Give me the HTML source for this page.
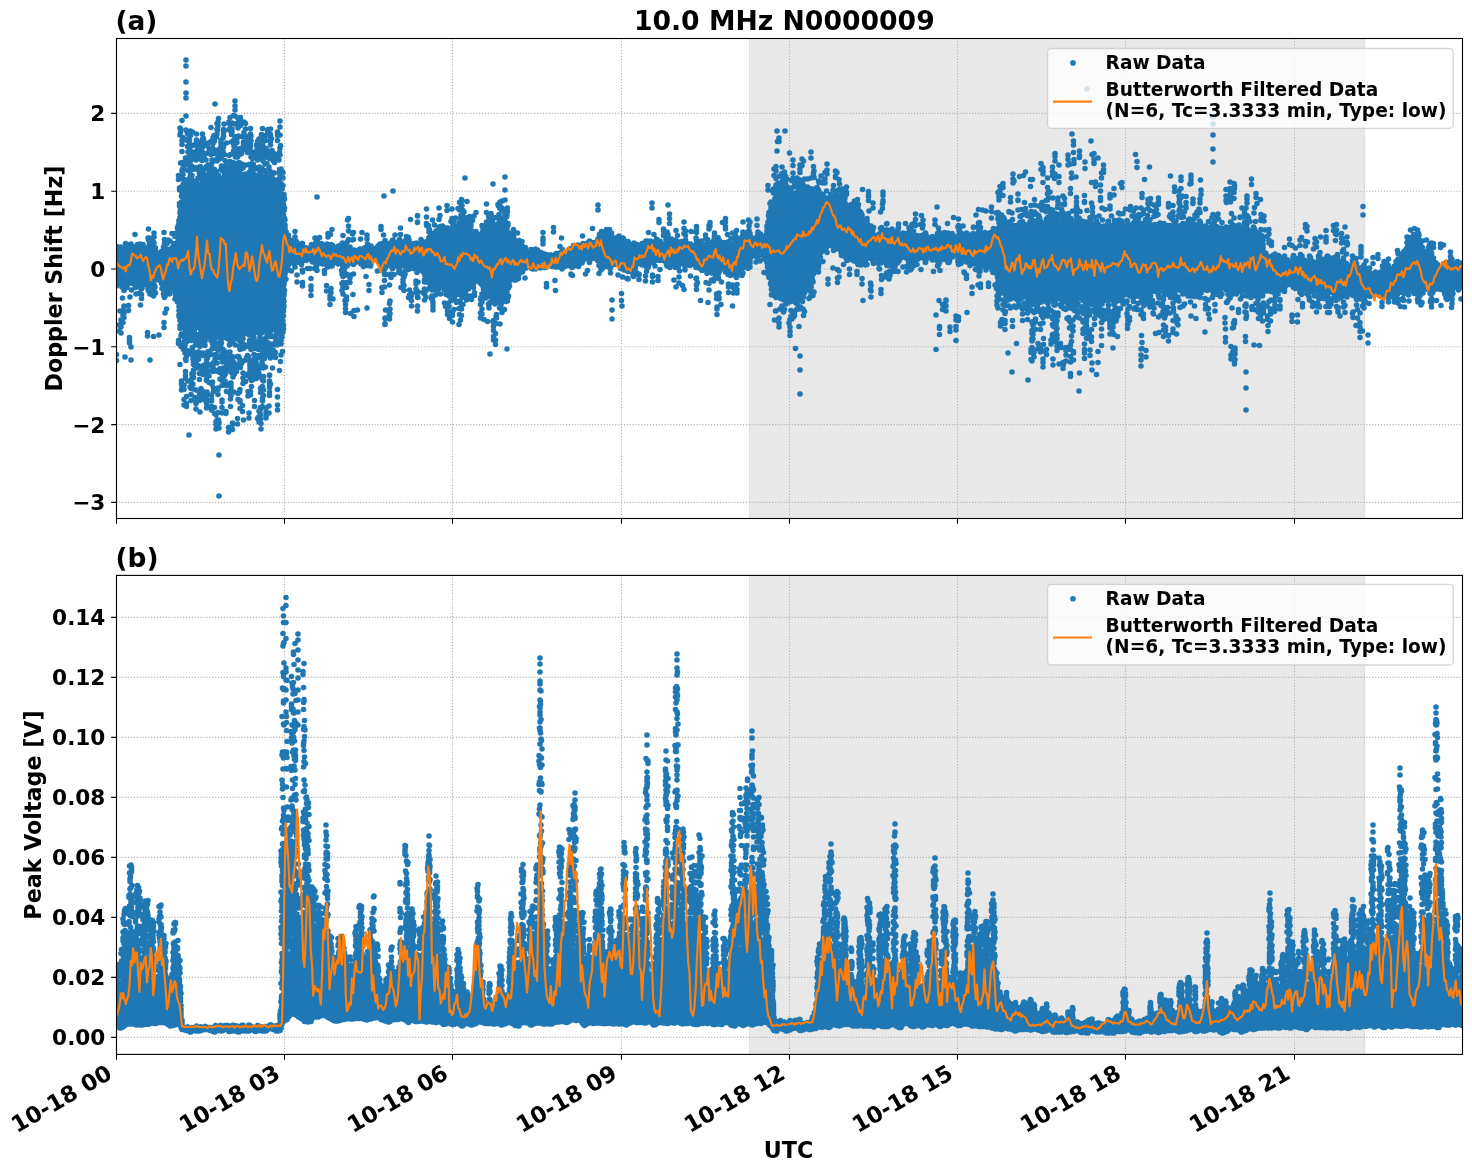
<!DOCTYPE html><html><head><meta charset="utf-8"><title>10.0 MHz N0000009</title><style>html,body{margin:0;padding:0;background:#fff;overflow:hidden}svg{display:block}</style></head><body><svg width="1472" height="1172" viewBox="0 0 1472 1172" style="font-family:'DejaVu Sans','Liberation Sans',sans-serif;font-weight:bold"><rect width="1472" height="1172" fill="#fff"/><defs><clipPath id="ca"><rect x="116.5" y="38.5" width="1346.0" height="480.0"/></clipPath><clipPath id="cb"><rect x="116.5" y="575.4" width="1346.0" height="479.0000000000001"/></clipPath></defs><rect x="749" y="38.5" width="616" height="480" fill="#e8e8e8"/><path d="M749.5 38.5V518.5M1364.5 38.5V518.5" stroke="#dfdfdf" stroke-width="1"/><path d="M284.5 38.5V518.5M452.5 38.5V518.5M621.5 38.5V518.5M789.5 38.5V518.5M957.5 38.5V518.5M1125.5 38.5V518.5M1294.5 38.5V518.5M116.5 113.42H1462.5M116.5 191.21H1462.5M116.5 269.01H1462.5M116.5 346.8H1462.5M116.5 424.6H1462.5M116.5 502.4H1462.5" stroke="#b0b0b0" stroke-width="1.1" stroke-dasharray="1.1 1.8" fill="none"/><g clip-path="url(#ca)"><path d="M116.5 244v44m1-43v43m1-43v42m1-41v39m0 38v12m1-90v44m1-44v44m1-43v45m0 14v20m1-78v45m0 12v15m1-77v50m0 12v15m1-72v45m1-50v48m1-48v48m1-47v46m0 14v10m0 22v10m1-98v38m0 50v10m1-103v43m0 51v13m1-102v38m1-38v39m1-41v46m1-46v45m1-46v46m1-47v46m1-46v45m1-45v46m1-47v48m1-48v49m1-48v48m0 1v8m1-57v48m1-48v42m1-38v40m1-40v40m1-41v41m1-42v48m0 37v8m1-102v60m0 34v8m1-102v60m1-59v59m1-60v61m1-61v62m1-67v61m1-61v8m0 1v58m1-52v37m0 1v13m1-51v36m1-31v31m1-28v28m1-31v33m1-34v35m1-36v37m1-41v54m1-61v61m0 21v9m1-92v63m1-62v61m0 8v8m1-76v55m1-56v8m0 1v48m1-47v48m1-49v49m1-49v49m1-51v46m1-49v49m1-49v54m1-65v8m0 2v60m1-59v61m1-79v80m1-85v89m1-135v9m0 20v12m0 2v106m0 16v8m1-220v11m0 64v122m0 16v9m1-222v11m0 63v131m0 48v8m1-260v19m0 21v14m0 2v8m0 9v130m0 49v13m1-257v11m0 21v24m0 1v138m0 49v13m1-232v170m0 1v24m0 28v9m1-236v14m0 8v151m0 1v25m1-194v8m0 9v8m0 6v171m0 6v12m0 14v13m1-230v169m0 2v14m0 7v13m0 18v8m1-272v17m0 25v165m0 57v8m1-272v18m0 1v10m0 15v158m1-210v8m0 1v35m0 1v158m0 1v9m1-213v214m0 34v14m1-262v8m0 5v201m0 3v14m0 12v19m1-218v169m0 3v21m0 2v12m1-201v153m0 1v9m0 2v23m0 1v12m1-201v153m0 1v9m0 8v16m0 1v8m0 20v10m1-267v8m0 4v12m0 17v153m0 1v14m0 4v19m0 26v9m1-267v24m0 14v154m0 21v19m0 26v9m1-267v24m0 14v152m0 22v12m1-223v22m0 4v165m0 61v11m1-258v17m0 4v16m0 2v166m0 42v12m1-260v19m0 2v16m0 4v165m0 37v16m1-265v25m0 7v156m0 1v13m0 48v8m1-263v31m0 2v160m0 2v20m0 17v13m1-245v30m0 5v176m0 21v12m0 13v13m1-266v8m0 8v9m0 4v183m0 20v8m0 15v13m1-252v10m0 14v172m0 3v13m0 2v11m0 14v19m1-236v169m0 7v15m0 8v10m0 7v20m1-269v9m0 13v8m0 2v166m0 10v35m0 6v20m1-269v14m0 8v177m0 22v11m1-227v10m0 7v9m0 1v169m1-183v12m0 2v172m0 48v10m1-267v9m0 2v9m0 2v12m0 3v173m0 16v11m0 7v9m0 4v10m0 1v8m1-278v22m0 2v8m0 6v174m0 15v12m0 7v17m1-264v23m0 16v168m0 1v9m0 11v12m0 7v14m1-261v12m0 2v8m0 12v10m0 1v169m0 5v9m0 4v8m1-240v10m0 24v183m0 2v12m1-243v18m0 29v172m0 1v11m0 66v8m1-309v22m0 14v10m0 7v169m0 79v13m1-315v16m0 15v16m0 10v166m0 2v12m0 33v11m1-258v22m0 12v175m0 18v9m1-237v23m0 3v8m0 4v172m0 18v10m1-241v25m0 4v9m0 4v174m0 1v12m0 3v10m1-249v30m0 6v10m0 7v183m0 2v22m1-261v13m0 2v14m0 8v175m0 8v17m0 2v12m1-250v11m0 3v15m0 1v180m0 10v15m0 2v13m1-215v177m0 9v28m0 2v9m1-225v177m0 10v26m0 4v8m1-210v162m0 16v18m1-202v170m0 13v15m1-254v16m0 40v158m0 2v15m0 8v15m0 11v8m0 1v11m1-280v15m0 29v182m0 8v20m0 6v20m1-274v10m0 28v15m0 1v163m0 10v21m0 6v20m1-274v9m0 3v9m0 19v178m0 9v25m0 42v11m1-305v28m0 5v163m0 1v22m0 9v24m1-275v8m0 22v25m0 2v10m0 1v151m0 2v22m0 12v19m1-274v8m0 22v25m0 2v10m0 6v163m0 21v15m1-230v13m0 3v179m0 22v11m1-258v14m0 4v11m0 2v12m0 6v177m1-226v14m0 17v12m0 1v176m0 52v8m1-276v9m0 31v175m0 9v8m0 3v14m0 18v8m1-280v13m0 33v27m0 2v139m0 1v13m0 1v8m0 4v14m1-198v158m0 1v13m0 17v8m0 35v10m1-252v8m0 3v178m0 25v10m1-258v11m0 1v15m0 7v8m0 3v178m0 20v15m1-259v11m0 2v12m0 20v164m0 7v8m0 20v14m1-213v13m0 2v148m0 19v8m1-228v10m0 2v9m0 17v8m0 2v152m0 19v8m1-227v21m0 17v164m0 17v8m0 28v9m1-259v16m0 15v167m0 2v9m0 6v15m0 20v9m1-259v12m0 16v170m0 1v13m0 4v26m0 8v8m1-258v20m0 3v176m0 1v12m0 7v24m0 7v8m1-258v21m0 1v190m0 7v18m1-226v10m0 1v190m0 7v13m1-221v10m0 2v188m0 2v19m1-208v14m0 1v173m0 1v29m1-203v157m0 6v10m0 7v22m1-240v22m0 11v161m0 7v9m0 10v20m1-243v25m0 14v10m0 1v146m0 27v20m0 35v9m1-287v13m0 1v11m0 3v8m0 2v9m0 3v159m0 18v15m0 35v10m1-287v24m0 4v177m0 22v15m0 26v20m1-288v21m0 7v178m0 43v9m0 10v21m1-294v31m0 3v183m0 2v18m0 44v13m1-288v25m0 11v161m0 2v33m0 5v8m0 1v9m0 1v9m1-264v12m0 1v14m0 14v154m0 10v11m0 19v9m0 10v10m1-252v15m0 9v159m0 2v19m1-222v10m0 3v11m0 18v158m0 2v21m0 50v14m1-292v10m0 8v13m0 11v179m0 57v14m1-293v10m0 14v9m0 15v164m0 1v9m1-222v11m0 14v8m0 24v154m0 41v10m1-240v12m0 4v8m0 1v164m0 3v8m0 1v10m0 19v19m1-266v15m0 2v12m0 8v169m0 41v10m1-257v15m0 7v8m0 8v168m1-190v15m0 8v161m0 16v11m1-210v15m0 18v150m1-181v14m0 17v152m0 1v12m1-195v8m0 21v162m0 7v9m1-207v8m0 19v168m0 4v8m1-229v13m0 10v8m0 17v164m1-174v167m0 2v9m1-203v19m0 5v167m0 1v11m1-203v14m0 10v11m0 1v154m0 1v12m1-179v12m0 2v145m0 1v19m1-179v8m0 7v9m0 1v153m1-153v126m0 1v15m1-142v126m0 5v10m1-140v8m0 3v8m0 2v73m0 2v8m1-73v10m0 2v45m1-51v42m1-39v39m1-39v34m1-30v28m1-26v25m1-25v26m1-29v29m1-30v34m1-29v29m1-33v29m1-25v25m1-24v23m1-21v19m1-20v24m1-24v25m1-26v26m0 13v8m1-46v21m1-18v17m1-16v17m1-17v17m1-17v16m1-15v14m1-17v17m1-18v20m0 21v8m1-50v22m0 20v8m1-49v21m1-21v21m1-28v35m1-35v36m1-36v37m1-34v34m1-37v28m1-29v30m1-23v23m1-24v25m1-24v24m1-23v23m1-22v20m0 4v8m1-33v24m1-25v27m1-38v8m0 3v27m1-38v8m0 3v27m1-26v25m0 23v10m1-58v25m0 18v15m1-59v26m0 18v11m1-54v25m1-25v25m1-24v18m1-16v17m1-18v21m1-22v22m1-22v22m1-23v22m1-23v24m1-25v37m0 3v14m1-54v38m0 1v16m1-55v38m0 1v16m1-54v36m0 18v10m1-63v34m0 18v20m1-71v25m0 11v10m0 5v11m1-68v30m1-23v22m1-22v21m0 7v12m1-40v20m0 8v12m1-39v20m1-18v19m1-19v19m1-19v18m1-17v16m1-17v17m1-17v16m1-16v16m1-17v19m1-19v19m1-19v20m1-20v21m1-22v23m1-24v23m1-22v21m1-34v8m0 1v26m1-35v8m0 1v26m1-26v25m1-23v24m1-24v24m1-24v24m1-23v22m1-20v15m1-16v15m1-14v14m1-16v17m1-18v19m1-20v23m1-24v25m1-43v8m0 10v25m1-43v8m0 10v25m0 18v9m1-53v32m0 12v10m1-56v38m1-39v39m1-38v37m1-37v31m1-28v24m0 42v9m1-75v25m0 41v13m1-79v26m0 39v14m1-81v29m0 38v14m1-83v32m0 2v8m1-42v33m1-33v32m1-31v30m1-28v27m1-25v24m1-28v35m1-36v37m1-38v38m1-37v37m1-36v28m1-24v24m0 5v20m1-53v29m0 2v23m1-54v49m1-53v43m1-44v38m1-37v37m1-37v37m1-36v35m0 17v14m1-64v29m0 21v14m1-59v23m0 25v12m1-61v28m1-29v30m1-29v28m1-29v28m0 18v8m1-54v28m0 18v12m1-58v28m0 19v12m1-58v28m1-28v29m1-33v34m1-29v30m1-35v36m1-33v36m0 10v9m1-56v44m0 3v15m1-62v44m0 3v15m1-63v45m1-48v48m1-61v11m0 1v48m1-59v10m0 1v56m1-55v55m1-60v61m0 2v18m1-81v61m0 2v18m1-81v61m0 3v17m1-82v62m1-63v63m1-63v63m1-62v62m1-61v61m1-79v8m0 10v60m1-78v8m0 3v66m1-66v65m1-65v67m1-67v68m1-67v67m1-66v71m0 4v8m1-106v10m0 13v71m1-94v10m0 13v71m0 4v16m1-91v67m0 8v15m1-89v66m0 6v10m1-83v78m1-88v10m0 1v69m0 14v9m1-103v86m0 6v10m1-101v84m0 6v10m1-101v76m0 1v10m1-87v77m0 3v8m1-80v68m1-68v72m1-75v70m1-77v78m0 26v8m1-128v9m0 6v78m0 8v12m1-114v15m0 1v85m0 2v11m0 2v9m1-119v95m0 4v9m1-96v84m1-84v86m1-86v87m1-86v80m1-80v76m0 1v9m1-87v76m1-77v77m1-76v74m1-74v74m0 5v8m1-87v74m1-75v8m0 8v60m1-60v51m0 9v8m1-88v8m0 12v52m1-53v54m1-53v53m1-50v51m1-51v52m1-54v55m0 6v15m0 4v9m1-90v58m0 4v14m0 1v13m1-97v82m1-81v74m1-72v73m1-79v80m1-80v80m1-89v8m0 1v79m1-88v9m0 1v78m0 2v9m1-98v8m0 1v77m0 2v10m1-99v99m1-99v93m1-92v91m0 15v10m0 6v8m1-126v89m0 13v24m1-118v82m0 8v14m0 1v13m1-119v83m0 7v12m0 13v9m1-125v84m1-86v83m1-103v10m0 2v92m1-104v11m0 1v98m1-110v12m0 1v97m1-106v8m0 4v93m1-92v89m1-100v97m1-95v95m1-95v11m0 1v83m1-97v13m0 1v83m1-97v13m0 2v82m1-82v72m0 1v9m1-72v59m1-58v56m1-60v53m1-54v55m1-55v55m1-50v50m1-46v46m1-42v35m1-36v37m1-38v43m1-43v38m1-32v32m1-32v30m1-30v30m1-29v29m1-28v27m1-27v24m1-24v24m1-20v19m1-18v17m1-20v21m1-22v23m1-23v24m1-23v23m1-23v23m1-24v24m1-24v24m1-24v24m1-23v22m1-22v21m1-20v21m1-20v20m1-20v20m1-34v10m0 5v18m1-33v10m0 6v18m1-18v18m1-18v18m0 11v8m1-37v17m0 12v8m1-36v12m0 16v8m1-35v12m1-13v13m1-13v15m1-15v16m1-15v15m1-44v9m0 20v14m1-16v17m1-17v17m1-17v17m1-18v18m1-18v18m1-18v18m1-25v26m1-25v26m1-24v24m1-23v23m1-22v20m1-19v19m1-20v19m1-20v20m1-21v21m1-21v21m1-21v22m1-22v23m1-26v26m1-27v26m1-25v24m1-23v22m1-19v17m1-22v26m1-26v26m1-26v25m1-24v21m1-23v23m1-24v24m1-23v22m1-22v20m1-20v19m1-20v19m1-20v20m1-21v25m1-25v26m1-26v25m1-24v20m1-20v21m1-21v21m1-20v19m1-20v22m1-25v26m1-26v26m1-30v35m1-38v38m1-39v46m1-46v43m1-35v35m1-35v29m1-32v30m1-32v37m1-42v42m1-41v40m1-36v38m1-43v43m1-43v43m1-39v39m1-39v38m1-32v30m1-31v31m1-31v31m1-31v30m1-32v33m1-33v32m1-32v36m1-35v36m1-35v34m1-34v35m1-35v36m1-36v36m1-34v34m1-32v33m1-34v35m1-35v35m1-34v33m1-30v30m1-30v30m1-32v32m1-32v32m1-32v32m1-31v35m1-34v26m1-26v23m1-23v23m1-22v20m1-22v25m1-26v26m1-26v26m1-25v25m1-27v23m1-24v30m1-30v39m1-39v34m1-34v31m1-31v29m1-29v25m1-25v25m1-24v24m1-24v24m1-25v23m1-25v26m1-26v25m1-25v25m0 12v9m1-66v8m0 13v25m0 11v9m1-66v8m0 14v24m1-24v23m1-22v22m1-35v10m0 5v21m1-36v11m0 4v21m1-36v10m0 1v28m1-32v33m1-37v38m1-38v38m1-38v39m1-52v9m0 11v32m1-52v8m0 12v32m1-32v32m1-32v30m1-29v28m1-28v27m1-27v32m1-42v9m0 1v32m1-31v30m1-29v33m1-33v33m1-34v28m1-28v27m1-26v25m0 18v8m1-65v10m0 3v32m1-45v11m0 1v34m1-45v45m1-34v33m1-30v24m1-23v25m1-25v25m1-25v25m1-25v25m1-24v23m1-22v23m1-24v26m1-44v9m0 2v34m0 6v15m1-67v11m0 1v34m0 6v16m1-67v9m0 2v33m0 7v11m1-45v28m1-31v32m1-32v33m1-33v34m1-33v32m1-29v29m1-39v8m0 1v30m1-39v8m0 1v33m1-42v42m1-38v38m1-54v10m0 6v38m1-55v11m0 7v35m1-53v10m0 11v33m1-34v35m1-40v40m1-44v45m1-45v52m1-52v51m1-46v43m1-43v44m0 12v9m1-66v46m1-45v44m0 11v10m1-62v35m1-29v27m1-27v25m1-29v28m1-53v8m0 17v27m1-52v15m0 10v33m1-33v35m1-36v37m1-37v37m1-40v40m1-35v36m1-36v35m1-35v33m1-33v33m1-43v46m1-45v46m0 8v8m1-61v46m0 2v13m1-60v44m0 8v8m1-58v41m1-41v37m1-38v41m1-47v47m1-47v47m1-47v47m1-47v39m1-32v27m1-30v28m1-33v42m1-47v47m1-53v52m1-41v40m1-37v32m1-28v22m1-22v22m1-20v20m1-23v24m1-28v28m1-29v34m1-34v29m1-28v27m1-26v25m1-25v23m1-19v19m1-19v25m1-28v28m1-36v40m1-41v46m1-59v8m0 1v59m1-69v69m1-78v85m1-86v92m1-92v97m1-110v8m0 5v97m1-110v8m0 6v96m1-110v16m0 1v95m1-135v9m0 10v117m1-136v9m0 4v123m1-164v8m0 37v8m0 1v8m0 2v94m1-158v8m0 45v10m0 2v98m0 22v8m1-193v8m0 45v107m0 25v8m1-148v120m0 20v8m1-158v130m0 3v9m1-142v124m0 9v10m1-144v24m0 1v107m0 2v10m1-144v15m0 1v8m0 1v111m1-136v15m0 1v120m1-132v15m0 1v116m1-121v8m0 1v106m1-115v8m0 1v110m0 14v10m1-142v118m0 11v23m1-152v118m0 18v11m1-146v117m1-128v8m0 1v118m1-127v13m0 3v109m0 9v10m1-143v12m0 2v113m0 5v10m1-142v8m0 6v114m0 3v10m1-142v11m0 2v111m1-124v124m0 2v9m1-134v124m0 2v8m1-148v12m0 9v114m1-135v12m0 9v119m1-124v124m1-146v10m0 14v123m1-127v11m0 1v110m0 8v11m1-136v117m1-114v110m1-110v17m0 1v89m1-107v107m1-107v107m1-106v97m0 1v9m1-106v95m0 1v17m1-113v111m1-128v9m0 15v95m0 1v8m1-134v16m0 14v90m0 6v8m1-129v11m0 8v88m1-90v89m1-90v89m1-89v89m1-88v88m1-86v86m1-83v77m1-76v72m1-66v56m1-56v54m1-75v8m0 12v55m1-75v8m0 11v53m1-81v8m0 20v53m1-81v8m0 20v53m1-52v49m1-53v54m1-55v55m1-54v55m1-54v58m1-69v9m0 3v58m1-60v59m1-83v11m0 12v60m1-83v10m0 10v62m1-63v63m0 24v9m1-106v8m0 8v57m0 24v9m1-107v9m0 9v61m1-60v61m1-70v71m1-71v70m1-70v71m1-67v68m1-69v72m1-72v9m0 2v62m1-60v60m1-60v59m1-59v58m1-59v59m1-59v59m1-58v59m1-63v64m1-64v64m1-64v65m1-66v68m0 3v8m1-80v70m0 2v8m1-75v65m1-60v59m1-56v51m1-51v51m1-50v55m1-49v49m1-48v49m1-50v50m1-51v51m1-77v8m0 18v45m1-72v14m0 14v43m1-70v8m0 25v36m1-35v36m0 21v12m1-69v39m1-39v41m1-40v41m1-40v39m1-31v27m1-27v26m1-27v28m1-29v34m1-35v40m1-45v39m1-40v40m0 8v9m0 5v9m1-98v15m0 13v38m1-74v20m0 26v26m1-33v35m1-36v39m0 4v8m1-51v40m0 3v8m1-51v40m1-40v40m0 1v12m1-51v36m0 3v12m1-50v36m0 2v11m1-53v41m1-41v41m1-41v47m1-44v33m0 1v10m1-44v32m0 2v9m1-41v36m1-46v43m1-43v43m1-43v9m0 1v32m1-29v28m1-31v28m1-29v28m1-28v28m1-27v27m1-27v28m1-29v29m1-28v36m1-42v42m1-43v47m1-49v49m1-50v50m1-43v42m1-42v41m1-41v39m1-51v11m0 6v33m1-34v33m1-33v33m1-32v27m1-26v25m1-26v25m1-26v27m1-27v26m1-27v31m1-32v33m1-33v34m1-34v33m1-30v29m1-27v23m1-23v23m1-23v25m1-26v27m1-28v28m1-27v27m1-26v26m1-27v27m1-30v30m1-31v37m1-42v42m1-42v41m1-36v35m1-32v22m1-25v25m0 46v10m1-82v31m1-31v32m0 36v10m1-77v30m1-29v32m1-33v33m1-33v34m1-34v34m0 60v9m1-102v32m0 61v8m1-101v27m1-28v28m1-27v27m1-25v24m1-22v20m0 58v8m0 2v8m1-96v29m0 49v8m0 2v8m1-108v42m1-43v44m0 48v8m1-100v43m1-38v38m1-37v36m1-34v34m1-33v28m1-28v31m1-32v33m0 6v10m1-49v33m1-33v33m1-32v31m1-30v35m1-35v35m1-36v31m1-32v34m1-34v35m1-34v34m1-32v32m1-35v35m1-45v47m1-48v58m1-58v58m0 4v8m1-70v53m0 9v8m1-64v46m0 10v8m1-59v30m1-30v30m1-31v41m1-41v42m1-41v41m1-40v34m1-35v37m0 13v8m1-59v39m1-64v8m0 17v42m1-67v9m0 14v46m1-47v48m1-49v49m1-44v43m1-42v43m0 24v8m1-96v10m0 12v46m0 2v12m0 1v16m1-120v12m0 8v11m0 5v84m1-121v13m0 8v15m0 1v76m1-118v10m0 17v91m1-118v9m0 20v83m0 22v10m1-115v8m0 1v73m0 23v10m1-115v8m0 2v71m0 5v8m1-126v9m0 32v73m0 3v9m1-92v92m0 11v8m1-110v92m1-86v80m1-81v81m1-82v82m1-82v81m1-106v9m0 14v83m1-79v79m1-124v8m0 44v70m1-122v8m0 43v71m1-71v73m1-78v70m1-70v71m1-71v80m1-82v77m0 1v9m1-88v77m0 1v10m1-88v82m1-82v81m1-82v81m1-80v79m0 2v10m1-104v9m0 5v78m1-93v11m0 5v77m0 2v10m1-105v11m0 6v77m0 7v8m1-92v92m1-94v94m1-101v100m1-104v102m0 34v9m1-145v97m0 22v14m0 2v10m1-132v84m0 12v9m0 1v14m0 2v9m1-131v83m0 14v8m0 18v8m1-135v87m0 11v10m0 22v10m1-140v95m1-96v95m1-101v10m0 2v88m1-99v100m0 28v12m1-140v92m0 1v9m0 31v8m1-140v90m0 42v8m1-193v15m0 24v12m0 5v87m0 4v11m0 27v8m1-192v14m0 24v12m0 8v84m0 3v13m0 37v12m1-204v11m0 46v81m0 4v13m0 37v12m1-147v81m0 4v8m1-111v10m0 3v86m1-99v10m0 2v89m0 2v11m1-133v17m0 2v9m0 2v8m0 1v94m1-133v17m0 13v103m1-128v9m0 13v89m1-94v22m0 1v71m0 36v9m1-138v21m0 1v73m0 30v13m1-181v14m0 29v98m0 3v19m0 4v9m1-171v10m0 28v99m0 3v19m1-178v12m0 8v10m0 30v8m0 2v86m0 3v19m0 2v12m1-192v12m0 9v8m0 39v88m0 4v33m1-144v9m0 3v94m0 5v32m1-147v14m0 2v89m0 10v29m0 4v9m1-157v13m0 3v88m1-77v78m1-82v89m0 33v8m1-142v102m0 32v9m1-142v102m1-101v95m0 56v11m1-176v12m0 8v87m1-83v85m1-92v93m1-94v100m1-100v99m0 5v8m1-111v98m0 5v9m1-138v9m0 21v91m0 33v12m0 19v8m1-163v95m0 7v14m0 7v8m0 8v9m1-225v8m0 70v88m0 19v9m1-194v8m0 72v87m0 18v9m1-194v8m0 72v94m1-113v18m0 1v94m1-118v119m1-114v13m0 1v105m1-170v10m0 56v85m1-151v11m0 56v84m1-83v82m0 6v8m1-90v79m0 3v9m1-94v83m0 2v10m0 12v9m1-117v84m0 2v11m0 10v10m1-117v86m0 20v10m0 12v8m1-135v114m1-114v88m0 1v26m1-115v115m1-114v82m0 1v13m0 11v12m1-125v81m0 1v8m0 3v9m0 11v10m1-123v91m0 2v9m0 10v16m1-142v8m0 1v97m0 27v10m1-143v105m1-149v9m0 44v9m0 3v85m1-150v9m0 54v101m1-141v9m0 26v101m1-97v92m1-92v83m0 2v13m1-95v80m0 1v14m1-94v79m0 2v14m1-94v77m0 2v16m1-94v76m0 7v17m1-100v81m0 2v16m1-161v12m0 49v82m0 2v15m1-160v12m0 49v79m1-79v79m0 7v10m1-100v82m0 6v13m1-102v82m0 2v17m1-101v83m0 1v27m1-138v8m0 19v83m0 14v14m1-105v76m0 15v14m1-107v79m0 8v10m0 1v8m1-106v83m0 4v10m0 1v8m1-106v84m0 1v21m1-111v111m1-111v105m1-104v85m0 2v17m1-104v84m0 7v12m1-104v85m0 5v11m1-101v84m0 5v10m1-136v8m0 30v84m1-123v10m0 29v86m1-124v9m0 29v87m1-86v86m1-83v74m1-74v74m1-78v78m0 11v18m1-107v77m0 10v25m1-107v73m0 15v14m1-102v74m0 17v11m1-122v8m0 11v75m1-76v77m1-78v82m1-84v85m1-86v86m1-90v85m1-86v85m0 4v10m1-89v74m1-75v76m1-77v78m1-78v78m1-108v9m0 21v83m1-113v9m0 7v9m0 5v82m0 5v12m1-112v8m0 6v85m0 5v9m1-98v84m0 5v9m1-104v90m1-89v87m1-107v8m0 13v87m1-109v9m0 12v91m1-113v9m0 20v73m0 1v10m1-113v10m0 18v74m1-75v75m0 1v9m1-85v71m0 4v11m1-100v9m0 5v70m0 6v11m1-88v71m0 9v8m1-88v72m1-91v9m0 11v70m1-97v11m0 1v9m0 8v67m1-96v11m0 14v70m1-95v10m0 15v78m1-73v67m1-68v68m1-71v70m0 2v19m1-84v85m1-93v80m0 8v11m0 3v9m1-110v75m0 12v11m0 5v12m1-114v72m0 11v13m0 6v12m1-136v8m0 15v72m0 9v11m1-115v8m0 14v76m1-98v8m0 3v8m0 3v77m1-88v9m0 2v77m1-89v10m0 3v71m1-85v82m0 35v8m1-150v8m0 17v89m0 7v8m0 13v8m1-150v9m0 25v85m1-119v8m0 26v83m1-83v75m0 20v12m1-100v65m0 23v13m1-133v11m0 22v64m0 4v8m1-109v25m0 5v68m1-117v8m0 11v26m0 3v70m1-71v74m1-75v75m1-86v9m0 2v75m1-86v9m0 3v73m1-95v13m0 9v71m1-93v10m0 9v75m1-76v80m1-81v81m1-81v81m1-125v13m0 31v81m1-125v12m0 34v79m1-101v8m0 12v76m1-96v8m0 17v76m1-85v8m0 2v76m1-69v69m1-89v8m0 12v69m1-91v10m0 6v74m1-91v10m0 2v10m0 1v64m1-97v8m0 2v8m0 4v9m0 1v65m1-106v17m0 2v8m0 4v76m1-75v75m1-64v64m1-71v68m1-68v68m0 11v8m1-87v68m0 10v9m1-87v69m1-68v68m1-67v66m1-67v66m1-68v69m1-70v72m1-82v88m1-87v86m1-82v81m1-73v71m1-72v72m1-71v72m1-72v73m1-72v73m1-73v73m1-73v72m1-64v56m1-57v57m1-58v59m1-61v62m0 43v9m1-150v11m0 20v71m1-71v71m1-71v71m1-110v18m0 22v75m1-115v18m0 16v80m0 52v9m1-174v17m0 16v80m0 51v10m1-140v76m0 22v11m0 15v16m1-180v13m0 29v72m0 23v12m0 17v9m0 2v8m1-185v13m0 30v72m0 22v11m0 17v20m1-184v8m0 34v72m0 50v20m1-142v72m0 51v9m1-132v72m1-73v72m0 12v8m1-92v70m1-69v70m1-69v68m1-67v67m1-68v67m1-82v9m0 1v72m1-81v8m0 1v77m0 13v10m0 14v10m1-150v11m0 15v78m0 12v11m1-127v11m0 9v84m0 13v9m1-106v13m0 1v70m1-82v8m0 4v71m1-70v71m1-69v69m0 4v8m1-87v74m1-74v73m1-73v72m1-106v9m0 26v67m1-101v8m0 30v76m1-75v77m1-77v78m1-81v73m0 1v18m1-108v11m0 4v70m0 6v16m1-107v11m0 10v65m0 8v17m1-90v65m0 8v9m1-81v64m0 3v14m1-72v53m0 10v9m1-65v42m1-41v42m1-41v41m0 21v8m1-94v10m0 23v31m1-65v9m0 2v8m0 15v32m0 14v10m1-78v8m0 13v34m0 13v9m1-57v35m0 13v9m1-63v41m1-41v43m0 8v9m1-61v62m1-62v46m0 1v14m1-60v45m1-44v43m1-44v43m1-42v42m1-41v37m1-36v36m1-37v37m1-38v39m1-39v40m1-40v39m1-37v33m1-32v30m1-29v28m1-26v26m1-26v27m1-32v33m1-34v35m0 24v11m1-71v37m1-37v37m1-36v37m1-35v35m1-33v33m1-35v38m1-41v42m1-43v44m1-43v44m1-43v42m0 5v8m1-54v36m1-33v33m1-69v11m0 6v9m0 10v37m1-72v10m0 7v8m0 11v37m1-72v9m0 26v39m1-39v43m1-48v48m1-48v40m0 2v8m1-49v38m0 6v9m1-49v35m0 6v9m1-50v39m1-62v15m0 10v29m1-54v14m0 10v31m1-31v33m1-39v41m0 1v12m1-57v44m0 1v13m1-59v51m1-51v51m1-45v40m1-39v38m1-38v44m1-44v43m1-65v9m0 11v46m1-66v9m0 10v49m1-68v9m0 10v49m1-43v44m1-49v40m0 3v11m1-53v39m0 2v12m1-53v38m0 3v10m1-46v35m1-73v11m0 28v36m1-43v47m1-74v8m0 20v47m1-75v9m0 16v50m0 1v9m1-85v8m0 16v50m0 3v9m1-61v49m0 3v13m1-58v41m1-41v40m1-69v14m0 14v41m1-64v9m0 11v43m1-43v42m0 2v9m1-53v42m0 2v9m1-49v38m1-37v38m1-37v37m1-36v31m1-30v29m1-28v31m1-37v38m1-43v44m0 12v10m1-61v39m1-41v40m1-41v45m1-44v45m1-40v40m0 1v9m1-49v38m1-56v14m0 7v34m0 20v9m1-85v15m0 7v35m0 20v8m1-85v15m0 7v35m1-37v37m1-38v47m1-50v50m1-51v46m1-39v37m1-36v29m1-30v32m1-32v32m1-32v32m1-27v27m1-26v22m1-21v21m1-24v25m1-25v26m1-26v25m1-43v9m0 10v23m1-42v9m0 11v21m1-23v28m1-28v28m1-34v35m0 1v8m1-44v35m0 1v8m1-48v10m0 1v28m1-28v25m1-26v26m1-37v9m0 1v28m1-39v9m0 1v36m1-47v47m1-35v35m1-32v24m1-25v27m1-33v34m1-35v40m1-40v40m1-44v44m1-46v43m1-44v48m1-48v39m0 1v8m1-47v37m0 2v11m1-48v34m1-42v42m1-43v44m1-46v54m1-55v47m1-48v48m1-60v59m1-59v62m1-61v61m1-62v57m1-51v52m1-55v54m1-59v62m1-63v64m1-63v63m1-63v62m1-57v56m0 1v9m1-76v66m0 1v9m1-76v65m0 2v9m1-72v60m1-54v54m1-53v58m1-53v52m1-50v49m1-46v45m1-45v43m1-43v37m1-36v41m1-48v48m1-49v49m1-50v55m0 1v12m1-68v68m1-68v55m0 1v12m1-67v8m0 3v42m1-39v38m1-34v31m1-31v30m1-29v30m1-29v29m1-49v8m0 13v28m1-49v8m0 16v26m1-26v25m1-25v27m1-30v33m1-35v38m1-39v41m1-41v42m1-42v34m1-34v34m1-44v45m1-45v51m1-46v55m1-54v53m1-51v43m1-38v27m1-26v24m1-29v30m1-30v33m1-32v32m1-31v31m1-31v30m1-30v28m1-28v28" stroke="#1f77b4" stroke-width="1.2" fill="none"/><path d="M116 250h0m0 4h0m0.5 0.5h0m0 1h0m-0.5 0h0m0.5 0.5h0m0 0.5h0m-0.5 0h0m0.5 0.5h0m0 0.5h0m-0.5 0h0m0 1.5h0m0.5 1h0m0 0.5h0m-0.5 0.5h0m0 0h0m0.5 1.5h0m0 1h0m0 0h0m0 0.5h0m-0.5 0h0m0.5 0.5h0m0 1h0m0 1.5h0m-0.5 0h0m0.5 0.5h0m-0.5 0h0m0.5 1h0m-0.5 1.5h0m0.5 1h0m-0.5 0h0m0 0.5h0m0 0.5h0m0 0.5h0m0.5 0.5h0m0 0h0m-0.5 4h0m0.5 0h0m-0.5 0.5h0m0.5 2.5h0m-0.5 1h0m0 0.5h0m0 0.5h0m0 3.5h0m0.5 0.5h0m0.5-39.5h0m0.5 4h0m-1 0.5h0m0 1h0m0 2h0m0 1h0m0.5 0h0m-0.5 1h0m0.5 0.5h0m0 0.5h0m-0.5 0h0m0 0h0m0.5 0h0m0 1h0m0 0.5h0m-0.5 0.5h0m0.5 0.5h0m-0.5 0.5h0m0.5 0.5h0m0 0.5h0m0 0.5h0m-0.5 0h0m1 0.5h0m-0.5 0h0m0 0.5h0m0.5 0h0m0 0h0m0 0.5h0m0 0.5h0m-0.5 0h0m0 1h0m-0.5 0h0m0.5 0h0m0 0.5h0m0.5 0h0m-0.5 0h0m0 0.5h0m0.5 0.5h0m-0.5 0h0m0 0h0m0 0.5h0m0.5 0h0m-0.5 0h0m0 0.5h0m0.5 0h0m0 0.5h0m-0.5 0h0m0.5 0h0m-0.5 0.5h0m0.5 0h0m-0.5 0.5h0m-0.5 0h0m1 0h0m0 0.5h0m-0.5 1h0m0.5 0h0m-0.5 1h0m0 0h0m0.5 0h0m0 0h0m0 1h0m-1 0h0m0 0h0m0.5 0h0m0.5 0.5h0m0 0h0m-0.5 0h0m0.5 1h0m-1 0.5h0m1 1h0m0 0.5h0m0 0h0m-0.5 0.5h0m0 2h0m-0.5 1h0m0 0.5h0m1 0h0m0 3h0m-0.5 1h0m-0.5 1h0m0 0.5h0m0 69.5h0m0 6h0m1.5-109h0m0 3.5h0m0 0.5h0m0 1h0m0 1h0m0 2h0m0.5 0.5h0m-0.5 0h0m0.5 0h0m-1 0h0m0 0h0m0.5 1h0m0 0.5h0m0 0.5h0m0 0h0m-0.5 0h0m0 0.5h0m0.5 0h0m0.5 0.5h0m-1 0h0m1 0.5h0m-0.5 0h0m0.5 0h0m0 0.5h0m-0.5 0h0m0.5 0.5h0m-0.5 0h0m0 0.5h0m0 0h0m0.5 0.5h0m-0.5 0h0m0 0.5h0m-0.5 0h0m0 0.5h0m0 0h0m0.5 0h0m0.5 0.5h0m-0.5 0h0m0 0h0m0 0h0m0 0.5h0m0 0h0m0.5 0h0m-0.5 0h0m0.5 0.5h0m-0.5 0.5h0m-0.5 0h0m0.5 0.5h0m0 0h0m-0.5 1h0m0.5 0h0m0 0h0m0 0h0m0.5 0.5h0m0 0h0m0 0h0m-0.5 0h0m0 0h0m0 0.5h0m0 0h0m-0.5 0.5h0m0 0.5h0m0.5 0h0m0 0h0m-0.5 0h0m0 0.5h0m0 0h0m0 1.5h0m0.5 0h0m-0.5 0.5h0m0.5 1.5h0m0.5 1.5h0m0 0h0m0 0h0m-1 1.5h0m0.5 4.5h0m0.5-31h0m0 1.5h0m0 7h0m0 1h0m0 2h0m0 1h0m0.5 0h0m-0.5 0.5h0m0.5 0.5h0m-0.5 1h0m0 0.5h0m0.5 0.5h0m-0.5 0h0m0 0h0m0 0.5h0m0 0.5h0m0 0.5h0m0.5 0h0m-0.5 2.5h0m0 0.5h0m0 4.5h0m0.5 1h0m0 47h0m0 6h0m1.5-82.5h0m0 34.5h0m-0.5 28h0m1-64h0m0 36.5h0m0 36.5h0m0 7h0m0 6h0m1-46h0m0.5 11h0m0.5-48.5h0m0 61h0m0 5h0m0 7h0m1.5-74h0m0 0h0m0 39.5h0m-0.5 2.5h0m0 15.5h0m0 0.5h0m0 6.5h0m0 4.5h0m1.5-74h0m-0.5 113.5h0m2-112.5h0m0.5 3h0m0 1.5h0m0 34.5h0m-0.5 4h0m1-38h0m0 34h0m1-34h0m-0.5 56h0m0 5h0m1 27h0m0 2.5h0m0 3h0m0.5-46h0m1-53h0m0 4.5h0m-0.5 1h0m0.5 33.5h0m0 0h0m0 64h0m0 13h0m0.5-70h0m3-41h0m-0.5 35h0m1-49.5h0m0 12h0m-0.5 38h0m1 3h0m0-40h0m0.5 38.5h0m0 8h0m1.5-49.5h0m1 41.5h0m0-40.5h0m0.5 41h0m-0.5 7h0m1.5-49.5h0m0.5 44h0m0 17h0m1.5-22h0m-0.5 1h0m0.5 4h0m-0.5 1h0m0 5.5h0m0 4h0m1.5-54h0m1.5 5h0m0-0.5h0m1 35.5h0m3-55.5h0m-0.5 9h0m0 9.5h0m0 41.5h0m-0.5 43.5h0m0 3.5h0m1.5-98h0m-0.5 2h0m1 2.5h0m-0.5 3.5h0m0.5 40h0m-0.5 1h0m0 0h0m-0.5 3.5h0m0 0.5h0m1.5-46.5h0m0 1.5h0m0.5 0.5h0m-1 43.5h0m0.5 4h0m0 66h0m2.5-122h0m0 0.5h0m-0.5 1h0m0 0h0m-0.5 55h0m1.5-53h0m0.5 0.5h0m-1 4h0m1 0.5h0m0 1.5h0m-0.5 34.5h0m-0.5 1h0m0.5 1h0m0 0h0m0.5 2h0m0 2h0m-1 2h0m1 5.5h0m0.5-63h0m0 4h0m0 6h0m-0.5 1.5h0m0.5 3h0m0.5 3h0m-0.5 30.5h0m-0.5 0.5h0m0.5 8h0m-0.5 47h0m2-88.5h0m-1 3h0m0 34.5h0m0.5 1.5h0m1-35h0m0 3h0m-0.5 38h0m1-37h0m0.5 0h0m0 23.5h0m0 0h0m0.5-23h0m1.5 78.5h0m1.5-78.5h0m-1 23.5h0m0.5 0.5h0m1.5-29h0m-1 3h0m0.5 0h0m-0.5 26h0m1 2.5h0m0 0.5h0m1 1h0m-0.5 4h0m1-37h0m0.5 42h0m0.5-61h0m0.5 7h0m0 3.5h0m0 3.5h0m-0.5 0h0m0 0.5h0m-0.5 0h0m0.5 1h0m0 1h0m-0.5 0.5h0m0.5 0.5h0m0 34.5h0m0 0h0m0 1h0m-0.5 4h0m0.5 0.5h0m0 1h0m0 5h0m0.5 1.5h0m-0.5 25h0m0 5h0m0.5-81.5h0m0.5 0h0m-0.5 2h0m0.5 0.5h0m-0.5 1h0m0.5 41.5h0m-0.5 0.5h0m0.5 5h0m0 16.5h0m1-72h0m-0.5 7.5h0m0.5 43h0m-0.5 0.5h0m1.5-48.5h0m-0.5 48.5h0m0 17h0m1.5-69h0m1.5 54h0m0.5-53h0m0 8h0m0 41h0m1.5-1h0m0.5-55.5h0m0.5 14h0m0.5-1h0m0.5 1.5h0m0 41.5h0m1-56h0m-0.5 10h0m1-7h0m0 53.5h0m0 2.5h0m0.5 2.5h0m-0.5 4h0m0.5-8.5h0m0.5 0.5h0m0.5 7.5h0m1-71h0m0 0.5h0m1-3h0m0 1h0m0 3h0m-0.5 2.5h0m0.5 1h0m-1 1.5h0m0 1.5h0m1 3.5h0m-0.5 2.5h0m0.5 0.5h0m0 0.5h0m-0.5 59h0m-0.5 0.5h0m1 38.5h0m0 3h0m0-168h0m0 4h0m1 8.5h0m0 2h0m0 16h0m0 14h0m-0.5 0.5h0m0 2.5h0m-0.5 9h0m0.5 7.5h0m-0.5 3h0m1 60.5h0m-0.5 3.5h0m0 4h0m0 4.5h0m0 1h0m0 0.5h0m1-188.5h0m0 7h0m0.5 28h0m-1 40.5h0m0.5 2h0m0.5 2.5h0m0 2h0m0 0h0m-0.5 3h0m0 0h0m0 4.5h0m0 0.5h0m0.5 1.5h0m-1 3h0m0 81.5h0m0.5 3h0m0.5 2h0m-0.5 1h0m0.5 0.5h0m-0.5 2h0m0 8h0m0 5h0m0 3h0m0 36h0m0.5-235.5h0m0 3.5h0m0.5 54.5h0m0.5 9.5h0m0 5.5h0m-1 1h0m0.5 12h0m0 1h0m0.5 0h0m-1 0.5h0m0.5 0.5h0m0 104.5h0m0.5 3.5h0m0 9h0m0 0.5h0m-0.5 1.5h0m0 10.5h0m0.5 34.5h0m0 2.5h0m0 0.5h0m0 6h0m0.5-269.5h0m0 20h0m0 4h0m0 7h0m0.5 11h0m0 6.5h0m0 2h0m-0.5 0h0m-0.5 5.5h0m1 2h0m0 9h0m-0.5 7h0m0 0.5h0m0 1.5h0m0 5.5h0m-0.5 125.5h0m0.5 7.5h0m-0.5 10.5h0m0.5 40.5h0m0 3h0m1-251.5h0m-0.5 26.5h0m0.5 10.5h0m0.5 9h0m-0.5 4h0m-0.5 8.5h0m0.5 1h0m0 130h0m0 0.5h0m0 7.5h0m-0.5 50.5h0m0 3.5h0m1.5-226.5h0m-0.5 6h0m1 14h0m-0.5 6.5h0m-0.5 0.5h0m0.5 4.5h0m0 1.5h0m-0.5 1h0m0.5 0.5h0m0 1.5h0m0.5 0.5h0m-1 1.5h0m1 0h0m-0.5 0.5h0m0 0h0m0.5 0h0m-0.5 141h0m0 7.5h0m-0.5 0h0m0.5 35.5h0m0 4.5h0m0 10h0m0 5.5h0m1.5-247h0m0 7h0m0 0h0m0 15h0m-1 4h0m1 143h0m-0.5 5.5h0m-0.5 4.5h0m0.5 2.5h0m0 6h0m-0.5 0h0m0.5 7.5h0m1-293h0m0 6h0m0 16h0m0 11h0m0 5h0m0 18h0m0 14h0m0 10h0m-0.5 23.5h0m0.5 16.5h0m0.5 1.5h0m0 1.5h0m-0.5 5.5h0m0 0.5h0m-0.5 137.5h0m0.5 0h0m-0.5 6.5h0m0 4.5h0m0 2h0m0.5 0.5h0m0.5 2h0m0 10.5h0m0 4h0m-1 2.5h0m0.5 1.5h0m-0.5 11h0m0 4h0m0 3h0m1.5-247h0m0 52.5h0m0.5 10.5h0m-0.5 136h0m-0.5 1.5h0m0.5 1.5h0m-0.5 63h0m0 7h0m0 3h0m1-273h0m0 5.5h0m0 1.5h0m0 6h0m0.5 5.5h0m0 5.5h0m0 0.5h0m0 4.5h0m0 1.5h0m0 6.5h0m-0.5 14.5h0m1 2h0m-0.5 0h0m0 3.5h0m-0.5 139h0m0.5 5h0m-0.5 16h0m0.5 30.5h0m1-228.5h0m0.5 31h0m-1 9h0m0.5 242.5h0m0.5-295h0m0 3.5h0m1 3h0m-1 2h0m0 0.5h0m0.5 2h0m0.5 2h0m0 1.5h0m-0.5 2.5h0m0.5 4h0m-0.5 2h0m0 5h0m0 3.5h0m0 6h0m0 152h0m0 7.5h0m0.5 16h0m-0.5 0.5h0m0 28h0m0 5.5h0m0.5-256h0m0 4.5h0m0.5 23.5h0m0.5 7h0m-1 9.5h0m1 4h0m-0.5 0.5h0m0 159h0m0 1.5h0m0.5 0h0m-0.5 48h0m0 6h0m0 6h0m1.5-255h0m-0.5 13h0m0 11h0m0 6h0m-0.5 155h0m0 3.5h0m0.5 20.5h0m0 19h0m0 1h0m0 4h0m0 5h0m0.5-251.5h0m0.5 202.5h0m-0.5 13h0m0 3.5h0m0.5 0.5h0m0 4h0m0 3.5h0m0.5 11h0m0 3h0m0 4.5h0m-0.5 6.5h0m0 5h0m0.5-237h0m0.5 5.5h0m0 10h0m0.5 1.5h0m0 161h0m-0.5 8.5h0m0 1.5h0m0 19h0m-0.5 3h0m0.5 0h0m0.5 1.5h0m-1 1h0m1.5-212.5h0m0.5 6h0m-1 23h0m0.5 147.5h0m-0.5 8h0m1 8.5h0m-0.5 8h0m0 44.5h0m0.5-253.5h0m0.5 13h0m-0.5 0.5h0m0.5 2.5h0m0 7.5h0m0 0.5h0m0 1h0m0 156.5h0m0.5 32h0m0 3.5h0m0 4h0m0 3h0m-0.5 22h0m0 10.5h0m0 3h0m0 5.5h0m0.5-275h0m0 6h0m0 1.5h0m1 1h0m0 5.5h0m0 6h0m0 0h0m-0.5 1.5h0m-0.5 25.5h0m0 2h0m1 142h0m-1 9.5h0m0.5 8.5h0m0 15.5h0m1-216.5h0m0.5 5.5h0m-0.5 0.5h0m0 0.5h0m0.5 3h0m0 7h0m-0.5 19.5h0m0.5 0.5h0m0 6h0m0 167.5h0m-0.5 0h0m-0.5 1.5h0m1 6h0m-0.5 6h0m1-219.5h0m0.5 12.5h0m-0.5 12h0m0 7h0m-0.5 0.5h0m0.5 147h0m0 14h0m0.5 28h0m0 1h0m0 5.5h0m0 6h0m0 14h0m0 3h0m0 4h0m0.5-233.5h0m0.5 3.5h0m-1 3h0m0.5 2.5h0m-0.5 0.5h0m0 2h0m0.5 145.5h0m-0.5 3.5h0m1 0.5h0m-0.5 0.5h0m0.5 0.5h0m0 5h0m-1 4.5h0m0.5 8h0m0 51.5h0m0 14h0m0.5-245.5h0m0 11h0m0 9h0m0.5 145h0m0 2.5h0m-0.5 8.5h0m1 2.5h0m-0.5 10.5h0m0 33h0m0 4h0m1.5-258.5h0m0 5.5h0m-1 5h0m0.5 1.5h0m0.5 1h0m-1 3h0m0.5 1.5h0m0.5 2h0m-0.5 7h0m0 10.5h0m0.5 6h0m0 0.5h0m0 4.5h0m0 155h0m0 16h0m0 2.5h0m0 35.5h0m0.5-253h0m0.5 1h0m-0.5 3h0m0 4.5h0m0.5 7.5h0m-1 19h0m1 0.5h0m-0.5 3h0m0.5 0h0m-0.5 8h0m0 0h0m0 138h0m0.5 32.5h0m-0.5 10.5h0m0 4h0m0 5h0m1-217h0m0.5 11.5h0m-0.5 5h0m0.5 3.5h0m-0.5 163h0m0 13h0m0.5 17.5h0m-0.5 21.5h0m0 4h0m0 3h0m1.5-245.5h0m-0.5 24h0m0 0.5h0m0 147.5h0m0.5 11h0m-0.5 3h0m0 1.5h0m0 4h0m-0.5 8h0m2-200h0m-0.5 6.5h0m0.5 6.5h0m-0.5 12.5h0m-0.5 145h0m0 30h0m1 6h0m0 43h0m0 5h0m0.5-262.5h0m0 211h0m-0.5 6h0m0 5.5h0m0 7h0m0 0.5h0m0 4h0m0 1h0m0.5 11.5h0m-0.5 4h0m0 4h0m0.5 1.5h0m0 4h0m1-262.5h0m0.5 31.5h0m-0.5 177h0m-0.5 6.5h0m1.5-210h0m-0.5 4.5h0m0.5 0.5h0m-0.5 12h0m0.5 5h0m0.5 168h0m-0.5 33h0m0 5h0m0 6.5h0m1-214.5h0m0 170.5h0m-0.5 26.5h0m1.5-237.5h0m0 14h0m0 13h0m0 10.5h0m0.5 10.5h0m-0.5 165h0m0 14h0m0.5 40.5h0m0 4.5h0m0 1.5h0m0 5.5h0m0 3.5h0m0.5-250h0m-0.5 15h0m1 169h0m-0.5 5h0m0.5 33h0m-0.5 2h0m0 0.5h0m1-246.5h0m0 5.5h0m0 5h0m0 1.5h0m-0.5 12h0m1 7h0m-0.5 5h0m-0.5 2h0m0 3h0m0 1h0m1 0h0m0 157.5h0m-0.5 25.5h0m0 3.5h0m0 2h0m0 3h0m0.5 16.5h0m0 3.5h0m0.5-256h0m0 2.5h0m0 3h0m0 10h0m-0.5 2.5h0m1 6.5h0m-0.5 14h0m0.5 171h0m0.5-241h0m-0.5 37h0m0 28.5h0m0.5 168.5h0m0 4.5h0m0.5 12h0m0 1.5h0m-0.5 3h0m-0.5 48.5h0m0 6h0m2-276.5h0m-0.5 34.5h0m0 1h0m-0.5 7h0m0.5 176h0m0 15h0m0 44.5h0m0 6.5h0m0 3h0m0 4.5h0m1-305.5h0m0 6h0m0 4.5h0m0 27h0m0.5 14h0m-0.5 0.5h0m-0.5 0.5h0m0.5 2.5h0m-0.5 170h0m0.5 14.5h0m0.5 57h0m1-301.5h0m-0.5 3.5h0m-0.5 2h0m0.5 2h0m-0.5 4h0m0.5 20h0m0 0.5h0m0 5h0m0 1h0m0.5 18.5h0m0 162h0m0 6h0m-0.5 7.5h0m-0.5 21h0m0.5 16.5h0m0 1.5h0m0 5h0m0 18h0m0.5 7.5h0m0.5-270.5h0m0 5h0m0.5 4.5h0m-0.5 263.5h0m0 0.5h0m0 5h0m0 27h0m0 41h0m0.5-340.5h0m1 0h0m0 26h0m0 1h0m0 161.5h0m0 2h0m-0.5 10h0m-0.5 1.5h0m0.5 11h0m0 4h0m0 6.5h0m1-238.5h0m0 2h0m0 3h0m0 3h0m0 8.5h0m0.5 9h0m-0.5 3.5h0m-0.5 9h0m1 4.5h0m0 155h0m-0.5 0.5h0m0 2h0m0 1h0m0 27.5h0m1-221.5h0m0.5 4h0m-0.5 2.5h0m0.5 16.5h0m-0.5 167.5h0m-0.5 5h0m0.5 16h0m0.5 16.5h0m-0.5 5h0m0 5h0m0 14.5h0m0 2h0m0 5.5h0m0 5.5h0m1.5-283.5h0m0 3h0m0 3.5h0m-0.5 2h0m0 6.5h0m0.5 2.5h0m-1 3h0m0.5 1.5h0m-0.5 197.5h0m0.5 4.5h0m0 3h0m0.5 5h0m-1 0.5h0m1 6h0m0 8h0m0.5-252h0m0 7h0m0.5 35h0m-1 0.5h0m1 6.5h0m-1 4.5h0m1 4.5h0m0 0h0m-0.5 168.5h0m0 10h0m-0.5 8h0m0.5 7.5h0m0.5-221.5h0m0.5 6h0m-0.5 10.5h0m0.5 165h0m-0.5 17h0m0.5 19h0m0 2.5h0m0 6.5h0m1.5-238h0m-0.5 22h0m0 6.5h0m-0.5 4.5h0m0.5 4h0m0.5 172.5h0m-0.5 4.5h0m0.5 5h0m0 4h0m0 5.5h0m0 12.5h0m0 1.5h0m0 6h0m-0.5 20h0m0 2h0m1-244.5h0m-0.5 11h0m1 148h0m-1 1h0m0.5 0h0m0 3h0m-0.5 0h0m0.5 0.5h0m0 6h0m0 23.5h0m0 3.5h0m0 3.5h0m1-189h0m1-58h0m0 1h0m0 6.5h0m0 26h0m-0.5 172.5h0m0.5 10h0m0.5 7h0m-0.5 12.5h0m-0.5 70h0m0 4.5h0m1.5-314.5h0m0 7h0m0 6h0m0.5 24h0m-0.5 7h0m0 5.5h0m-0.5 7h0m0.5 3.5h0m0 1h0m0 3.5h0m0 146h0m-0.5 6h0m1 0h0m-0.5 7h0m0 11h0m-0.5 6h0m0.5 10h0m0.5 15h0m0 8.5h0m0 2.5h0m0 5h0m1-257h0m-0.5 41h0m0 138h0m0.5 1h0m0 2.5h0m-0.5 4.5h0m0 28.5h0m0.5 15h0m-0.5 10.5h0m0 1h0m0 3.5h0m0 4.5h0m0 3.5h0m-0.5 11h0m1.5-283.5h0m0 6h0m-0.5 2h0m0.5 0.5h0m-0.5 3h0m0 36h0m1 0h0m-0.5 155h0m0 1.5h0m0 1.5h0m0.5 4.5h0m-0.5 23.5h0m0 16.5h0m0.5-210.5h0m0.5 11.5h0m-0.5 4.5h0m0.5 4.5h0m0 144.5h0m-0.5 4.5h0m0.5 8.5h0m0 2.5h0m-0.5 14h0m0 3.5h0m0 10.5h0m0.5 6h0m-0.5 46h0m0 1.5h0m0 5h0m1-314h0m0 25h0m0 3h0m0.5 2.5h0m-0.5 5h0m0.5 1.5h0m0.5 10.5h0m-0.5 5h0m0 1h0m0 5h0m0 4.5h0m0 0h0m-0.5 4h0m0.5 138h0m-0.5 17.5h0m0.5 24.5h0m0.5 4h0m0 4.5h0m0 3h0m-0.5 18h0m1-291h0m0 5h0m0 4h0m0 6h0m0 8h0m0 12.5h0m0 7h0m0 4h0m0 1h0m0.5 8.5h0m-0.5 6.5h0m0 0.5h0m0 2.5h0m0.5 0.5h0m-0.5 12h0m0 141.5h0m-0.5 0.5h0m0.5 6h0m0.5-188.5h0m0 5h0m0 4.5h0m0 2h0m0 4h0m0.5 167h0m0 0.5h0m0.5 16.5h0m-1 7h0m1 22h0m0 4.5h0m0.5-248h0m0 15h0m0 4h0m0 9.5h0m0.5 22.5h0m-0.5 0h0m0.5 13.5h0m-1 133.5h0m0.5 2.5h0m0 3h0m0.5 2.5h0m-0.5 4.5h0m0 1h0m0.5 4h0m-0.5 17.5h0m1-238.5h0m0 10h0m-0.5 29h0m0.5 13h0m-0.5 0.5h0m1 0.5h0m0 16h0m-0.5 1.5h0m-0.5 150.5h0m1 17.5h0m-1 8h0m0.5 29h0m0 6h0m-0.5 19h0m0 5.5h0m1-301.5h0m0 3h0m0 10.5h0m0.5 26.5h0m0 4h0m0 0.5h0m0.5 3.5h0m0 2.5h0m-1 5h0m1 148.5h0m-1 5h0m0 2h0m0.5 6.5h0m0.5 6.5h0m-0.5 11h0m1-209h0m0 5.5h0m0 0.5h0m0.5 19.5h0m-1 166.5h0m0 0h0m0 5.5h0m0.5 3.5h0m-0.5 9.5h0m1 3.5h0m0 5h0m-0.5 22h0m-0.5 2.5h0m0.5 8.5h0m0 1.5h0m0 6.5h0m0.5-291h0m0 4.5h0m0 3.5h0m1 11h0m-1 33h0m0.5 22h0m0 0.5h0m0 141h0m0 4.5h0m0.5-184h0m0.5 10.5h0m-0.5 22.5h0m0.5 5.5h0m0 135h0m0.5 0.5h0m-0.5 5.5h0m0.5 1h0m-0.5 7.5h0m-0.5 22h0m2-227h0m0 5.5h0m0 1.5h0m-0.5 24.5h0m-0.5 16.5h0m0 1h0m0.5 1.5h0m0.5 3.5h0m-1 1h0m0 135.5h0m0.5 1.5h0m0 9.5h0m0 0.5h0m0.5 10h0m-0.5 24.5h0m0 5h0m0 5.5h0m-0.5 22h0m0 6h0m1 8.5h0m0.5-298h0m0 10.5h0m0 12.5h0m-0.5 0.5h0m0.5 4h0m0 25h0m0.5 1h0m-0.5 3h0m0 0.5h0m0 4h0m-0.5 0.5h0m0.5 5h0m-0.5 2.5h0m1 142.5h0m-0.5 11h0m0 3h0m0.5 13h0m-0.5 20.5h0m1.5-257.5h0m0 5.5h0m-0.5 50h0m0 153.5h0m0.5 43h0m0 6h0m1-244.5h0m-0.5 13h0m0 15h0m-0.5 9h0m0 0.5h0m1 183h0m1-205h0m0 31.5h0m0 0.5h0m0 3h0m-1 159h0m1 9h0m-0.5 19h0m0.5-238h0m0 4h0m0.5 2h0m0.5 1h0m0 3.5h0m-1 31.5h0m0.5 7h0m0 146h0m0.5 25h0m0 3h0m-0.5 32h0m0 4.5h0m1-231.5h0m0.5 15h0m-1 3h0m0.5 152.5h0m0.5 5.5h0m-0.5 4h0m0.5 2h0m0 27.5h0m-0.5 39h0m0 5h0m1.5-289.5h0m0 5.5h0m0 0.5h0m0 6.5h0m-0.5 1.5h0m0.5 0.5h0m0 3.5h0m-0.5 2.5h0m-0.5 23h0m0 10.5h0m0.5 152.5h0m0 6h0m-0.5 1h0m1 1.5h0m-0.5 18.5h0m0 1.5h0m0 2.5h0m0 2h0m0 3.5h0m0 0.5h0m0 6h0m0.5 13.5h0m0 3.5h0m0.5-259h0m0 4.5h0m0.5 13h0m-0.5 3.5h0m0 11.5h0m0.5 1.5h0m0 1h0m-1 0.5h0m0 0h0m0.5 164h0m0 14h0m0.5 11h0m-1 1h0m1 19h0m0 6h0m1-234.5h0m-0.5 11.5h0m0 3h0m0 0.5h0m0 11h0m0 1.5h0m0 168h0m0 27h0m0.5-216h0m1 6h0m0 5h0m-1 2.5h0m0.5 163.5h0m-0.5 3.5h0m0.5 1.5h0m-0.5 1h0m0 27.5h0m0 11h0m1-206h0m0.5 6.5h0m0 0h0m0.5 7h0m-1 147h0m0.5 3h0m-0.5 1.5h0m0.5 15.5h0m0 5h0m-0.5 1.5h0m1 39.5h0m0 6h0m0.5-251h0m-0.5 11.5h0m1 8h0m-1 5h0m1 8.5h0m-1 143h0m1 1h0m-0.5 10h0m-0.5 4h0m0 2h0m1 21.5h0m-0.5 4.5h0m0 3h0m1.5-232.5h0m0 34.5h0m-0.5 4.5h0m0 1h0m0 177h0m0 2h0m0 8.5h0m1-224h0m0 4h0m0 4h0m0.5 12.5h0m-0.5 162h0m0 12.5h0m-0.5 35h0m1 40h0m0.5-277h0m-0.5 0h0m0 5h0m0.5 1.5h0m0 5h0m-0.5 0h0m0 6h0m0 1h0m0 20h0m0.5 9.5h0m0.5 141h0m-0.5 13.5h0m0.5 11.5h0m-1 19.5h0m1.5-236h0m0 8.5h0m0 21.5h0m0 8.5h0m0 4h0m0 7.5h0m0 151.5h0m-0.5 9h0m0 7.5h0m0 0.5h0m0 8.5h0m0.5 2.5h0m-0.5 1h0m0.5 4h0m0 3.5h0m0 34h0m0 5.5h0m0 5.5h0m1.5-272.5h0m-1 7h0m0 0h0m0 10.5h0m0.5 4.5h0m0 162h0m0 1h0m0 3h0m0 2.5h0m0 15.5h0m0.5 52h0m0 2h0m-0.5 0.5h0m0.5 4.5h0m-0.5 2h0m0.5 3h0m1-285h0m0 5h0m0 31h0m-0.5 4h0m0 10h0m0 0h0m0.5 161.5h0m-0.5 42h0m-0.5 0.5h0m0 4h0m0.5 31h0m0 5.5h0m1-287h0m0.5 1.5h0m0 6h0m-0.5 4h0m0.5 2.5h0m-0.5 12.5h0m-0.5 7.5h0m0.5 1h0m-0.5 4h0m0 5.5h0m0 146.5h0m0.5 8.5h0m0.5 12h0m-0.5 4h0m0 4.5h0m0 4h0m0.5-237.5h0m0.5 31h0m0 1.5h0m0 16h0m0 155h0m-0.5 0h0m0 7.5h0m0 7.5h0m0.5 18.5h0m0.5 2.5h0m0 8.5h0m-1 3.5h0m1 1h0m-1 5.5h0m0 11.5h0m0 3h0m0 5.5h0m1-265.5h0m0 6h0m0 9h0m1 175.5h0m-0.5 18h0m-0.5 3h0m1 6h0m-1 31.5h0m0 5.5h0m1.5-231.5h0m-0.5 6.5h0m0.5 11h0m-0.5 164h0m0 0h0m1 21.5h0m0-231.5h0m0 5h0m0.5 8h0m0 4h0m0 1.5h0m0 22.5h0m0.5 1h0m-1 1h0m1 153h0m-0.5 6h0m0 3.5h0m0.5 6h0m0 7.5h0m-0.5 53.5h0m0 4.5h0m0 4h0m0 1.5h0m1.5-287h0m0 4h0m-0.5 28.5h0m-0.5 9h0m1 5h0m-1 4h0m0.5 0.5h0m0 3h0m-0.5 157h0m1 2.5h0m-1 9h0m1.5-224h0m0 5h0m0.5 20h0m-0.5 3h0m-0.5 14.5h0m0.5 6h0m-0.5 8.5h0m0.5 149h0m-0.5 0h0m1.5-180h0m0 11.5h0m0.5 10.5h0m-0.5 0.5h0m0.5 1.5h0m-1 6.5h0m0 157h0m0 8.5h0m1 23.5h0m0 0.5h0m0 5.5h0m0 3h0m0 3h0m0 0.5h0m0 4.5h0m0 3.5h0m-0.5 10.5h0m0 7h0m0.5-258h0m0 3.5h0m0.5 0h0m0 12.5h0m0 161h0m0 2.5h0m0 0.5h0m0 1.5h0m0 10h0m0 10.5h0m0.5 27h0m0-255h0m0 5.5h0m0 3h0m0 4h0m0 3.5h0m0 6h0m1 24.5h0m-0.5 1.5h0m0 3.5h0m0 2h0m0 173.5h0m0.5 0.5h0m-1 1.5h0m1-219.5h0m0.5 12h0m-0.5 5.5h0m1 212h0m0.5-207.5h0m0.5 18.5h0m-1 5h0m0 145.5h0m0.5 7h0m0 7.5h0m0.5 6.5h0m0.5-197h0m0 5.5h0m0.5 3.5h0m-0.5 10.5h0m0.5 0h0m-0.5 156.5h0m-0.5 0h0m0.5 15.5h0m-0.5 6.5h0m1 1.5h0m0-195h0m1 178.5h0m0.5-182h0m0.5 28h0m0 150.5h0m-0.5 5h0m0 2.5h0m0 0h0m-0.5 12h0m0 5h0m2-225.5h0m0 3.5h0m0 5h0m-0.5 17.5h0m0.5 174h0m-1 1h0m1 0h0m-0.5 0.5h0m0 11.5h0m1-186h0m0.5 180.5h0m-1 50h0m0 7.5h0m0 8h0m0 5h0m1.5-250h0m-0.5 19.5h0m0.5 2h0m0.5 146h0m0 13.5h0m0.5-220h0m0 6h0m0 8h0m0.5 10.5h0m-0.5 2.5h0m-0.5 4h0m0.5 3h0m-0.5 14.5h0m0.5 2h0m-0.5 1h0m0.5 3h0m0 14.5h0m0.5 0h0m0 0.5h0m-1 1h0m0 1h0m0 137h0m0.5 11h0m0.5 21h0m-1 9h0m1.5-201.5h0m0 14.5h0m-0.5 6.5h0m0.5 3.5h0m0 128h0m0.5 1.5h0m-0.5 1h0m0 6.5h0m-0.5 0.5h0m1 5h0m-0.5 3h0m0 1.5h0m0 3h0m0 0.5h0m0 11h0m1-169.5h0m0 3.5h0m0.5 98.5h0m0 10h0m0 2h0m0 0.5h0m-1 17h0m0.5 3.5h0m0 0.5h0m-0.5 1h0m1 2.5h0m-0.5 7h0m0 5.5h0m1-164.5h0m0 5.5h0m0 7.5h0m-0.5 0h0m1 9.5h0m0 5h0m-0.5 1h0m0.5 7h0m0 2h0m-0.5 1.5h0m0 1h0m0 1h0m0 0h0m0 0.5h0m0.5 1h0m0 0h0m0 1h0m0 3.5h0m0 3.5h0m0 13.5h0m0 44h0m-1 5.5h0m0.5 0.5h0m0 0.5h0m0 0h0m-0.5 0.5h0m0.5 2h0m0.5 1h0m-0.5 5h0m-0.5 2.5h0m0.5 1h0m0.5 0.5h0m-0.5 6h0m0 0.5h0m-0.5 2.5h0m1 2.5h0m-0.5 1h0m-0.5 2.5h0m0.5 6.5h0m0.5 8h0m-0.5 3h0m-0.5 19.5h0m1.5-157h0m0 3h0m0.5 1.5h0m-1 1.5h0m0 4h0m0 2h0m0 0h0m0.5 3h0m0 1h0m-0.5 5.5h0m0 0.5h0m0.5 2h0m-0.5 4h0m1 7h0m0 0.5h0m-0.5 3.5h0m-0.5 0h0m0 0h0m0.5 0h0m0 0h0m0.5 0h0m-0.5 3h0m-0.5 0h0m0.5 0.5h0m0 0.5h0m-0.5 0h0m0.5 0h0m0 0h0m0.5 35.5h0m0 2.5h0m0 1.5h0m0 0h0m-0.5 1h0m0.5 2h0m-1 1h0m0 0.5h0m0 0.5h0m0.5 0.5h0m0 0h0m0 1.5h0m0 0h0m-0.5 1.5h0m0 0.5h0m0.5 6.5h0m0 2.5h0m-0.5 4h0m0.5 2.5h0m-0.5 3.5h0m0 1h0m0.5 0.5h0m0 0.5h0m-0.5 9h0m0 9h0m1-117h0m0 10.5h0m0.5 1.5h0m0 5h0m0 1.5h0m0 1.5h0m0 3.5h0m0 0.5h0m-0.5 5.5h0m0 0.5h0m0.5 33h0m0 0h0m0 0.5h0m0 0.5h0m-0.5 1.5h0m0.5 0.5h0m0 0h0m-0.5 2.5h0m0 0.5h0m0.5 3h0m-0.5 0.5h0m0 10h0m1.5-59h0m0 6.5h0m0 0h0m0 0.5h0m0 40.5h0m2.5-39.5h0m-0.5 26h0m0.5 4.5h0m0-35h0m0 3h0m0 2h0m0 24h0m0.5 0h0m1-24h0m1.5 31h0m0.5-10h0m0 1h0m2-21h0m0 22.5h0m1-32h0m0 5.5h0m0 5h0m0 25h0m1.5-25.5h0m0 19.5h0m0 0.5h0m0-18.5h0m1 0.5h0m0 16.5h0m0 0h0m0 1.5h0m-1 1h0m0.5 0h0m0 12.5h0m0 7h0m3.5-37h0m1-1h0m0 15.5h0m1-16h0m-0.5 0h0m0 2h0m0 16h0m-0.5 3h0m1-19h0m0.5 1h0m0 0h0m0 0.5h0m-0.5 0.5h0m1 0h0m0 0.5h0m-1 22h0m0 2h0m0 10.5h0m0 3.5h0m2-38.5h0m-1 0.5h0m1.5 0.5h0m1.5-0.5h0m0 0h0m-0.5 0.5h0m0 0h0m0 10.5h0m0 1.5h0m0.5-12.5h0m0.5 1h0m-0.5 0h0m0 10h0m1 9.5h0m1.5-19h0m0.5-1h0m0.5 1h0m-0.5 0h0m0.5 10h0m0 9h0m1.5-24h0m-0.5 2.5h0m0 12.5h0m0.5 0.5h0m0 0h0m-0.5 18.5h0m0 7.5h0m0 4h0m0 5.5h0m0.5-49.5h0m0 12.5h0m0.5 1h0m0.5 0h0m0 1h0m0 1.5h0m2.5-24h0m0 6.5h0m-0.5 24h0m1.5-27h0m0.5 2h0m-0.5 20.5h0m0.5 3h0m0.5-70h0m0.5 44.5h0m-1 1.5h0m0 0.5h0m0 18.5h0m0.5 0h0m0 8.5h0m0.5-29h0m0 1.5h0m2-5.5h0m0.5 25.5h0m1.5-19.5h0m0 1h0m0 0.5h0m0 17.5h0m0 0h0m-0.5 1h0m0.5-18.5h0m1 1h0m-1 17h0m1 1h0m0-17.5h0m0.5 0h0m0 15h0m2 0.5h0m-0.5 0h0m0 8.5h0m0 3h0m2-10.5h0m0.5-19h0m-0.5 0.5h0m0.5 1.5h0m0 16h0m-0.5 0.5h0m0.5 3h0m-0.5 20h0m0 5.5h0m1.5-57.5h0m0 3.5h0m-0.5 26.5h0m0 0h0m0.5 3h0m0 0.5h0m2.5-32.5h0m-0.5 61.5h0m0 3h0m0 5.5h0m1-60h0m0.5 17.5h0m0 1.5h0m-0.5 25h0m0 4h0m1-63h0m-0.5 16h0m1 18.5h0m-0.5 2h0m0.5-20.5h0m1 14h0m0 0h0m0 1h0m-1 0.5h0m0.5 0h0m-0.5 0h0m0.5 38h0m0.5-38.5h0m0 0h0m0 0h0m1.5-12h0m-0.5 11.5h0m2.5 2h0m1-15.5h0m0 15h0m0 1h0m0 1.5h0m0.5-18h0m0 1h0m0 0h0m0 15.5h0m1.5-17h0m0.5 0.5h0m0 16.5h0m1-17.5h0m-0.5 0h0m0.5 0h0m-1 0.5h0m1 18.5h0m0.5-20h0m0 19h0m-0.5 7.5h0m0.5 3.5h0m0 9.5h0m0 7h0m1-55h0m-0.5 7.5h0m0.5 1.5h0m-0.5 19.5h0m0 0.5h0m0.5 0.5h0m0 0h0m0 0h0m0 1h0m0 1h0m0 1h0m0 4.5h0m0 0.5h0m0 3.5h0m0 6h0m0 4.5h0m0 0.5h0m0 6.5h0m1.5-49.5h0m0 0.5h0m-0.5 21h0m0 1h0m0 3.5h0m0 1h0m0.5-25.5h0m0 0h0m0 21.5h0m0.5 0h0m0 33h0m0.5 4h0m0 4h0m0 4h0m1-38.5h0m0 8.5h0m0 5h0m0 9.5h0m0 3h0m0-53.5h0m1 17.5h0m0 1.5h0m-1 9.5h0m2-56.5h0m-1 1.5h0m1 6h0m0 5h0m0 8.5h0m-1 2h0m0.5 22h0m2-16.5h0m0.5 2h0m-0.5 0.5h0m0 13h0m0.5 0h0m0 0h0m-0.5 0.5h0m0 15h0m0 4.5h0m0.5-7.5h0m0 38.5h0m3-81h0m-1 1.5h0m1 5.5h0m-1 0.5h0m1 11h0m0 13h0m0 0.5h0m-0.5 30h0m1-44.5h0m0 1h0m0 12h0m-0.5 11h0m0.5 36.5h0m0 6h0m1-65h0m-0.5 0h0m0 11h0m2-0.5h0m-1 0.5h0m1.5-11.5h0m0.5 0.5h0m-0.5 0h0m0.5 58.5h0m0.5-60h0m0 0.5h0m0.5 11h0m0.5-11h0m0 0h0m1-1.5h0m0 0.5h0m-0.5 12h0m1-22.5h0m0 10.5h0m0 0.5h0m0 0.5h0m0.5 13.5h0m1-31.5h0m1 16.5h0m0.5 17.5h0m0.5-1h0m1-18h0m1 1.5h0m0 27.5h0m1-41.5h0m0 4h0m0.5 5h0m0 2.5h0m0 19h0m-0.5 42.5h0m1-60.5h0m1 37h0m0 6h0m1.5-29h0m0 0.5h0m0.5-16h0m0 1h0m0.5 1h0m-0.5 12.5h0m0 0h0m0.5 0h0m-0.5 0h0m-0.5 0.5h0m0.5 0h0m0 2h0m-0.5 1h0m0 1h0m0 1h0m1.5-6h0m0 0.5h0m1-1h0m1-1h0m-0.5 0.5h0m1-10.5h0m0.5 10h0m0 0h0m0 0.5h0m1-9.5h0m0.5 9h0m-0.5 0h0m1-10.5h0m0 11h0m0 0h0m-0.5 0h0m1 0h0m0.5-13h0m0 1h0m0 0.5h0m-0.5 11.5h0m0 0h0m0.5 2h0m-0.5 10h0m1-9.5h0m1.5-17.5h0m0 17.5h0m0.5 1h0m0 3h0m0.5-39h0m0 3h0m-0.5 33h0m1 2h0m0.5 23h0m0 5h0m1-48.5h0m0.5 22h0m0.5-70h0m-0.5 39h0m0 8h0m1 0.5h0m-0.5 22.5h0m0 2.5h0m0 3h0m0.5 3h0m0 6h0m0 6.5h0m0.5-46.5h0m0 1.5h0m0 22h0m0 1h0m0.5 2.5h0m-1 0.5h0m0 1.5h0m0.5 48.5h0m0 0.5h0m0 5h0m0 1h0m0.5-61h0m1 11h0m-1 35.5h0m1-46h0m2 46.5h0m0.5-67h0m0.5 20h0m0 1h0m0 20.5h0m0 18.5h0m0 9.5h0m0 2.5h0m0 3.5h0m1-74.5h0m-1 21h0m0.5 35.5h0m0 8h0m0 4.5h0m1-39.5h0m0 3.5h0m1-36h0m1-50.5h0m0 49h0m-0.5 0.5h0m0.5 26h0m-0.5 2h0m1.5-26.5h0m0 1h0m0 0.5h0m-0.5 23h0m0 0.5h0m0.5 7.5h0m1-39.5h0m3.5 6.5h0m-0.5 3h0m0.5 21h0m0 0.5h0m1-26.5h0m-0.5 2h0m-0.5 3h0m0.5 25h0m0 3h0m0 0h0m0.5-32h0m0.5 2h0m-0.5 1.5h0m0.5 0.5h0m0 21h0m-0.5 3.5h0m1-41h0m0 6.5h0m0.5 39h0m0 14h0m1.5-42h0m1 20h0m-0.5 9.5h0m0 4.5h0m0 3h0m0 4.5h0m1-42h0m0.5 0.5h0m-1 19.5h0m0.5 12h0m0 8.5h0m0 5h0m1-49.5h0m0.5 2.5h0m0 23.5h0m-0.5 4h0m0 3h0m1-34h0m-0.5 1h0m1 0.5h0m-0.5 1.5h0m0.5-6.5h0m0 4.5h0m0 29h0m1.5-33h0m0.5 1h0m0 1h0m0 1h0m0 57.5h0m0.5-57h0m0 1.5h0m-0.5 2h0m0.5 21.5h0m0 3.5h0m-0.5 0.5h0m1 20.5h0m0 5h0m0-30h0m1-45.5h0m1 74h0m0 2h0m0 5h0m0 5.5h0m0.5-60.5h0m1 0h0m-0.5 18.5h0m0.5 1h0m0.5 3.5h0m0-25h0m0.5 1h0m-0.5 19.5h0m0.5 2.5h0m2.5-23.5h0m-0.5 24.5h0m0 13.5h0m0.5 1h0m-0.5 2h0m0 5h0m0.5 2h0m1-75.5h0m0 6.5h0m-1 21.5h0m0.5 1h0m-0.5 22h0m0.5 0.5h0m0.5 0.5h0m-0.5 5h0m0 21h0m0.5-77.5h0m0 6.5h0m0.5 22h0m0.5 22h0m-0.5 15.5h0m-0.5 9.5h0m0.5 0.5h0m-0.5 5.5h0m0.5 0h0m-0.5 8.5h0m0 5h0m2-66.5h0m-0.5 0h0m-0.5 22h0m0 0h0m1 2h0m1-23h0m-1 21.5h0m1 1h0m-0.5 0.5h0m1-29h0m0 29h0m0.5 1h0m-1 0h0m0.5 0.5h0m1-24.5h0m-0.5 24h0m2-25.5h0m-0.5 27.5h0m0.5 0.5h0m-0.5 20.5h0m1-49.5h0m0 30h0m0.5 9h0m0 7h0m0 5h0m0 6h0m1-58h0m-0.5 0.5h0m-0.5 29.5h0m0 0.5h0m0.5 0.5h0m-0.5 0.5h0m0.5 0h0m0 0.5h0m0 1.5h0m-0.5 4.5h0m2-71h0m0 16.5h0m-1 50.5h0m1 4h0m-0.5 10.5h0m0 6.5h0m0.5-80h0m0 6.5h0m0 0.5h0m0.5 18h0m-0.5 40h0m2-56.5h0m0 14.5h0m0 0h0m-0.5 1h0m1-11.5h0m0.5 0h0m-0.5 2.5h0m0 5.5h0m0.5 0h0m0 2.5h0m0 48.5h0m0-57h0m0.5 0.5h0m0 49h0m0.5 4.5h0m0 0h0m-0.5 1h0m0.5-5.5h0m0.5 1h0m0 1.5h0m0 0.5h0m0.5 5h0m0 9.5h0m1-78.5h0m-1 63.5h0m0 0.5h0m0 4.5h0m1 0h0m0 1.5h0m-0.5 0h0m0 6h0m0.5-62.5h0m0 0h0m0.5 2h0m0 0h0m-0.5 64h0m0.5 3h0m0 3.5h0m0 4h0m1.5-85h0m0.5 64.5h0m1-58.5h0m-0.5 1.5h0m0 62.5h0m2-61.5h0m0 56.5h0m1.5-82h0m0 11.5h0m0 7.5h0m-0.5 62h0m1.5-73.5h0m0.5 11h0m0.5 1h0m0 4.5h0m-0.5 62h0m1.5-67h0m-0.5 2.5h0m0.5 58h0m0.5-61.5h0m0 61h0m0.5 0.5h0m0.5-60h0m0.5 61h0m0.5 1.5h0m0 13h0m1.5-75h0m0 61.5h0m0 5h0m-0.5 12h0m1.5-101h0m0 5h0m1 17.5h0m-0.5 63.5h0m1 15.5h0m-1 4h0m0 3.5h0m1.5-23.5h0m0 5h0m-0.5 7h0m0 0h0m0.5 3h0m0 6h0m1.5-83.5h0m0 1h0m-1 82.5h0m0 6.5h0m1.5-97h0m0 0h0m0 79h0m1-91.5h0m0 9.5h0m0 1.5h0m0 0h0m0 1h0m0.5 8.5h0m-0.5 63.5h0m0.5 19h0m0 3.5h0m0 6.5h0m0.5-102.5h0m0.5 3h0m0 0.5h0m-0.5 2h0m0.5 70h0m0.5-74h0m0 3.5h0m-0.5 0h0m1 4h0m-1 61h0m0.5 7.5h0m0 12.5h0m1.5-91.5h0m0 8.5h0m-1 72.5h0m1-72h0m0 63.5h0m0.5 10.5h0m1-75h0m-0.5 63h0m0 13.5h0m1.5-94h0m0 86h0m1.5-92h0m0 7.5h0m0 15h0m0 64.5h0m-1 5h0m0.5 14h0m0.5 6h0m-0.5 10h0m0.5-115h0m0.5 0.5h0m0 12h0m-0.5 0.5h0m0 2.5h0m0.5 76h0m1-85.5h0m0 2.5h0m0 1h0m0.5 70.5h0m0 15.5h0m0 4h0m0 0h0m0 6.5h0m-1 4.5h0m1-120.5h0m0.5 1h0m-0.5 5h0m0.5 0h0m0 91h0m1-86h0m0 6.5h0m0 76h0m0 11.5h0m1-92.5h0m0 84.5h0m0.5 1h0m0.5-119.5h0m0 39.5h0m1 72.5h0m0 4.5h0m0.5 5.5h0m0.5-98.5h0m1.5 87.5h0m1-72.5h0m0 81h0m0.5-80.5h0m0.5 10.5h0m0 0.5h0m0 1h0m-0.5 57.5h0m0.5 9.5h0m0-73.5h0m0.5 2.5h0m-0.5 2.5h0m1 54h0m0 18h0m1-68h0m0 49h0m-1 0.5h0m1 1.5h0m0-62h0m1 63.5h0m-1 3h0m1.5-71h0m-0.5 71.5h0m1 8h0m0-17.5h0m0 14.5h0m1.5-80h0m0 19h0m0 47.5h0m1 1.5h0m0 0.5h0m0.5-46.5h0m2.5 0h0m0 48.5h0m1 14.5h0m-0.5 2h0m0 5h0m0 8.5h0m0.5 0.5h0m-0.5 4.5h0m1.5-92.5h0m0.5 1.5h0m0 4.5h0m0 2h0m-0.5 1h0m-0.5 50h0m0.5 9.5h0m0.5 2h0m-0.5 6h0m0 7h0m0 5h0m1.5-82.5h0m-0.5 0.5h0m0.5 53h0m-0.5 1.5h0m0.5 3h0m1-61h0m-1 58h0m0.5 4h0m0 29h0m2.5-115.5h0m-1 23.5h0m0.5 70.5h0m0.5-85.5h0m0 9.5h0m0.5 3.5h0m0.5 1.5h0m0 94.5h0m1-106h0m0 88.5h0m0.5-86.5h0m-0.5 79h0m0.5 8.5h0m0 3h0m0.5-91h0m0 6.5h0m0.5 72.5h0m0 6.5h0m0 51.5h0m1-140.5h0m0.5 2.5h0m-1 2.5h0m1 3h0m0 75h0m0 5h0m1-84h0m-1 1.5h0m1 3h0m0 76h0m0.5-114h0m0.5 136.5h0m-0.5 1h0m0.5 5h0m0 4h0m0 6h0m0 3.5h0m0.5-16.5h0m0.5-105.5h0m1 7.5h0m-0.5 76.5h0m0 2h0m0.5 29.5h0m0 6.5h0m0 4.5h0m1-30h0m-0.5 2.5h0m0.5 1h0m-0.5 5.5h0m0.5-106h0m0.5 7h0m1-20h0m0.5 1.5h0m-0.5 18h0m0.5 0h0m0.5-9.5h0m0.5 3.5h0m0 3h0m-0.5 2h0m0 0.5h0m0 0.5h0m0 77h0m0 0h0m0.5 7h0m0.5-106h0m0 3.5h0m0 3h0m0 9h0m0 84h0m-0.5 1h0m0.5 21.5h0m1-105h0m0 86h0m1-104h0m0 7h0m-0.5 2h0m1 10h0m-0.5 81.5h0m0 11h0m1-93h0m2-42.5h0m0 13h0m0 10h0m0 10h0m-0.5 2h0m0.5 2.5h0m0.5 2.5h0m-1 5h0m1 71h0m-1 16.5h0m2-92.5h0m-1 5h0m1 67.5h0m0 1h0m-0.5 11h0m1-90.5h0m0 4.5h0m0 10h0m-0.5 3.5h0m0.5 0.5h0m0 3.5h0m0.5 54.5h0m-0.5 1.5h0m-0.5 0.5h0m0.5 0.5h0m0 1.5h0m-0.5 5.5h0m0.5 52h0m0.5-141h0m0 3.5h0m0.5 12h0m0 2h0m0 7.5h0m0 0h0m0.5 48.5h0m0 6.5h0m-0.5 9.5h0m-0.5 3.5h0m1.5-67.5h0m0 46.5h0m0 2.5h0m0 2.5h0m-0.5 11h0m1.5-61.5h0m-0.5 51.5h0m3-6.5h0m1-50h0m-1 3h0m0.5 1.5h0m0 1h0m0.5 1.5h0m0.5 2.5h0m0 1h0m-0.5 35h0m0.5 2h0m-0.5 2h0m0.5 1h0m2 0h0m1.5-47h0m-0.5 9.5h0m0.5 2h0m0-2.5h0m1 1h0m-0.5 1h0m-0.5 0.5h0m1 0h0m-1 1h0m0.5 0.5h0m0 27h0m0.5 5.5h0m0.5-38h0m0 4.5h0m0 29.5h0m1-28.5h0m1 25.5h0m1-30h0m0 4.5h0m0 0.5h0m0 0h0m-0.5 0.5h0m0.5 24.5h0m0.5-1.5h0m0 2h0m2-21.5h0m0-1h0m0.5 1h0m0 27.5h0m0.5-30.5h0m0.5 4h0m0 0.5h0m0 16h0m1-14.5h0m1-0.5h0m0.5 0.5h0m1 12.5h0m1-13.5h0m0 1h0m0.5-4h0m0.5 1.5h0m0 0.5h0m0.5-1.5h0m0 1h0m-0.5 17.5h0m1 0.5h0m3-19.5h0m0-0.5h0m0 0.5h0m0 19h0m0 0.5h0m2-19h0m0 0h0m1 16.5h0m0.5-14h0m1.5 14h0m0 1.5h0m0.5-15.5h0m-0.5 1h0m2.5-21h0m0 5.5h0m0 2.5h0m0 3.5h0m1 10h0m0.5 10.5h0m-0.5 3h0m0.5-13.5h0m0.5 9h0m0.5 0.5h0m-0.5 0h0m0 0h0m0.5 0.5h0m0.5-9.5h0m-0.5 13h0m1-12h0m1 0.5h0m-1 6.5h0m0 21h0m0 3.5h0m1.5-30.5h0m0.5 0h0m-1 6.5h0m2-7.5h0m0 0.5h0m-0.5 0.5h0m0 0h0m0.5 0h0m0 0h0m-1 6.5h0m0.5 0h0m1-8h0m-0.5 0.5h0m0 0h0m0.5 0.5h0m0 0h0m0.5 0h0m-0.5 0.5h0m-0.5 6.5h0m1 0.5h0m-0.5 0h0m-0.5 0.5h0m1-9h0m0.5 0h0m0 0.5h0m0 0.5h0m0 0.5h0m-0.5 7h0m0.5 0.5h0m0 0.5h0m0.5-8.5h0m0.5 0h0m0.5 0.5h0m-1 0h0m0 0h0m0.5 10h0m0.5-10.5h0m0 0.5h0m0.5 0h0m-0.5 0.5h0m1-29.5h0m0 4.5h0m0.5 24h0m-0.5 0h0m0.5 0h0m1 0h0m0.5 10.5h0m0 0.5h0m-0.5 13.5h0m0.5 10h0m0.5-37h0m0 0.5h0m0.5 0.5h0m0 0.5h0m-0.5 0.5h0m0.5-1h0m0 0.5h0m0 0h0m0.5 12h0m1-13.5h0m1 0h0m0.5 13.5h0m0.5-20.5h0m-0.5 20h0m1.5-14h0m0.5-14.5h0m1 11.5h0m0 18h0m-0.5 1.5h0m0.5-17h0m1.5 0.5h0m0.5 0h0m0.5 0h0m0 14h0m1-1h0m1-14h0m-0.5 1h0m1.5 13h0m1 0h0m0.5-16.5h0m0.5 0h0m1 25h0m0 0.5h0m1-7h0m0.5 8h0m0.5-27.5h0m-0.5 0.5h0m0.5 1h0m0.5 15.5h0m-0.5 0.5h0m0 0.5h0m0.5-20.5h0m0.5 3h0m0 15h0m0 0.5h0m0 2h0m1.5-3.5h0m0 0.5h0m2.5-18h0m0.5 0.5h0m-0.5 0h0m0.5 0.5h0m-0.5 0h0m0 3h0m0 1h0m0 13h0m0 0.5h0m0.5 3h0m0-20h0m1 2h0m-1 0h0m0.5 0.5h0m0 0h0m0 0.5h0m0 0.5h0m0.5 12.5h0m-0.5 0.5h0m1-16h0m-0.5 1h0m0.5 15h0m2.5-27h0m-0.5 9.5h0m0.5 15h0m-0.5 1h0m0 1.5h0m1-19.5h0m0 17h0m1.5-2.5h0m-0.5 0.5h0m1 0.5h0m0.5 15h0m2-31h0m-0.5 14.5h0m0 0h0m0.5-14h0m0 27h0m2-29.5h0m-1 17.5h0m1-16h0m0.5 16.5h0m-0.5 0h0m0 3.5h0m1.5-4.5h0m1 0h0m0.5 0h0m-0.5 0.5h0m0 0h0m0.5-30h0m0.5 14h0m-0.5 15h0m0.5 0h0m0 0h0m0 0.5h0m0 0.5h0m0.5-15h0m1.5-1h0m1.5-0.5h0m-0.5 0h0m0.5 0.5h0m-0.5 15.5h0m1-15h0m0.5 17.5h0m0.5-55.5h0m0 5h0m0 29h0m0.5 1h0m1-4.5h0m-0.5 3.5h0m-0.5 1h0m0.5 22h0m0 3.5h0m0 8h0m0.5-39h0m0 1h0m0 1.5h0m0.5 1h0m0.5 1h0m-1 22h0m0.5 3h0m1.5-32.5h0m-0.5 2.5h0m0 5h0m0.5 26.5h0m-0.5 0h0m0.5 0h0m0 1.5h0m-0.5 3h0m1.5-30.5h0m-0.5 24h0m0 5.5h0m0.5-36.5h0m0.5 7h0m1 22h0m0.5 0.5h0m1-24h0m-0.5 0h0m0.5 0h0m1-8.5h0m0 6.5h0m-0.5 0h0m-0.5 25.5h0m1 0.5h0m-0.5 0.5h0m0 4h0m1.5-33h0m0 31.5h0m1 1.5h0m1-37h0m1 8h0m0 30.5h0m-0.5 0.5h0m0.5 4.5h0m1-40h0m0 1.5h0m-1 2h0m0.5 0.5h0m0 1.5h0m-0.5 29.5h0m1-29.5h0m0.5 26h0m0 35.5h0m0 10h0m0 9h0m2-54.5h0m1.5-26.5h0m-0.5 0.5h0m0.5 25h0m-0.5 0.5h0m0 0.5h0m0.5-25.5h0m0.5 25h0m2.5-27h0m-0.5 27h0m-0.5 0.5h0m0.5 10.5h0m1-39h0m-0.5 0.5h0m1.5 1.5h0m0 26h0m0.5 1.5h0m0 3h0m1 25h0m0 7h0m1-23.5h0m-0.5 29h0m1-68h0m0.5 2h0m0 0.5h0m0-1.5h0m0.5 2.5h0m-0.5 28h0m0.5 0.5h0m3 0h0m0 0.5h0m0.5 8h0m-0.5 0h0m1-37h0m0.5 2h0m-0.5 28h0m0 7.5h0m1.5-33.5h0m-0.5 26h0m1-0.5h0m2-0.5h0m1.5-26.5h0m-0.5 26h0m0.5 0.5h0m-0.5 5h0m0.5 1h0m0.5-33.5h0m-0.5 1h0m1 21h0m0 0h0m-0.5 2h0m-0.5 3h0m0 0.5h0m0.5 5.5h0m1.5-10h0m-1 0h0m0 0h0m1 1.5h0m-0.5 4h0m1.5 1h0m0.5-28h0m0.5 19.5h0m1-2.5h0m0 0h0m0 0.5h0m1-0.5h0m-1 0.5h0m0.5 0h0m0 12h0m0 1h0m0 4.5h0m0.5-33h0m0.5 15.5h0m2-18.5h0m0.5 0h0m0 17.5h0m0 0.5h0m-0.5 1h0m0 1h0m0 1.5h0m1-4.5h0m0.5 0.5h0m0-16.5h0m1.5 16h0m0.5 15.5h0m0 5h0m0.5-40h0m0 2h0m0 17.5h0m0.5 0h0m-0.5 6h0m0.5 5h0m1-30.5h0m-0.5 0.5h0m-0.5 1h0m0.5 21.5h0m0.5 4h0m0.5-6h0m0 0h0m0.5 3.5h0m0-33h0m0 29.5h0m0 1h0m0 0h0m0 3.5h0m2-25.5h0m-0.5 0.5h0m0 0h0m1 0h0m1-38.5h0m0 5h0m0 34h0m0 18h0m0 0.5h0m0 2h0m0.5 12.5h0m0 1.5h0m0 5.5h0m1.5-47.5h0m1 7h0m0 24.5h0m1-25h0m-0.5 19.5h0m1-21.5h0m1.5 37.5h0m0 4h0m1-61h0m0 3h0m0.5 38h0m0.5-19.5h0m0 18.5h0m0 0.5h0m0 9.5h0m2.5-9h0m1-31.5h0m0 2h0m0 4h0m0 0h0m0 0.5h0m-0.5 8.5h0m0.5 0.5h0m1.5-0.5h0m-0.5 17h0m1.5-21.5h0m0.5 2h0m0 23h0m0.5-32.5h0m0 3.5h0m0.5 2.5h0m-1 25.5h0m1 2h0m-0.5 0.5h0m1-61h0m-0.5 28h0m0.5 2h0m0 0h0m-0.5 3.5h0m2-24.5h0m0 4.5h0m0 5h0m0.5 44h0m1.5-3h0m0-25.5h0m1 1.5h0m-0.5 24.5h0m2 15h0m1.5-17.5h0m0 0.5h0m0.5-32.5h0m-0.5 9.5h0m0 23.5h0m0 4h0m0.5 19.5h0m1.5-51.5h0m0 28h0m0 1.5h0m0 1h0m0-24.5h0m0 24.5h0m0.5 1h0m0.5-1h0m0.5 11h0m0 6h0m0.5-12h0m2-29.5h0m0 21.5h0m-0.5 0.5h0m0.5 0h0m1-21.5h0m0 21h0m0 22.5h0m0-22.5h0m1.5-41h0m0 6.5h0m0 5h0m0 56h0m1.5-58.5h0m0 9h0m0 2.5h0m0 21.5h0m-0.5 0h0m0.5 1.5h0m-0.5 1h0m0 3.5h0m0.5-34.5h0m0.5 7h0m-0.5 22h0m0 0h0m3.5-20.5h0m1 21.5h0m1-34h0m-0.5 12.5h0m0.5 0.5h0m-0.5 31.5h0m1-29.5h0m0.5 17.5h0m1.5-18h0m1 17.5h0m1-31.5h0m0 33h0m-0.5 0h0m1.5-38.5h0m0 0h0m0 3h0m0 3h0m-0.5 5.5h0m0.5 3h0m-0.5 26.5h0m0 11h0m0.5 6.5h0m0 4.5h0m0-46h0m0.5 0.5h0m0 0h0m0 0.5h0m-0.5 33.5h0m1 4.5h0m2-38h0m0.5 24h0m0.5 32h0m0.5-59.5h0m0 2.5h0m0.5 26.5h0m0.5-24.5h0m0 25h0m3.5-35.5h0m0 4h0m-0.5 5.5h0m0 1h0m0 24h0m0.5-25h0m0 0.5h0m0.5 37.5h0m1-11h0m0 2h0m0.5-34h0m0.5 1.5h0m-0.5 2h0m1 27.5h0m-0.5 32h0m1-77h0m0 3.5h0m0 42.5h0m0 12h0m0 6.5h0m1-67.5h0m0 3.5h0m1.5 17h0m0 28.5h0m0.5-29h0m0 30.5h0m-0.5 7h0m3-47h0m0 3h0m0 2h0m-0.5 2h0m0.5 1.5h0m0 32h0m-1 7.5h0m1.5-43h0m0 40h0m1.5 16h0m0 4.5h0m0.5 8.5h0m0 2h0m0 5.5h0m1-77h0m0 2.5h0m-0.5 0.5h0m1 33h0m-1 2.5h0m0 0h0m2-35.5h0m-0.5 2.5h0m-0.5 3h0m0.5 1h0m-0.5 25.5h0m0 5.5h0m0 0.5h0m0.5 14.5h0m0 4.5h0m0 1.5h0m0.5-56h0m1 25h0m-0.5 1h0m-0.5 0.5h0m0 1.5h0m1.5-2h0m0 35.5h0m1-57h0m0 19.5h0m-0.5 15h0m1-59.5h0m0 44h0m0 0.5h0m0.5 0h0m1-24.5h0m0.5 4h0m0 19h0m-1 0h0m2-47h0m0 3.5h0m0 4.5h0m-0.5 19.5h0m0 0.5h0m0.5 19h0m-0.5 0.5h0m0 0h0m0.5 6h0m0-43h0m0.5 37.5h0m0.5-0.5h0m1 1.5h0m0 1h0m0 1.5h0m0-35.5h0m0.5 7.5h0m-0.5 25.5h0m1 6.5h0m-0.5 0.5h0m0.5-31.5h0m0 41h0m0 3h0m0 5.5h0m1.5-19h0m0.5 2h0m0.5-37h0m0 5.5h0m0.5 0h0m-1 0h0m1 0h0m0 0.5h0m0 28h0m0 0h0m-0.5 1h0m0.5 0h0m1 11.5h0m0-52h0m0.5 11h0m0 28.5h0m-0.5 33.5h0m1-18h0m0 5h0m2-57.5h0m0 4h0m-0.5 33.5h0m1.5-42.5h0m0 7.5h0m0 1.5h0m-0.5 3.5h0m0.5 31.5h0m0 0.5h0m-0.5 1.5h0m0.5 1h0m0-47h0m0 7.5h0m0 35.5h0m0.5 2h0m0 9h0m0 5h0m0 3.5h0m2.5-53.5h0m0 32h0m2.5-34.5h0m0.5 0h0m-1 1h0m0.5 33h0m-0.5 0h0m0.5 1h0m0 0.5h0m0 3h0m1-53.5h0m0 10h0m0 2h0m0 2h0m-0.5 1.5h0m1 24h0m-0.5 1h0m0.5 0.5h0m-1 1h0m0 1h0m1 0.5h0m-0.5 7.5h0m0.5-34.5h0m0.5 0.5h0m0 21.5h0m-0.5 3h0m0 3h0m0 1h0m1.5-8h0m1.5-20.5h0m0.5-0.5h0m1.5-18.5h0m-0.5 12h0m0 3.5h0m-0.5 2.5h0m0 0h0m1 23h0m-0.5 7.5h0m1-42.5h0m0 4.5h0m0 4.5h0m0 0.5h0m0.5 1h0m-1 0h0m1 22.5h0m-0.5 4h0m0.5 0h0m-0.5 0h0m0 0.5h0m-0.5 0.5h0m0 0.5h0m0.5 0.5h0m1-43h0m0 11.5h0m0 0.5h0m0 1.5h0m-0.5 1.5h0m0 0.5h0m0.5 19h0m0 0h0m-0.5 1h0m0.5 1h0m0 1h0m-0.5 2h0m0.5 1.5h0m0 4h0m2.5-29h0m-0.5 17.5h0m0.5 0.5h0m1-16h0m-0.5 0h0m0 0.5h0m3-1h0m0 1h0m0.5 15h0m-0.5 1h0m0 5.5h0m1-43h0m0 6.5h0m0.5 10h0m-0.5 2.5h0m0.5 0h0m0 0.5h0m-0.5 1.5h0m0 16h0m1-24h0m0 1h0m-0.5 5h0m1 16.5h0m-0.5 2.5h0m-0.5 0.5h0m2-4.5h0m0 1h0m-0.5 0h0m0.5 1h0m1-21h0m-0.5 0.5h0m0 1h0m0 1.5h0m0 16h0m0.5 0.5h0m-0.5 7.5h0m0.5-27h0m0.5 3h0m0.5 1.5h0m-0.5 14.5h0m1-0.5h0m0 0h0m2 1.5h0m0 4.5h0m0 14h0m1.5-35.5h0m0 1.5h0m-0.5 16h0m0.5 0h0m0.5-19.5h0m0 0h0m0 1.5h0m0.5 0.5h0m-0.5 0.5h0m0 0h0m-0.5 0.5h0m0 0h0m0.5 22h0m1-34h0m0 1h0m0 4h0m0 1.5h0m0 1h0m0 1h0m0.5 27.5h0m-0.5 0.5h0m0.5 0.5h0m0 1h0m0.5-78.5h0m0 4.5h0m0.5 25.5h0m-0.5 6.5h0m-0.5 6h0m0 1.5h0m0 1.5h0m0 0.5h0m0 1h0m0.5 1h0m-0.5 0h0m0.5 32.5h0m-0.5 1h0m1 1.5h0m-0.5 6h0m1-62h0m0 5h0m0 4h0m0.5 0.5h0m0 0h0m-1 0h0m0.5 1.5h0m-0.5 2h0m0.5 0h0m0 0.5h0m-0.5 39h0m0 2h0m0 2h0m0.5 8.5h0m1-74h0m0 8h0m-0.5 5.5h0m1 2h0m-1 52.5h0m1 12h0m-0.5 21h0m1-102.5h0m0 0h0m0 5.5h0m0 11.5h0m0.5 62h0m-0.5 4h0m0.5 4.5h0m1-98.5h0m-0.5 11.5h0m0 0h0m-0.5 82h0m1 1.5h0m-0.5 1h0m-0.5 7.5h0m0 0.5h0m0.5 0h0m0.5-5h0m1 1h0m0 3.5h0m-0.5 0h0m1-125.5h0m0 6.5h0m0 0h0m-0.5 13.5h0m0 4h0m0 100h0m1 27h0m1-127h0m-0.5 5.5h0m0 7.5h0m0.5 105h0m0.5-144.5h0m0 4.5h0m0 7.5h0m0 6.5h0m0 6h0m0 3h0m0 7.5h0m0 91h0m0 0h0m0 5h0m0 13.5h0m1-180h0m0.5 10.5h0m-0.5 9.5h0m0 35.5h0m0.5 9h0m0 7.5h0m-0.5 1.5h0m0.5 0h0m-0.5 1h0m0 91.5h0m1-114h0m1-45h0m0 3.5h0m0 62h0m0 0.5h0m0 114h0m0 5h0m0 4h0m0.5-151h0m0.5 15h0m0 6.5h0m-0.5 5.5h0m0.5 91h0m0 15h0m1-132.5h0m0 6h0m0.5 2h0m-0.5 9.5h0m-0.5 3h0m0.5 1.5h0m0 1h0m0 1h0m0 0h0m-0.5 98h0m1.5-131.5h0m0 6.5h0m0.5 13.5h0m-0.5 0h0m-0.5 3h0m0.5 1h0m-0.5 2h0m0 105.5h0m0.5 7.5h0m1-126.5h0m0 4h0m0.5 8.5h0m-0.5 5h0m0.5 101h0m-0.5 1.5h0m1.5-127.5h0m0 4.5h0m0 5h0m-1 6.5h0m1 121.5h0m-0.5 0.5h0m-0.5 0h0m0 2h0m1.5-181h0m0 45h0m0.5 0h0m0 3.5h0m0 3.5h0m-1 7.5h0m1 103h0m-1 1h0m0 0h0m1 1.5h0m0-104h0m0.5 106.5h0m0 3.5h0m0 2h0m1-125h0m-0.5 17h0m1 0h0m-0.5 102.5h0m0.5-111.5h0m1.5 1h0m0 3h0m0.5 107h0m-0.5 25h0m0.5-170h0m0.5 38.5h0m0 4.5h0m-0.5 103.5h0m0 2.5h0m0.5 17.5h0m0 7.5h0m0 4.5h0m0 4h0m1-146.5h0m0 3h0m0 2.5h0m0 107h0m0 9h0m0 5.5h0m0.5-135.5h0m0.5 138.5h0m1-159h0m0 5.5h0m0 7.5h0m0 5h0m1 2h0m0.5 3h0m-1 4h0m0.5 111.5h0m0 13.5h0m0.5 0.5h0m0 3h0m-1 1.5h0m2-124h0m0 109.5h0m-1 10h0m0 3h0m1 33h0m1-155.5h0m-0.5 0.5h0m1-15.5h0m0 2h0m0 1.5h0m0.5 0.5h0m0 11.5h0m0 104.5h0m-0.5 6h0m-0.5 5.5h0m1.5-124h0m0 111h0m1-108h0m-0.5 1.5h0m0.5 105.5h0m0 11h0m0.5 2.5h0m-0.5 17.5h0m1-161.5h0m0 4h0m0 3.5h0m0 7.5h0m0 115.5h0m0 60.5h0m0 14h0m0 24h0m1-208h0m0 3.5h0m0 107.5h0m-0.5 3.5h0m0 6.5h0m1.5-148h0m0 6.5h0m0 20h0m-0.5 4.5h0m1 111.5h0m0-118h0m0.5 125.5h0m0.5-148h0m0 24.5h0m1 15h0m-1 3h0m1 87.5h0m0 2h0m-1 4h0m1 14.5h0m-1 4h0m1-136.5h0m1 12h0m-0.5 9.5h0m-0.5 4.5h0m0.5 84.5h0m1.5-101.5h0m-0.5 3h0m0.5 14h0m1-18h0m0 18h0m0 0.5h0m-0.5 76.5h0m0 7.5h0m0.5-110.5h0m1 9h0m-0.5 12.5h0m0 3.5h0m0.5 1h0m-0.5 77h0m0 3.5h0m-0.5 0h0m0.5 1h0m1-5.5h0m-0.5 9h0m0.5 8.5h0m0.5-96h0m0.5 76.5h0m0 7.5h0m0.5 10h0m0.5-144.5h0m0 6h0m0 20h0m-0.5 13.5h0m0 3.5h0m0.5 85h0m0 5.5h0m0 0h0m0 2h0m0 4.5h0m1-103h0m0 89h0m1.5-111.5h0m0 6.5h0m0 1.5h0m-0.5 14.5h0m-0.5 91.5h0m0.5 1h0m0 0.5h0m0 13.5h0m1-124.5h0m0 6.5h0m0.5 13.5h0m-0.5 5h0m-0.5 77h0m0 1h0m0.5 18h0m1-97h0m0 77h0m1-80h0m1-4.5h0m1.5-6.5h0m0 9h0m-1 0h0m1 3.5h0m-0.5 76h0m0.5 2.5h0m0.5-89.5h0m0 9.5h0m-0.5 72.5h0m0 2h0m1.5-70.5h0m0 1.5h0m-0.5 0h0m0 56h0m0.5 3.5h0m-0.5 1h0m0.5 0.5h0m-0.5 4h0m1.5-86.5h0m0 6h0m0 12h0m0 56h0m0 2.5h0m-0.5 5h0m1.5-57.5h0m-0.5 50h0m1-67h0m0.5 11.5h0m-0.5 53.5h0m0 0.5h0m0.5 1.5h0m0 11.5h0m0.5-61h0m1.5-28h0m0 6.5h0m0 4h0m0 64h0m1.5-56h0m-0.5 7h0m0 49h0m0.5 0.5h0m0.5-83.5h0m0 6h0m0 4h0m-0.5 25h0m0.5 0h0m0 45.5h0m0 8h0m1-54h0m0 80.5h0m0 5h0m2.5-89.5h0m-0.5 3.5h0m0.5 47.5h0m0.5-48h0m0.5 0.5h0m0.5-1h0m1.5-11.5h0m-0.5 4.5h0m-0.5 56h0m0.5 22h0m1-71h0m0 51.5h0m-0.5 2h0m1.5-1h0m0.5-78.5h0m0 5h0m0 1.5h0m0.5 17h0m1-22h0m0.5 76h0m0.5-58h0m-0.5 5.5h0m0 1h0m0.5 51h0m-0.5 21.5h0m0 8.5h0m0 4.5h0m1.5-103h0m0.5 4.5h0m-0.5 5.5h0m0 8h0m0 73.5h0m0 6h0m1.5-28h0m0 1h0m0.5 2h0m0.5 3.5h0m1-66.5h0m-0.5 4h0m0.5 0.5h0m0 3.5h0m0.5 57.5h0m0.5 10h0m0-70.5h0m0.5 62h0m0 0h0m1-62.5h0m0 4.5h0m0 4.5h0m1 55h0m0 0.5h0m0.5-71h0m0 5h0m0 2.5h0m0.5 63.5h0m0 2.5h0m0.5-55h0m2 63.5h0m0 5.5h0m1.5-70h0m0 55h0m0.5-54h0m3-4.5h0m-0.5 60h0m1.5-57.5h0m1 58.5h0m1-62.5h0m-1 3h0m0 1.5h0m0.5 1.5h0m-0.5 2.5h0m0.5 63.5h0m0 3h0m1-66.5h0m0 53h0m0 2.5h0m0 1h0m0.5-60h0m0.5 6.5h0m1.5 1.5h0m0 4h0m0-4.5h0m0.5 1h0m0 3.5h0m-0.5 42.5h0m0.5 6h0m1.5-75.5h0m-1 24.5h0m0.5 1h0m0 3h0m0 60.5h0m0 5.5h0m1-64.5h0m0.5 0h0m-0.5 40h0m0 41h0m0.5-80h0m0.5 0h0m0 40.5h0m0.5-40.5h0m0.5 39h0m0 3h0m-0.5 1.5h0m1 1h0m1-43.5h0m0 0.5h0m-0.5 41.5h0m1-45h0m0 2.5h0m-0.5 0h0m0.5 2.5h0m0 34.5h0m0 6.5h0m1.5-73h0m0 5h0m-0.5 28.5h0m-0.5 33.5h0m1-63.5h0m0 5.5h0m0.5 10.5h0m2 15h0m0 31.5h0m-0.5 25.5h0m0.5 2.5h0m-0.5 4h0m0.5 1.5h0m0 6h0m1.5-65.5h0m0 2.5h0m-0.5 24h0m0.5 0h0m-0.5 1h0m1-56h0m0 5h0m0.5 19.5h0m-0.5 1.5h0m0 5h0m0 0h0m0 0h0m-0.5 0.5h0m0.5 0h0m-0.5 0h0m1 0.5h0m-0.5 23.5h0m0 3h0m0.5-26.5h0m0 1h0m1 0h0m-0.5 0.5h0m0.5 0h0m0 21h0m-1 2h0m0 4h0m1.5-4.5h0m1-23h0m1.5 0h0m0.5 0.5h0m0 22h0m1-24.5h0m-0.5 24.5h0m0.5 0.5h0m0 0.5h0m0.5 0h0m-1 4h0m0.5 5h0m0.5 0.5h0m0.5-8.5h0m0.5-48.5h0m0 16.5h0m0.5 4.5h0m0 0h0m0 0.5h0m0.5 0h0m-0.5 1.5h0m0 1h0m0 1h0m0 24h0m0 2h0m0 26.5h0m0 4h0m0.5-66h0m0 4.5h0m0 1.5h0m0.5 5h0m0 21.5h0m-0.5 15.5h0m0 4h0m1.5-87.5h0m0 3.5h0m0 5h0m0 1.5h0m-0.5 2h0m0 4.5h0m1.5 29.5h0m1 39h0m1.5-53h0m-0.5 6h0m0 2h0m0.5 1.5h0m0 0h0m-0.5 0.5h0m0 1h0m-0.5 25.5h0m0.5 2h0m1-39h0m0 6.5h0m0 0.5h0m-0.5 4.5h0m0 26.5h0m0.5 2.5h0m-0.5 0h0m0.5 0.5h0m0 0h0m0 1h0m0.5 0h0m-1 7.5h0m1.5-42h0m0 33.5h0m1 7.5h0m0 0.5h0m0 6.5h0m0.5-46h0m0.5 38h0m0 4.5h0m1.5-12.5h0m-0.5 0.5h0m1-34.5h0m0.5 32.5h0m0 0h0m-0.5 4.5h0m1-33.5h0m-0.5 0h0m0.5 27.5h0m-0.5 2h0m1.5-30h0m0.5 1h0m-0.5 27.5h0m0 11h0m0.5-11.5h0m0.5 6.5h0m-0.5 3.5h0m3-35.5h0m1-10.5h0m0 3.5h0m-0.5 1.5h0m0 0h0m0 0.5h0m0 4h0m-0.5 1.5h0m0.5 1.5h0m0.5 23h0m0 1.5h0m-1 2h0m0.5 8.5h0m0.5-47.5h0m0.5 12h0m-0.5 1h0m0.5 24h0m2-3h0m1.5-1.5h0m0.5-23.5h0m-0.5 3.5h0m0.5 30.5h0m0.5-32.5h0m2-11h0m-0.5 33.5h0m1-23.5h0m0 0.5h0m0 22.5h0m0 1h0m0 0.5h0m0.5 8.5h0m0 5.5h0m0-14.5h0m1.5 9h0m1-38.5h0m0.5 1.5h0m0 29.5h0m-0.5 0h0m0 0h0m0.5 0.5h0m-1 2.5h0m1.5-31h0m0.5 0h0m0 39h0m0-43h0m0 0.5h0m0 3h0m0.5 2h0m1-8h0m0 7h0m0 34.5h0m-0.5 2.5h0m1.5-44.5h0m0.5 7h0m-0.5 3h0m0.5 1.5h0m0 0.5h0m0.5-11.5h0m0 40.5h0m0 0h0m0 0.5h0m1.5-51.5h0m0 5.5h0m0 5h0m0 1h0m1 11h0m-0.5 25h0m0 1.5h0m1-27.5h0m0.5 22.5h0m-0.5 6.5h0m1-6h0m0 0.5h0m2.5-34.5h0m1 11h0m-0.5 21h0m0 0.5h0m0.5 0.5h0m-0.5 12h0m0.5-54h0m1 12.5h0m0 29h0m0.5-37h0m0 5h0m0.5 31.5h0m1-22.5h0m1-1h0m-0.5 1.5h0m0.5 1.5h0m-0.5 22h0m0.5 1h0m-0.5 1h0m0.5 2.5h0m0.5-27.5h0m-0.5 2h0m0.5 21h0m0 2h0m1-22.5h0m0 19h0m1-19h0m-0.5 19.5h0m1-18.5h0m3 0h0m0 20h0m1-22h0m0 1.5h0m0 22h0m1 11.5h0m1.5-51.5h0m0 4.5h0m0.5 35.5h0m0.5 55h0m0 34.5h0m1-142.5h0m0 29.5h0m0 0h0m1.5-8.5h0m-1 5.5h0m1 2.5h0m-0.5 1h0m-0.5 0h0m1 18h0m0 4h0m-0.5 0.5h0m0 0.5h0m0 1h0m0.5 0h0m0 3h0m-0.5 1h0m0.5 0h0m-1 1h0m1.5-34h0m0.5 2.5h0m-0.5 0.5h0m0 20h0m-0.5 2h0m0 0h0m0 1h0m0 0.5h0m0.5 0h0m-0.5 1h0m0 1h0m0.5 40h0m0.5-65.5h0m0.5 19h0m0 0.5h0m-0.5 8h0m0.5 8h0m-0.5 56h0m0 2h0m0 6h0m1-80h0m0.5 4.5h0m1.5 45.5h0m0 5h0m2-77h0m-0.5 1.5h0m0 25.5h0m0.5-5.5h0m1 2.5h0m0.5 43.5h0m0 1h0m0 5h0m0 5h0m1.5-87.5h0m0.5 9.5h0m0.5 27h0m-0.5 2.5h0m1.5-4.5h0m0 3h0m-0.5 1.5h0m0.5-28.5h0m0.5 93h0m0 4.5h0m2-98h0m0.5 3h0m0 19h0m0.5-20.5h0m0 1.5h0m-0.5 20.5h0m1-39.5h0m0.5 20.5h0m0 0h0m-0.5 0h0m0.5 16.5h0m-0.5 0.5h0m2.5 61h0m0 4h0m0 6.5h0m0 3.5h0m0 10.5h0m1.5-102.5h0m1-12h0m-0.5 1h0m0.5 10h0m-0.5 1h0m0 0.5h0m0 0h0m-0.5 0h0m0.5 15.5h0m-0.5 0h0m0.5 0.5h0m0 1h0m0.5 1.5h0m0 1h0m-0.5 1.5h0m0 2h0m0.5 3h0m0 52.5h0m0 3.5h0m0-101.5h0m0 6.5h0m0.5 5h0m0.5 2.5h0m-0.5 2h0m0 1h0m-0.5 0.5h0m0.5 1h0m-0.5 0.5h0m0 18h0m0 1h0m0 3h0m0 1.5h0m1-31h0m0.5 33.5h0m1-31h0m0.5 0.5h0m-0.5 25h0m0.5 3h0m-0.5 2h0m0.5-29.5h0m0 24.5h0m1.5-32.5h0m1.5 8.5h0m-0.5 37.5h0m0.5 1h0m2-40h0m-1 26.5h0m1 2.5h0m0.5-0.5h0m-0.5 13.5h0m0 3.5h0m0.5 34h0m1-52h0m1-25.5h0m0 26h0m0.5 0.5h0m0.5 4h0m2.5-30.5h0m-1 25h0m0.5 27h0m0 6.5h0m1-60h0m0 1.5h0m0 0h0m-0.5 25.5h0m1-33.5h0m0 0.5h0m0 35.5h0m1 1h0m0.5-28.5h0m0 0h0m1-20.5h0m-0.5 21h0m0.5 27h0m0 0.5h0m-0.5 6h0m3-43h0m0 5.5h0m0 0.5h0m0 2h0m0 0.5h0m-0.5 0.5h0m0.5 30h0m-0.5 19.5h0m0.5-75.5h0m1 13h0m-1 0.5h0m0.5 2.5h0m0 0h0m0 3h0m0 1h0m0 37.5h0m0.5 4.5h0m-0.5 0h0m0 4.5h0m1.5-48.5h0m-0.5 3h0m-0.5 2h0m0.5 0.5h0m0.5 25.5h0m-0.5 1h0m0 0.5h0m0 0.5h0m0.5 0.5h0m-0.5 1h0m0 0h0m0 0h0m0 3h0m0 2.5h0m0 2h0m0 2h0m0.5 12.5h0m0 3.5h0m1-54.5h0m0 26.5h0m-0.5 0h0m-0.5 0.5h0m2-50h0m2 49.5h0m-0.5 0h0m1-27h0m0 1h0m0.5 0h0m-0.5 0.5h0m0 25h0m0 0.5h0m0 3.5h0m0 2h0m0 1.5h0m1-55.5h0m-0.5 22.5h0m1 0h0m-0.5 25.5h0m0 0.5h0m0.5 2.5h0m-0.5 0.5h0m-0.5 1.5h0m0.5 1h0m0 5h0m0.5-8.5h0m0.5 2.5h0m1.5 19h0m0 3.5h0m2-54h0m-0.5 32h0m0.5 2.5h0m1-60h0m0 4.5h0m0 6.5h0m0 50h0m0.5 2h0m1.5-41.5h0m-0.5 5h0m0 39h0m1-39.5h0m0.5 0.5h0m-1 0h0m0.5 38h0m1-36.5h0m0 37h0m0 13h0m1-72h0m0 22.5h0m-0.5 50h0m1.5-50h0m0 38h0m-0.5 0h0m1 4h0m0 7h0m-1 4h0m0.5 7.5h0m0 5h0m0 4h0m1-112.5h0m0 20h0m0.5 3h0m0 1.5h0m-0.5 2h0m-0.5 16.5h0m1 38.5h0m-0.5 0h0m-0.5 0.5h0m1 0h0m-0.5 7.5h0m0.5 10h0m-0.5 7h0m0 9h0m1-116.5h0m0 5h0m0 3.5h0m-0.5 13.5h0m0.5 9.5h0m-0.5 5h0m0.5 0.5h0m0.5 1h0m0 0h0m-0.5 0h0m-0.5 2h0m1 3h0m-1 0.5h0m0 39h0m0 3h0m1 1.5h0m0 1.5h0m-1 15.5h0m0.5 3h0m0 1h0m1-113h0m0 4.5h0m-0.5 40.5h0m0 1.5h0m0.5 60.5h0m1.5-78.5h0m0 4h0m-0.5 5h0m-0.5 98.5h0m0 3.5h0m1.5-34h0m0 27.5h0m1-136h0m0 4h0m0 8h0m0 109h0m0 5.5h0m0.5-92.5h0m1 6h0m-0.5 76.5h0m0 3h0m0.5-83.5h0m0 4h0m0.5 1h0m0 69.5h0m0.5 11.5h0m0 6h0m-0.5 2h0m0 7h0m0 3h0m0 6h0m1-104.5h0m0 72.5h0m1 3h0m1 52.5h0m1-141.5h0m0 0.5h0m0.5 10h0m-0.5 1h0m0 83h0m1.5-108.5h0m0 4.5h0m-0.5 23.5h0m0.5 3.5h0m0 0.5h0m-0.5 68h0m0.5 1.5h0m0 9h0m0.5-83.5h0m0 6.5h0m1-18h0m0.5 6.5h0m0 5.5h0m0 95.5h0m0 6h0m-0.5 45.5h0m1-198h0m0 5h0m0 4h0m-0.5 110.5h0m0.5 3h0m1-115.5h0m0 49.5h0m-0.5 60.5h0m0 4.5h0m1 10.5h0m-0.5 0.5h0m1-76h0m0 66.5h0m1.5-71.5h0m-0.5 66h0m0 7.5h0m0 7.5h0m0 1h0m1-79.5h0m0 2h0m0.5 62h0m-1 5h0m0.5 10h0m-0.5 36.5h0m1.5-149.5h0m0 6h0m0 0.5h0m0 9.5h0m0 15h0m0 66.5h0m1 2.5h0m0 0.5h0m-0.5 7h0m0.5 4h0m0 0.5h0m0.5-129.5h0m1 40h0m-0.5 0h0m0 6h0m1.5-13h0m0 6h0m-1 80h0m1 3h0m1-2.5h0m0 13h0m0 5h0m0-92.5h0m0.5 75.5h0m-0.5 23.5h0m1-145h0m0.5 128h0m0.5 1.5h0m0 0h0m1-133h0m-1 30.5h0m0.5 7h0m0 4.5h0m0 10.5h0m0.5 78.5h0m0-94.5h0m0 4.5h0m0 84h0m0.5 6.5h0m1-88h0m-0.5 93.5h0m1 4h0m0 6.5h0m1-103.5h0m-0.5 9h0m0.5 78h0m-0.5 77h0m1-81h0m-0.5 0.5h0m1 5.5h0m-0.5 1.5h0m0 4.5h0m1-89h0m0 1h0m0 87h0m0.5-130.5h0m0 7h0m0.5 19h0m0 6h0m0 3h0m0 5h0m0 90.5h0m0 39.5h0m0 3h0m0 7h0m1.5-180h0m-0.5 40.5h0m0.5 5h0m-0.5 79.5h0m0 18h0m0 8h0m0 3h0m0 5h0m0 2.5h0m0 6.5h0m0 4h0m0 9.5h0m1-146h0m0 106.5h0m0 4h0m0 9h0m0 4.5h0m1-26.5h0m0 38.5h0m0 1.5h0m0 4.5h0m0.5-157.5h0m0 5.5h0m0 7h0m0.5 13.5h0m1-4.5h0m-0.5 4h0m0 79.5h0m0 7h0m0 7.5h0m0 3h0m0 7.5h0m1-115.5h0m0.5 12.5h0m0 0h0m0.5 80h0m0 0h0m0 1.5h0m-1 1h0m0.5 1h0m1.5-104h0m-0.5 13.5h0m0 124h0m0 5h0m0.5-133h0m1 2h0m0 3.5h0m-1 82h0m1 8.5h0m0-92.5h0m1 2h0m-0.5 1.5h0m-0.5 2.5h0m1 127h0m0.5-188.5h0m0 6h0m0 52.5h0m0.5 80h0m-0.5 10.5h0m-0.5 11.5h0m0 5.5h0m0 18.5h0m0 4h0m1.5-149.5h0m0 3.5h0m0 4h0m0 14h0m-0.5 91h0m1.5-147.5h0m0 3.5h0m0 3h0m0 8.5h0m0.5 118h0m-0.5 8.5h0m0 4.5h0m0 4h0m0 5.5h0m0.5 15.5h0m0 6h0m-0.5 6.5h0m0 8h0m0 3.5h0m0 4.5h0m1.5-143h0m0.5 77h0m0 9.5h0m1-110h0m0 6h0m0 5h0m0.5 7.5h0m-0.5 6h0m0 75.5h0m0.5 10h0m1-123h0m0 6.5h0m0 6h0m0 6.5h0m-1 14h0m0.5 93.5h0m-0.5 35.5h0m0 5h0m1-176.5h0m0 31.5h0m0.5 7.5h0m-0.5 10.5h0m1 1h0m0 3h0m-0.5 67.5h0m0 4.5h0m0 5.5h0m0 3h0m0 4h0m0.5-124.5h0m0 6h0m0 23.5h0m1 4h0m-0.5 0.5h0m-0.5 3h0m1 3h0m-1 76.5h0m1.5-116h0m-0.5 17h0m1 16h0m-0.5 73.5h0m1.5-84.5h0m-1 1h0m1 4h0m-0.5 4h0m-0.5 2h0m0.5 1.5h0m0 5.5h0m0 78.5h0m0 29.5h0m0 4h0m1.5-134h0m-1 2.5h0m0 8h0m0.5 0h0m0 6h0m0 6h0m0 0h0m0 67.5h0m0.5 18.5h0m0 6h0m0 10h0m0 3h0m0-170.5h0m0 4.5h0m0 4h0m0.5 22.5h0m0.5 16.5h0m-1 7h0m1 5h0m-0.5 0.5h0m0 1h0m0.5 4h0m-0.5 0.5h0m0 0h0m0 83.5h0m0 10h0m0 33h0m0 6h0m0.5-147.5h0m0.5 14.5h0m-0.5 70h0m0.5 3h0m0 7.5h0m0.5 8h0m0 6.5h0m0.5-173.5h0m0 3h0m0 4.5h0m0 13h0m-0.5 1.5h0m0 3h0m0.5 35h0m0.5 0h0m0 9.5h0m0 80h0m-0.5 1h0m0 1h0m0.5 32.5h0m0 4h0m1-119h0m-0.5 81.5h0m0 9.5h0m0 3h0m0 0.5h0m0 0.5h0m0 6h0m0 2h0m0 7h0m1.5-125h0m0 12.5h0m0 0.5h0m-0.5 78.5h0m0 15h0m0 6.5h0m0 8h0m0 6.5h0m0 3.5h0m0 7.5h0m0 4.5h0m1-152.5h0m0 3.5h0m0 3.5h0m0 9.5h0m-0.5 3h0m0.5 80h0m0 15.5h0m0 3h0m1-151h0m0 11.5h0m0 6h0m0 181.5h0m1-139h0m-0.5 72.5h0m0 0h0m2-76.5h0m-1 4.5h0m0.5 73h0m0 1h0m0 5.5h0m0 1.5h0m-0.5 37h0m1-134h0m0.5 2.5h0m0.5 4h0m0 83.5h0m-0.5 3.5h0m-0.5 44.5h0m1.5-151.5h0m0 8.5h0m0 8h0m0 3.5h0m0.5 3.5h0m-1 4h0m1 76h0m-0.5 8h0m0.5 1h0m-0.5 54h0m0.5 2h0m-0.5 4h0m1.5-164h0m-0.5 95.5h0m0.5-101.5h0m0 5h0m0 17.5h0m0 0h0m0.5 0h0m0.5 88.5h0m0.5 38h0m0 3h0m0 4.5h0m0 6h0m1-140h0m0.5 81h0m0 1h0m-0.5 15.5h0m1-163.5h0m0 4.5h0m0 5.5h0m0.5 48.5h0m-0.5 2h0m0.5 3h0m-0.5 0.5h0m-0.5 1h0m0.5 83.5h0m0 4h0m0.5 0.5h0m0 9.5h0m2-12.5h0m-1 16h0m1 1h0m0 5h0m-1 1h0m1 45.5h0m0 3h0m0-212.5h0m1 9h0m0 5h0m-1 10.5h0m0 5h0m0.5 25h0m-0.5 126.5h0m0 4.5h0m0 7h0m0 5.5h0m1.5-228h0m0.5 168.5h0m-1 26h0m0 7.5h0m0 5.5h0m2-200.5h0m0 4h0m0 7.5h0m-1 58.5h0m0.5 10h0m0 88h0m0 11h0m0 6h0m0 5h0m0.5 20.5h0m0 1.5h0m0 7h0m0.5-200.5h0m0 4h0m0.5 147h0m0-89.5h0m0.5 81h0m0 1.5h0m0 0.5h0m-0.5 0.5h0m1.5-127.5h0m0.5 20.5h0m0 4.5h0m0 4h0m0 1.5h0m-0.5 4h0m0.5 87.5h0m0 2.5h0m-1 1.5h0m1 1.5h0m-1 1.5h0m0.5 1h0m0 2.5h0m0.5 2h0m-0.5 5.5h0m0.5-101h0m1-6.5h0m0.5 10.5h0m0 83.5h0m0.5 9h0m1-161.5h0m0 4.5h0m0 2h0m-0.5 60.5h0m0.5 3h0m-0.5 75.5h0m0 1.5h0m0.5 13.5h0m0 6.5h0m0 55h0m-0.5 18h0m1-179.5h0m0 8h0m0 5.5h0m0.5 71.5h0m1 14.5h0m0-85.5h0m1 72h0m-1 9.5h0m0.5 0h0m1-6.5h0m0 20h0m0 1.5h0m0 7.5h0m0 4h0m1.5-138h0m0 6h0m0 1h0m-1 19h0m0.5 2h0m-0.5 75h0m0 0h0m0 9h0m0 6h0m1.5-151.5h0m0 6.5h0m0 133h0m0 20h0m0 6h0m-0.5 16.5h0m0 5.5h0m0 3.5h0m0 5.5h0m2-57h0m-1 1.5h0m1 13h0m0 5.5h0m0 5h0m0 11.5h0m0.5-249h0m0 121.5h0m0 11.5h0m0 73h0m0 0h0m0 4h0m0 1.5h0m0 5h0m-0.5 5.5h0m0 0.5h0m0 4.5h0m0 2.5h0m0 2.5h0m0 0h0m0 4.5h0m0.5 4.5h0m0 2.5h0m0 6h0m1-44.5h0m0.5-0.5h0m1 6h0m-0.5 1.5h0m-0.5 8.5h0m1.5-92h0m0 5h0m0 78.5h0m0 0.5h0m-0.5 9.5h0m0 4h0m0 16h0m0 4h0m0.5 15h0m0 5.5h0m1-214.5h0m0.5 62h0m-1 18h0m1 74.5h0m0 2.5h0m0 4h0m0 27.5h0m0 7.5h0m0 4.5h0m0.5-187h0m-0.5 28h0m1 24.5h0m0 5h0m0 4h0m-0.5 1.5h0m0 80.5h0m-0.5 6.5h0m0.5 6h0m0 52.5h0m0 7h0m0.5-162.5h0m0.5 16.5h0m1-70.5h0m0 5.5h0m0 3.5h0m0 1h0m0 53.5h0m0.5 93h0m1-128h0m0 4.5h0m0 114.5h0m-0.5 2h0m0 3h0m0.5 7.5h0m-1 5h0m0 6h0m2-103.5h0m-1 80h0m0 7.5h0m1 66h0m1.5-216.5h0m0.5 147.5h0m-0.5 46h0m0 11h0m1-146.5h0m-0.5 8.5h0m0.5 75.5h0m0 6.5h0m-0.5 3.5h0m0 3.5h0m0.5 1.5h0m1.5-130h0m0 6h0m0 6.5h0m0 3h0m0 115.5h0m1-143h0m0 5h0m-0.5 49h0m0 72h0m0.5 18h0m0 5.5h0m0 6.5h0m0 7h0m0 9.5h0m0.5-137.5h0m0 96h0m0.5 6h0m-1 0.5h0m1-90.5h0m0.5 94h0m0 6h0m0.5-155h0m0 4.5h0m0 3h0m0.5 53.5h0m0 73h0m0 1h0m0 12.5h0m1-103h0m0 17h0m0 74h0m1-74.5h0m-0.5 0h0m1 88h0m0 4.5h0m0-92.5h0m0 0h0m1 90.5h0m0.5-94.5h0m0 2.5h0m-0.5 74h0m0.5 11h0m-0.5 1h0m0.5 2h0m0.5-91.5h0m1 6h0m-0.5 73h0m-0.5 5h0m1.5-110.5h0m0 3.5h0m0 8h0m0 3h0m0 110h0m0 3h0m0 2h0m0 2.5h0m0 1.5h0m0 6h0m1.5-118h0m0.5 96h0m0 0.5h0m0 5h0m1-92.5h0m0.5 76h0m-0.5 22h0m0 4h0m-0.5 5h0m0.5 2h0m0 14h0m1-159.5h0m0 6.5h0m0 106h0m0 0.5h0m0 3h0m0 30h0m0.5-114h0m0.5 4h0m0 77.5h0m-0.5 1h0m0.5 6.5h0m-0.5 1.5h0m0 9.5h0m1.5-97h0m0 84.5h0m0.5 10.5h0m-0.5 2.5h0m1.5-100h0m0 115.5h0m0-36.5h0m0 1h0m0.5 11.5h0m0 3.5h0m0.5-103h0m0.5 7h0m0 0.5h0m1-6.5h0m0.5 94.5h0m0-125h0m0.5 116.5h0m1-117.5h0m0 5h0m-0.5 33.5h0m0 0h0m0 2h0m0 73h0m0.5 2h0m0 0h0m0 3h0m1-87.5h0m-0.5 11h0m0.5 79h0m1-78.5h0m0 69.5h0m0 9.5h0m1.5-95h0m0 92.5h0m1-77h0m-1 0.5h0m1 1h0m-0.5 67.5h0m0 0.5h0m0.5 0.5h0m0 7.5h0m0.5-81.5h0m0.5 0.5h0m-0.5 80h0m0 12.5h0m0.5 3h0m0 8h0m0 4h0m0.5-19.5h0m0 11.5h0m0 3.5h0m0.5-30h0m0.5 0.5h0m0.5 23h0m0 3h0m0.5-110.5h0m-0.5 16.5h0m0.5 69.5h0m-0.5 10.5h0m1-100h0m0 3.5h0m0 16h0m1.5-10h0m0 8.5h0m-0.5 0.5h0m1 0.5h0m-1 70h0m1.5 2.5h0m0.5-87h0m0.5 11.5h0m-0.5 79h0m0.5 7.5h0m1.5-89.5h0m-0.5 2h0m0 0.5h0m0.5 73h0m-0.5 1.5h0m0.5 11h0m0-153h0m0.5 53.5h0m-0.5 86.5h0m0.5 1h0m0 12.5h0m1-146.5h0m0 6h0m0 48h0m0.5 10h0m-0.5 84h0m1-6h0m1-89h0m-0.5 3.5h0m0.5 6.5h0m0 71h0m1-72.5h0m-0.5 73.5h0m1 0.5h0m0.5-89h0m0 7h0m0.5 82h0m-0.5 5h0m0 8h0m0 4.5h0m0.5 21h0m-0.5 13.5h0m0 6h0m0 5h0m0 6h0m1-172.5h0m0 4h0m0 26h0m0 119h0m0 6h0m1.5-138.5h0m0 3.5h0m-1 84.5h0m0.5 18.5h0m1-11h0m-0.5 8.5h0m0 4.5h0m1-139h0m1 40h0m-0.5 82.5h0m1-77h0m0 125.5h0m0 6.5h0m1-134h0m0 77h0m1-100.5h0m0 4h0m0 5h0m-0.5 7h0m1 7h0m-1 3.5h0m0.5 70h0m0 7.5h0m0.5-83h0m1 7h0m-1 73h0m1-133.5h0m1 31.5h0m0 5h0m-0.5 7h0m0 9h0m0.5 76.5h0m-0.5 11h0m1-80.5h0m-0.5 65h0m1.5-66.5h0m-0.5 66.5h0m1 9h0m0.5 3.5h0m0 3h0m0 6h0m1-108h0m0 6.5h0m0 5h0m0 91.5h0m-0.5 6h0m1.5-89.5h0m0 1.5h0m0.5 107.5h0m0-42h0m1-86.5h0m0 4.5h0m0 6h0m0.5 73h0m0 0.5h0m0.5 0h0m0.5-74.5h0m0.5 12.5h0m0 61h0m-0.5 15h0m0.5 14h0m0-119h0m0 4h0m0 2.5h0m1 19h0m-0.5 65h0m0 0.5h0m-0.5 6h0m0 0h0m0.5 2.5h0m0 35h0m1-109.5h0m0.5 67h0m0.5-61h0m0 62h0m0 14.5h0m0 9.5h0m0.5-17h0m1 5.5h0m1-13.5h0m0 0.5h0m-0.5 7h0m0 9h0m0 5h0m0.5 13.5h0m0 5h0m0 6.5h0m0.5-113h0m-0.5 2.5h0m1 69h0m-1 4.5h0m1.5-74.5h0m0.5 1h0m0 4h0m-0.5 62.5h0m-0.5 25.5h0m1.5-92.5h0m-0.5 85.5h0m0 4h0m0 12h0m0 3.5h0m0 4h0m2-27h0m0 5h0m0.5-18.5h0m0.5 0.5h0m0-91h0m0 3.5h0m1 9.5h0m-1 119h0m0 5.5h0m2-165h0m0 38.5h0m-1 11h0m0.5 66h0m0 1.5h0m0 1h0m0.5 3.5h0m-0.5 15.5h0m0.5-97h0m1 2.5h0m1.5-13h0m0 6.5h0m-0.5 4h0m1 10h0m-0.5 63.5h0m0 13.5h0m0 4.5h0m0 13h0m0 8.5h0m0 3.5h0m0.5-112h0m0.5 4.5h0m-0.5 0.5h0m1 1h0m-0.5 64h0m0 3.5h0m0 0.5h0m0 3h0m-0.5 10.5h0m0 3.5h0m1-124.5h0m0 4.5h0m0 30.5h0m0.5 3.5h0m0 64.5h0m0 2.5h0m1-71.5h0m-0.5 3.5h0m1 3.5h0m-0.5 61.5h0m0 10.5h0m0 16h0m1 7h0m-0.5 11h0m1.5-118h0m0 81h0m0 22.5h0m0 5.5h0m1-134h0m0 5h0m0.5 4h0m-0.5 2.5h0m0.5 1h0m0 6h0m-0.5 1.5h0m0.5 0.5h0m-1 77h0m0.5 12.5h0m1.5-86h0m0 14h0m-0.5 78.5h0m1-130.5h0m0 3.5h0m0 8h0m0 9h0m-0.5 9h0m0.5 11h0m-0.5 8h0m0 65h0m1.5-94.5h0m0.5 95h0m0.5-75h0m0.5 1h0m-0.5 6.5h0m0 69h0m0 1.5h0m0 12h0m1.5-94.5h0m-1 79.5h0m1 13h0m1.5-107.5h0m0 6h0m0 4h0m0 1.5h0m-0.5 82.5h0m2-67.5h0m1-3h0m-0.5 76h0m1.5-77h0m-1 74h0m1.5-109h0m0 110h0m1-119h0m0 1.5h0m0 3.5h0m0 3.5h0m0 37.5h0m0 75h0m-0.5 6h0m0.5 14h0m1-92h0m0.5 5h0m0.5-30h0m0 3.5h0m0 1h0m0.5 21h0m0 3.5h0m-0.5 2h0m1-11h0m0.5 8.5h0m-0.5 4.5h0m0 64.5h0m0.5 9.5h0m0.5-91h0m0 9.5h0m0 3h0m0.5 64.5h0m-1 0.5h0m1-66h0m0.5 5.5h0m0 62.5h0m0 2h0m0 22h0m1-106.5h0m0 4h0m0 10.5h0m0 5.5h0m1.5-6h0m-1 1.5h0m1.5-18.5h0m0 82.5h0m1-92.5h0m0 4h0m0 9.5h0m-0.5 8.5h0m0.5 0.5h0m0.5 1.5h0m0 1.5h0m-0.5 6.5h0m0 66.5h0m0.5-117.5h0m0.5 10h0m0 4.5h0m-0.5 37.5h0m0.5 58h0m0 2h0m0 1h0m1.5-65.5h0m0 0.5h0m1.5-1.5h0m0 6h0m0 57h0m1.5-80.5h0m0 17h0m-1 1h0m0.5 2h0m-0.5 4h0m0.5 65.5h0m0.5 6h0m0 4.5h0m-0.5 23h0m0.5-106h0m1 1h0m0.5 63.5h0m1.5-69h0m-0.5 78.5h0m0.5 8.5h0m0 5.5h0m2-87h0m-0.5 62h0m-0.5 30h0m2.5-101.5h0m0.5 6.5h0m0 73h0m0.5-180h0m0 7h0m0 11h0m0 14h0m0 13h0m0 52.5h0m0 11h0m-0.5 65.5h0m0 6.5h0m2-76h0m-1 69.5h0m0 2.5h0m1.5 11h0m0 6.5h0m0.5-93h0m1 8.5h0m-0.5 67.5h0m1.5-66.5h0m-0.5 0h0m0.5 67h0m0.5-80.5h0m0.5 5h0m1.5 9.5h0m-0.5 4h0m0.5 0.5h0m-0.5 1h0m0.5 0.5h0m0 0.5h0m0.5 56.5h0m-0.5 0h0m0.5 5h0m0.5-68.5h0m-0.5 7h0m0.5 1.5h0m0 52h0m1-66h0m0.5 7h0m-0.5 1h0m0 63.5h0m0.5-64.5h0m0.5 6.5h0m0 51.5h0m0 0.5h0m1.5-53h0m-0.5 0.5h0m-0.5 0.5h0m0 0.5h0m1.5-2.5h0m0.5 1.5h0m-0.5 82h0m0 5.5h0m0.5 6h0m0 8.5h0m0 4.5h0m0.5-152.5h0m0 6.5h0m0 4.5h0m0.5 2h0m-0.5 24.5h0m0.5 75.5h0m0.5-70.5h0m-0.5 58h0m0.5 12.5h0m1.5-75h0m0 0.5h0m0 1.5h0m-0.5 61.5h0m0 3.5h0m0 6h0m1.5-101h0m-0.5 28.5h0m1-46h0m0 6.5h0m0 2h0m0.5 31.5h0m-0.5 5.5h0m0.5 0.5h0m-0.5 70h0m0.5-105h0m0 3.5h0m0 5.5h0m1 11.5h0m-0.5 14.5h0m0 0.5h0m0 67h0m0 51h0m0 8.5h0m0 4h0m0.5-132h0m0.5 81h0m0.5 20h0m0-103.5h0m0.5 67.5h0m0.5 31h0m0 4.5h0m0 22h0m-1 3h0m1 1.5h0m0.5-170.5h0m0.5 2h0m-0.5 2.5h0m0.5 0.5h0m-0.5 4h0m0 6h0m0 19.5h0m0.5 102.5h0m0 3h0m0-30h0m0.5 54.5h0m0 2h0m0 4h0m-0.5 0.5h0m0 0h0m0.5 5h0m-0.5 1.5h0m0 3h0m2-70h0m0-68h0m1 65h0m-0.5 1h0m0.5-1h0m1.5-66h0m0.5 65.5h0m0 0h0m-1 19h0m0 3h0m1.5-95.5h0m0 0.5h0m0 9.5h0m-0.5 64h0m1 8h0m0.5-72h0m-0.5 64.5h0m1.5-83.5h0m0.5 9h0m-1 11h0m1 62.5h0m0 5.5h0m1-6.5h0m1-77h0m0 4.5h0m-0.5 73h0m0.5-67.5h0m1 3.5h0m-1 63.5h0m0.5 16.5h0m0 6h0m1-104h0m0.5 17h0m0 1.5h0m-1 1h0m1 63.5h0m-0.5 13h0m0 1.5h0m0 1h0m0 6h0m0 6h0m-0.5 18h0m0 5h0m0.5 30.5h0m0 16h0m0 22h0m1-214h0m0 3h0m0 4h0m0 12.5h0m-0.5 8h0m0 2h0m0 66.5h0m0 2.5h0m0.5 0h0m0 1.5h0m-0.5 20h0m2-98.5h0m0 3h0m-0.5 2h0m-0.5 69.5h0m0.5 3.5h0m0.5-65.5h0m0.5 1.5h0m0.5 64h0m0.5-74h0m1 76h0m0.5-118.5h0m0 5.5h0m0 48.5h0m0.5 62.5h0m0 11h0m0 3h0m1-13.5h0m0 13h0m1.5-101.5h0m-0.5 5.5h0m-0.5 14h0m1 2h0m-0.5 1h0m-0.5 2.5h0m0 59.5h0m0.5 53h0m1.5-123.5h0m0 10h0m0.5-38h0m0 4h0m0 98.5h0m0 7.5h0m0 6.5h0m1-106.5h0m0 87h0m0 0.5h0m0.5 0h0m-0.5 0.5h0m0.5 0.5h0m1 2h0m-0.5 1h0m0.5 0.5h0m0 1.5h0m-0.5 2.5h0m0.5 19h0m0.5-85h0m-0.5 61h0m0 10h0m0 0.5h0m0 7.5h0m1-5.5h0m1 4.5h0m-1 0h0m1 5h0m-1 29h0m1-146h0m0.5 15h0m0 4.5h0m0 1.5h0m0 9h0m0 0.5h0m0 83.5h0m0.5-78h0m1 1h0m-0.5 6.5h0m0.5 7.5h0m0 44.5h0m0 1h0m-0.5 17h0m0.5 8h0m0.5-80.5h0m0 4h0m0 3h0m-0.5 0.5h0m0 1.5h0m0.5 1.5h0m0.5 39.5h0m0 1h0m0.5-75.5h0m0 5h0m-0.5 30.5h0m0 0h0m0 0.5h0m0.5 0h0m-0.5 51h0m0 4.5h0m0 2h0m0 3.5h0m1.5-83h0m0.5 27.5h0m0 0.5h0m0 0h0m0.5-4.5h0m0 2h0m-0.5 0.5h0m0.5 3h0m0 3.5h0m0 0h0m1-26h0m0 21h0m-0.5 4h0m0.5 0.5h0m-0.5 0h0m0 1h0m0.5 0.5h0m0 0h0m0 0h0m0 27.5h0m0 15h0m0.5-43h0m0.5 27h0m-0.5 26h0m0 3.5h0m0.5 6h0m0 6h0m1-102h0m0 4.5h0m0 6.5h0m0 2.5h0m0 58.5h0m1-39h0m0 0.5h0m0.5-6.5h0m0.5 35h0m0 8.5h0m-0.5 9h0m0 1.5h0m0 3.5h0m0 7h0m1-79h0m0 3.5h0m2 9.5h0m0 4.5h0m0 32.5h0m-0.5 8h0m1-45h0m0 4h0m0 0.5h0m-0.5 0.5h0m0.5 0h0m0 0.5h0m0 31h0m0.5 17h0m0 3h0m0.5-57.5h0m-0.5 4.5h0m0.5 34h0m-0.5 0.5h0m0 8h0m0.5 4h0m0 5h0m0.5-54.5h0m0 38h0m0 2h0m0.5 0.5h0m2.5-40.5h0m-0.5 36h0m0 2.5h0m0 0h0m0.5-37.5h0m1.5 43h0m0 1h0m0 5.5h0m0 3h0m1-51h0m0.5 0h0m0.5 31.5h0m0 0.5h0m1-32h0m1.5-10.5h0m0 8.5h0m0 32h0m0 0.5h0m0 2h0m0 1h0m0.5-5h0m-0.5 1.5h0m1.5-28.5h0m1 0h0m0 2h0m0 22h0m0 1.5h0m1.5-1.5h0m1-44.5h0m0 5.5h0m0 18h0m0 21.5h0m2-22h0m-1 0.5h0m1 22.5h0m0.5-39.5h0m0.5 15h0m-0.5 54.5h0m0 1.5h0m0 5h0m1-64h0m0 2.5h0m-0.5 2h0m0.5 24h0m0.5-30.5h0m0 5h0m0 27h0m2-39.5h0m-0.5 10h0m0 1.5h0m1 0h0m0 28h0m-0.5 1h0m2 26.5h0m0 7h0m0.5-22.5h0m0.5-40h0m0.5 29.5h0m1-49h0m0 5.5h0m0.5 12h0m-0.5 0h0m0.5 1.5h0m-0.5 33.5h0m1.5-55h0m-1 17h0m0.5 35.5h0m0 1h0m0.5 2.5h0m0 1h0m0.5-38.5h0m0.5 47.5h0m0 3.5h0m1.5-47h0m0.5 28.5h0m0.5-27h0m0.5-37h0m0 3.5h0m0 13.5h0m0 4.5h0m0 42.5h0m1.5-62h0m0 4.5h0m0 30h0m-0.5 29.5h0m0.5 3.5h0m0.5-52h0m0.5 19h0m1 0h0m0 31.5h0m0 4.5h0m0.5-41h0m1 1.5h0m0 2h0m0 1h0m-1 0.5h0m0 31.5h0m0 7.5h0m1.5-39h0m1 0h0m0.5 1h0m0 0.5h0m-0.5 28.5h0m0.5 0.5h0m0 11h0m0 4h0m0-43h0m0.5 24.5h0m-0.5 3.5h0m1-42.5h0m1.5-10.5h0m0 5h0m0 44h0m0 0h0m-0.5 8.5h0m2-54h0m0 5h0m-0.5 15.5h0m1.5 27.5h0m-1 16h0m0 6h0m2-56h0m-0.5 36h0m-0.5 11h0m2-46.5h0m-0.5 1.5h0m-0.5 2h0m0.5 0.5h0m0.5 32h0m-1 0.5h0m0.5 5h0m0 1h0m0 6.5h0m1.5-68.5h0m-0.5 15.5h0m-0.5 4.5h0m0.5 0.5h0m0 0h0m-0.5 1h0m0.5 34.5h0m0.5 1h0m-1 13h0m1-14.5h0m2-33h0m0.5 39h0m1-5.5h0m1.5 0.5h0m-0.5 0.5h0m1-63.5h0m0 6.5h0m0 3h0m0 2h0m-0.5 18.5h0m0.5 1h0m0 45h0m1-49h0m-0.5 0h0m0.5 3.5h0m-0.5 1.5h0m0.5 33h0m0.5 1h0m-0.5 1h0m0 0.5h0m-0.5 1h0m1-43h0m0.5 0.5h0m-0.5 5h0m0.5 1h0m0 39h0m-0.5 11h0m1.5-50h0m0 30h0m1.5-34.5h0m-0.5 3.5h0m0 31h0m0.5 10.5h0m-1 3.5h0m0 6h0m1.5-50.5h0m-0.5 1.5h0m0.5 0h0m0 35.5h0m0 2.5h0m0 2.5h0m0.5-12.5h0m2-66h0m0 5h0m1 27h0m0 6.5h0m0 0h0m0 0h0m-0.5 29.5h0m0.5 2h0m1-36.5h0m-0.5 0h0m0.5 4h0m-0.5 0.5h0m-0.5 30h0m0 2.5h0m1-62h0m0 6.5h0m1 17.5h0m-0.5 0.5h0m-0.5 4.5h0m1 35.5h0m-0.5 2h0m0.5 6h0m0-82h0m0 5.5h0m0 4.5h0m1 22h0m-0.5 2h0m0.5 2.5h0m-1 1.5h0m1-8h0m0.5 6.5h0m0.5 37.5h0m-1 1h0m0.5 8h0m0 3h0m0 1.5h0m0.5-49.5h0m1.5 35h0m0 18.5h0m1.5-82.5h0m0 4.5h0m0 5h0m-0.5 19.5h0m-0.5 35h0m2-58.5h0m0 3.5h0m0 8.5h0m0 1h0m0 44h0m1-46.5h0m-0.5 10.5h0m0.5 42h0m0-44h0m0 3h0m0.5 35h0m-0.5 6h0m0 5h0m1.5-80h0m0.5 66.5h0m-0.5 12h0m-0.5 0.5h0m0.5 6.5h0m1.5-58.5h0m0 9.5h0m-0.5 29h0m0 3.5h0m1-59h0m0 5.5h0m0.5 1.5h0m-0.5 1h0m0 47h0m0.5 0h0m-0.5 1h0m0 0h0m0 4h0m1-31h0m0.5 0h0m0.5 24.5h0m-0.5 0h0m4-34.5h0m0 10.5h0m0 26.5h0m-0.5 1.5h0m0.5-34h0m0.5 1.5h0m-0.5 1h0m0 29.5h0m0 0.5h0m0.5 2.5h0m0 16.5h0m-0.5 1.5h0m0.5 4h0m3-59h0m0.5 5h0m-0.5 31h0m0 0h0m0.5 1h0m0 4h0m-0.5 26h0m0.5-60h0m0 0.5h0m0 29h0m0 3.5h0m0.5 1h0m-0.5 5.5h0m1 4.5h0m0 8.5h0m2-49.5h0m0.5 44.5h0m0 9.5h0m0 4.5h0m0 4.5h0m0 6h0m1-91h0m0 3.5h0m0 3h0m0 4h0m0 11h0m-0.5 0h0m0.5 31h0m1.5 7h0m0 25h0m0.5-124.5h0m0 8.5h0m1 50h0m0 0h0m0.5 2h0m-0.5 1h0m0.5 0h0m-0.5 35.5h0m0 4.5h0m0.5-12h0m0.5 0.5h0m-0.5 2.5h0m0.5 2h0m1-40h0m0 8h0m1 25h0m1 41h0m0 8h0m1-71.5h0m0.5 0.5h0m-1 21.5h0m0.5 10h0m0.5-35.5h0m0 25.5h0m0 1h0m0.5 2h0m1-23h0m-0.5 1h0m0 17.5h0m1.5-0.5h0m1-34h0m0 6h0m0 12h0m1.5-1h0m-1 1h0m2 18h0m0-21.5h0m1 19h0m0.5-18h0m1-18.5h0m0 4h0m0 15.5h0m0 16.5h0m0 1h0m1.5 0h0m0.5-0.5h0m0.5 5h0m0.5-24h0m0.5 21h0m-0.5 3h0m1.5-23.5h0m-1 19.5h0m0.5 5h0m0 5.5h0m0 4h0m0.5-40.5h0m0.5 2h0m0 5.5h0m0 21.5h0m1-33.5h0m2 11h0m0.5 21.5h0m0-32.5h0m0 4h0m0.5 6h0m0 1.5h0m0.5 21h0m0 0.5h0m1-24h0m-0.5 0h0m0 1h0m-0.5 0.5h0m1 0.5h0m-0.5 0h0m-0.5 0.5h0m0 0h0m0.5 0.5h0m0.5 0.5h0m-0.5 20h0m-0.5 0.5h0m0 1h0m1-36.5h0m0 6.5h0m0 28.5h0m0 0.5h0m0.5 0.5h0m-0.5 3h0m0 4h0m2-27.5h0m-0.5 19h0m1 0h0m0.5 0h0m0.5-19.5h0m1-5.5h0m0 3.5h0m0.5 0h0m-0.5 1h0m0 24h0m1-28h0m0 0h0m0 0h0m0.5 0.5h0m0 0.5h0m-0.5 1h0m-0.5 0h0m0 25.5h0m1 1.5h0m0 4h0m0.5-36h0m-0.5 0h0m0.5 0.5h0m0 4.5h0m0.5 24.5h0m-1 2h0m0 2.5h0m1.5-38.5h0m0 33h0m1.5-44h0m-0.5 12h0m0 0h0m0 0.5h0m0 0.5h0m0 1.5h0m-0.5 1h0m0.5 32h0m0 0.5h0m1-45h0m0 5.5h0m0 1h0m-0.5 33h0m0 1h0m0.5 9h0m0.5-10.5h0m2-30h0m-1 37h0m1 7h0m1.5-50.5h0m0.5 5h0m-0.5 1.5h0m1-9.5h0m0 4.5h0m-0.5 2h0m1 1.5h0m-0.5 0.5h0m0 31.5h0m0 5.5h0m0.5 2h0m0.5-48.5h0m0 1.5h0m-0.5 3.5h0m0 1h0m0 0h0m0 1h0m0.5 34.5h0m0.5 13.5h0m0-56h0m0.5 41h0m0 0.5h0m1-42.5h0m-0.5 0.5h0m1.5-13.5h0m0 5.5h0m-0.5 6h0m0 42.5h0m0.5 0.5h0m1-52h0m0 5.5h0m1-7.5h0m0 5h0m-0.5 52.5h0m0.5 6h0m1-11.5h0m0 1h0m0.5-60.5h0m1.5 12.5h0m1.5-8h0m-1 7h0m1.5-3.5h0m-0.5 1h0m0 51h0m0.5 3.5h0m0.5-65h0m0.5 6.5h0m0.5 5.5h0m1.5-6h0m-0.5 57.5h0m1 7.5h0m0-69.5h0m1 8.5h0m-1 52.5h0m0.5 6h0m0 5h0m0.5-68.5h0m0.5 1.5h0m0 63.5h0m0.5-58.5h0m1 2h0m-0.5 3.5h0m0.5-0.5h0m0.5 2.5h0m0 42.5h0m-0.5 5h0m0.5 10h0m1.5-64h0m-1 6h0m0.5 0.5h0m0 0.5h0m0 0h0m-0.5 1h0m0.5 0h0m-0.5 1h0m0.5 0h0m0.5 1h0m-0.5 51.5h0m0.5-55h0m0.5 3h0m0 1h0m-0.5 39.5h0m0.5 2h0m1.5-7h0m0.5-1.5h0m0 5h0m1-38h0m0.5 32h0m0-43.5h0m1 12h0m1-4.5h0m-0.5 36h0m0 1h0m-0.5 4.5h0m1-37.5h0m0.5 36h0m1.5-44h0m-1 1.5h0m1 5.5h0m0 2.5h0m-0.5 35h0m0.5 0.5h0m-1 0.5h0m0.5 4.5h0m0.5 7.5h0m0 1h0m0.5-49.5h0m0.5 0.5h0m0 3h0m-1 33h0m0.5 4.5h0m0.5 5h0m-0.5 1.5h0m0.5-57h0m0 4h0m0 8h0m0 0h0m0 35.5h0m0.5 0h0m0.5 0h0m0 0.5h0m-1 2.5h0m0 7.5h0m0 2h0m0 4h0m2-63.5h0m0 4h0m-0.5 11.5h0m-0.5 1h0m0.5 1.5h0m0.5 29h0m-1 2.5h0m1-35h0m1.5 29.5h0m0.5-25h0m1 38h0m1-36h0m0.5 24.5h0m0.5-21.5h0m1 0h0m1-23.5h0m0 3.5h0m0 42h0m0-21.5h0m0.5 37.5h0m2.5-60.5h0m0.5 22h0m-0.5 22.5h0m1 3h0m0.5-28h0m0 30h0m1-32h0m0.5 0.5h0m0 0.5h0m0 29.5h0m-0.5 5h0m0.5-35.5h0m0 34h0m0.5 3h0m1-37h0m-0.5 30h0m2-1h0m1-35h0m-0.5 36h0m0 0.5h0m0.5-41h0m0.5 7h0m0.5 0h0m-0.5 1.5h0m0.5 1.5h0m-0.5 30.5h0m0.5 0.5h0m0 0.5h0m0 14h0m0.5-48h0m0 3h0m0 0.5h0m0 0h0m0.5 1h0m0 23.5h0m0 1h0m0 0.5h0m0 1h0m-0.5 4h0m0 0h0m0.5 0.5h0m-1 2h0m0 0h0m0.5 3h0m0 4h0m1-39h0m0.5 21.5h0m-1 1h0m0.5 1.5h0m0 5h0m0.5-7h0m2.5-20.5h0m1.5-4.5h0m-0.5 25.5h0m1-22.5h0m0 22h0m0.5-23h0m0 26.5h0m2-26.5h0m0 3h0m0 0.5h0m0 1h0m0 0h0m0 3h0m0 0.5h0m0 0.5h0m0 0h0m-0.5 0.5h0m0.5 1h0m0 0.5h0m0 3h0m0 0.5h0m0 0.5h0m0 2.5h0m0 0.5h0m-0.5 0h0m0.5 0.5h0m1-18.5h0m-0.5 2.5h0m-0.5 1h0m0.5 0h0m0 0.5h0m0 1h0m0 1h0m-0.5 0.5h0m0.5 0h0m0 0.5h0m-0.5 0.5h0m1 0h0m0 0h0m-0.5 0h0m0 0.5h0m-0.5 0h0m0.5 0.5h0m0 0h0m0 0.5h0m0 0h0m0 0.5h0m0.5 0.5h0m-1 0h0m0 0h0m0.5 0.5h0m0 0h0m0 0h0m-0.5 0h0m0 0.5h0m0.5 0h0m-0.5 0h0m0.5 0h0m-0.5 0.5h0m1 1h0m-0.5 0h0m0 0.5h0m0 0.5h0m0 1h0m0 0h0m0 0.5h0m0 0.5h0m0 0h0m0 0.5h0m0 0h0m0 0h0m0.5 1.5h0m-0.5 0h0m0 0.5h0m0 2h0m0 1h0m0 1.5h0m0 1h0m0.5 0.5h0m-0.5 0h0m0 12h0m0.5-33h0m0.5 1h0m0 0.5h0m0 0.5h0m-0.5 0.5h0m0 0.5h0m0.5 1h0m0.5 0.5h0m-0.5 0h0m0 0.5h0m0 0h0m0 0h0m-0.5 0.5h0m0 0h0m0 0h0m0.5 0h0m0 0.5h0m0.5 0h0m0 0h0m-1 0h0m0 0.5h0m0.5 0h0m-0.5 0h0m1 0h0m-1 0.5h0m1 0h0m-1 0h0m0 0.5h0m0.5 0h0m0 0h0m-0.5 0h0m0.5 0.5h0m0 0h0m-0.5 0h0m1 0.5h0m-0.5 0h0m0 0h0m0 0h0m-0.5 0.5h0m0.5 0h0m-0.5 0.5h0m0 0h0m0.5 0.5h0m0 0.5h0m0.5 0h0m0 0.5h0m0 0h0m-0.5 0h0m0.5 0h0m0 0.5h0m0 0h0m-0.5 0.5h0m-0.5 1h0m0 0h0m0.5 1h0m-0.5 0h0m0.5 0.5h0m0 0h0m0.5 0h0m-0.5 0h0m-0.5 0.5h0m0.5 0h0m0 1h0m-0.5 3.5h0m1-18h0m0.5 1.5h0m0 1.5h0m0 0.5h0m-0.5 0h0m0 1.5h0m0.5 0.5h0m-0.5 0h0m0 0.5h0m0.5 0h0m-0.5 0.5h0m0 0h0m0.5 0.5h0m0 0h0m0 0h0m0 0.5h0m-0.5 0h0m0.5 0h0m-0.5 0.5h0m0 0h0m0 0.5h0m0 0h0m0 0.5h0m0.5 0.5h0m-0.5 0.5h0m0.5 0h0m0 0.5h0m-0.5 0h0m0.5 0.5h0m-0.5 0.5h0m0 0h0m0.5 0.5h0m-0.5 1h0m0.5 0.5h0m0 0h0m-0.5 0h0m0.5 0.5h0m-0.5 1h0m0 1h0m0.5 1h0" stroke="#1f77b4" stroke-width="5.6" stroke-linecap="round" fill="none"/><path d="M117 263L118.2 264.9 119.5 266.4 120.8 266.7 122 267.9 123.2 268.6 124.5 266.9 125.8 271.5 127 266.1 128.2 265.2 129.5 265.5 130.8 261.5 132 253.5 133.2 253.8 134.5 255.4 135.8 255.9 137 258.3 138.2 257.6 139.5 257 140.8 254.8 142 258.7 143.2 261.1 144.5 258.5 145.8 257 147 257.9 148.2 265.1 149.5 270.4 150.8 280.3 152 275.7 153.2 277.9 154.5 272.8 155.8 269.8 157 266.8 158.2 266.6 159.5 265.1 160.8 267.7 162 274.8 163.2 279.4 164.5 273.9 165.8 271.4 167 264.7 168.2 264.9 169.5 258.4 170.8 258.8 172 261.9 173.2 258.5 174.5 258.1 175.8 258.2 177 261 178.2 268.3 179.5 262.7 180.8 261 182 259.4 183.2 260.6 184.5 259.1 185.8 258.4 187 254.8 188.2 251 189.5 267.8 190.8 274.5 192 269.9 193.2 269.7 194.5 267.2 195.8 254.8 197 236.5 198.2 254.2 199.5 263.4 200.8 270.9 202 278.2 203.2 271.5 204.5 265 205.8 253.7 207 240.6 208.2 253.3 209.5 253.9 210.8 265.4 212 269.6 213.2 270.2 214.5 273.9 215.8 275.1 217 277.7 218.2 272.5 219.5 257.5 220.8 237.9 222 239.7 223.2 239.5 224.5 243.6 225.8 243.9 227 266.5 228.2 285.6 229.5 290.9 230.8 282.1 232 279.1 233.2 267.4 234.5 261.4 235.8 253.2 237 262.7 238.2 267 239.5 269.3 240.8 267.1 242 266.4 243.2 264.4 244.5 266.2 245.8 252.4 247 252.9 248.2 260.6 249.5 271 250.8 266.2 252 256.3 253.2 262.6 254.5 271.8 255.8 279.9 257 281 258.2 276.9 259.5 261.3 260.8 254.3 262 245.1 263.2 252.3 264.5 254.8 265.8 259.2 267 262.8 268.2 256 269.5 251.1 270.8 262.1 272 270.6 273.2 270 274.5 263.3 275.8 261.3 277 269 278.2 275.7 279.5 276.9 280.8 269.8 282 259.3 283.2 240.3 284.5 235 285.8 238.6 287 244 288.2 245.6 289.5 252.5 290.8 246.7 292 250.8 293.2 252.3 294.5 248.9 295.8 253.9 297 254 298.2 254 299.5 253.3 300.8 254.7 302 256.1 303.2 249.4 304.5 252.3 305.8 248.4 307 252.5 308.2 251.7 309.5 252.6 310.8 251.6 312 251.8 313.2 248.9 314.5 254.3 315.8 249.7 317 251.5 318.2 247.3 319.5 249.4 320.8 253.3 322 256.3 323.2 253.1 324.5 254.3 325.8 256.6 327 256.4 328.2 255.3 329.5 255.7 330.8 259.1 332 256.9 333.2 254 334.5 255.6 335.8 254.2 337 256.4 338.2 256.3 339.5 256 340.8 256.8 342 257.9 343.2 257.1 344.5 258.9 345.8 262.6 347 260.8 348.2 256.7 349.5 262.1 350.8 258.8 352 257.3 353.2 262 354.5 256 355.8 256.6 357 258.6 358.2 260.1 359.5 256 360.8 256 362 256.6 363.2 257.2 364.5 258.9 365.8 259.1 367 255.3 368.2 253.8 369.5 259.1 370.8 256.3 372 260 373.2 263 374.5 259.7 375.8 258.9 377 263.6 378.2 264.8 379.5 267.7 380.8 272.1 382 266.6 383.2 264.4 384.5 261.8 385.8 263.4 387 259.1 388.2 257.3 389.5 254.6 390.8 251.2 392 249.9 393.2 251.3 394.5 247 395.8 253.7 397 249.8 398.2 250.3 399.5 252.9 400.8 254.6 402 251.1 403.2 251.9 404.5 251.5 405.8 245.4 407 248.7 408.2 250.4 409.5 249.9 410.8 253.8 412 253.1 413.2 252.5 414.5 247.6 415.8 250.3 417 248.2 418.2 246.7 419.5 252.3 420.8 248.6 422 247.6 423.2 255.3 424.5 254.3 425.8 249.6 427 251.9 428.2 249 429.5 249.6 430.8 248.8 432 252 433.2 251.8 434.5 255.2 435.8 255.1 437 253 438.2 254.2 439.5 257.3 440.8 261.4 442 261.5 443.2 260.3 444.5 257.1 445.8 264.2 447 263.8 448.2 264.2 449.5 265.2 450.8 264.3 452 265.2 453.2 266.6 454.5 269.2 455.8 265.5 457 263.7 458.2 257.3 459.5 260.8 460.8 254.7 462 256.5 463.2 252.8 464.5 253.7 465.8 253.7 467 254 468.2 254.9 469.5 255.5 470.8 259.8 472 258 473.2 261.2 474.5 254.6 475.8 257.5 477 256.4 478.2 260.8 479.5 263 480.8 260.3 482 262.2 483.2 264.5 484.5 266.2 485.8 266.9 487 266.4 488.2 268.7 489.5 267.4 490.8 271.4 492 277.5 493.2 268.5 494.5 269.5 495.8 266.9 497 264.2 498.2 264.7 499.5 260.8 500.8 259 502 264.2 503.2 261.5 504.5 259.3 505.8 258 507 262.2 508.2 259.7 509.5 263 510.8 264.1 512 260.8 513.2 260 514.5 264.8 515.8 262.5 517 265.2 518.2 264.3 519.5 262 520.8 259.9 522 261.8 523.2 260.6 524.5 262.5 525.8 261.9 527 259.1 528.2 267.6 529.5 266.6 530.8 269 532 268 533.2 263.4 534.5 266.4 535.8 269.2 537 268.5 538.2 265 539.5 267.1 540.8 267.2 542 263.8 543.2 267.7 544.5 262.3 545.8 268.3 547 266 548.2 268.3 549.5 264.4 550.8 265.4 552 258.3 553.2 262.4 554.5 262.8 555.8 257.7 557 263.1 558.2 260.3 559.5 256.9 560.8 252.8 562 254.8 563.2 252.8 564.5 250 565.8 253.5 567 248.9 568.2 247.6 569.5 249.8 570.8 249.7 572 248.4 573.2 245.1 574.5 243.5 575.8 245.1 577 244.5 578.2 245.8 579.5 248.8 580.8 245.7 582 249.3 583.2 244.1 584.5 246.9 585.8 243.8 587 245.7 588.2 248.4 589.5 242.9 590.8 242.8 592 246.1 593.2 247.7 594.5 246.2 595.8 246.1 597 240.1 598.2 242.5 599.5 245.8 600.8 240.4 602 245.7 603.2 249.7 604.5 253.5 605.8 256.5 607 257.7 608.2 256.8 609.5 258.5 610.8 259.9 612 265.1 613.2 262.5 614.5 260.8 615.8 260.5 617 266.4 618.2 267.8 619.5 266.8 620.8 263.2 622 263 623.2 263.5 624.5 263.7 625.8 267.4 627 269.6 628.2 268.1 629.5 269.8 630.8 270.8 632 266.7 633.2 266.9 634.5 257.4 635.8 259.1 637 259.1 638.2 258.5 639.5 255.5 640.8 257.7 642 255.5 643.2 257.1 644.5 256.6 645.8 253.1 647 250.7 648.2 246 649.5 247.9 650.8 248.3 652 244.6 653.2 251 654.5 248.4 655.8 255.1 657 250.7 658.2 249.9 659.5 256.5 660.8 253.7 662 253.9 663.2 255.1 664.5 259.5 665.8 254.4 667 252.8 668.2 250.5 669.5 256.3 670.8 247.6 672 252.4 673.2 249.4 674.5 253.2 675.8 252.8 677 249.3 678.2 251.8 679.5 247.1 680.8 247.5 682 248.7 683.2 247.5 684.5 245.5 685.8 246.8 687 246.7 688.2 246 689.5 249.5 690.8 250.5 692 252.2 693.2 251.3 694.5 253.4 695.8 256 697 260.2 698.2 258.8 699.5 263 700.8 265.3 702 266.5 703.2 263.9 704.5 259.2 705.8 260.1 707 259.4 708.2 256.5 709.5 255.6 710.8 257.4 712 256.6 713.2 257.7 714.5 251.5 715.8 249.2 717 256.3 718.2 258 719.5 255.5 720.8 260.1 722 261.3 723.2 257.5 724.5 264.1 725.8 264.1 727 262.8 728.2 260.2 729.5 267.4 730.8 265.4 732 270.7 733.2 263.7 734.5 261.8 735.8 264.9 737 256.8 738.2 256.8 739.5 250.3 740.8 247.9 742 248.4 743.2 248.4 744.5 240.4 745.8 240.8 747 241.3 748.2 241.1 749.5 239.9 750.8 244.8 752 246 753.2 247.4 754.5 243.6 755.8 242.5 757 245.9 758.2 243.7 759.5 244.6 760.8 243.5 762 247.8 763.2 247 764.5 243.8 765.8 247.2 767 244.5 768.2 246 769.5 247.1 770.8 253.4 772 252.3 773.2 250.2 774.5 252 775.8 251.5 777 251 778.2 250.2 779.5 251.7 780.8 253.3 782 253.3 783.2 253.4 784.5 251.1 785.8 249.9 787 245.9 788.2 247.8 789.5 245.5 790.8 243.7 792 241.8 793.2 240.2 794.5 238.7 795.8 239.3 797 234.4 798.2 235.2 799.5 235.7 800.8 236.1 802 236.9 803.2 231.6 804.5 235.7 805.8 235.7 807 234.1 808.2 235.2 809.5 231.1 810.8 232.7 812 227.4 813.2 229.6 814.5 225.9 815.8 224.7 817 220 818.2 223.2 819.5 217.9 820.8 213.3 822 212.2 823.2 207.3 824.5 207.2 825.8 203.2 827 202.1 828.2 203.2 829.5 204.9 830.8 208.4 832 212.3 833.2 215.5 834.5 215.8 835.8 220.4 837 225.9 838.2 228 839.5 225.3 840.8 225.7 842 229.9 843.2 229.4 844.5 228.6 845.8 231.3 847 232.2 848.2 227.2 849.5 229.6 850.8 229.4 852 234.4 853.2 231.5 854.5 236.4 855.8 236.7 857 237.2 858.2 239 859.5 242.1 860.8 238.9 862 244.9 863.2 245.2 864.5 243.9 865.8 246.3 867 243.8 868.2 241.6 869.5 240.7 870.8 240.3 872 238.4 873.2 237.1 874.5 237.6 875.8 241.1 877 237.8 878.2 235.7 879.5 241.9 880.8 239.9 882 233.4 883.2 238.3 884.5 237.9 885.8 239.6 887 238.9 888.2 243.1 889.5 238.9 890.8 243.1 892 237 893.2 242.8 894.5 243.9 895.8 241.4 897 241.2 898.2 238 899.5 243.8 900.8 245.1 902 243.2 903.2 245.6 904.5 244.2 905.8 244.6 907 246.6 908.2 248.1 909.5 250.3 910.8 251.5 912 250.9 913.2 248.4 914.5 252.3 915.8 250.6 917 251.3 918.2 248.9 919.5 247.9 920.8 248.8 922 248.7 923.2 252.7 924.5 248.3 925.8 251.5 927 247.3 928.2 246.7 929.5 250.4 930.8 250.4 932 250.1 933.2 248.8 934.5 249.7 935.8 247.7 937 249.7 938.2 250.9 939.5 248.1 940.8 250.2 942 246.1 943.2 248.7 944.5 248 945.8 247.9 947 245.1 948.2 244.7 949.5 247.3 950.8 245.7 952 251.7 953.2 250.4 954.5 252.7 955.8 245 957 249.2 958.2 251.9 959.5 243.9 960.8 249.7 962 253.9 963.2 248.3 964.5 253.6 965.8 254.2 967 250.7 968.2 250.9 969.5 250.2 970.8 252.4 972 254.9 973.2 256 974.5 250.3 975.8 253.5 977 251.8 978.2 251.6 979.5 250.1 980.8 251.3 982 250.5 983.2 251.3 984.5 252.7 985.8 246.2 987 250.8 988.2 247.6 989.5 248.4 990.8 246.7 992 241 993.2 237.3 994.5 234.6 995.8 236.3 997 238.6 998.2 237.3 999.5 240.8 1000.8 246 1002 247.7 1003.2 253 1004.5 256.3 1005.8 268.9 1007 266.4 1008.2 270.5 1009.5 271.7 1010.8 268.4 1012 262.5 1013.2 263.8 1014.5 270.4 1015.8 261.1 1017 258.6 1018.2 260.5 1019.5 255.1 1020.8 266.3 1022 273.9 1023.2 269.7 1024.5 269.7 1025.8 263.2 1027 264.5 1028.2 268.3 1029.5 266 1030.8 268.5 1032 266.6 1033.2 260.5 1034.5 259.9 1035.8 269.2 1037 276.7 1038.2 269 1039.5 272.7 1040.8 266.7 1042 261.2 1043.2 259.2 1044.5 268.4 1045.8 267.6 1047 267.1 1048.2 264.2 1049.5 260.1 1050.8 260.1 1052 255.2 1053.2 262 1054.5 266 1055.8 265.6 1057 268.1 1058.2 270.4 1059.5 268.3 1060.8 264.1 1062 260.9 1063.2 259.7 1064.5 260.4 1065.8 263.9 1067 267.3 1068.2 260.6 1069.5 261.3 1070.8 258.4 1072 267.1 1073.2 275.1 1074.5 269.8 1075.8 269.4 1077 268.3 1078.2 267.7 1079.5 259.6 1080.8 265.4 1082 264.7 1083.2 270.2 1084.5 267.8 1085.8 261.1 1087 269.8 1088.2 264.6 1089.5 265.8 1090.8 267.4 1092 260.2 1093.2 268.2 1094.5 275.8 1095.8 260.1 1097 263.4 1098.2 264.3 1099.5 267.3 1100.8 271.3 1102 262.8 1103.2 267.3 1104.5 272.5 1105.8 267.6 1107 266.8 1108.2 267 1109.5 266.1 1110.8 266 1112 264.3 1113.2 262.9 1114.5 264 1115.8 264.4 1117 263.7 1118.2 266.4 1119.5 263.4 1120.8 261 1122 260.9 1123.2 256.1 1124.5 251.3 1125.8 256 1127 255 1128.2 258.7 1129.5 259.1 1130.8 266.8 1132 266.6 1133.2 264 1134.5 263 1135.8 264.5 1137 268.3 1138.2 272.3 1139.5 272.8 1140.8 270.5 1142 266.4 1143.2 264.3 1144.5 265.9 1145.8 264.9 1147 272.2 1148.2 269.5 1149.5 268.3 1150.8 266.7 1152 263.6 1153.2 262.8 1154.5 262.6 1155.8 264 1157 266.4 1158.2 276.9 1159.5 269.3 1160.8 268.3 1162 268 1163.2 270.9 1164.5 269.5 1165.8 268.8 1167 267.1 1168.2 265.7 1169.5 267.7 1170.8 266.4 1172 266.3 1173.2 262.8 1174.5 266.4 1175.8 266.9 1177 267.5 1178.2 267.8 1179.5 266.3 1180.8 257.5 1182 264.6 1183.2 265 1184.5 263.1 1185.8 267.2 1187 267 1188.2 269.1 1189.5 271.4 1190.8 270.6 1192 268.8 1193.2 268.4 1194.5 272.2 1195.8 268.9 1197 270.2 1198.2 266.8 1199.5 265.6 1200.8 262 1202 264.2 1203.2 268.5 1204.5 270.2 1205.8 269.8 1207 266.3 1208.2 270.4 1209.5 272.5 1210.8 270.2 1212 271.5 1213.2 266.3 1214.5 269.5 1215.8 269.9 1217 266.6 1218.2 267.4 1219.5 263.6 1220.8 256.2 1222 261.1 1223.2 260 1224.5 261.9 1225.8 261.2 1227 263.1 1228.2 259.2 1229.5 268.3 1230.8 264.3 1232 264.2 1233.2 266.2 1234.5 266.8 1235.8 262.9 1237 266.8 1238.2 270.1 1239.5 266.7 1240.8 263 1242 271.9 1243.2 268.5 1244.5 263.2 1245.8 265.8 1247 262.8 1248.2 261.9 1249.5 268 1250.8 258.3 1252 258.4 1253.2 257 1254.5 265 1255.8 270.4 1257 267.3 1258.2 262.8 1259.5 260.8 1260.8 254.6 1262 257.3 1263.2 257 1264.5 258.1 1265.8 259.1 1267 266.9 1268.2 261 1269.5 259.6 1270.8 266.1 1272 265.5 1273.2 270.5 1274.5 269.9 1275.8 271.4 1277 274.3 1278.2 273.8 1279.5 275.3 1280.8 276.1 1282 275.1 1283.2 273 1284.5 274.5 1285.8 271.7 1287 275.4 1288.2 274.7 1289.5 269.7 1290.8 272.9 1292 272.5 1293.2 272.4 1294.5 272.5 1295.8 267.2 1297 269.6 1298.2 274.2 1299.5 267.9 1300.8 267.6 1302 275.2 1303.2 272.1 1304.5 277.7 1305.8 275.2 1307 276.6 1308.2 279.8 1309.5 279 1310.8 281.2 1312 278.5 1313.2 277.2 1314.5 275.7 1315.8 278.6 1317 284.8 1318.2 279.1 1319.5 283.4 1320.8 280.2 1322 283.8 1323.2 282.3 1324.5 282.8 1325.8 287.8 1327 286 1328.2 286.1 1329.5 287.6 1330.8 286.7 1332 290.4 1333.2 292 1334.5 291.7 1335.8 287.1 1337 281.7 1338.2 281.9 1339.5 282.6 1340.8 279.6 1342 283.2 1343.2 285 1344.5 281.5 1345.8 286 1347 280.1 1348.2 275.2 1349.5 276.6 1350.8 273.1 1352 268.5 1353.2 264.6 1354.5 261.5 1355.8 267.8 1357 272.6 1358.2 274.6 1359.5 274.2 1360.8 281.3 1362 284.9 1363.2 286.3 1364.5 289 1365.8 289.2 1367 288.7 1368.2 288.9 1369.5 288.2 1370.8 292.5 1372 293.9 1373.2 294.9 1374.5 300.5 1375.8 294.3 1377 295.4 1378.2 297 1379.5 295.4 1380.8 297.8 1382 298.9 1383.2 298 1384.5 300 1385.8 294.1 1387 290.6 1388.2 290.5 1389.5 291.1 1390.8 282.9 1392 283.4 1393.2 285 1394.5 281 1395.8 280.9 1397 274.8 1398.2 274.1 1399.5 275.3 1400.8 274.2 1402 271.3 1403.2 277.2 1404.5 274 1405.8 268 1407 268.8 1408.2 268.5 1409.5 268.9 1410.8 266.2 1412 264.5 1413.2 262.6 1414.5 262.2 1415.8 264.4 1417 261.2 1418.2 263 1419.5 267.8 1420.8 271.1 1422 278.3 1423.2 280.3 1424.5 282.5 1425.8 281.7 1427 288 1428.2 290.2 1429.5 284.6 1430.8 283.3 1432 284.5 1433.2 282.5 1434.5 276.8 1435.8 275.6 1437 272.4 1438.2 269.8 1439.5 267.8 1440.8 265.8 1442 262 1443.2 263.8 1444.5 266.5 1445.8 260.1 1447 268.6 1448.2 266.5 1449.5 267.8 1450.8 269.6 1452 268.3 1453.2 269.3 1454.5 267.9 1455.8 267.2 1457 268.8 1458.2 269.9 1459.5 267.4 1460.8 266 1462 265.8" stroke="#ff7f0e" stroke-width="2.2" fill="none" stroke-linejoin="round"/></g><rect x="749" y="575.4" width="616" height="479" fill="#e8e8e8"/><path d="M749.5 575.4V1054.4M1364.5 575.4V1054.4" stroke="#dfdfdf" stroke-width="1"/><path d="M284.5 575.4V1054.4M452.5 575.4V1054.4M621.5 575.4V1054.4M789.5 575.4V1054.4M957.5 575.4V1054.4M1125.5 575.4V1054.4M1294.5 575.4V1054.4M116.5 1037.39H1462.5M116.5 977.39H1462.5M116.5 917.39H1462.5M116.5 857.39H1462.5M116.5 797.4H1462.5M116.5 737.4H1462.5M116.5 677.4H1462.5M116.5 617.4H1462.5" stroke="#b0b0b0" stroke-width="1.1" stroke-dasharray="1.1 1.8" fill="none"/><g clip-path="url(#cb)"><path d="M116.5 962v67m1-66v66m1-65v66m1-62v11m0 6v45m1-83v9m0 3v8m0 1v11m0 4v47m1-83v11m0 1v20m0 1v50m1-113v8m0 5v15m0 2v32m0 1v49m1-121v18m0 3v100m1-122v10m0 1v9m0 1v100m1-122v10m0 12v27m0 2v70m1-120v8m0 14v25m0 3v70m1-96v15m0 9v71m1-122v13m0 2v9m0 3v95m1-157v14m0 9v26m0 1v10m0 1v17m0 1v78m1-163v20m0 9v26m0 2v106m1-163v28m0 2v26m0 6v101m1-162v11m0 25v13m0 16v97m1-92v92m1-95v95m1-138v11m0 29v99m1-143v20m0 14v109m1-143v34m0 6v103m1-143v34m0 6v11m0 4v88m1-142v33m0 6v12m0 2v8m0 1v80m1-124v14m0 39v71m1-68v68m1-114v15m0 7v12m0 8v72m1-124v8m0 2v114m1-128v13m0 1v114m1-128v14m0 2v111m1-127v127m1-128v29m0 19v80m1-117v9m0 1v8m0 34v65m1-107v10m0 29v68m1-108v48m0 13v47m1-108v53m0 9v45m1-107v54m0 7v46m1-106v52m0 3v51m1-105v14m0 12v8m0 2v14m0 5v51m1-50v50m1-51v51m1-64v11m0 1v51m1-110v9m0 6v13m0 18v64m1-115v49m0 2v63m1-114v115m1-103v103m1-102v102m1-92v12m0 1v79m1-92v8m0 1v83m1-84v84m1-69v70m1-67v8m0 7v53m1-51v51m1-50v8m0 1v42m1-55v55m1-57v57m1-81v15m0 1v65m1-88v88m1-108v15m0 5v87m1-107v13m0 7v87m1-83v82m1-74v74m1-73v74m1-73v75m1-64v10m0 1v55m1-47v48m1-28v8m0 1v19m1-13v13m3-7v8m1-8v8m1-8v8m1-8v9m1-9v9m1-9v9m3-9v8m1-9v9m1-9v9m1-9v9m1-8v8m1-8v8m1-8v8m10-8v8m2-7v8m1-10v10m1-10v10m1-11v11m1-10v9m1-8v8m1-8v8m1-9v8m1-9v10m1-9v9m1-9v9m1-9v8m1-8v8m2-8v8m1-9v10m1-9v9m1-9v10m1-10v9m1-10v10m1-10v10m1-10v9m1-9v10m1-9v9m1-9v10m1-10v10m1-10v10m1-9v9m1-10v9m1-10v10m1-10v10m1-10v10m1-9v9m1-9v9m1-9v9m1-9v9m1-10v10m1-10v10m1-10v9m1-8v8m2-7v8m1-8v9m1-9v9m1-10v9m1-10v10m1-9v9m1-9v8m1-8v8m1-7v8m1-8v8m1-8v8m1-8v8m1-8v8m1-9v9m1-8v8m1-9v8m1-9v8m2-8v8m1-7v8m1-8v8m1-8v8m1-8v9m1-10v10m1-10v10m1-20v9m0 1v10m1-24v24m1-184v19m0 6v9m0 15v15m0 12v15m0 25v10m0 19v39m1-283v9m0 19v13m0 57v35m0 7v23m0 11v16m0 11v39m0 3v39m1-282v10m0 18v13m0 22v11m0 23v41m0 10v15m0 1v26m0 10v35m0 1v44m1-390v8m0 23v8m0 71v10m0 18v13m0 15v19m0 22v13m0 2v29m0 2v12m0 10v111m1-389v10m0 209v21m0 1v14m0 5v16m0 1v39m0 1v69m1-387v8m0 22v8m0 36v8m0 120v16m0 1v20m0 2v15m0 5v10m0 1v114m1-356v8m0 36v9m0 31v10m0 77v16m0 1v22m0 1v15m0 1v14m0 1v14m0 3v97m1-272v10m0 55v8m0 13v16m0 2v23m0 1v13m0 1v9m0 1v21m0 1v97m1-184v16m0 9v14m0 10v62m0 4v69m1-188v27m0 2v14m0 10v50m0 1v12m0 3v31m0 1v35m1-317v10m0 17v15m0 20v8m0 67v31m0 1v13m0 3v49m0 2v11m0 1v68m1-337v9m0 12v12m0 15v16m0 19v9m0 31v8m0 3v14m0 10v45m0 3v34m0 1v14m0 2v11m0 1v66m1-335v10m0 11v13m0 15v15m0 3v9m0 47v24m0 15v13m0 1v27m0 4v38m0 1v89m1-336v11m0 15v9m0 4v25m0 4v13m0 3v8m0 33v22m0 19v26m0 17v38m0 1v31m0 1v56m1-329v9m0 22v16m0 14v14m0 2v8m0 21v9m0 6v14m0 1v11m0 14v11m0 3v10m0 10v11m0 1v15m0 1v49m0 1v57m1-269v15m0 1v8m0 20v10m0 8v12m0 2v14m0 10v11m0 23v10m0 1v12m0 6v48m0 1v57m1-269v14m0 31v9m0 11v9m0 3v13m0 10v10m0 34v18m0 1v11m0 2v94m1-147v11m0 10v18m0 2v107m1-149v12m0 14v14m0 22v87m1-148v11m0 15v13m0 5v8m0 1v96m1-122v11m0 24v88m1-95v95m1-193v9m0 33v10m0 48v94m1-353v8m0 20v8m0 19v8m0 3v18m0 6v10m0 39v16m0 4v19m0 20v13m0 12v15m0 3v10m0 8v46m0 3v46m1-299v8m0 3v12m0 8v14m0 38v16m0 5v23m0 1v8m0 2v18m0 5v22m0 3v16m0 1v32m0 1v64m1-264v8m0 39v14m0 6v34m0 1v46m0 9v8m0 1v98m1-229v11m0 1v18m0 1v35m0 1v31m0 8v14m0 6v21m0 1v37m0 1v43m1-229v15m0 11v35m0 7v56m0 1v21m0 1v16m0 1v65m1-228v14m0 12v34m0 6v11m0 1v46m0 1v37m0 1v65m1-192v10m0 6v8m0 7v10m0 11v10m0 1v25m0 2v35m0 3v10m0 2v52m1-123v20m0 2v35m0 1v11m0 1v53m1-139v14m0 3v20m0 1v101m1-139v16m0 1v40m0 1v80m1-137v36m0 1v97m1-133v15m0 1v18m0 3v95m1-131v13m0 11v9m0 3v95m1-108v12m0 6v90m1-101v40m0 1v60m1-116v69m0 1v46m1-109v109m1-108v107m1-101v12m0 1v88m1-100v11m0 2v87m1-100v11m0 2v87m1-149v11m0 26v9m0 3v10m0 9v80m1-167v11m0 8v12m0 25v11m0 1v9m0 10v81m1-188v12m0 8v11m0 8v14m0 1v16m0 2v25m0 2v90m1-169v11m0 11v11m0 6v12m0 1v20m0 7v91m1-169v10m0 28v12m0 28v91m1-86v86m1-86v87m1-86v87m1-76v76m1-67v68m1-68v68m1-49v49m1-50v50m1-73v10m0 5v58m1-87v12m0 1v11m0 2v61m1-81v18m0 2v61m1-81v17m0 2v62m1-82v81m1-81v81m1-81v81m1-78v77m1-70v70m1-67v67m1-65v65m1-56v55m1-57v58m1-58v58m1-58v58m1-48v48m1-53v53m1-92v8m0 1v10m0 4v68m1-96v96m1-91v92m1-91v91m1-86v86m1-118v28m0 1v89m1-118v117m1-116v40m0 1v76m1-116v8m0 1v29m0 2v76m1-68v68m1-67v67m1-66v67m1-72v72m1-73v73m1-76v75m1-93v93m1-95v95m1-104v49m0 1v54m1-105v18m0 4v82m1-114v8m0 3v16m0 7v80m1-114v8m0 10v9m0 15v72m1-71v71m1-78v78m1-78v9m0 12v57m1-78v9m0 12v57m1-56v11m0 1v45m1-44v45m1-39v39m1-32v32m1-35v36m1-38v38m1-46v46m1-47v48m1-48v48m1-61v61m1-61v61m1-69v8m0 1v59m1-68v8m0 7v53m1-54v53m1-53v52m1-52v53m1-46v46m1-45v45m1-57v57m1-61v61m1-96v9m0 5v15m0 5v61m1-114v13m0 6v9m0 5v81m1-95v8m0 6v81m1-80v80m1-177v12m0 85v81m1-179v14m0 62v12m0 10v81m1-179v14m0 32v16m0 8v29m0 5v76m1-179v13m0 2v8m0 2v18m0 1v17m0 7v111m1-164v8m0 10v9m0 1v18m0 6v35m0 1v77m1-132v13m0 19v18m0 5v77m1-99v8m0 4v9m0 2v76m1-116v116m1-117v80m0 1v34m1-115v115m1-114v115m1-103v18m0 5v80m1-66v10m0 1v56m1-72v9m0 2v61m1-71v71m1-97v10m0 1v12m0 3v71m1-97v24m0 2v70m1-96v9m0 17v70m1-71v13m0 1v57m1-92v8m0 13v9m0 2v60m1-102v40m0 1v62m1-114v9m0 1v41m0 2v61m1-114v8m0 1v105m1-159v8m0 17v9m0 11v114m1-170v20m0 14v21m0 1v114m1-171v30m0 4v72m0 6v59m1-181v41m0 3v38m0 1v98m1-162v13m0 12v14m0 5v14m0 13v91m1-161v11m0 48v15m0 2v85m1-100v100m1-100v100m1-136v20m0 8v108m1-143v144m1-145v28m0 1v32m0 1v83m1-145v14m0 3v12m0 1v114m1-139v9m0 3v12m0 1v10m0 12v8m0 1v82m1-67v68m1-71v72m1-106v13m0 2v92m1-107v13m0 2v92m1-91v92m1-92v9m0 2v80m1-73v24m0 1v48m1-63v8m0 6v49m1-61v60m1-60v60m1-59v59m1-49v50m1-49v50m1-39v39m1-38v38m1-38v37m1-73v9m0 28v36m1-74v11m0 3v60m1-78v77m1-77v78m1-78v79m1-71v71m1-60v61m1-54v54m1-47v47m1-46v45m1-37v36m1-36v35m1-35v36m1-35v35m1-27v28m1-28v28m1-31v31m1-36v36m1-46v46m1-51v50m1-59v59m1-143v16m0 6v8m0 7v13m0 4v24m0 2v62m1-143v21m0 2v10m0 5v15m0 1v26m0 1v62m1-143v21m0 2v119m1-118v41m0 1v76m1-117v8m0 17v15m0 2v75m1-61v61m1-44v45m1-45v45m1-38v8m0 2v29m1-25v25m1-23v23m1-28v28m1-44v14m0 1v29m1-45v15m0 1v29m1-44v13m0 2v29m1-28v28m1-21v21m1-20v20m1-20v20m1-20v20m1-25v25m1-25v25m1-54v54m1-62v62m1-62v63m1-63v63m1-62v18m0 1v43m1-37v36m1-33v33m1-33v33m1-33v32m1-50v8m0 6v36m1-70v70m1-109v13m0 17v79m1-114v25m0 10v79m1-114v25m0 11v78m1-113v9m0 1v13m0 3v29m0 1v58m1-87v88m1-85v9m0 2v13m0 2v59m1-59v59m1-45v45m1-93v8m0 5v10m0 3v11m0 1v56m1-95v10m0 4v10m0 3v68m1-95v9m0 5v10m0 4v67m1-94v9m0 2v11m0 3v68m1-160v18m0 2v9m0 2v12m0 1v8m0 3v34m0 2v67m1-163v23m0 1v24m0 1v9m0 2v34m0 1v68m1-157v16m0 2v33m0 4v16m0 1v85m1-138v22m0 1v8m0 6v15m0 2v84m1-78v78m1-65v65m1-65v65m1-91v20m0 2v69m1-109v38m0 2v71m1-122v9m0 1v112m1-123v10m0 1v112m1-123v9m0 19v95m1-123v8m0 19v95m1-105v8m0 3v94m1-163v8m0 3v10m0 37v10m0 5v89m1-162v8m0 2v12m0 36v104m1-162v8m0 1v8m0 41v44m0 1v59m1-266v10m0 94v14m0 20v10m0 15v25m0 1v15m0 1v61m1-327v19m0 9v9m0 19v16m0 6v11m0 16v8m0 29v13m0 7v18m0 5v10m0 3v12m0 1v8m0 1v28m0 1v78m1-327v26m0 2v9m0 2v9m0 8v16m0 6v10m0 17v8m0 18v9m0 2v13m0 7v18m0 4v11m0 2v93m0 1v36m1-326v10m0 18v8m0 2v9m0 83v9m0 2v13m0 2v22m0 4v12m0 1v132m1-186v8m0 7v10m0 1v9m0 19v13m0 1v118m1-170v8m0 3v8m0 47v104m1-97v97m1-96v27m0 1v68m1-97v97m1-97v26m0 1v70m1-97v19m0 8v9m0 1v60m1-55v55m1-52v52m1-60v60m1-68v68m1-68v68m1-110v15m0 7v14m0 3v70m1-110v38m0 1v71m1-109v108m1-110v110m1-179v13m0 62v26m0 1v13m0 1v13m0 1v49m1-179v14m0 1v19m0 9v13m0 11v16m0 1v13m0 6v76m1-179v34m0 8v31m0 1v9m0 1v19m0 1v75m1-178v28m0 13v31m0 1v8m0 1v95m1-176v8m0 2v12m0 24v24m0 11v96m1-91v91m1-92v92m1-102v102m1-102v10m0 1v92m1-115v9m0 2v103m1-134v8m0 2v20m0 1v29m0 1v73m1-196v14m0 25v10m0 13v46m0 1v86m1-195v13m0 21v16m0 12v133m1-194v10m0 29v9m0 14v11m0 2v119m1-212v11m0 7v10m0 6v8m0 15v15m0 26v112m1-218v19m0 6v12m0 1v12m0 11v23m0 8v9m0 4v39m0 3v71m1-218v18m0 6v18m0 19v23m0 8v10m0 3v33m0 8v73m1-219v18m0 13v11m0 27v15m0 21v10m0 27v78m1-188v9m0 65v9m0 17v88m1-104v10m0 7v86m1-103v10m0 13v80m1-110v22m0 1v10m0 1v76m1-111v23m0 1v10m0 2v77m1-114v11m0 4v21m0 1v78m1-115v15m0 2v99m1-99v100m1-100v27m0 3v71m1-69v68m1-67v67m1-74v73m1-82v8m0 1v72m1-82v10m0 1v71m1-81v8m0 4v69m1-69v69m1-69v69m1-70v71m1-117v14m0 17v9m0 12v64m1-136v8m0 1v9m0 2v15m0 1v100m1-136v18m0 2v45m0 1v70m1-138v10m0 1v9m0 8v38m0 1v71m1-127v9m0 2v43m0 2v71m1-153v19m0 2v16m0 1v115m1-158v24m0 1v41m0 2v90m1-158v38m0 1v26m0 2v91m1-145v11m0 1v13m0 2v25m0 2v92m1-92v91m1-76v77m1-76v75m1-74v75m1-76v75m1-117v9m0 9v8m0 9v82m1-118v17m0 1v101m1-119v17m0 1v101m1-119v17m0 1v101m1-97v24m0 1v72m1-62v62m1-63v63m1-87v14m0 4v68m1-87v15m0 4v69m1-116v8m0 17v18m0 5v68m1-117v10m0 12v21m0 6v68m1-120v23m0 2v95m1-116v116m1-114v40m0 1v73m1-157v23m0 21v39m0 2v72m1-185v14m0 14v23m0 24v16m0 1v93m1-185v14m0 14v23m0 24v15m0 1v95m1-182v10m0 16v10m0 35v15m0 1v29m0 1v65m1-156v10m0 35v13m0 4v94m1-90v90m1-93v92m1-93v92m1-92v92m1-101v101m1-101v18m0 1v81m1-103v19m0 3v81m1-177v10m0 15v13m0 6v10m0 15v108m1-178v17m0 8v14m0 1v15m0 4v54m0 1v64m1-178v17m0 9v29m0 4v54m0 1v65m1-171v9m0 9v28m0 5v13m0 17v90m1-134v8m0 39v28m0 2v57m1-86v9m0 10v9m0 2v56m1-86v10m0 8v68m1-108v21m0 1v85m1-119v8m0 4v21m0 2v85m1-120v9m0 2v23m0 2v25m0 1v58m1-198v8m0 13v10m0 35v9m0 14v10m0 1v14m0 1v83m1-245v17m0 17v10m0 3v9m0 1v27m0 21v17m0 15v10m0 1v97m1-269v9m0 10v22m0 16v12m0 2v9m0 1v20m0 13v13m0 2v17m0 14v20m0 1v88m1-268v9m0 9v15m0 2v10m0 11v12m0 3v13m0 29v12m0 34v20m0 1v88m1-249v12m0 41v11m0 77v18m0 6v18m0 9v56m1-52v51m1-50v51m1-57v59m1-59v60m1-66v66m1-66v66m1-105v8m0 16v14m0 1v66m1-113v112m1-130v9m0 9v112m1-130v10m0 9v27m0 1v82m1-125v15m0 2v9m0 1v9m0 1v88m1-98v8m0 3v87m1-87v87m1-140v16m0 21v13m0 10v80m1-146v32m0 2v23m0 1v88m1-258v11m0 1v8m0 5v14m0 41v9m0 16v153m1-258v20m0 1v19m0 40v9m0 9v40m0 1v38m0 1v80m1-258v43m0 5v9m0 23v33m0 12v12m0 2v8m0 1v29m0 1v81m1-258v14m0 1v14m0 3v11m0 4v9m0 1v8m0 23v15m0 1v8m0 26v38m0 1v17m0 1v63m1-226v11m0 46v12m0 38v16m0 1v19m0 1v82m1-112v9m0 4v98m1-97v96m1-139v15m0 3v16m0 3v102m1-151v8m0 4v15m0 2v17m0 3v103m1-153v9m0 4v16m0 2v16m0 1v9m0 2v94m1-339v8m0 33v9m0 8v9m0 73v14m0 2v12m0 13v9m0 15v11m0 4v11m0 3v11m0 1v93m1-340v20m0 21v11m0 7v10m0 45v10m0 16v15m0 1v13m0 2v9m0 2v8m0 17v26m0 2v15m0 1v63m0 1v25m1-359v11m0 8v20m0 2v14m0 6v10m0 6v11m0 10v8m0 22v16m0 15v10m0 5v14m0 1v10m0 2v8m0 5v120m0 1v23m1-358v11m0 8v20m0 3v8m0 27v10m0 11v8m0 22v9m0 37v24m0 3v8m0 6v25m0 2v29m0 2v85m1-230v8m0 80v14m0 12v8m0 1v20m0 1v86m1-120v121m1-165v17m0 3v10m0 13v33m0 1v89m1-174v39m0 11v22m0 1v10m0 3v88m1-199v15m0 9v175m1-199v23m0 9v23m0 3v25m0 1v115m1-141v25m0 9v107m1-97v97m1-92v12m0 2v78m1-93v8m0 2v83m1-139v16m0 14v12m0 2v11m0 1v82m1-140v19m0 3v8m0 1v109m1-154v11m0 3v29m0 2v109m1-141v30m0 3v108m1-154v13m0 1v30m0 2v109m1-156v14m0 3v28m0 2v109m1-156v8m0 9v23m0 1v36m0 2v12m0 1v64m1-157v9m0 9v23m0 2v49m0 1v65m1-139v11m0 1v10m0 7v45m0 1v64m1-127v12m0 10v40m0 1v64m1-181v8m0 1v15m0 24v19m0 4v110m1-182v26m0 9v8m0 3v40m0 2v93m1-181v34m0 12v40m0 3v91m1-171v21m0 15v10m0 9v21m0 4v92m1-112v17m0 4v90m1-110v16m0 1v93m1-110v110m1-100v10m0 2v88m1-100v10m0 2v29m0 2v58m1-89v12m0 7v10m0 2v58m1-56v56m1-55v54m1-46v46m1-58v59m1-89v15m0 2v72m1-108v8m0 10v16m0 2v73m1-118v18m0 9v17m0 1v73m1-118v19m0 8v91m1-90v16m0 1v11m0 2v59m1-72v12m0 6v54m1-54v54m1-53v53m1-47v48m1-58v8m0 3v47m1-83v13m0 1v8m0 1v11m0 1v48m1-90v89m1-89v88m1-88v19m0 1v68m1-86v17m0 2v11m0 2v54m1-53v53m1-52v53m1-91v19m0 1v72m1-173v20m0 52v101m1-201v8m0 5v13m0 2v23m0 1v18m0 7v14m0 7v9m0 1v93m1-208v14m0 1v19m0 1v23m0 1v55m0 1v94m1-203v8m0 1v8m0 1v10m0 1v10m0 1v12m0 1v53m0 1v96m1-143v143m1-134v10m0 1v11m0 1v111m1-129v128m1-127v56m0 1v69m1-159v8m0 23v17m0 1v30m0 1v79m1-202v14m0 27v12m0 19v49m0 3v78m1-201v13m0 25v14m0 19v33m0 1v13m0 4v80m1-199v10m0 25v14m0 11v24m0 1v114m1-138v24m0 6v108m1-148v35m0 4v110m1-207v8m0 15v11m0 19v41m0 2v110m1-241v20m0 15v12m0 11v16m0 13v42m0 2v13m0 1v38m0 1v57m1-241v24m0 1v22m0 10v16m0 19v37m0 2v12m0 3v18m0 1v26m0 1v48m1-239v23m0 2v21m0 44v8m0 5v25m0 1v9m0 7v94m1-229v8m0 7v9m0 2v9m0 65v28m0 3v21m0 1v75m1-129v23m0 1v106m1-242v14m0 96v133m1-278v11m0 3v14m0 6v16m0 4v19m0 1v8m0 54v34m0 1v38m0 1v68m1-278v11m0 3v15m0 5v17m0 2v30m0 54v33m0 2v9m0 1v96m1-264v15m0 6v9m0 9v8m0 1v22m0 56v18m0 1v9m0 5v8m0 1v96m1-204v10m0 63v11m0 1v9m0 13v96m1-122v12m0 14v96m1-132v8m0 4v8m0 13v67m0 1v31m1-230v15m0 1v21m0 29v20m0 1v31m0 13v8m0 2v57m0 1v30m1-230v11m0 1v26m0 1v10m0 18v54m0 11v9m0 1v88m1-213v21m0 1v10m0 19v35m0 1v126m1-201v21m0 26v81m0 1v73m1-203v15m0 1v22m0 9v65m0 6v84m1-202v11m0 6v27m0 3v64m0 4v87m1-202v11m0 12v9m0 1v11m0 4v46m0 4v15m0 2v86m1-166v9m0 12v58m0 1v25m0 1v60m1-116v116m1-129v11m0 2v117m1-117v117m1-102v9m0 4v91m1-91v27m0 1v64m1-79v13m0 2v64m1-80v14m0 1v68m1-82v13m0 1v69m1-69v69m1-52v8m0 12v33m1-17v17m1-14v14m1-14v14m1-13v12m1-13v12m1-13v12m1-11v12m1-11v12m1-12v12m1-12v12m1-12v13m1-11v11m1-10v10m1-14v14m1-15v14m1-14v14m1-13v12m1-11v11m1-12v12m1-12v11m1-12v12m1-12v13m1-13v13m1-14v15m1-15v15m1-15v16m1-15v15m1-12v11m1-10v10m1-11v10m1-9v9m1-10v10m1-11v11m1-10v11m1-10v10m1-16v16m1-17v16m1-20v20m1-20v20m1-23v23m1-31v31m1-75v12m0 2v10m0 2v49m1-84v83m1-88v87m1-87v87m1-82v9m0 8v65m1-60v61m1-104v23m0 20v61m1-146v9m0 7v24m0 1v24m0 1v17m0 2v60m1-146v11m0 1v28m0 1v105m1-154v19m0 14v13m0 2v106m1-120v11m0 3v35m0 1v70m1-168v8m0 53v9m0 11v22m0 1v64m1-169v16m0 22v9m0 24v8m0 2v22m0 1v66m1-179v25m0 15v20m0 7v21m0 9v8m0 7v66m1-179v26m0 9v11m0 2v41m0 2v20m0 1v67m1-179v25m0 10v10m0 22v21m0 6v12m0 1v71m1-142v9m0 22v9m0 18v84m1-84v82m1-99v15m0 1v83m1-136v8m0 9v12m0 1v22m0 1v84m1-138v16m0 2v12m0 1v107m1-138v15m0 7v117m1-138v12m0 19v18m0 10v10m0 2v67m1-62v62m1-75v75m1-86v85m1-104v16m0 3v85m1-111v111m1-111v110m1-110v110m1-107v24m0 5v14m0 1v64m1-57v56m1-41v41m1-48v48m1-66v10m0 2v55m1-81v8m0 5v12m0 1v55m1-67v11m0 2v55m1-49v49m1-47v47m1-48v48m1-49v49m1-54v54m1-83v11m0 1v12m0 2v57m1-92v91m1-92v92m1-92v93m1-92v14m0 9v21m0 1v47m1-68v10m0 15v43m1-41v41m1-38v38m1-123v21m0 17v13m0 1v11m0 1v59m1-132v8m0 1v27m0 1v9m0 1v85m1-131v36m0 1v94m1-128v15m0 2v16m0 1v94m1-127v14m0 5v12m0 4v13m0 1v21m0 2v55m1-123v9m0 60v54m1-64v65m1-64v64m1-63v10m0 1v52m1-51v50m1-50v50m1-83v8m0 26v48m1-105v11m0 2v35m0 10v47m1-115v116m1-116v116m1-116v20m0 1v96m1-117v9m0 12v18m0 8v70m1-84v9m0 19v56m1-123v15m0 6v10m0 10v8m0 5v9m0 5v55m1-124v21m0 1v44m0 2v56m1-125v38m0 1v29m0 1v56m1-125v10m0 1v26m0 10v77m1-75v75m1-65v65m1-65v65m1-67v66m1-183v10m0 32v8m0 33v8m0 25v67m1-183v11m0 1v45m0 5v12m0 9v10m0 2v17m0 1v69m1-196v8m0 5v12m0 1v12m0 1v33m0 4v13m0 1v11m0 1v96m1-198v8m0 5v12m0 2v9m0 2v34m0 4v13m0 2v9m0 2v14m0 2v15m0 1v64m1-170v8m0 40v13m0 34v9m0 9v57m1-56v57m1-57v57m1-57v58m1-59v59m1-79v8m0 5v66m1-94v93m1-95v93m1-93v92m1-92v91m1-73v73m1-54v55m1-41v42m1-85v19m0 1v12m0 3v50m1-85v86m1-86v86m1-97v30m0 2v11m0 1v53m1-97v30m0 1v13m0 1v53m1-99v98m1-97v17m0 1v79m1-78v78m1-77v12m0 1v63m1-72v8m0 1v18m0 2v44m1-59v12m0 4v43m1-44v44m1-44v45m1-45v45m1-44v44m1-41v41m1-53v52m1-80v9m0 15v55m1-83v14m0 12v56m1-87v18m0 1v10m0 2v57m1-88v10m0 5v14m0 2v57m1-87v8m0 5v15m0 2v57m1-79v21m0 2v57m1-162v8m0 5v11m0 48v90m1-163v11m0 1v14m0 18v15m0 3v9m0 1v91m1-164v27m0 4v12m0 1v16m0 2v10m0 2v12m0 2v75m1-158v21m0 17v17m0 2v9m0 3v13m0 6v69m1-152v9m0 25v15m0 15v13m0 11v11m0 1v52m1-46v47m1-46v47m1-46v46m1-78v15m0 3v11m0 2v47m1-78v16m0 2v60m1-119v24m0 17v16m0 1v60m1-123v40m0 7v76m1-123v41m0 2v80m1-122v123m1-122v18m0 6v27m0 3v68m1-90v18m0 11v61m1-56v55m1-52v52m1-51v50m1-51v50m1-106v33m0 12v61m1-107v34m0 1v73m1-108v108m1-100v25m0 1v74m1-94v14m0 19v12m0 3v47m1-47v47m1-46v47m1-57v10m0 1v46m1-57v57m1-57v56m1-55v55m1-56v55m1-55v55m1-57v57m1-139v9m0 4v8m0 8v15m0 18v10m0 1v8m0 1v57m1-148v8m0 1v10m0 2v16m0 1v15m0 4v91m1-148v8m0 1v10m0 2v8m0 1v23m0 3v92m1-139v9m0 12v11m0 15v10m0 1v82m1-118v10m0 27v82m1-74v74m1-114v20m0 16v78m1-114v28m0 2v84m1-119v119m1-119v15m0 1v9m0 2v92m1-91v91m1-88v88m1-95v15m0 10v71m1-97v97m1-98v98m1-104v19m0 5v22m0 2v56m1-80v80m1-98v10m0 3v85m1-106v18m0 1v86m1-109v110m1-110v110m1-103v103m1-103v9m0 2v92m1-88v15m0 5v68m1-90v18m0 1v71m1-130v15m0 1v16m0 7v92m1-132v32m0 1v99m1-132v16m0 1v115m1-128v22m0 1v20m0 7v79m1-116v8m0 3v18m0 8v13m0 2v64m1-62v62m1-54v54m1-50v50m1-41v41m1-41v42m1-41v41m1-38v37m1-30v30m1-32v32m1-40v39m1-40v40m1-39v40m1-33v33m1-31v31m1-30v30m1-29v29m1-29v30m1-30v30m1-31v32m1-33v33m1-32v32m1-31v30m1-26v26m1-26v25m1-25v26m1-29v29m1-32v32m1-32v31m1-31v31m1-30v30m1-30v31m1-31v30m1-32v33m1-34v34m1-35v35m1-34v34m1-33v32m1-29v29m1-29v29m1-28v28m1-23v23m1-19v20m1-21v21m1-21v22m1-25v25m1-27v28m1-28v28m1-28v28m1-28v27m1-31v31m1-31v31m1-31v30m1-22v22m1-21v21m1-20v20m1-18v19m1-19v20m1-21v21m1-21v21m1-21v21m1-20v20m1-18v18m1-16v16m1-17v17m1-18v18m1-18v18m1-18v18m1-17v17m1-15v15m1-14v15m1-24v8m0 1v15m1-25v25m1-25v24m1-23v23m1-25v25m1-28v27m1-28v29m1-29v29m1-14v13m1-13v13m1-13v13m1-13v12m1-12v13m1-12v13m1-13v13m1-12v13m1-13v13m1-14v14m1-14v14m1-15v15m1-16v16m1-16v16m1-17v17m1-17v16m1-17v16m1-16v16m1-16v16m1-15v15m1-11v11m1-11v12m1-13v13m1-13v13m1-13v13m1-13v13m1-12v12m1-12v11m1-11v12m1-12v12m1-11v12m1-13v13m1-17v17m1-17v17m1-18v18m1-17v17m1-16v16m1-15v15m1-16v16m1-17v17m1-19v19m1-20v19m1-20v20m1-20v19m1-19v19m1-18v19m1-22v21m1-26v27m1-45v45m1-47v46m1-46v46m1-46v46m1-45v45m1-27v26m1-24v24m1-24v24m1-23v24m1-16v17m1-17v17m1-16v16m1-13v14m1-15v15m1-15v14m1-14v15m1-16v16m1-16v16m1-16v16m1-15v14m1-16v16m1-17v17m1-17v16m1-16v16m1-17v17m1-17v17m1-17v17m1-32v32m1-33v34m1-33v33m1-28v28m1-22v21m1-21v21m1-21v21m1-22v23m1-23v23m1-41v10m0 8v23m1-41v41m1-42v42m1-42v41m1-40v40m1-34v34m1-35v36m1-36v35m1-27v27m1-24v24m1-34v8m0 2v24m1-34v34m1-35v35m1-34v34m1-25v25m1-24v23m1-22v22m1-21v22m1-22v22m1-23v24m1-52v16m0 2v34m1-53v53m1-54v54m1-53v53m1-52v22m0 1v29m1-28v28m1-34v33m1-34v34m1-56v56m1-57v57m1-58v57m1-56v56m1-55v54m1-33v33m1-24v25m1-25v26m1-48v16m0 2v31m1-49v49m1-49v16m0 2v31m1-27v26m1-23v23m1-23v22m1-22v21m1-22v23m1-23v24m1-56v8m0 18v30m1-69v33m0 2v34m1-94v24m0 1v69m1-95v95m1-95v94m1-93v24m0 1v25m0 6v37m1-56v10m0 15v30m1-31v31m1-31v32m1-32v32m1-23v23m1-23v23m1-23v23m1-24v24m1-25v25m1-25v26m1-33v34m1-37v37m1-38v39m1-38v38m1-35v35m1-36v36m1-36v35m1-35v35m1-29v29m1-29v28m1-26v25m1-25v24m1-26v26m1-30v30m1-40v8m0 1v32m1-42v42m1-43v43m1-42v41m1-37v38m1-38v38m1-37v38m1-37v38m1-41v41m1-51v51m1-51v51m1-50v49m1-49v49m1-44v43m1-43v43m1-60v59m1-63v63m1-63v63m1-63v63m1-57v58m1-57v14m0 1v42m1-58v58m1-59v58m1-58v58m1-49v48m1-46v46m1-49v49m1-56v56m1-63v63m1-64v64m1-63v63m1-62v62m1-61v12m0 1v48m1-47v47m1-45v45m1-127v11m0 11v25m0 1v13m0 2v17m0 1v46m1-132v67m0 1v64m1-127v62m0 1v64m1-110v44m0 3v23m0 5v35m1-110v9m0 12v13m0 13v25m0 2v36m1-52v52m1-47v47m1-52v52m1-53v16m0 1v36m1-52v52m1-44v44m1-45v45m1-70v70m1-77v39m0 1v36m1-77v77m1-77v26m0 1v50m1-76v76m1-61v9m0 2v50m1-120v19m0 37v12m0 2v50m1-121v28m0 10v32m0 1v50m1-122v38m0 1v84m1-115v22m0 1v14m0 1v77m1-114v21m0 2v13m0 1v77m1-90v27m0 4v59m1-90v27m0 4v58m1-89v21m0 11v57m1-66v66m1-71v71m1-71v71m1-73v11m0 3v59m1-59v60m1-61v61m1-60v60m1-60v60m1-85v10m0 17v58m1-101v27m0 1v8m0 1v65m1-102v15m0 1v86m1-102v14m0 3v86m1-80v12m0 2v14m0 2v50m1-38v38m1-50v49m1-51v50m1-63v62m1-63v62m1-85v10m0 3v8m0 1v63m1-100v26m0 2v73m1-101v102m1-102v9m0 2v91m1-90v8m0 1v81m1-81v14m0 1v65m1-79v8m0 7v64m1-53v54m1-80v9m0 11v60m1-84v22m0 2v60m1-92v92m1-91v91m1-82v18m0 1v15m0 1v47m1-48v48m1-53v53m1-60v60m1-61v61m1-54v53m1-50v51m1-51v51m1-119v8m0 27v9m0 7v68m1-121v10m0 2v18m0 1v90m1-122v12m0 6v104m1-122v13m0 11v98m1-121v12m0 13v38m0 1v57m1-95v8m0 4v83m1-83v82m1-81v8m0 1v73m1-79v25m0 1v53m1-92v92m1-92v92m1-93v93m1-93v93m1-93v23m0 1v69m1-55v55m1-55v55m1-89v8m0 7v14m0 2v58m1-91v91m1-118v22m0 5v91m1-125v125m1-126v125m1-124v35m0 4v85m1-109v19m0 10v79m1-78v79m1-77v77m1-100v11m0 2v24m0 1v62m1-100v100m1-111v10m0 1v101m1-111v8m0 1v46m0 1v54m1-121v9m0 1v57m0 1v53m1-124v70m0 1v52m1-124v8m0 1v29m0 3v83m1-114v28m0 4v82m1-113v9m0 27v10m0 1v66m1-95v12m0 1v10m0 2v10m0 2v58m1-109v38m0 1v11m0 2v57m1-101v100m1-97v97m1-167v15m0 16v13m0 33v91m1-174v36m0 1v25m0 2v110m1-174v62m0 1v13m0 1v97m1-174v25m0 2v13m0 2v20m0 1v13m0 1v23m0 2v73m1-175v13m0 54v8m0 5v18m0 5v72m1-75v75m1-90v90m1-115v21m0 3v90m1-152v16m0 21v23m0 1v91m1-172v36m0 1v135m1-172v36m0 1v135m1-164v18m0 19v28m0 1v99m1-157v9m0 28v8m0 2v10m0 7v12m0 9v72m1-91v9m0 13v70m1-91v9m0 5v77m1-91v91m1-131v12m0 3v8m0 13v94m1-184v11m0 32v8m0 2v14m0 1v10m0 8v97m1-183v12m0 4v25m0 2v8m0 2v14m0 2v114m1-167v14m0 1v11m0 1v8m0 2v13m0 4v19m0 1v94m1-168v11m0 4v11m0 12v17m0 22v23m0 1v67m1-131v35m0 3v12m0 1v80m1-141v32m0 1v12m0 2v94m1-141v32m0 1v13m0 1v93m1-139v30m0 2v13m0 1v21m0 1v71m1-139v15m0 1v14m0 3v75m0 1v30m1-133v8m0 2v14m0 4v74m0 1v30m1-105v22m0 1v51m0 1v30m1-234v9m0 59v10m0 55v8m0 1v8m0 4v80m1-243v18m0 1v8m0 50v11m0 10v10m0 2v25m0 3v10m0 2v9m0 1v31m0 1v51m1-243v18m0 1v8m0 1v20m0 24v11m0 5v9m0 1v11m0 1v25m0 2v10m0 2v94m1-242v17m0 10v21m0 23v12m0 3v10m0 2v9m0 1v26m0 1v8m0 12v88m1-211v11m0 12v8m0 8v11m0 1v14m0 1v21m0 4v11m0 15v93m1-198v19m0 7v9m0 3v36m0 6v10m0 3v12m0 3v25m0 1v64m1-208v9m0 6v19m0 2v53m0 1v118m1-187v13m0 2v40m0 4v128m1-185v10m0 15v15m0 26v118m1-103v9m0 2v92m1-114v54m0 1v59m1-117v118m1-123v34m0 1v88m1-122v123m1-121v121m1-120v68m0 1v51m1-118v21m0 4v10m0 11v72m1-71v71m1-73v72m1-77v77m1-76v11m0 1v65m1-65v65m1-106v9m0 2v10m0 20v65m1-201v12m0 3v8m0 24v25m0 20v13m0 1v11m0 1v10m0 8v65m1-201v11m0 4v18m0 15v24m0 10v46m0 8v20m0 1v44m1-201v10m0 6v12m0 21v23m0 10v119m1-185v12m0 1v9m0 7v11m0 1v21m0 12v84m0 1v25m1-138v15m0 13v8m0 1v9m0 7v85m1-139v16m0 14v9m0 13v88m1-154v10m0 2v24m0 3v115m1-157v38m0 3v116m1-150v15m0 5v10m0 4v116m1-149v14m0 26v10m0 1v98m1-106v23m0 1v23m0 1v58m1-106v47m0 1v57m1-105v25m0 2v20m0 1v57m1-310v8m0 96v8m0 71v13m0 9v15m0 1v89m1-311v10m0 13v13m0 66v16m0 5v12m0 24v10m0 1v9m0 4v14m0 9v106m1-312v10m0 14v12m0 19v10m0 18v8m0 11v18m0 3v15m0 20v11m0 14v16m0 6v108m1-312v9m0 5v8m0 2v10m0 74v12m0 2v16m0 19v13m0 11v17m0 1v113m1-221v8m0 8v13m0 11v8m0 18v14m0 9v18m0 2v27m0 2v83m1-222v9m0 8v13m0 8v17m0 5v25m0 5v18m0 2v10m0 1v18m0 1v82m1-223v17m0 1v14m0 13v12m0 4v42m0 1v11m0 1v25m0 1v36m0 1v43m1-222v18m0 2v12m0 1v10m0 18v42m0 2v29m0 1v44m0 1v40m1-158v31m0 12v27m0 4v14m0 1v69m1-139v12m0 9v24m0 14v10m0 3v67m1-114v45m0 1v68m1-119v8m0 2v32m0 1v76m1-109v32m0 1v76m1-107v107m1-106v14m0 4v88m1-67v67m1-65v65m1-64v18m0 1v45m1-57v10m0 1v45m1-58v58m1-111v17m0 10v9m0 15v61m1-113v19m0 4v90m1-113v19m0 5v89m1-114v20m0 8v85m1-112v18m0 11v16m0 6v9m0 2v50m1-51v52m1-80v14m0 1v66m1-81v81m1-81v81" stroke="#1f77b4" stroke-width="1.2" fill="none"/><path d="M116.5 964.5h0m-0.5 0h0m0 2.5h0m0 1.5h0m0 0h0m0 1.5h0m0.5 5.5h0m-0.5 0.5h0m0 10.5h0m0 4h0m0 1.5h0m0 12h0m0.5 1h0m-0.5 1h0m0 0.5h0m0 3h0m0.5 1.5h0m-0.5 0.5h0m0.5 3h0m-0.5 0.5h0m0.5 0.5h0m-0.5 5.5h0m0.5 0.5h0m-0.5 0.5h0m0 1h0m0.5 0h0m-0.5 1h0m0.5 1.5h0m-0.5 0h0m0 0h0m0 0h0m0.5 0.5h0m-0.5 0.5h0m0.5 0h0m0.5-60.5h0m0 2.5h0m0 2.5h0m0.5 1h0m0 0.5h0m-1 1h0m0.5 1.5h0m0 1h0m0 0h0m0.5 0h0m-0.5 0.5h0m-0.5 2h0m0.5 0h0m-0.5 1h0m0.5 2h0m0.5 1h0m-0.5 3h0m-0.5 1.5h0m0.5 2h0m0 1h0m-0.5 0h0m0.5 0.5h0m0 4.5h0m0.5 1.5h0m-1 1.5h0m0 0h0m1 1.5h0m-0.5 3h0m0 2.5h0m0 3h0m0 1h0m0.5 2h0m0 0h0m-0.5 2h0m-0.5 0.5h0m0.5 0.5h0m0 0.5h0m0.5 0.5h0m0 1h0m-1 0.5h0m0.5 3.5h0m0 0h0m0.5 1h0m-1 0.5h0m0.5 1h0m0 0.5h0m0.5 0h0m0 0h0m-1 0.5h0m0.5 0h0m0 0h0m0 1h0m-0.5 0h0m1 0.5h0m-0.5 0h0m0 0.5h0m0 0.5h0m-0.5 0.5h0m1 0h0m-0.5 0.5h0m0.5 0h0m-0.5 0h0m0.5 0h0m-0.5 0h0m0.5 0h0m0-56h0m0 0.5h0m0.5 3h0m-0.5 2h0m0 0.5h0m0 1h0m0 0h0m0 8h0m0 4h0m0.5 0.5h0m-0.5 4h0m0 0.5h0m0 0.5h0m0 0.5h0m0.5 1.5h0m0.5 0.5h0m-0.5 1.5h0m0.5 0h0m-1 1h0m0.5 0h0m0 3.5h0m0 2h0m0 1h0m-0.5 1h0m1 1h0m0 1h0m-1 0.5h0m1 0.5h0m0 3.5h0m-1 0h0m1 0.5h0m-0.5 0h0m0 1.5h0m0.5 0.5h0m-0.5 0h0m-0.5 0.5h0m0.5 0.5h0m0.5 0.5h0m-0.5 0h0m0 0h0m-0.5 1h0m1 1.5h0m0 0.5h0m0 2.5h0m-0.5 0.5h0m-0.5 0h0m0 0.5h0m0 0h0m0.5 1h0m0 0.5h0m0 0h0m0 0h0m0.5 0h0m-0.5 0h0m0.5 0.5h0m-0.5 0h0m0 0h0m0 0h0m0.5-27.5h0m0 2h0m0.5 1.5h0m-0.5 6h0m0 1h0m0 0.5h0m0 1h0m0 2h0m0 5.5h0m0 2h0m0 0h0m0 0.5h0m0.5 2h0m-0.5 0.5h0m0 1h0m0 0h0m0.5 1h0m0 0h0m-0.5 0.5h0m0 0h0m0.5 0h0m-0.5 0h0m0.5 0.5h0m-0.5 0h0m0 0h0m1 0h0m-0.5 0.5h0m0 0h0m0 0h0m0.5 0h0m0.5-0.5h0m-0.5 0h0m0.5 0h0m-0.5 0.5h0m1 0h0m-0.5 0h0m0 0h0m0 0h0m0 0h0m0 0h0m0.5 0.5h0m0 0h0m-0.5 0h0m0 0h0m0.5 0h0m1-78.5h0m-0.5 4h0m0.5 7.5h0m-0.5 2h0m0 2.5h0m0 4h0m0.5 1h0m0 16h0m-1 0h0m0.5 0h0m0 40.5h0m0.5 0h0m-0.5 0h0m0 0h0m-0.5 0.5h0m0.5 0h0m0 0.5h0m-0.5 0h0m1.5-75h0m-0.5 0.5h0m0 23.5h0m0.5 8h0m0.5 1h0m-0.5 40.5h0m0.5 0.5h0m-0.5 0h0m0 0.5h0m-0.5 0h0m0.5 0h0m-0.5 0h0m1.5-108.5h0m0.5 3h0m-0.5 10h0m0 6h0m0 3h0m0 14h0m0.5 2h0m0 4h0m-0.5 6.5h0m0.5 0.5h0m0 1h0m-1 12.5h0m0 1.5h0m1 0.5h0m-0.5 0h0m0 42h0m0.5 0h0m0 0h0m0 0h0m-0.5 0.5h0m-0.5 0h0m1 0h0m-0.5 0h0m-0.5 0.5h0m0.5 0h0m0 0h0m0 0.5h0m0 0h0m1-112.5h0m-0.5 8.5h0m0.5 12.5h0m0 2.5h0m0 5.5h0m0.5 4h0m-0.5 1h0m0 5h0m-0.5 7h0m0 16h0m1 5.5h0m-0.5 43h0m0 0h0m0.5 0.5h0m-0.5 0h0m0 0.5h0m-0.5 0h0m0.5 0h0m1.5-117.5h0m-0.5 1h0m0 1.5h0m-0.5 0h0m0.5 1h0m0 1h0m0 10h0m0.5 0h0m-1 1.5h0m0.5 6h0m0 2.5h0m-0.5 4.5h0m0 3.5h0m1 5h0m-0.5 4.5h0m0.5 0.5h0m-0.5 1.5h0m0 25h0m0 4h0m0 42.5h0m0.5 0h0m-0.5 0h0m0.5 0h0m-1 0.5h0m0.5 0h0m0 0.5h0m-0.5 0h0m0.5 0h0m0 0.5h0m0 0h0m0.5-112h0m0 34h0m0 11.5h0m0 20.5h0m1 44h0m-0.5 0h0m-0.5 0.5h0m0.5 0h0m-0.5 0h0m1.5-0.5h0m-0.5 0h0m0 0h0m1 0h0m-0.5 0h0m0 0h0m0 0h0m0.5 0h0m1-72h0m0 72h0m-1 0h0m1 0h0m-1 0h0m0 0h0m0 0h0m0 0h0m0.5 0h0m0.5 0.5h0m0 0h0m1-158h0m-0.5 29.5h0m0 2h0m0 11.5h0m0.5 1h0m-0.5 11.5h0m0 1h0m0 2h0m-0.5 8.5h0m0 11.5h0m0 5h0m1 2h0m0 0.5h0m-0.5 4h0m-0.5 2h0m0 1h0m1 64.5h0m0 0h0m-0.5 0h0m0 0h0m0.5 0.5h0m-0.5 0h0m0 0h0m0 0h0m-0.5 0h0m0 0h0m0 0h0m1-151h0m0.5 6h0m0 2.5h0m0 7.5h0m0 5h0m-0.5 12h0m1 2h0m-0.5 5.5h0m0 1h0m0 1h0m0 29h0m0 5.5h0m0.5 1h0m-1 2.5h0m0 3.5h0m0.5 66.5h0m0.5 0h0m-0.5 0.5h0m0 0h0m-0.5 0h0m1.5-159h0m0 1h0m0 1h0m0.5 4.5h0m-0.5 1.5h0m-0.5 4h0m0.5 10.5h0m-0.5 7.5h0m0.5 1.5h0m0.5 1h0m-0.5 3.5h0m0 1.5h0m0 2h0m0 3.5h0m0.5 2.5h0m-1 16.5h0m0 0.5h0m1 3.5h0m0 3h0m0 1h0m-1 19.5h0m0.5 69h0m-0.5 0.5h0m1-157h0m0 2.5h0m0 0.5h0m0.5 15.5h0m0 16h0m-0.5 5.5h0m0.5 9.5h0m0 19h0m-0.5 9.5h0m0 3.5h0m0.5 75h0m0 0h0m0 0h0m0.5 0h0m-0.5 0h0m0.5 0h0m0.5 0h0m-0.5 0h0m0.5 0h0m0 0h0m0.5 0h0m-0.5 0.5h0m0 0h0m0.5 0h0m-0.5 0h0m0.5-0.5h0m0.5 0h0m-0.5 0h0m0.5 0h0m0 0.5h0m-0.5 0h0m1.5-121.5h0m0.5 11.5h0m0 6h0m0 0.5h0m0 1.5h0m0 10.5h0m-0.5 91h0m-0.5 0h0m0.5 0h0m0 0.5h0m0.5 0h0m0 0h0m0 0h0m0.5-130.5h0m-0.5 1.5h0m0 17.5h0m0 22h0m0.5 2h0m0 2h0m-0.5 1.5h0m1 83.5h0m-0.5 0.5h0m-0.5 0h0m1 0.5h0m-0.5 0h0m0.5 0h0m-0.5 0.5h0m0.5 0h0m1-139.5h0m-0.5 4h0m0 0.5h0m0.5 3.5h0m0 3.5h0m-0.5 1h0m0.5 15.5h0m0 12.5h0m-0.5 3h0m0.5 12h0m-1 3.5h0m0.5 3h0m0.5 0.5h0m-1 0h0m0.5 76h0m-0.5 0h0m0 0h0m0 0.5h0m0.5 0h0m0 0h0m0 0h0m0 0h0m0 0.5h0m1-128h0m0.5 1h0m-0.5 2.5h0m0 0h0m0 0h0m0 6.5h0m0.5 1.5h0m-0.5 0h0m0 7.5h0m0 16.5h0m0 10h0m0 8.5h0m0 3.5h0m0 0h0m0.5 5h0m-0.5 65h0m0 0h0m0 0h0m0.5-137h0m1 3.5h0m-0.5 2h0m0.5 7.5h0m-0.5 4h0m0 0.5h0m0 4h0m0 2h0m0.5 15.5h0m-0.5 1h0m0.5 13h0m-1 2.5h0m0.5 0.5h0m0.5 0.5h0m0 5.5h0m-0.5 0h0m-0.5 1.5h0m0.5 7h0m0.5 1.5h0m0.5-61.5h0m-0.5 1.5h0m0 6.5h0m0.5 9h0m0 14.5h0m-0.5 4h0m0 18h0m1 73h0m0 0.5h0m-0.5 0h0m0.5 0h0m-0.5 0h0m1-1h0m0 1h0m0 0h0m0 0h0m0 0h0m1-63.5h0m0 63h0m0.5 0h0m0 0h0m-0.5 0h0m0.5 0h0m-1 0.5h0m0.5 0h0m-0.5 0h0m1.5-120h0m0 1.5h0m0 8h0m0 5h0m0 7h0m0 10.5h0m0.5 5h0m-1 82h0m0.5 0.5h0m0 0h0m1-120h0m-0.5 1h0m0 0h0m1 13.5h0m0 2h0m0 1.5h0m0 2h0m-0.5 0.5h0m0.5 5h0m0 0.5h0m-1 2h0m0.5 5.5h0m0.5 1h0m-0.5 0.5h0m0 1.5h0m0 0.5h0m0.5 3h0m-1 0.5h0m0.5 0h0m-0.5 12h0m0.5 2.5h0m0 64h0m-0.5 0h0m0.5 0h0m0 0.5h0m-0.5 0h0m0.5 0h0m0 0.5h0m0 0h0m1-123.5h0m0 9h0m0 18h0m0.5 7h0m-1 6h0m0.5 1.5h0m0 1.5h0m0.5 3.5h0m-0.5 1h0m0 1.5h0m-0.5 3h0m1 2h0m-1 2h0m1 2h0m-0.5 64h0m-0.5 1h0m0.5 0.5h0m-0.5 0h0m0 0h0m2-118h0m0 3h0m-0.5 7h0m0 1h0m0 13h0m0 4h0m0 1h0m-0.5 2h0m1 0h0m0 5h0m-1 4.5h0m1 1h0m-0.5 0.5h0m0 1h0m0 1h0m-0.5 2.5h0m0.5 0h0m-0.5 2.5h0m0.5 1.5h0m0 2h0m0 0.5h0m0 63.5h0m-0.5 0h0m1.5-111.5h0m0.5 0.5h0m-0.5 4h0m0.5 9h0m-0.5 5h0m0 7.5h0m0.5 5.5h0m-0.5 0.5h0m0 7h0m0.5 0.5h0m-1 0.5h0m1 0.5h0m-1 7h0m0.5 4h0m0 3.5h0m0.5 12.5h0m0.5-78.5h0m-0.5 4h0m0.5 11h0m-0.5 5.5h0m0.5 30.5h0m0 13h0m0 2.5h0m0 2.5h0m0.5 1h0m-0.5 0.5h0m0.5 0.5h0m0 0.5h0m-0.5 5.5h0m-0.5 46h0m1 0h0m-0.5 0h0m-0.5 0h0m1 0h0m-0.5 0.5h0m-0.5 0h0m1 0h0m-0.5 0h0m0 0h0m0.5 0h0m-1 0h0m0.5 0.5h0m0.5-55.5h0m0.5 1h0m0 6.5h0m0 5h0m0 41.5h0m0.5 0h0m-0.5 0h0m0 0h0m-0.5 0.5h0m0.5 0h0m0 0.5h0m0 0h0m-0.5 0h0m0.5 0h0m-0.5 0h0m1.5-43h0m0 1.5h0m0 40h0m0 0h0m-0.5 0.5h0m0.5 0h0m-0.5 0h0m1 0h0m-0.5 0h0m-0.5 0h0m1.5-103h0m0 7.5h0m0 0.5h0m0.5 3.5h0m-0.5 3.5h0m0.5 4h0m0 6.5h0m0 3.5h0m0 2.5h0m0 3h0m-0.5 5.5h0m0 2.5h0m-0.5 19.5h0m0 0.5h0m0.5 40h0m0.5 0h0m-1 0.5h0m0.5 0h0m0 0h0m0 0h0m-0.5 0h0m0.5 0.5h0m1.5-102.5h0m-0.5 9.5h0m0.5 1.5h0m-0.5 9h0m0.5 0h0m-0.5 4h0m0 6.5h0m0 1.5h0m-0.5 2.5h0m1 2.5h0m-1 6h0m0 4.5h0m1 0h0m0 1h0m-1 5.5h0m0.5 0.5h0m0.5 0.5h0m-0.5 6h0m0.5 40h0m-0.5 0h0m0.5 0.5h0m0 0h0m-1 0h0m0 0h0m0.5 0.5h0m0 0h0m0.5-102.5h0m0.5 5h0m0.5 0.5h0m-0.5 6.5h0m0 3.5h0m0 2h0m0.5 3.5h0m-1 1h0m0.5 5h0m0 0.5h0m0 1h0m0 1h0m0 1.5h0m0 6.5h0m-0.5 4h0m0 0h0m0.5 1h0m0 0.5h0m-0.5 1h0m0.5 3.5h0m0 0.5h0m0 13h0m0 0.5h0m-0.5 0h0m0.5 40.5h0m0 0h0m0 0h0m0.5-100h0m0 7.5h0m0.5 1.5h0m-0.5 17h0m0 0.5h0m0 3h0m0.5 8.5h0m-0.5 1h0m0 61h0m1 0h0m-0.5 0h0m0.5 0h0m-1 0.5h0m0.5 0h0m0 0h0m1.5-45h0m-1 45h0m0.5 0h0m-0.5 0h0m0.5 0h0m0 0h0m0 0.5h0m-0.5 0h0m0.5 0h0m0 0h0m0.5 0h0m-0.5 0h0m1-1h0m0 0h0m-0.5 0h0m0 0h0m0.5 0h0m-0.5 0h0m1 0.5h0m-0.5 0h0m0 0.5h0m0 0h0m0 0h0m0 0h0m-0.5 0h0m2-2h0m-0.5 1h0m0 0h0m0.5 0h0m-0.5 0h0m0 0.5h0m0.5 0h0m0 0h0m-0.5 0h0m-0.5 0h0m2-57.5h0m-0.5 1h0m0.5 4h0m-0.5 6h0m0 0h0m0 45h0m0.5 0.5h0m-0.5 0h0m0 0h0m0.5 0h0m0 0.5h0m-0.5 0h0m0 0h0m-0.5 0h0m0 0h0m0 0h0m0.5 0h0m-0.5 0.5h0m1.5-116.5h0m0 12.5h0m0 3h0m0 13h0m0.5 3h0m-0.5 18.5h0m0.5 6.5h0m-0.5 0.5h0m0 1h0m0 2.5h0m-0.5 0.5h0m1 1h0m-0.5 2h0m0.5 1h0m-0.5 5.5h0m0 0h0m0 44.5h0m0 0h0m0 0h0m-0.5 0h0m0 0h0m1.5-109.5h0m0.5 4h0m-1 0.5h0m1 0.5h0m-1 15h0m1 5.5h0m-0.5 4h0m0.5 4h0m-0.5 8.5h0m0 10h0m0 57.5h0m0 0h0m0 0h0m0.5 0h0m0 0h0m-1 0h0m0 0h0m1 0.5h0m-0.5 0h0m1-117h0m-0.5 1.5h0m0.5 10.5h0m0 7.5h0m-0.5 0.5h0m1 2.5h0m-0.5 0.5h0m0 1h0m0 2.5h0m0 3h0m0.5 0.5h0m-0.5 6h0m0.5 1h0m-1 0.5h0m0 0h0m0.5 4.5h0m-0.5 1h0m0.5 0h0m0 3h0m0.5 2h0m-0.5 1h0m0 2h0m0 6.5h0m-0.5 9.5h0m0.5 50h0m0.5 0h0m0 0.5h0m-0.5 0h0m0.5 0h0m-0.5 0h0m0.5-80.5h0m0 2h0m0 4.5h0m0 1.5h0m0 1h0m0 4h0m0.5 2.5h0m0 3h0m0.5 62h0m-1 0h0m0.5 0h0m-0.5 0h0m2-85h0m-0.5 2h0m1-4h0m-0.5 1.5h0m0.5 2h0m0 0h0m-0.5 11h0m0 5h0m0.5 1h0m0 66.5h0m1.5-75.5h0m-0.5 4h0m0 1.5h0m0 5.5h0m0.5 2h0m-0.5 12.5h0m0 3.5h0m-0.5 46.5h0m0 0h0m0 0h0m0 0h0m0.5 0h0m0 0h0m0 0.5h0m0 0h0m0.5 0h0m0.5-79.5h0m-0.5 1.5h0m0.5 16.5h0m-0.5 2.5h0m0 2.5h0m0 2h0m0 6.5h0m1 10.5h0m-1 37h0m0 0h0m1 0h0m0 0.5h0m0 0h0m-1 0h0m0.5 0h0m0.5 0h0m1-45h0m-0.5 5h0m0 0h0m0.5 0.5h0m-1 0.5h0m0 1h0m1 0.5h0m-1 1h0m0 36h0m0.5 0h0m0 0h0m-0.5 0.5h0m1 0h0m-1 0h0m0 0h0m1 0h0m-0.5 0.5h0m0 0h0m0.5-45.5h0m0 6h0m0.5 3.5h0m-0.5 35.5h0m0 0h0m0.5 0h0m0 0.5h0m-0.5 0h0m0.5 0h0m0 0h0m0 0h0m0 0h0m-0.5 0h0m1 0h0m0 0.5h0m-0.5 0.5h0m0.5 0h0m0 0h0m0.5-0.5h0m0 0.5h0m-0.5 0h0m0 0h0m0.5 0h0m0.5 0h0m0 0.5h0m0 0h0m-0.5 0h0m0.5 0h0m-0.5 0h0m0.5 0h0m-0.5 0h0m0 0h0m0.5 0h0m1-37.5h0m-0.5 37h0m0 0h0m0 0h0m0.5 0.5h0m0 0.5h0m0 0h0m-0.5 0h0m0 0h0m0.5 0h0m-0.5 0h0m0.5 0h0m-0.5 0h0m0.5 0h0m-0.5 0h0m0 0.5h0m1.5-47.5h0m-0.5 46.5h0m0.5 0h0m-1 0.5h0m0.5 0h0m-0.5 0.5h0m1.5-51.5h0m0 3h0m0 0.5h0m0 6h0m-0.5 0.5h0m0.5 0h0m0 1h0m-0.5 2h0m0 37.5h0m1 0.5h0m1-95.5h0m-0.5 2.5h0m0 0.5h0m0.5 10.5h0m-0.5 9h0m0 8h0m0 8h0m-0.5 5.5h0m0 11.5h0m1 39h0m-0.5 0h0m0 0h0m0 0h0m0 0h0m0.5 0h0m-1 0h0m0.5 0.5h0m-0.5 0h0m0.5 0h0m0 0h0m-0.5 0.5h0m0 0h0m0.5 0h0m1-101.5h0m0 7h0m0 1h0m0.5 10.5h0m-1 2h0m0.5 4h0m0.5 0h0m-0.5 0.5h0m0.5 0.5h0m-1 7.5h0m0.5 2h0m0 1h0m0 0.5h0m0.5 0.5h0m-0.5 3.5h0m0 1.5h0m-0.5 0.5h0m0.5 0.5h0m-0.5 5h0m1 52h0m-0.5 0.5h0m-0.5 0h0m0.5 0h0m0 0h0m0 0h0m0 0.5h0m1-102.5h0m0.5 0h0m-0.5 2h0m0 5h0m0 12.5h0m0.5 8h0m-1 6h0m0.5 8h0m-0.5 1.5h0m0 1.5h0m0.5 56.5h0m0.5 0h0m0 0h0m0 0h0m-1 0.5h0m0 0.5h0m0.5 0h0m-0.5 0h0m0.5 0.5h0m0.5-101.5h0m0 22.5h0m0 6.5h0m0.5 10.5h0m0 60.5h0m0 0h0m0.5 0h0m-1 0h0m0.5 0h0m-0.5 0h0m0.5 0h0m0 0.5h0m0 0h0m1.5-76.5h0m0 1.5h0m-0.5 12.5h0m0.5 12.5h0m0 1h0m-0.5 48.5h0m-0.5 0h0m0 0h0m0.5 0.5h0m1-83.5h0m0 15h0m-0.5 3.5h0m0.5 4.5h0m0.5 2h0m0 1.5h0m-0.5 0.5h0m0.5 4h0m-0.5 3h0m0 49h0m0.5 0h0m-0.5 0h0m0.5 0h0m0 0h0m0-65h0m0.5 3h0m-0.5 0.5h0m1 5.5h0m-0.5 2h0m0 2h0m0 2.5h0m-0.5 0h0m0.5 4h0m0 1.5h0m0 2.5h0m0 4h0m0.5 1h0m0 4.5h0m-0.5 6h0m0.5 5h0m-0.5 21h0m0 0h0m-0.5 0h0m0.5 0h0m0 0.5h0m0.5 0h0m0 0h0m0.5-63.5h0m-0.5 6.5h0m0.5 1.5h0m0 4.5h0m-0.5 6.5h0m0 2.5h0m0.5 3.5h0m0.5 1h0m-1 2.5h0m0.5 0.5h0m0 0.5h0m0 2h0m0 4.5h0m0.5 2h0m-0.5 0h0m0 0.5h0m-0.5 0.5h0m0.5 1h0m0.5 1h0m-0.5 2.5h0m0.5 1h0m-0.5 0.5h0m0.5 5h0m-1 0.5h0m0.5 0.5h0m0.5 0h0m-0.5 0h0m0 0h0m-0.5 0.5h0m0.5 0.5h0m0 0h0m0.5 4.5h0m0 1h0m0 2h0m-0.5 4h0m0 0.5h0m0 0.5h0m0.5 0h0m0 0h0m0 0h0m-0.5 0h0m0.5-33h0m0 1.5h0m0.5 0h0m-0.5 0.5h0m0 4h0m0.5 7.5h0m-0.5 1h0m0 0h0m0.5 2.5h0m-0.5 1h0m0.5 0.5h0m0 0.5h0m0 3h0m-0.5 1.5h0m0.5 0h0m0 2h0m0 1h0m0 0.5h0m0 1h0m0 0.5h0m0 0.5h0m0 1.5h0m0 1.5h0m0.5 1h0m-1 0h0m0 0h0m0.5 0h0m0 0h0m-0.5 0h0m0 0h0m0 0h0m0.5 0.5h0m0.5 0h0m0 0h0m0 0.5h0m-0.5 0h0m0.5 0h0m-0.5 0.5h0m0.5 0.5h0m0 0h0m-0.5 0h0m0.5 0.5h0m0 0h0m0 0h0m-0.5 0h0m0 0h0m0.5 0h0m-0.5 0h0m0 0h0m0.5 0h0m0 0h0m-0.5 0h0m0.5 0h0m-0.5 0h0m1-7.5h0m0 0.5h0m0 0h0m0 0.5h0m0 1h0m0 0h0m-0.5 1h0m0.5 0.5h0m0 0.5h0m0 0h0m0 0.5h0m0 0h0m-0.5 1h0m0 0h0m0.5 0h0m-0.5 1h0m0.5 0h0m-0.5 0h0m0 0.5h0m0.5 0h0m0 0h0m0 0h0m-0.5 0h0m0.5 0h0m0.5 0.5h0m0 0h0m-0.5 0h0m0 0h0m0.5 0h0m-1 0h0m0.5 0h0m0 0h0m-0.5 0h0m1 0h0m-0.5 0h0m0 0h0m0.5 0.5h0m0 0h0m0 0h0m-0.5 0h0m0.5 0h0m0 0h0m-0.5 0.5h0m0.5 0h0m0 0h0m0 0.5h0m-0.5 0h0m0 0h0m0 0h0m0.5 0h0m0 0h0m-0.5 0.5h0m0.5 0h0m-0.5 0h0m0.5 0h0m0 0h0m0 0h0m0 0h0m0 0h0m-0.5 0h0m0 0h0m0.5 0h0m0 0h0m0.5-2h0m-0.5 0h0m0.5 0h0m0.5 0h0m-0.5 0h0m0 0.5h0m-0.5 0h0m0.5 0h0m0 0h0m0 0h0m0 0h0m-0.5 0h0m0.5 0h0m0 0h0m0 0h0m0.5 0.5h0m0 0h0m-0.5 0h0m-0.5 0h0m0.5 0h0m-0.5 0h0m1 0h0m-0.5 0h0m0.5 0h0m-0.5 0h0m0.5 0h0m-0.5 0h0m0.5 0.5h0m-1 0h0m1 0h0m-0.5 0h0m0 0h0m-0.5 0h0m0.5 0h0m0 0h0m0.5 0h0m-0.5 0h0m0.5 0h0m-0.5 0h0m0 0h0m0.5 0h0m-0.5 0.5h0m0.5 0h0m0 0h0m0 0h0m-0.5 0h0m0.5 0h0m-0.5 0h0m0 0h0m0.5 0h0m0 0h0m-0.5 0h0m0 0h0m0.5 0h0m0 0h0m-0.5 0h0m-0.5 0h0m0 0h0m0.5 0h0m-0.5 0h0m0.5 0h0m-0.5 0h0m0 0h0m0.5 0h0m0 0h0m0 0h0m-0.5 0h0m0 0h0m1.5-2h0m0.5 0h0m-0.5 0h0m0.5 0.5h0m-0.5 0h0m0 0h0m0.5 0h0m-1 0h0m1 0h0m-1 0h0m0 0h0m0.5 0h0m0.5 0.5h0m0 0h0m-1 0h0m0 0h0m1 0h0m-1 0h0m0.5 0h0m0.5 0h0m-0.5 0h0m0 0h0m-0.5 0h0m1 0h0m0 0h0m-1 0.5h0m0.5 0h0m0.5 0h0m-0.5 0h0m0 0h0m0.5 0h0m-0.5 0h0m0 0h0m0 0h0m0.5 0h0m0 0h0m-0.5 0h0m0.5 0h0m-0.5 0h0m0 0h0m0 0.5h0m-0.5 0h0m0.5 0h0m0.5 0h0m0 0h0m-0.5 0h0m0.5 0h0m-1 0h0m0 0h0m0 0h0m1 0h0m0 0h0m-1 0h0m0 0h0m0.5 0h0m0 0h0m0.5 0h0m-0.5 0h0m0.5 0h0m0 0h0m-0.5 0h0m0 0h0m0 0h0m0.5 0h0m-0.5 0h0m0 0h0m0 0h0m0 0h0m0.5-2h0m0 0.5h0m1 0h0m-1 0h0m0.5 0.5h0m-0.5 0h0m1 0h0m-0.5 0h0m0.5 0h0m-1 0h0m1 0.5h0m-1 0h0m0.5 0h0m-0.5 0h0m0.5 0h0m0 0h0m0 0h0m0.5 0h0m-0.5 0h0m-0.5 0h0m1 0h0m-1 0h0m0.5 0h0m0.5 0h0m-0.5 0h0m0 0.5h0m0 0h0m0 0h0m0 0h0m0.5 0h0m0 0h0m-0.5 0h0m0 0h0m0 0h0m-0.5 0h0m0 0h0m0.5 0h0m-0.5 0h0m0 0h0m0 0h0m0.5 0h0m0.5 0h0m-0.5 0h0m0.5 0.5h0m0 0h0m0 0h0m-0.5 0h0m0 0h0m0.5 0h0m0 0h0m-0.5 0h0m0.5 0h0m-0.5 0h0m0 0h0m0.5 0h0m-0.5 0h0m0.5 0h0m-0.5 0h0m0 0h0m0 0h0m0.5-2h0m0.5 0.5h0m0 0h0m-0.5 0h0m0.5 0h0m0 0h0m0.5 0h0m-0.5 0.5h0m-0.5 0h0m0.5 0h0m0.5 0h0m-0.5 0h0m-0.5 0h0m0 0h0m1 0h0m-0.5 0h0m0.5 0h0m-0.5 0.5h0m0.5 0h0m0 0h0m0 0h0m-0.5 0h0m-0.5 0h0m0.5 0h0m-0.5 0.5h0m0.5 0h0m-0.5 0h0m0.5 0h0m0 0h0m0 0h0m0 0h0m0 0h0m0 0h0m0 0h0m0 0h0m-0.5 0h0m0 0h0m0 0h0m0.5 0h0m0 0h0m0.5 0h0m-0.5 0h0m0 0h0m0.5 0h0m-0.5 0h0m0.5 0.5h0m-0.5 0h0m0.5 0h0m0 0h0m-0.5 0h0m0.5 0h0m-0.5 0h0m0 0h0m0 0h0m1.5-3h0m0 0h0m-0.5 0h0m0 0h0m0 0h0m0.5 0h0m-0.5 0.5h0m0 0h0m0.5 0h0m-1 0h0m0.5 0h0m0 0h0m0 0.5h0m0.5 0h0m0 0h0m-1 0h0m0.5 0h0m0.5 0h0m-0.5 0.5h0m0 0h0m0.5 0h0m-1 0h0m1 0h0m-0.5 0h0m0 0h0m0 0h0m0.5 0h0m-1 0h0m0.5 0h0m-0.5 0h0m0.5 0h0m0.5 0h0m0 0h0m-0.5 0h0m0 0.5h0m0 0h0m0.5 0h0m-0.5 0h0m0.5 0h0m-0.5 0h0m0.5 0h0m-1 0h0m0.5 0h0m-0.5 0h0m1 0h0m-1 0h0m0.5 0h0m0 0h0m0.5 0h0m0 0h0m-0.5 0h0m0 0h0m0.5 0h0m-0.5 0h0m0 0.5h0m-0.5 0h0m0 0h0m0.5 0h0m-0.5 0h0m0 0h0m0 0h0m0.5 0.5h0m0 0h0m-0.5 0h0m0.5 0h0m0 0h0m0 0h0m0 0h0m0 0h0m-0.5 0h0m0 0h0m0.5 0h0m0 0h0m0 0h0m1-3.5h0m-0.5 0h0m0.5 0.5h0m0 0h0m0.5 0h0m-1 0.5h0m0.5 0h0m-0.5 0h0m0.5 0h0m0.5 0h0m0 0h0m-0.5 0h0m-0.5 0.5h0m1 0h0m-1 0h0m0 0h0m0 0h0m1 0h0m-0.5 0h0m0 0h0m-0.5 0h0m1 0.5h0m-0.5 0h0m0 0h0m0.5 0h0m-1 0h0m0 0h0m0.5 0h0m0 0h0m0.5 0h0m0 0h0m0 0.5h0m-1 0h0m1 0h0m0 0h0m-0.5 0h0m0 0h0m0 0h0m0.5 0h0m-0.5 0h0m0 0h0m0 0h0m0 0h0m-0.5 0h0m0 0h0m0 0h0m0.5 0.5h0m0 0h0m0.5 0h0m0 0h0m0 0h0m-0.5 0h0m0.5 0.5h0m-0.5 0h0m0 0h0m0.5 0h0m-0.5 0h0m0 0h0m1-3h0m-0.5 0h0m1 0.5h0m-1 0h0m0 0h0m1 0.5h0m-0.5 0h0m-0.5 0h0m0 0h0m0 0h0m1 0.5h0m-1 0h0m0 0h0m1 0h0m0 0h0m-1 0h0m1 0h0m-0.5 0.5h0m-0.5 0h0m1 0h0m-1 0h0m0.5 0.5h0m-0.5 0h0m0 0h0m0 0h0m1 0h0m-0.5 0h0m-0.5 0h0m1 0h0m-1 0h0m0.5 0.5h0m0 0h0m0.5 0h0m-1 0h0m0 0h0m0 0h0m0 0h0m0 0h0m0.5 0h0m0.5 0h0m-0.5 0h0m0.5 0h0m-0.5 0h0m0.5 0h0m-0.5 0h0m0 0h0m0 0.5h0m0.5 0h0m-0.5 0h0m0 0h0m0.5 0h0m0 0h0m0.5-3h0m-0.5 0h0m0.5 0h0m-0.5 0h0m0 0h0m1 0.5h0m-0.5 0h0m0 0h0m0.5 0.5h0m-0.5 0h0m0 0h0m0.5 0h0m-0.5 0.5h0m0 0h0m0 0h0m0.5 0h0m0 0.5h0m-0.5 0h0m0.5 0h0m-0.5 0h0m0.5 0h0m-1 0h0m0 0h0m0 0h0m0.5 0.5h0m0 0h0m0 0h0m0 0h0m-0.5 0h0m0.5 0h0m0 0h0m0 0h0m0 0.5h0m0.5 0h0m-1 0h0m0.5 0h0m0 0h0m0.5 0h0m-0.5 0h0m0 0h0m0 0h0m0.5 0h0m-0.5 0h0m-0.5 0h0m0 0h0m0 0h0m0.5 0h0m-0.5 0h0m0.5 0h0m0.5 0.5h0m0 0h0m-0.5 0h0m0.5 0h0m-0.5 0h0m0 0h0m0.5 0h0m-0.5 0h0m0.5 0.5h0m0 0h0m-0.5 0h0m0 0h0m0.5 0h0m0.5-4.5h0m-0.5 0.5h0m1 0h0m-0.5 0h0m-0.5 0h0m1 0h0m0 0h0m-0.5 0h0m-0.5 0.5h0m0.5 0h0m0.5 0h0m-0.5 0h0m0 0h0m0 0h0m0 0h0m0 0.5h0m0 0h0m0 0h0m0 0h0m0 0h0m0.5 0h0m-0.5 0h0m-0.5 0.5h0m0 0h0m0.5 0h0m0 0h0m0 0h0m0.5 0h0m-0.5 0h0m0.5 0.5h0m-0.5 0h0m-0.5 0h0m0.5 0h0m-0.5 0h0m1 0h0m0 0h0m0 0h0m-0.5 0.5h0m0 0h0m0 0h0m0 0h0m0.5 0h0m-1 0h0m0.5 0.5h0m0 0h0m-0.5 0h0m0 0h0m0 0.5h0m0.5 0h0m0 0h0m0 0h0m0 0h0m0 0h0m0 0h0m0 0.5h0m0 0h0m0 0h0m0 0h0m0 0h0m0.5-4h0m0.5 0h0m0.5 0.5h0m-0.5 0h0m0 0h0m-0.5 0h0m0 0h0m0.5 0h0m-0.5 0h0m0 0h0m0.5 0.5h0m0 0h0m-0.5 0h0m0.5 0h0m0 0h0m0 0h0m0.5 0.5h0m-1 0h0m0.5 0h0m0 0h0m0 0h0m0 0h0m0.5 0h0m-0.5 0h0m0 0h0m-0.5 0h0m0.5 0h0m0.5 0h0m-0.5 0.5h0m0 0h0m0 0h0m-0.5 0h0m0.5 0h0m0.5 0h0m-0.5 0h0m0 0h0m0 0h0m0.5 0h0m-0.5 0h0m0.5 0h0m-1 0h0m0.5 0h0m-0.5 0h0m0.5 0h0m-0.5 0h0m0.5 0.5h0m0 0h0m0 0h0m0 0h0m0 0h0m0 0h0m-0.5 0h0m0.5 0h0m0 0h0m0 0h0m0.5 0h0m0 0h0m-0.5 0h0m0 0h0m0 0h0m1.5-2.5h0m0 0h0m-0.5 0h0m0 0h0m-0.5 0h0m0 0h0m1 0.5h0m-0.5 0h0m0 0h0m0.5 0h0m-0.5 0h0m0 0.5h0m0.5 0h0m0 0h0m-0.5 0h0m-0.5 0h0m0.5 0h0m-0.5 0h0m0.5 0h0m-0.5 0h0m0.5 0h0m-0.5 0h0m0 0h0m0.5 0h0m-0.5 0.5h0m1 0h0m-0.5 0h0m-0.5 0h0m0.5 0h0m0 0h0m0 0h0m0.5 0h0m-0.5 0h0m0 0h0m-0.5 0h0m0.5 0h0m0.5 0h0m-1 0h0m0.5 0h0m-0.5 0h0m0.5 0h0m0.5 0h0m-0.5 0h0m0.5 0.5h0m0 0h0m-1 0h0m0 0h0m1 0h0m-1 0h0m1 0h0m-0.5 0h0m0.5 0h0m-0.5 0h0m0 0h0m0 0h0m0 0h0m0 0h0m-0.5 0h0m0.5 0h0m-0.5 0h0m0.5 0h0m-0.5 0h0m0.5 0h0m0 0h0m0 0h0m-0.5 0h0m0.5 0.5h0m0 0h0m-0.5 0h0m0 0h0m0.5 0h0m0 0h0m0 0h0m-0.5 0h0m0.5 0h0m0 0h0m0 0h0m1-2.5h0m0.5 0h0m-0.5 0h0m-0.5 0h0m1 0h0m0 0h0m-0.5 0h0m-0.5 0h0m1 0.5h0m0 0h0m0 0h0m-0.5 0h0m0 0.5h0m0 0h0m0 0h0m0 0h0m0 0h0m0 0h0m0.5 0h0m-1 0h0m0 0h0m0.5 0h0m-0.5 0h0m0.5 0h0m0.5 0h0m-1 0h0m1 0.5h0m-1 0h0m0.5 0h0m-0.5 0h0m0.5 0h0m0 0h0m0 0h0m0 0h0m0 0h0m0.5 0h0m0 0h0m-1 0h0m1 0h0m-0.5 0h0m0 0h0m0.5 0h0m-0.5 0h0m0 0h0m0.5 0h0m-0.5 0h0m0.5 0h0m-1 0h0m0.5 0h0m-0.5 0h0m0.5 0.5h0m0 0h0m0 0h0m0 0h0m-0.5 0h0m0.5 0h0m0 0h0m0 0h0m-0.5 0h0m0 0h0m1.5-2.5h0m0.5 0h0m0 0.5h0m-0.5 0h0m0 0h0m-0.5 0h0m0 0h0m0.5 0h0m-0.5 0h0m1 0.5h0m-1 0h0m0.5 0h0m-0.5 0h0m0.5 0h0m0 0h0m-0.5 0h0m1 0h0m-0.5 0h0m-0.5 0.5h0m0 0h0m0.5 0h0m0 0h0m0 0h0m0 0h0m-0.5 0h0m0 0h0m0.5 0h0m0.5 0h0m-0.5 0h0m0 0h0m-0.5 0h0m0.5 0h0m0.5 0h0m0 0.5h0m-0.5 0h0m0 0h0m-0.5 0h0m0 0h0m0.5 0h0m-0.5 0h0m0 0h0m1 0h0m-1 0h0m0 0h0m0 0h0m0.5 0h0m0.5 0h0m-1 0h0m0.5 0h0m0 0h0m0 0h0m0.5 0.5h0m0 0h0m-0.5 0h0m0.5 0h0m-0.5 0h0m0.5 0h0m-0.5 0h0m0.5 0h0m-0.5 0h0m0.5 0h0m-0.5 0h0m1.5-3h0m0 0h0m-1 0.5h0m0 0h0m0.5 0h0m0 0h0m-0.5 0h0m0.5 0h0m-0.5 0h0m1 0.5h0m-0.5 0h0m-0.5 0h0m0 0.5h0m1 0h0m-1 0h0m0.5 0h0m-0.5 0h0m0 0.5h0m0 0h0m0 0h0m0 0h0m1 0.5h0m-1 0h0m0.5 0h0m-0.5 0h0m0.5 0h0m0 0h0m-0.5 0h0m0 0h0m0.5 0h0m0 0.5h0m0 0h0m0 0h0m-0.5 0h0m0.5 0h0m0 0h0m0 0h0m-0.5 0h0m0 0h0m0.5 0h0m0 0h0m-0.5 0h0m0 0h0m0.5 0.5h0m0 0h0m0 0.5h0m0.5 0h0m-0.5 0h0m0 0h0m0 0h0m0 0h0m0.5 0h0m0 0h0m0 0h0m0 0h0m0 0h0m0-5h0m0.5 0.5h0m0 0h0m-0.5 0.5h0m0 0h0m0 0h0m0.5 0h0m0 0h0m0 0.5h0m-0.5 0.5h0m0 0.5h0m0 1h0m0 0h0m0 0.5h0m0 0h0m1 0h0m-0.5 0h0m0 0.5h0m0 0h0m0.5 0h0m-1 0h0m0.5 0h0m0 0h0m0 0h0m0 0h0m0 0h0m0.5 0h0m-0.5 0h0m0.5 0h0m0 0h0m-0.5 0h0m0.5 0h0m-0.5 0h0m0.5 0h0m0 0h0m0 0h0m-0.5 0h0m0.5 0h0m-0.5 0.5h0m0.5 0h0m0 0h0m-0.5 0h0m0.5 0h0m-0.5 0h0m-0.5 0h0m0.5 0h0m-0.5 0h0m0 0h0m0.5 0h0m0 0h0m0 0h0m0 0h0m-0.5 0h0m0 0h0m2-1.5h0m0 0h0m0 0h0m0 0h0m-0.5 0h0m0.5 0h0m0 0h0m0 0.5h0m0 0h0m-0.5 0h0m0.5 0h0m-0.5 0h0m0.5 0h0m-1 0h0m0.5 0h0m0 0.5h0m0.5 0h0m-0.5 0h0m0.5 0h0m-0.5 0h0m0.5 0h0m-0.5 0h0m0.5 0h0m0 0h0m-0.5 0h0m0 0h0m0 0h0m-0.5 0h0m1 0h0m0 0h0m-0.5 0h0m0 0h0m-0.5 0h0m1 0h0m-0.5 0h0m-0.5 0h0m1 0h0m-0.5 0h0m0 0h0m0 0h0m0 0h0m0.5 0h0m0 0h0m0 0h0m-0.5 0h0m0 0h0m-0.5 0h0m0.5 0h0m0.5 0h0m0 0h0m0 0h0m0 0h0m-0.5 0h0m-0.5 0.5h0m0.5 0h0m-0.5 0h0m1-1.5h0m1 0h0m-1 0h0m1 0.5h0m-0.5 0h0m-0.5 0h0m1 0h0m-1 0h0m0.5 0h0m0.5 0.5h0m-0.5 0h0m0 0h0m0.5 0h0m-0.5 0h0m0.5 0h0m-1 0h0m0 0h0m0.5 0h0m-0.5 0h0m0.5 0h0m0 0h0m0 0h0m0.5 0h0m-0.5 0h0m-0.5 0h0m0 0h0m0.5 0h0m-0.5 0h0m0.5 0h0m0 0h0m-0.5 0h0m0.5 0h0m0 0h0m0 0.5h0m0 0h0m0.5 0h0m-0.5 0h0m0 0h0m0.5 0h0m0 0h0m-0.5 0h0m0 0h0m0.5 0h0m0 0h0m-0.5 0h0m0.5 0h0m-0.5 0h0m0.5 0h0m-0.5 0h0m0.5 0h0m0.5-4h0m0.5 0h0m0 0h0m0 0h0m0 0h0m-0.5 0.5h0m0.5 0h0m0 0h0m-0.5 0h0m0.5 0h0m-0.5 0h0m0 0.5h0m0 0h0m0.5 0h0m-0.5 0h0m0 0h0m0 0.5h0m0.5 0h0m0 0h0m0 0h0m-0.5 0h0m0 0.5h0m0 0h0m0 0h0m0.5 0h0m0 0h0m0 0.5h0m-0.5 0h0m0 0h0m-0.5 0h0m1 0h0m-1 0h0m0.5 0h0m0 0h0m0.5 0h0m-0.5 0h0m0 0h0m0.5 0h0m0 0h0m-0.5 0h0m0 0h0m-0.5 0.5h0m0.5 0h0m0 0h0m0 0.5h0m0 0h0m0 0h0m0 0h0m0 0h0m-0.5 0h0m0.5 0h0m-0.5 0h0m0 0h0m0 0h0m0 0h0m0 0.5h0m0 0h0m0 0h0m0 0h0m0.5 0h0m-0.5 0h0m0.5 0h0m-0.5 0h0m0.5 0h0m0 0h0m0 0h0m0 0h0m0 0h0m-0.5 0h0m0.5 0h0m0 0h0m0 0h0m0 0h0m1-4h0m0 0h0m0 0h0m0 0h0m-0.5 0h0m0 0h0m0.5 0h0m-0.5 0.5h0m0 0h0m1 0h0m-1 0h0m0.5 0.5h0m0.5 0h0m0 0h0m0 0h0m0 0h0m0 0h0m-0.5 0.5h0m0 0h0m0 0h0m0.5 0h0m-1 0h0m1 0h0m-0.5 0h0m0.5 0h0m-0.5 0h0m-0.5 0h0m0.5 0h0m0 0h0m0.5 0h0m0 0.5h0m-0.5 0h0m0 0h0m0.5 0h0m0 0h0m-0.5 0h0m0 0h0m0.5 0h0m0 0h0m0 0h0m-0.5 0h0m0.5 0h0m-0.5 0h0m0 0h0m-0.5 0h0m0.5 0h0m0 0h0m-0.5 0.5h0m0.5 0h0m0 0h0m0 0h0m-0.5 0h0m0 0h0m0.5 0h0m0 0h0m0 0h0m-0.5 0h0m1-2h0m0 0h0m0 0h0m0.5 0.5h0m-0.5 0h0m0.5 0h0m-0.5 0h0m0.5 0h0m0 0h0m-0.5 0h0m0 0h0m0.5 0h0m0 0h0m0 0.5h0m0.5 0h0m0 0h0m-0.5 0h0m0 0h0m0 0h0m0 0h0m0 0h0m0 0h0m0 0h0m-0.5 0h0m1 0h0m-0.5 0h0m0.5 0h0m-0.5 0h0m0 0h0m0 0h0m-0.5 0h0m0 0h0m0 0.5h0m1 0h0m-0.5 0h0m-0.5 0h0m0 0h0m0 0h0m0.5 0h0m0 0h0m-0.5 0h0m0.5 0h0m0 0h0m-0.5 0h0m0.5 0h0m-0.5 0h0m0.5 0h0m0.5 0h0m0 0h0m0 0h0m0 0h0m-0.5 0.5h0m0.5 0h0m0 0h0m-0.5 0h0m0.5 0h0m0 0h0m0 0h0m0 0h0m0 0h0m-0.5 0h0m0 0h0m0 0.5h0m0 0h0m0 0h0m0 0h0m0 0h0m0 0h0m0 0h0m0.5 0h0m0 0h0m1-2.5h0m-0.5 0.5h0m0.5 0h0m-0.5 0h0m0 0h0m0.5 0h0m0 0h0m-0.5 0.5h0m0.5 0h0m-0.5 0h0m0.5 0h0m-0.5 0h0m-0.5 0h0m1 0h0m0 0h0m-1 0h0m0.5 0h0m0 0h0m0 0h0m0 0h0m0 0h0m0 0h0m0 0h0m-0.5 0h0m1 0h0m-0.5 0h0m-0.5 0h0m0.5 0.5h0m0.5 0h0m-0.5 0h0m0 0h0m0.5 0h0m-0.5 0h0m0.5 0h0m-0.5 0h0m0.5 0h0m-1 0h0m0.5 0h0m0 0h0m0 0h0m0.5 0h0m-0.5 0h0m0 0h0m0.5 0h0m0 0h0m-0.5 0h0m0 0h0m0 0h0m-0.5 0h0m0.5 0.5h0m-0.5 0h0m0.5 0h0m-0.5 0h0m0 0h0m0.5 0h0m0 0h0m0 0.5h0m0 0h0m0 0h0m-0.5 0h0m0 0h0m1-2h0m0.5 0h0m0.5 0h0m-0.5 0.5h0m0.5 0h0m-0.5 0h0m0 0h0m-0.5 0h0m0.5 0h0m0 0h0m0 0h0m0 0h0m0 0h0m-0.5 0h0m0.5 0h0m-0.5 0h0m0.5 0h0m0 0h0m0 0h0m0 0h0m0 0h0m0 0h0m0 0h0m0 0h0m0 0h0m-0.5 0.5h0m1 0h0m0 0h0m0 0h0m-0.5 0h0m0 0h0m0 0h0m0 0h0m0 0h0m0.5 0h0m0 0h0m-0.5 0h0m0 0h0m-0.5 0h0m1 0h0m0 0h0m-0.5 0h0m-0.5 0h0m0.5 0h0m0.5 0h0m-0.5 0h0m0 0h0m0 0h0m0 0h0m0.5 0h0m-0.5 0h0m0 0h0m0 0h0m-0.5 0h0m0.5 0h0m0 0h0m-0.5 0h0m0 0h0m0 0h0m0 0h0m0 0h0m2-2.5h0m0 0h0m-0.5 0h0m0 0h0m0.5 0h0m0 0.5h0m-0.5 0h0m0 0h0m0 0.5h0m0.5 0h0m0 0h0m-0.5 0h0m0 0h0m-0.5 0.5h0m0.5 0h0m-0.5 0h0m0 0h0m0.5 0h0m0.5 0h0m0 0h0m-0.5 0.5h0m-0.5 0h0m1 0h0m-0.5 0h0m-0.5 0h0m0 0h0m0 0h0m0.5 0h0m-0.5 0h0m0.5 0h0m0 0h0m0 0h0m0 0h0m0.5 0h0m0 0h0m-1 0h0m0 0h0m0 0h0m0 0h0m0.5 0.5h0m0.5 0h0m-0.5 0h0m0 0h0m0 0h0m0 0h0m0.5 0h0m-0.5 0h0m0 0h0m0.5 0h0m-0.5 0h0m0 0h0m0.5 0h0m-0.5 0h0m0 0h0m0.5 0h0m0 0h0m-1 0h0m1 0h0m-0.5 0h0m-0.5 0h0m0.5 0h0m0 0h0m0 0h0m-0.5 0h0m0 0h0m0.5 0h0m0 0h0m-0.5 0h0m1-2.5h0m0 0.5h0m0 0h0m0.5 0.5h0m0 0h0m-0.5 0h0m0.5 0h0m0 0h0m-0.5 0h0m0.5 0.5h0m0 0h0m0 0h0m0.5 0h0m-0.5 0h0m0 0h0m0 0h0m0 0h0m0.5 0h0m0 0h0m-1 0h0m1 0h0m-0.5 0h0m0 0.5h0m-0.5 0h0m0.5 0h0m0.5 0h0m0 0h0m-0.5 0h0m-0.5 0h0m1 0h0m-0.5 0h0m0 0h0m0.5 0h0m-0.5 0h0m0 0.5h0m0 0h0m0 0h0m0 0h0m0 0h0m0 0h0m-0.5 0h0m0 0h0m0.5 0h0m0 0h0m-0.5 0h0m0 0h0m1 0h0m-0.5 0h0m0.5 0h0m-0.5 0h0m0 0h0m0 0h0m0.5 0h0m0 0.5h0m0 0h0m0 0h0m-0.5 0h0m0 0h0m0.5 0h0m0 0h0m-0.5 0h0m0.5-2h0m0 0h0m0 0h0m0.5 0h0m0 0.5h0m-0.5 0h0m0 0h0m0.5 0h0m0 0h0m0 0h0m0 0h0m0 0h0m0.5 0h0m-0.5 0.5h0m0 0h0m0.5 0h0m-1 0h0m0.5 0h0m0.5 0h0m-0.5 0h0m0.5 0h0m-0.5 0h0m0 0h0m-0.5 0h0m0 0.5h0m0 0h0m1 0h0m-1 0h0m0 0h0m0.5 0h0m0 0h0m0 0h0m-0.5 0h0m0.5 0h0m0 0h0m-0.5 0h0m0.5 0h0m-0.5 0h0m1 0h0m-0.5 0h0m-0.5 0h0m0 0h0m0 0.5h0m0 0h0m0.5 0h0m-0.5 0h0m0 0h0m0.5 0h0m0 0h0m0 0h0m0.5 0h0m0 0h0m-0.5 0h0m0.5 0h0m0 0h0m0 0h0m-0.5 0h0m0.5 0h0m-0.5 0h0m0 0h0m0.5 0h0m-0.5 0h0m0 0h0m1.5-2h0m0 0h0m0 0.5h0m-0.5 0h0m0.5 0h0m-1 0h0m1 0h0m-1 0h0m0.5 0.5h0m0 0h0m0 0h0m-0.5 0h0m0.5 0h0m0.5 0h0m-0.5 0h0m0.5 0h0m-1 0h0m0.5 0h0m0 0h0m-0.5 0h0m1 0h0m-1 0h0m0.5 0h0m0 0h0m0 0.5h0m0 0h0m-0.5 0h0m0.5 0h0m0 0h0m0 0h0m0.5 0h0m-0.5 0h0m0.5 0h0m0 0h0m-0.5 0h0m0.5 0h0m-0.5 0h0m-0.5 0h0m0.5 0h0m0 0h0m-0.5 0h0m0 0h0m0.5 0h0m-0.5 0h0m1 0.5h0m-0.5 0h0m-0.5 0h0m0.5 0h0m-0.5 0h0m1 0h0m0 0h0m-0.5 0h0m-0.5 0h0m1 0h0m-0.5 0h0m-0.5 0h0m1 0h0m-0.5 0h0m0 0h0m-0.5 0h0m0.5 0h0m0.5 0h0m-0.5 0h0m0 0h0m0.5 0h0m0 0h0m1-1.5h0m0 0h0m-0.5 0h0m-0.5 0h0m0.5 0h0m0 0h0m0.5 0h0m-1 0.5h0m1 0h0m-0.5 0h0m0 0h0m-0.5 0h0m0 0h0m0 0h0m0 0h0m0.5 0h0m0 0h0m-0.5 0h0m0.5 0h0m0.5 0.5h0m-1 0h0m0 0h0m1 0h0m0 0h0m-0.5 0h0m0 0h0m0 0h0m0.5 0h0m0 0h0m-0.5 0h0m0 0h0m0.5 0h0m0 0h0m-1 0h0m1 0h0m0 0.5h0m-1 0h0m1 0h0m-0.5 0h0m0 0h0m0 0h0m0 0h0m0 0h0m0.5 0h0m-1 0h0m1 0h0m-0.5 0h0m0.5 0h0m0 0h0m-1 0h0m0 0h0m0 0h0m0.5 0h0m-0.5 0h0m0.5 0h0m0 0h0m-0.5 0h0m0 0h0m0.5 0h0m-0.5 0h0m1.5-2h0m0 0h0m-0.5 0.5h0m0 0h0m0.5 0h0m-0.5 0h0m0.5 0h0m-0.5 0h0m0.5 0h0m0 0.5h0m0 0h0m0.5 0h0m-0.5 0.5h0m0.5 0h0m-1 0h0m0.5 0h0m0 0h0m-0.5 0h0m0.5 0h0m-0.5 0h0m0.5 0h0m-0.5 0h0m0 0.5h0m0 0h0m0 0h0m0.5 0h0m-0.5 0h0m0.5 0h0m-0.5 0h0m0.5 0h0m-0.5 0h0m0.5 0h0m0 0h0m0 0h0m-0.5 0h0m0 0h0m0 0h0m0 0h0m0.5 0h0m-0.5 0h0m0 0h0m0.5 0h0m0.5 0h0m-0.5 0h0m0 0.5h0m0.5 0h0m-0.5 0h0m0.5 0h0m-0.5 0h0m0.5 0h0m0 0h0m-0.5 0h0m0 0h0m0 0.5h0m0 0h0m0 0h0m0.5 0h0m0 0h0m-0.5 0h0m0.5 0h0m-0.5 0h0m0.5 0h0m0 0h0m0 0h0m-0.5 0h0m0 0h0m0 0h0m0 0h0m1-3h0m-0.5 1h0m0 0h0m1 0h0m-0.5 0h0m0 0.5h0m0.5 0h0m0 0h0m-1 0h0m0.5 0h0m0.5 0h0m0 0h0m-1 0h0m0.5 0.5h0m0.5 0h0m0 0h0m-1 0h0m0.5 0h0m0 0h0m0.5 0h0m-1 0h0m0 0h0m0.5 0h0m0 0h0m0.5 0h0m-0.5 0.5h0m0 0h0m0 0h0m0 0h0m0.5 0h0m-0.5 0h0m-0.5 0h0m1 0h0m-1 0h0m0.5 0h0m-0.5 0h0m0.5 0h0m-0.5 0.5h0m1 0h0m-1 0h0m0 0h0m0.5 0h0m0.5 0h0m0 0h0m-0.5 0h0m0 0h0m0 0h0m0.5 0h0m-0.5 0h0m0.5 0h0m-0.5 0h0m0 0h0m-0.5 0h0m0 0h0m1 0h0m-0.5 0h0m0 0h0m0 0h0m1-2.5h0m0.5 0h0m-0.5 0h0m0.5 0h0m-0.5 0h0m0 0.5h0m0 0h0m0 0h0m0 0h0m0.5 0h0m0 0h0m-1 0h0m0 0.5h0m0.5 0h0m0 0h0m0 0h0m0.5 0h0m-0.5 0h0m-0.5 0h0m0.5 0h0m-0.5 0h0m0.5 0h0m0 0h0m-0.5 0h0m0 0h0m0.5 0h0m0 0h0m0.5 0h0m-0.5 0.5h0m0 0h0m0.5 0h0m-1 0h0m0.5 0.5h0m0 0h0m0 0h0m0.5 0h0m0 0h0m-0.5 0h0m0 0h0m0.5 0h0m-0.5 0h0m0 0h0m0 0h0m0 0h0m-0.5 0h0m1 0h0m0 0h0m0 0h0m0 0h0m-0.5 0h0m0.5 0h0m-0.5 0h0m0 0h0m0 0h0m-0.5 0h0m0.5 0.5h0m-0.5 0h0m0.5 0h0m-0.5 0h0m0.5 0h0m0 0h0m-0.5 0h0m0.5 0h0m0 0h0m0 0h0m-0.5 0h0m0 0h0m0 0h0m0 0h0m0 0h0m0.5 0h0m0 0h0m0 0h0m0 0h0m-0.5 0h0m1-2.5h0m0 0.5h0m0.5 0h0m0 0h0m-0.5 0h0m0.5 0h0m0.5 0.5h0m-1 0h0m0 0h0m0.5 0h0m-0.5 0.5h0m0.5 0h0m0 0h0m-0.5 0h0m1 0h0m-0.5 0h0m0 0h0m0 0h0m0.5 0h0m-0.5 0h0m0 0.5h0m0 0h0m0 0h0m0.5 0h0m-0.5 0h0m0 0h0m-0.5 0h0m0.5 0h0m0 0h0m0 0h0m0 0h0m-0.5 0h0m1 0.5h0m0 0h0m0 0.5h0m-0.5 0h0m0.5 0h0m-0.5 0h0m0.5 0h0m0 0.5h0m-0.5 0h0m0.5 0h0m0 0h0m0 0h0m0 0h0m-0.5 0h0m0.5 0h0m-0.5 0h0m0 0h0m0.5 0h0m-0.5 0h0m0.5 0h0m0 0h0m0 0h0m1-3h0m-0.5 0h0m0 0h0m-0.5 0.5h0m0.5 0h0m-0.5 0h0m1 0h0m-1 0h0m0.5 0h0m-0.5 0.5h0m0 0h0m0.5 0h0m-0.5 0h0m0.5 0h0m0 0h0m-0.5 0h0m0.5 0.5h0m0 0h0m0.5 0h0m-0.5 0h0m0 0h0m0.5 0.5h0m-0.5 0h0m0 0h0m0 0h0m0.5 0h0m0 0h0m-0.5 0.5h0m0 0h0m0 0h0m0.5 0h0m0 0h0m-1 0h0m0.5 0h0m0.5 0.5h0m-1 0h0m0.5 0h0m-0.5 0h0m0 0h0m0.5 0h0m0 0h0m-0.5 0h0m0 0h0m1 0h0m-0.5 0h0m0 0h0m0 0h0m0.5 0h0m-0.5 0h0m0 0h0m0.5 0h0m0 0h0m-0.5 0h0m-0.5 0h0m0.5 0h0m-0.5 0h0m0.5 0h0m-0.5 0h0m1 0h0m0 0.5h0m-0.5 0h0m0.5 0h0m0 0h0m-0.5 0h0m0.5 0h0m-0.5 0h0m0.5 0h0m-0.5 0h0m0 0h0m1.5-6.5h0m0 0h0m0 0h0m0 0.5h0m0 0.5h0m-0.5 0h0m0 0h0m0 0.5h0m0 0h0m0.5 0.5h0m-1 0.5h0m0.5 1h0m0 0.5h0m0 0h0m-0.5 0h0m0 0.5h0m1 0.5h0m-0.5 0h0m0 0h0m0 0h0m0 0h0m0 0.5h0m0 0h0m-0.5 0h0m0.5 0h0m0 0h0m0 0h0m0.5 0h0m-0.5 0h0m0.5 0h0m-0.5 0h0m0 0h0m0 0h0m0 0h0m0.5 0h0m0 0h0m-0.5 0h0m-0.5 0h0m0.5 0h0m0 0.5h0m0 0h0m0 0h0m0 0h0m0 0.5h0m0 0h0m0 0h0m-0.5 0h0m0.5 0h0m-0.5 0h0m0 0h0m1-6.5h0m0 0h0m0 0h0m0 0.5h0m0 0h0m0.5 0.5h0m0.5 0.5h0m-0.5 0h0m0.5 0h0m-0.5 0h0m0.5 0h0m-0.5 0.5h0m0.5 0h0m-0.5 0h0m0 0h0m0.5 0h0m0 2.5h0m-0.5 0.5h0m0.5 0h0m0 0h0m-0.5 0h0m0.5 0h0m-0.5 0h0m0.5 0h0m-0.5 0h0m0 0h0m0.5 0h0m-0.5 0h0m-0.5 0h0m0.5 0h0m0 0h0m0 0h0m0.5 0h0m-1 0h0m0 0h0m0.5 0h0m-0.5 0.5h0m0 0h0m0 0h0m0 0h0m1.5-4h0m0 0h0m0 0h0m0 0h0m0 0h0m0 0.5h0m-0.5 0h0m0.5 0h0m0 0h0m0 0.5h0m0.5 2h0m0 0h0m-0.5 0h0m0 0h0m0 0h0m0 0h0m0.5 0h0m-0.5 0h0m0 0h0m0.5 0h0m0 0.5h0m-0.5 0h0m0 0h0m0.5 0h0m-0.5 0h0m0.5 0h0m-1 0h0m1 0h0m0 0h0m-0.5 0h0m0 0h0m-0.5 0h0m0.5 0h0m0 0h0m0 0h0m0 0h0m1-4h0m-0.5 0.5h0m0.5 0h0m0 0h0m0 0.5h0m0.5 0h0m-1 0h0m0.5 0h0m0 0h0m0 0h0m-0.5 0h0m0 0h0m1 0h0m0 0h0m0 2h0m0 0h0m0 0h0m0 0h0m-0.5 0h0m0.5 0h0m0 0h0m-0.5 0h0m0.5 0h0m-0.5 0h0m0 0h0m0 0h0m0 0h0m0 0h0m0 0.5h0m0 0h0m0 0h0m-0.5 0.5h0m0.5 0h0m-0.5 0h0m1.5-3.5h0m0 0h0m0.5 0h0m-0.5 0h0m0.5 0h0m-0.5 0.5h0m0 0h0m0 0h0m0.5 0h0m-1 0h0m1 0h0m-0.5 2h0m-0.5 0h0m0.5 0h0m0.5 0h0m-0.5 0h0m-0.5 0h0m1 0h0m0 0h0m0 0h0m-0.5 0h0m0 0h0m0.5 0h0m-0.5 0h0m0.5 0h0m0 0h0m0.5-3.5h0m0 1h0m0 0.5h0m-0.5 0h0m0.5 0h0m0 1.5h0m-0.5 0.5h0m0 0h0m0 0h0m0 0h0m0.5 0h0m0 0h0m-0.5 0h0m0.5 0h0m-0.5 0h0m0.5 0h0m0 0h0m-0.5 0h0m0 0h0m0.5 0h0m-0.5 0h0m0.5 0h0m0 0h0m0.5 0h0m0 0h0m-0.5 0h0m0 0.5h0m0 0h0m0 0h0m0 0h0m0.5 0h0m-0.5 0h0m0 0h0m0 0h0m0.5 0h0m0 0h0m-0.5 0h0m0.5-4.5h0m0.5 0h0m0 0.5h0m-0.5 0h0m0 1h0m0.5 0h0m-0.5 0h0m0 2.5h0m0.5 0h0m0 0h0m0 0h0m0 0h0m0 0h0m0.5 0h0m-0.5 0.5h0m0 0h0m0.5 0h0m-1 0h0m0 0h0m0.5 0h0m0 0h0m0 0h0m0 0h0m-0.5 0h0m1 0h0m-0.5 0h0m-0.5 0h0m0.5 0h0m0.5 0h0m-1 0h0m0.5 0h0m0 0h0m0.5 0.5h0m0 0h0m-0.5 0h0m0 0h0m0 0h0m0.5 0h0m0 0h0m-0.5 0h0m0 0h0m0 0h0m0 0h0m0.5 0h0m0 0.5h0m-0.5 0h0m0.5 0h0m-0.5 0h0m0.5 0h0m0 0h0m0 0h0m0 0h0m-0.5 0h0m0.5 0h0m1-3.5h0m0 0h0m0 0.5h0m0 0h0m0 0.5h0m0 0h0m0 0h0m0 0.5h0m0 0h0m-0.5 0.5h0m0 0h0m0 0h0m0.5 0h0m-1 0h0m0 0.5h0m0.5 0h0m0.5 0h0m0 0h0m-0.5 0h0m0 0h0m0 0h0m0 0h0m0 0h0m-0.5 0.5h0m1 0h0m-0.5 0h0m0.5 0h0m-0.5 0h0m0 0h0m0 0h0m0 0h0m0 0h0m0 0h0m0 0h0m-0.5 0h0m0 0.5h0m0.5 0h0m0 0h0m-0.5 0h0m0 0h0m0.5 0h0m-0.5 0h0m0 0h0m0.5 0h0m0 0h0m-0.5 0h0m0.5 0h0m-0.5 0h0m0.5 0h0m0 0h0m1.5-4h0m0 0h0m-1 0.5h0m1 0h0m-0.5 0h0m0.5 0h0m-0.5 0h0m0 0h0m-0.5 0h0m1 0h0m-0.5 0.5h0m0 0h0m0.5 0h0m-0.5 0h0m-0.5 0h0m0 0.5h0m0 0h0m0 0h0m1 0h0m-0.5 0h0m0 0.5h0m0 0h0m0 0h0m0.5 0h0m-0.5 0h0m0 0h0m-0.5 0h0m0.5 0h0m0 0h0m0 0h0m-0.5 0.5h0m0 0h0m0.5 0h0m0 0h0m0.5 0h0m0 0h0m-1 0h0m1 0h0m-0.5 0h0m0.5 0h0m-0.5 0h0m0 0h0m0 0h0m0 0h0m-0.5 0.5h0m0 0h0m0 0h0m0 0h0m0 0h0m0 0h0m0 0.5h0m0 0h0m0 0h0m0.5 0h0m0 0h0m0 0h0m0 0h0m0 0h0m0 0h0m-0.5 0h0m1.5-4h0m0.5 0.5h0m-0.5 0h0m0 0h0m-0.5 0h0m0 0h0m0.5 0h0m0 0.5h0m0.5 0h0m0 0h0m-0.5 0h0m0.5 0.5h0m-0.5 0h0m0 0h0m0 0h0m0 0h0m-0.5 0h0m1 0h0m-0.5 0.5h0m0.5 0h0m-0.5 0h0m0 0h0m-0.5 0h0m0.5 0h0m-0.5 0h0m1 0h0m0 0h0m-1 0h0m1 0h0m-0.5 0h0m0 0h0m0.5 0h0m0 0h0m-0.5 0h0m0.5 0h0m0 0.5h0m-1 0h0m1 0h0m0 0h0m-1 0h0m0.5 0h0m0.5 0h0m-0.5 0h0m-0.5 0h0m1 0h0m-0.5 0h0m0 0h0m0 0h0m-0.5 0h0m0.5 0h0m0 0h0m0 0h0m0.5 0h0m0 0h0m0 0h0m-0.5 0h0m0.5 0h0m-0.5 0h0m-0.5 0h0m0.5 0h0m-0.5 0h0m0 0.5h0m0.5 0h0m0 0h0m-0.5 0h0m0 0h0m0.5 0h0m0 0h0m0 0h0m0 0h0m0 0h0m-0.5 0h0m0 0h0m0.5 0h0m-0.5 0h0m0 0h0m1.5-4h0m0.5 0.5h0m0 0.5h0m-0.5 0h0m0 0h0m0.5 0h0m-0.5 0h0m0 0h0m0 0.5h0m-0.5 0h0m0.5 0h0m0 0h0m0 0.5h0m0 0h0m0.5 0h0m-1 0h0m1 0h0m-0.5 0.5h0m-0.5 0h0m0.5 0h0m0 0h0m0 0h0m0 0h0m-0.5 0h0m0.5 0h0m-0.5 0h0m1 0.5h0m-0.5 0h0m0 0h0m0 0h0m0.5 0h0m-0.5 0h0m0 0h0m0.5 0h0m0 0h0m-0.5 0h0m0.5 0h0m-0.5 0h0m-0.5 0h0m0.5 0h0m0 0.5h0m0.5 0h0m-1 0h0m0.5 0h0m0.5 0h0m0 0h0m-0.5 0h0m0 0h0m0.5 0h0m0 0h0m-0.5 0h0m0.5 0h0m-1 0h0m0 0h0m1 0h0m-0.5 0h0m0 0h0m0.5 0h0m-1 0h0m0.5 0h0m0.5 0h0m-0.5 0h0m0.5 0h0m-0.5 0h0m0 0h0m0 0h0m-0.5 0h0m0 0h0m1.5-3h0m-0.5 0.5h0m0.5 0h0m0.5 0h0m-1 0.5h0m1 0h0m-1 0h0m0.5 0h0m0 0h0m0 0h0m0.5 0h0m0 0h0m0 0.5h0m-0.5 0h0m0.5 0h0m-1 0h0m0.5 0h0m0 0h0m-0.5 0h0m0.5 0h0m0.5 0h0m-0.5 0.5h0m0 0h0m0.5 0h0m-0.5 0h0m0.5 0h0m-0.5 0h0m0.5 0h0m-0.5 0h0m0.5 0h0m-0.5 0h0m0.5 0h0m-0.5 0h0m0 0h0m-0.5 0h0m0.5 0h0m0 0h0m0.5 0h0m-0.5 0h0m0.5 0h0m0 0h0m0 0h0m-0.5 0h0m0 0.5h0m-0.5 0h0m0.5 0h0m-0.5 0h0m0 0.5h0m0.5 0h0m0 0h0m0 0h0m-0.5 0h0m0.5 0h0m0 0h0m-0.5 0h0m1.5-3.5h0m0.5 0h0m0 0.5h0m0 0h0m-0.5 0.5h0m0.5 0h0m-0.5 0h0m-0.5 0h0m0.5 0h0m0.5 0h0m-1 0h0m0 0.5h0m1 0h0m-1 0h0m0 0h0m0.5 0h0m-0.5 0h0m0 0h0m0.5 0h0m0 0h0m-0.5 0h0m0 0.5h0m0 0h0m0 0h0m0.5 0h0m0 0h0m-0.5 0h0m0.5 0h0m-0.5 0h0m0.5 0h0m0 0h0m0 0h0m-0.5 0.5h0m0 0h0m0 0h0m0.5 0h0m0 0h0m0 0h0m-0.5 0h0m0.5 0h0m-0.5 0h0m0.5 0h0m-0.5 0h0m1 0h0m-0.5 0.5h0m0.5 0h0m0 0h0m0 0.5h0m0 0h0m-0.5 0h0m0.5 0h0m-0.5 0h0m0.5 0h0m-0.5 0h0m0 0h0m0.5 0.5h0m0 0h0m-0.5 0h0m0.5 0h0m0 0h0m0 0h0m0 0h0m0 0h0m0-3.5h0m0 0h0m0 0.5h0m0 0h0m0 0.5h0m0 0h0m0.5 0.5h0m0 0h0m-0.5 0h0m0 0h0m0.5 0h0m0 0h0m0 0h0m0 0.5h0m0 0h0m-0.5 0h0m1 0h0m-1 0.5h0m1 0h0m0 0h0m0 0h0m-0.5 0h0m0.5 0.5h0m-0.5 0h0m0 0h0m0 0h0m0 0h0m0.5 0h0m-0.5 0.5h0m0 0h0m-0.5 0h0m0 0h0m0.5 0h0m-0.5 0h0m0.5 0h0m-0.5 0h0m0.5 0h0m0 0h0m-0.5 0h0m0 0h0m0 0h0m1 0.5h0m0 0h0m0 0h0m0 0h0m-0.5 0h0m0 0h0m0.5 0.5h0m-0.5 0h0m0.5 0h0m-0.5 0h0m0 0h0m0.5 0h0m0 0h0m0 0h0m0 0h0m-0.5 0h0m0.5-3h0m0.5 0h0m-0.5 0.5h0m0 0h0m0 0.5h0m0 0.5h0m0 0h0m0 0h0m0 0h0m0 0.5h0m0 0h0m0 0h0m0 0h0m0 0h0m0.5 0.5h0m-0.5 0h0m0 0h0m0.5 0h0m0 0h0m0 0h0m-0.5 0.5h0m0 0h0m0.5 0h0m0 0h0m-0.5 0h0m0 0h0m0 0h0m0 0h0m0 0h0m0 0h0m0.5 0h0m0 0h0m-0.5 0h0m0 0h0m0.5 0h0m0.5 0h0m-0.5 0h0m-0.5 0h0m0 0h0m1 0h0m-0.5 0h0m0.5 0.5h0m0 0h0m-0.5 0h0m0.5 0h0m-0.5 0h0m0 0h0m0.5 0h0m-0.5 0h0m0.5 0.5h0m-0.5 0h0m0 0h0m0 0h0m1.5-5.5h0m-0.5 0.5h0m0 3.5h0m0 0.5h0m-0.5 0h0m0 0h0m0.5 0h0m-0.5 0.5h0m0.5 0h0m-0.5 0h0m0.5 0h0m-0.5 0h0m0 0h0m0 0h0m0 0h0m0 0h0m0 0h0m0 0h0m0 0h0m0 0h0m0.5 0h0m0 0.5h0m0 0h0m0 0h0m-0.5 0h0m0.5 0h0m1-5h0m0.5 0h0m0 3.5h0m0 0h0m0 0h0m0 0h0m0 0h0m-0.5 0h0m0 0h0m0 0.5h0m0 0h0m0 0h0m0.5 0h0m-0.5 0h0m0 0h0m0 0h0m0.5 0h0m0 0.5h0m0 0h0m0 0h0m0 0h0m-0.5 0h0m1.5-5.5h0m0 0h0m-0.5 0h0m0 0.5h0m0 3.5h0m0 0h0m-0.5 0h0m0.5 0h0m0 0h0m-0.5 0.5h0m0 0h0m0.5 0h0m0.5 0h0m0 0h0m0 0h0m-0.5 0h0m0 0h0m0 0h0m0 0h0m0 0h0m0.5 0h0m-0.5 0h0m0 0h0m0 0h0m0 0h0m-0.5 0h0m0 0.5h0m0.5 0h0m0 0h0m0 0h0m0 0h0m0 0h0m0 0h0m-0.5 0h0m0 0.5h0m0 0h0m0.5 0h0m0 0h0m1-5.5h0m0 0h0m0.5 0h0m-0.5 0h0m0 0h0m0 3.5h0m0.5 0h0m-0.5 0.5h0m0 0h0m0.5 0h0m-0.5 0h0m0.5 0h0m-0.5 0h0m0 0h0m-0.5 0h0m0.5 0.5h0m0 0h0m-0.5 0h0m0.5 0h0m0 0h0m0 0h0m0 0h0m0 0h0m0 0h0m0 0h0m0.5-4.5h0m0.5 0h0m-0.5 0.5h0m0.5 0.5h0m0 3h0m-0.5 0h0m0 0h0m0 0h0m0 0h0m0.5 0h0m0.5 0h0m-0.5 0h0m0.5 0h0m-0.5 0h0m0.5 0h0m-0.5 0h0m0 0h0m0 0h0m0 0h0m0.5 0.5h0m0 0h0m-0.5 0h0m0 0h0m0 0h0m0 0h0m0.5 0h0m-0.5 0h0m0.5 0h0m-0.5 0h0m0 0h0m0.5 0h0m1-3.5h0m0 0h0m-0.5 3h0m0 0h0m-0.5 0h0m0 0h0m0.5 0h0m0 0h0m-0.5 0h0m0.5 0h0m0 0h0m0 0h0m0 0h0m-0.5 0h0m0 0.5h0m0.5 0h0m0.5 0h0m-0.5 0h0m0 0h0m0 0h0m0 0h0m0 0h0m0 0h0m0.5 0h0m0 0.5h0m0 0h0m0 0.5h0m-0.5 0h0m0 0h0m0.5 0h0m-0.5 0h0m0 0h0m1-5h0m-0.5 0h0m0.5 0h0m-0.5 0.5h0m0 0h0m0.5 0h0m0 3.5h0m0.5 0.5h0m-0.5 0h0m0 0h0m0 0h0m0 0h0m-0.5 0h0m0.5 0h0m0.5 0h0m-0.5 0h0m0 0h0m0 0h0m0.5 0h0m0 0h0m-0.5 0h0m-0.5 0.5h0m0.5 0h0m0 0h0m-0.5 0h0m1 0h0m0 0h0m0 0h0m-1 0h0m0.5 0h0m0 0h0m0 0h0m0 0h0m0 0h0m-0.5 0h0m0.5 0h0m-0.5 0h0m0 0h0m0 0h0m0.5 0h0m0 0h0m1-5h0m0 0h0m0.5 1h0m-0.5 3.5h0m-0.5 0h0m0 0h0m1 0h0m-0.5 0h0m-0.5 0h0m1 0h0m-1 0h0m0.5 0h0m0 0h0m0 0.5h0m0.5 0h0m-0.5 0h0m-0.5 0h0m0.5 0h0m0 0h0m-0.5 0h0m0.5 0h0m0 0h0m0.5 0h0m0 0h0m-0.5 0h0m0 0.5h0m0 0h0m0 0h0m0.5 0h0m-0.5 0h0m0.5 0h0m0-5h0m0 0h0m0.5 0h0m-0.5 0.5h0m0 4h0m1 0h0m-0.5 0h0m0 0h0m0 0h0m0 0h0m0.5 0h0m0 0h0m0 0h0m-0.5 0h0m-0.5 0h0m0.5 0.5h0m0 0h0m0 0h0m0 0h0m0 0h0m0 0h0m-0.5 0h0m0 0h0m0.5 0h0m0 0h0m0.5 0h0m-1 0h0m0 0h0m0.5 0h0m-0.5 0h0m1 0h0m-0.5 0h0m0 0h0m0 0h0m0.5 0h0m-0.5 0h0m0 0h0m0 0h0m0 0h0m0.5 0h0m-0.5 0h0m0.5 0h0m0 0h0m-0.5 0h0m0 0.5h0m0 0h0m1-5h0m0 0h0m0.5 0.5h0m-0.5 3h0m0 0h0m0 0h0m0.5 0h0m-0.5 0h0m0.5 0.5h0m-0.5 0h0m0 0h0m0 0h0m-0.5 0h0m1 0h0m-0.5 0h0m0 0h0m0 0h0m0 0h0m0 0h0m0.5 0h0m-1 0h0m0 0h0m1 0h0m0 0h0m-0.5 0h0m0.5 0h0m-1 0.5h0m0.5 0h0m0 0h0m0 0h0m-0.5 0h0m0.5 0h0m0 0h0m-0.5 0h0m0 0h0m0 0.5h0m0 0h0m0.5 0h0m1-5h0m-0.5 0.5h0m1 0h0m-0.5 0h0m0 2.5h0m0.5 0h0m-0.5 0h0m0.5 0.5h0m-0.5 0h0m0 0h0m0.5 0h0m0 0h0m-1 0h0m0.5 0h0m0 0h0m0 0h0m0 0h0m0 0h0m0 0h0m-0.5 0h0m0.5 0h0m-0.5 0h0m0.5 0h0m-0.5 0h0m0.5 0.5h0m0 0h0m0 0h0m0 0h0m0 0h0m-0.5 0h0m0.5 0h0m-0.5 0h0m0 0h0m0.5 0h0m-0.5 0h0m0 0h0m1.5-5h0m0 0h0m0.5 0h0m0 0.5h0m0 0h0m-0.5 0.5h0m0 0h0m0.5 0h0m-1 0.5h0m0 3h0m0.5 0h0m0 0h0m-0.5 0h0m0.5 0h0m0.5 0h0m-1 0h0m0 0h0m1 0h0m-0.5 0h0m-0.5 0h0m0 0h0m0.5 0h0m0.5 0h0m-0.5 0h0m0 0h0m0 0.5h0m0 0h0m0.5 0h0m-0.5 0h0m0 0h0m0.5 0h0m-0.5 0h0m0.5 0h0m0.5-5.5h0m0 0h0m0 0.5h0m0 0h0m0 0.5h0m-0.5 0h0m0 0.5h0m0.5 0h0m-0.5 3h0m1 0.5h0m-1 0h0m1 0h0m0 0h0m0 0h0m0 0h0m-0.5 0h0m0.5 0h0m-0.5 0h0m-0.5 0h0m0 0h0m0 0.5h0m0.5 0h0m-0.5 0h0m0.5 0h0m-0.5 0h0m0.5 0h0m0 0h0m0 0h0m0 0h0m-0.5 0h0m0.5 0h0m-0.5 0h0m1-6h0m0.5 0.5h0m0 0h0m0.5 4.5h0m0 0h0m-0.5 0.5h0m0 0h0m-0.5 0h0m0.5 0h0m0 0h0m0 0h0m0 0h0m0 0h0m0 0h0m0 0h0m0.5 0h0m-0.5 0h0m0.5 0h0m0 0h0m-0.5 0h0m0 0h0m-0.5 0h0m0.5 0h0m0 0h0m-0.5 0h0m0 0h0m0 0h0m0.5 0h0m0 0h0m1-0.5h0m0 0.5h0m0 0h0m0 0h0m-0.5 0h0m0 0h0m0 0h0m0 0h0m0.5 0h0m-0.5 0h0m0 0h0m0.5 0h0m0 0h0m0 0h0m-0.5 0h0m0.5 0h0m-0.5 0h0m1 0h0m-0.5 0h0m0.5 0h0m0 0h0m0.5-0.5h0m0 0h0m0 0.5h0m-0.5 0h0m0.5 0h0m0 0h0m-0.5 0h0m0.5 0h0m-0.5 0h0m0.5 0h0m-0.5 0h0m0.5 0h0m0 0h0m-0.5 0h0m1 0h0m-1 0h0m0.5 0h0m-0.5 0h0m0.5 0h0m0 0h0m0 0h0m-0.5 0h0m1 0h0m-0.5 0h0m0 0h0m0.5 0.5h0m0 0h0m-0.5 0h0m0 0h0m0.5 0h0m-0.5 0h0m0.5 0h0m0 0h0m0 0h0m0 0h0m0 0h0m-0.5 0h0m0.5 0h0m0.5-4.5h0m0.5 0h0m0 0.5h0m0 3h0m-0.5 0h0m0.5 0h0m-0.5 0h0m0.5 0h0m-0.5 0h0m0 0.5h0m-0.5 0h0m0 0h0m0.5 0h0m-0.5 0h0m0 0h0m0 0h0m0.5 0.5h0m-0.5 0h0m0.5 0h0m0 0h0m0 0h0m0 0h0m0 0h0m0.5-4.5h0m0.5 0h0m-0.5 3.5h0m0.5 0h0m-0.5 0h0m0.5 0.5h0m0 0h0m0.5 0h0m-0.5 0h0m0.5 0h0m0 0h0m0.5-4.5h0m0 0h0m0.5 0h0m-0.5 0h0m0 0.5h0m0 3.5h0m-0.5 0h0m0 0.5h0m0.5 0h0m-0.5 0h0m0 0h0m0 0h0m0.5 0h0m0 0h0m-0.5 0h0m0 0h0m0.5 0h0m0 0h0m0 0h0m0 0h0m0 0h0m0.5 0h0m0 0.5h0m-0.5 0h0m0.5 0h0m0 0h0m0 0h0m-0.5 0h0m0 0h0m0 0h0m0.5 0h0m-0.5 0h0m1-6h0m0 1h0m0 0.5h0m0 0h0m0 0h0m0.5 0h0m-0.5 1.5h0m0.5 0h0m0 0.5h0m0 0h0m0 0h0m0 0h0m0 0h0m0 0.5h0m0 0.5h0m-0.5 0h0m0.5 0h0m-0.5 0h0m0 0.5h0m0 0h0m0.5 0h0m-0.5 0h0m0 0h0m0.5 0h0m0 0h0m0 0h0m0 0h0m-0.5 0h0m0.5 0h0m-1 0h0m0.5 0h0m0 0h0m0 0.5h0m-0.5 0h0m0 0h0m0 0h0m0.5 0h0m0 0h0m0 0.5h0m0 0h0m-0.5 0h0m0.5 0h0m0 0h0m0 0h0m-0.5 0h0m0 0h0m0 0h0m1-5.5h0m0.5 0h0m0 0.5h0m-0.5 0.5h0m0 0h0m0 0h0m0.5 0.5h0m-0.5 0h0m0.5 0.5h0m0.5 0h0m-1 0h0m0.5 0h0m0 0.5h0m0.5 0h0m-1 0h0m0.5 0h0m0.5 0h0m-0.5 0h0m0 0.5h0m0 0h0m0 0h0m-0.5 0h0m0.5 0h0m0.5 0h0m-0.5 0h0m0.5 0h0m-1 0.5h0m1 0h0m-0.5 0h0m0 0h0m0.5 0h0m-1 0h0m0.5 0h0m0 0h0m0.5 0h0m-0.5 0.5h0m0 0h0m0 0h0m0.5 0h0m-0.5 0h0m0 0h0m0 0h0m0 0h0m0 0h0m-0.5 0h0m0 0h0m0.5 0h0m-0.5 0h0m0 0.5h0m0.5 0h0m-0.5 0h0m0.5 0h0m-0.5 0h0m0.5 0h0m-0.5 0h0m0.5 0h0m0 0h0m1-2.5h0m-0.5 0h0m0.5 0h0m-0.5 0.5h0m0.5 0h0m0 0h0m0 0h0m-0.5 0h0m0.5 0h0m0 0h0m0 0.5h0m0 0h0m0.5 0h0m-0.5 0h0m0 0h0m-0.5 0h0m1 0h0m-0.5 0h0m0 0h0m0 0h0m0 0h0m-0.5 0h0m0 0.5h0m0.5 0h0m-0.5 0h0m0 0h0m0.5 0h0m0 0h0m-0.5 0h0m0.5 0h0m0 0h0m0 0.5h0m-0.5 0h0m0 0h0m0.5 0h0m0 0h0m-0.5 0h0m0 0h0m0.5 0h0m-0.5 0h0m0.5 0h0m0 0h0m0 0h0m0 0h0m-0.5 0h0m0.5 0h0m-0.5 0h0m0 0h0m0.5 0h0m0 0h0m0.5 0h0m0 0h0m-0.5 0h0m0 0h0m0 0h0m0 0.5h0m0.5 0h0m-0.5 0h0m0.5 0h0m-0.5 0h0m0.5 0h0m0 0h0m0 0h0m0 0h0m0 0h0m-0.5 0h0m0.5 0h0m0 0h0m0 0h0m0 0h0m0 0h0m-0.5 0h0m0 0h0m0.5 0h0m0.5-3h0m0 0.5h0m0.5 0h0m-0.5 0h0m0 0h0m0.5 0h0m-0.5 0.5h0m0.5 0h0m-0.5 0h0m0.5 0h0m-0.5 0h0m0.5 0h0m0 0h0m-0.5 0.5h0m-0.5 0h0m0.5 0h0m0.5 0h0m0 0h0m-0.5 0h0m-0.5 0h0m0.5 0.5h0m0.5 0h0m-0.5 0h0m0 0h0m-0.5 0h0m0.5 0h0m0.5 0h0m-0.5 0h0m0 0h0m-0.5 0h0m1 0h0m-0.5 0h0m-0.5 0h0m0.5 0.5h0m-0.5 0h0m0.5 0h0m0 0h0m0.5 0h0m-0.5 0h0m-0.5 0h0m0.5 0h0m0.5 0h0m-0.5 0h0m0.5 0h0m-0.5 0h0m-0.5 0h0m0.5 0h0m0 0h0m0.5 0h0m-1 0h0m0 0h0m1 0h0m0 0.5h0m-0.5 0h0m0 0h0m0 0h0m0.5 0h0m-0.5 0h0m0 0h0m-0.5 0h0m0 0h0m0.5 0h0m-0.5 0h0m0.5 0h0m-0.5 0h0m0.5 0h0m0 0h0m0 0h0m-0.5 0h0m0.5 0h0m-0.5 0h0m1.5-3h0m0 0h0m0 0.5h0m0 0h0m0.5 0h0m-1 0h0m0 0h0m0 0h0m0.5 0h0m-0.5 0h0m1 0h0m0 0.5h0m0 0h0m-1 0h0m0 0.5h0m0 0h0m0.5 0h0m-0.5 0h0m0.5 0h0m0 0.5h0m0.5 0h0m0 0h0m-0.5 0h0m0 0h0m0.5 0h0m0 0h0m-1 0h0m0.5 0.5h0m0 0h0m0 0h0m0.5 0h0m-1 0h0m0.5 0h0m0 0.5h0m0 0h0m0.5 0h0m-0.5 0h0m0.5 0h0m-0.5 0h0m0.5 0h0m-0.5 0h0m-0.5 0h0m0 0h0m0.5 0h0m-0.5 0h0m0.5 0h0m-0.5 0h0m1-2.5h0m0.5 0h0m0 0.5h0m0 0h0m-0.5 0h0m0 0h0m0.5 0h0m-0.5 0h0m0.5 0h0m0 0.5h0m0.5 0h0m-1 0h0m1 0h0m0 0h0m-1 0.5h0m0 0h0m0.5 0h0m0.5 0h0m-0.5 0h0m0 0h0m0 0h0m0 0h0m0 0h0m0.5 0h0m-0.5 0h0m-0.5 0.5h0m0 0h0m0 0h0m0.5 0h0m0 0h0m-0.5 0h0m0.5 0h0m0 0h0m0 0h0m-0.5 0h0m0 0h0m0 0h0m0 0h0m0 0h0m0.5 0h0m0 0h0m0 0h0m-0.5 0h0m0.5 0.5h0m-0.5 0h0m0.5 0h0m0 0h0m0 0h0m-0.5 0h0m0 0h0m0 0h0m0 0h0m0.5 0h0m-0.5 0h0m1 0h0m0 0h0m-0.5 0h0m0 0h0m0.5 0.5h0m0 0h0m-0.5 0h0m0 0h0m0 0h0m0 0h0m0.5 0h0m0 0h0m-0.5 0h0m0 0h0m0 0h0m0.5 0h0m0-2.5h0m0.5 0h0m0 0.5h0m-0.5 0h0m0 0h0m0.5 0.5h0m-0.5 0h0m0 0h0m0.5 0h0m0.5 0h0m-0.5 0.5h0m0.5 0h0m0 0h0m0 0h0m0 0h0m-0.5 0h0m0 0h0m0 0h0m0 0h0m0 0h0m-0.5 0.5h0m0.5 0h0m0.5 0h0m-0.5 0h0m0 0h0m0 0h0m0 0h0m0 0h0m0.5 0h0m-0.5 0h0m0 0h0m0.5 0h0m-1 0.5h0m0.5 0h0m-0.5 0h0m0 0h0m1 0h0m0 0h0m0 0h0m0 0h0m-1 0h0m0.5 0h0m0.5 0h0m-0.5 0h0m-0.5 0h0m0 0h0m0.5 0h0m-0.5 0h0m0.5 0h0m-0.5 0h0m0.5 0h0m-0.5 0h0m0.5 0.5h0m0.5 0h0m-0.5 0h0m0.5 0h0m0 0h0m0 0h0m-0.5 0.5h0m0.5 0h0m0 0h0m0 0h0m0 0h0m0 0h0m-0.5 0h0m0.5 0h0m0 0h0m0 0h0m-0.5 0h0m1-2h0m-0.5 0h0m0.5 1h0m0 0h0m0 0h0m0 0h0m0.5 0h0m-1 0h0m1 0h0m0 0h0m0 0h0m-0.5 0h0m0 0h0m0 0h0m0.5 0h0m-0.5 0h0m0.5 0h0m0 0h0m0 0h0m-1 0h0m0 0h0m0.5 0.5h0m-0.5 0h0m0 0h0m0.5 0h0m-0.5 0h0m0 0h0m0 0h0m0 0h0m0 0h0m0 0.5h0m0.5 0h0m0 0h0m0 0h0m0 0h0m-0.5 0h0m0.5 0h0m-0.5 0h0m0 0h0m0 0h0m0 0h0m2-6h0m-0.5 1h0m0 0.5h0m0.5 0.5h0m0 2.5h0m0 0h0m0 0h0m0 0h0m0 0h0m0 0h0m-0.5 0h0m0 0h0m0.5 0h0m-0.5 0h0m0 0h0m0 0.5h0m-0.5 0h0m0.5 0h0m0 0h0m0 0h0m0 0h0m0 0h0m-0.5 0h0m0 0h0m0.5 0h0m-0.5 0h0m1.5-5h0m0 0h0m-0.5 0.5h0m0.5 0h0m-0.5 0h0m0.5 0.5h0m-0.5 0h0m0.5 0h0m-0.5 0h0m0.5 0.5h0m0 0h0m-0.5 0h0m0 0.5h0m1 2h0m-0.5 0h0m0 0h0m0 0h0m0 0h0m-0.5 0h0m1 0.5h0m-0.5 0h0m0 0h0m0 0h0m0 0h0m0 0h0m0.5 0h0m-0.5 0h0m-0.5 0h0m1 0h0m-0.5 0h0m0 0h0m-0.5 0h0m0.5 0h0m0.5 0h0m-0.5 0h0m0 0h0m0 0h0m0 0h0m0.5 0h0m0 0h0m0 0h0m-0.5 0h0m0 0h0m0.5 0.5h0m-0.5 0h0m0.5 0h0m0 0h0m-0.5 0h0m0 0h0m0.5 0h0m0 0h0m-0.5 0h0m0 0h0m0 0h0m1.5-4h0m-0.5 0h0m0.5 0.5h0m0 0h0m0 0h0m0 2.5h0m-0.5 0h0m0.5 0h0m-0.5 0h0m0 0h0m-0.5 0h0m1 0h0m0 0h0m0 0h0m-0.5 0h0m0.5 0h0m-1 0h0m0.5 0h0m-0.5 0.5h0m1 0h0m-0.5 0h0m-0.5 0h0m0.5 0h0m-0.5 0h0m1 0h0m-0.5 0h0m0.5 0h0m0 0h0m-0.5 0h0m-0.5 0h0m0.5 0h0m0 0h0m-0.5 0h0m0.5 0h0m0 0h0m-0.5 0h0m0 0.5h0m0 0h0m0.5 0h0m0 0h0m-0.5 0h0m0.5 0h0m1-4h0m-0.5 0h0m0 0h0m0 0h0m1 0.5h0m-0.5 0h0m0.5 0.5h0m0 0h0m-0.5 0h0m0.5 0h0m-1 2h0m0 0h0m0.5 0h0m0 0h0m0 0.5h0m-0.5 0h0m0.5 0h0m0 0h0m-0.5 0h0m0.5 0h0m0 0h0m-0.5 0h0m0.5 0h0m0 0h0m0 0h0m-0.5 0h0m0 0h0m0.5 0h0m1-3h0m-0.5 0.5h0m0.5 0h0m0.5 0h0m-1 0h0m0.5 0h0m0 2h0m0 0h0m0 0h0m0.5 0h0m0 0h0m0 0.5h0m-0.5 0h0m0.5 0h0m-0.5 0h0m0.5 0h0m-0.5 0h0m0.5 0h0m-0.5 0h0m0 0h0m0 0h0m0.5 0h0m0 0h0m-0.5 0h0m0 0h0m0 0.5h0m0.5 0h0m0 0h0m0 0h0m0 0h0m0 0h0m0 0h0m0-3.5h0m0 0h0m0 0.5h0m0 0h0m0.5 0h0m-0.5 0.5h0m0 1.5h0m0.5 0h0m-0.5 0h0m0 0h0m0 0h0m0.5 0h0m0 0.5h0m0 0h0m0 0h0m0 0h0m0 0h0m0 0h0m0.5 0h0m0 0h0m0 0h0m-1 0h0m0.5 0h0m0.5 0h0m-1 0.5h0m0.5 0h0m-0.5 0h0m0 0h0m1 0h0m-0.5 0h0m0 0h0m0 0.5h0m0.5 0h0m0 0h0m0 0h0m-0.5 0h0m0 0h0m1-3.5h0m-0.5 2.5h0m0 0h0m0 0h0m0.5 0h0m0.5 0.5h0m-0.5 0h0m-0.5 0h0m0 0h0m0.5 0h0m-0.5 0h0m0 0h0m0.5 0h0m0 0h0m0 0h0m0 0h0m-0.5 0h0m0.5 0h0m0 0h0m0.5 0h0m-1 0h0m0.5 0h0m0 0h0m0.5 0h0m-0.5 0h0m0 0h0m-0.5 0h0m0.5 0h0m-0.5 0.5h0m0 0h0m0 0h0m0.5 0h0m0 0h0m0 0h0m1-4h0m0 0.5h0m0.5 0.5h0m-0.5 2.5h0m0.5 0h0m-0.5 0h0m-0.5 0h0m0.5 0h0m-0.5 0h0m0.5 0h0m-0.5 0h0m0 0h0m0.5 0h0m-0.5 0h0m0 0h0m0.5 0h0m0 0h0m0 0h0m0 0h0m0 0h0m-0.5 0h0m0 0h0m0 0h0m0 0h0m1 0h0m-0.5 0h0m0 0.5h0m0.5 0h0m-0.5 0h0m0 0h0m0.5 0h0m-0.5 0h0m0 0h0m0 0h0m1.5-1h0m-0.5 0.5h0m0.5 0h0m-0.5 0h0m0 0h0m0 0h0m0.5 0h0m-0.5 0h0m0 0h0m-0.5 0h0m1 0h0m-1 0h0m0.5 0h0m0 0.5h0m0 0h0m0 0h0m0 0h0m0 0h0m0.5 0h0m0 0h0m-0.5 0h0m0 0h0m0 0h0m0 0h0m-0.5 0h0m1 0h0m-0.5 0h0m-0.5 0h0m0.5 0h0m-0.5 0h0m0.5 0h0m0 0h0m0.5 0h0m0 0h0m0 0h0m0 0h0m-0.5 0h0m0.5 0h0m0 0h0m-0.5 0h0m0.5 0h0m1-4.5h0m-0.5 0.5h0m0.5 0h0m0 0h0m0 0h0m0 0.5h0m-0.5 0h0m0 0h0m0 0h0m0 0.5h0m0.5 1.5h0m0 0.5h0m-0.5 0h0m0 0h0m0.5 0h0m0 0h0m0 0.5h0m0 0h0m-0.5 0h0m-0.5 0h0m0 0h0m0 0.5h0m0.5 0h0m-0.5 0h0m0 0h0m0 0h0m0.5 0h0m-0.5 0h0m0.5 0h0m-0.5 0h0m0.5 0h0m-0.5 0h0m0 0h0m0 0h0m1.5-4h0m0 0h0m0.5 0h0m0 0h0m-0.5 0h0m-0.5 0h0m0 0h0m0.5 0h0m0.5 0.5h0m0 0h0m-0.5 0h0m0 0h0m0.5 0.5h0m0 0h0m0 0h0m0 0.5h0m0 0h0m-0.5 0h0m0.5 0.5h0m0 0h0m0 0h0m0 0h0m-0.5 0h0m0 0h0m0.5 0.5h0m-0.5 0h0m0 0h0m0.5 0h0m0 0h0m-0.5 0h0m0 0h0m0.5 0h0m-0.5 0h0m-0.5 0h0m0.5 0h0m0 0h0m-0.5 0h0m0.5 0.5h0m-0.5 0h0m0 0h0m0 0h0m0 0h0m0.5 0h0m-0.5 0h0m0 0.5h0m2-4h0m-0.5 0.5h0m0.5 0h0m-0.5 0h0m0.5 0h0m-0.5 0h0m0 0h0m0 0h0m0 0h0m0 0h0m-0.5 0h0m1 0h0m0 0h0m-0.5 0h0m-0.5 0.5h0m0.5 0h0m0 0h0m0.5 0h0m0 0h0m0 0h0m-0.5 0h0m0.5 0h0m-0.5 0h0m0 0h0m-0.5 0h0m0.5 0.5h0m0.5 0h0m0 0h0m-0.5 0h0m0.5 0h0m-0.5 0h0m0.5 0h0m0 0h0m-0.5 0h0m0.5 0h0m0 0h0m-0.5 0h0m-0.5 0h0m0.5 0h0m0 0h0m0 0h0m0 0h0m0 0h0m0 0h0m0 0h0m0.5 0h0m0 0h0m-0.5 0h0m-0.5 0.5h0m0 0h0m0 0h0m0 0h0m0 0h0m0 0h0m0.5 0h0m0 0h0m0 0h0m0 0.5h0m-0.5 0h0m0 0h0m0 0h0m0 0.5h0m0 0h0m0 0h0m0.5 0h0m-0.5 0h0m0 0h0m0.5 0h0m1-3h0m0 0.5h0m-0.5 0h0m0.5 0h0m-0.5 0h0m0.5 0h0m0 0h0m0.5 0h0m0 0h0m-0.5 0h0m0 0h0m0 0h0m0.5 0h0m-0.5 0h0m0 0.5h0m-0.5 0h0m0.5 0h0m0 0h0m0.5 0h0m-0.5 0h0m-0.5 0h0m0.5 0h0m0 0h0m0 0h0m0 0h0m0.5 0h0m-0.5 0.5h0m0.5 0h0m-1 0h0m0 0h0m0 0h0m1 0h0m0 0h0m-1 0h0m1 0h0m-0.5 0h0m0 0h0m0.5 0h0m0 0h0m0 0h0m0 0h0m-0.5 0h0m-0.5 0h0m0.5 0h0m-0.5 0h0m0 0h0m0.5 0h0m0 0h0m1.5-3h0m-0.5 0h0m0.5 0.5h0m-0.5 0h0m0.5 0h0m0 0.5h0m0 0h0m0 0h0m0 0.5h0m0 0h0m0 0h0m-0.5 0h0m0.5 0.5h0m-0.5 0h0m0 0h0m-0.5 0h0m0 0h0m1 0h0m-1 0h0m0 0h0m0.5 0h0m0.5 0h0m-0.5 0h0m0 0h0m0 0.5h0m0 0h0m0 0h0m0 0h0m0.5 0h0m-0.5 0h0m0 0h0m0 0h0m0.5 0h0m-1 0h0m1 0h0m-1 0h0m1 0h0m0 0h0m-1 0h0m0.5 0h0m0 0h0m-0.5 0h0m0.5 0h0m0 0h0m0 0h0m-0.5 0h0m0 0h0m0 0h0m1 0h0m-0.5 0.5h0m0 0h0m-0.5 0h0m0.5 0h0m0 0h0m0.5 0h0m0 0h0m0 0h0m0 0h0m-0.5 0h0m0.5 0h0m0 0h0m-1 0h0m0.5 0h0m-0.5 0h0m0.5 0h0m0 0h0m0 0h0m0 0h0m0 0h0m0 0h0m-0.5 0h0m0 0h0m0.5 0h0m-0.5 0h0m1.5-3h0m0 0h0m-0.5 0h0m0 0.5h0m0 0h0m0 0h0m0 0.5h0m0 0h0m0 0h0m0.5 0.5h0m-0.5 0h0m0 0h0m1 0h0m-1 0h0m0.5 0h0m0.5 0h0m-0.5 0h0m0 0h0m0 0h0m-0.5 0h0m0.5 0h0m0 0h0m0.5 0h0m-1 0h0m0.5 0h0m0 0h0m0 0h0m0 0h0m-0.5 0h0m1 0h0m0 0.5h0m0 0h0m0 0h0m-0.5 0h0m-0.5 0h0m1 0h0m-0.5 0h0m0 0h0m0 0h0m0 0h0m0 0h0m0.5 0h0m-0.5 0h0m0 0h0m0.5 0h0m0 0h0m0 0h0m0 0h0m0 0h0m0 0h0m-0.5 0h0m0 0h0m0 0h0m0.5 0h0m-0.5 0h0m-0.5 0h0m0 0h0m0.5 0.5h0m-0.5 0h0m0.5 0h0m-0.5 0h0m0 0h0m0 0.5h0m0 0h0m0 0h0m0.5 0h0m1-1.5h0m0 0h0m0 0h0m0 0h0m0 0h0m-0.5 0h0m0.5 0h0m0 0h0m-0.5 0h0m0.5 0h0m0 0h0m-0.5 0.5h0m0 0h0m1 0h0m-0.5 0h0m0 0h0m0 0h0m-0.5 0h0m1 0h0m-1 0h0m1 0h0m0 0h0m-0.5 0h0m0 0h0m0 0h0m-0.5 0h0m0 0h0m0 0h0m0.5 0h0m-0.5 0h0m0 0h0m0 0h0m0 0h0m0.5 0h0m0 0h0m0 0h0m0 0.5h0m0.5 0h0m-0.5 0h0m0 0h0m0.5 0.5h0m0 0h0m0 0h0m0 0h0m0 0h0m-0.5 0h0m0.5 0h0m0 0h0m0 0h0m0 0.5h0m-0.5 0h0m0 0h0m0.5 0h0m-0.5 0h0m0.5 0h0m0 0h0m-0.5 0h0m1.5-2.5h0m-0.5 0h0m-0.5 0.5h0m0 0h0m0.5 0.5h0m-0.5 0h0m0 0h0m1 0h0m-1 0h0m0.5 0h0m0 0.5h0m0 0h0m0.5 0h0m-1 0h0m0 0h0m0.5 0h0m0 0h0m-0.5 0.5h0m0.5 0h0m0 0h0m-0.5 0h0m0 0h0m0 0h0m0 0h0m0 0h0m0 0h0m0 0.5h0m0.5 0h0m0 0h0m-0.5 0h0m0.5 0h0m-0.5 0h0m0 0h0m0.5 0h0m0 0h0m-0.5 0h0m0 0h0m0.5 0h0m-0.5 0h0m0.5 0h0m0 0h0m0 0h0m0 0h0m0 0.5h0m0 0h0m0 0h0m0.5 0h0m-0.5 0h0m0.5 0h0m0 0h0m-0.5 0.5h0m0 0h0m0 0h0m0.5 0h0m-0.5 0h0m0 0h0m0 0h0m0.5 0h0m0 0h0m-0.5 0h0m0 0h0m0.5 0h0m-0.5 0h0m0.5 0h0m0.5-3h0m0 0h0m-0.5 0h0m0.5 1h0m-0.5 0h0m0.5 0h0m-0.5 0.5h0m0 0h0m0 0.5h0m0 0h0m0 0h0m0 0.5h0m0 0h0m0 0h0m0 0.5h0m0.5 0h0m0 0h0m0 0h0m-0.5 0h0m0 0h0m0 0h0m0 0h0m0 0h0m0 0h0m0.5 0h0m-0.5 0h0m1.5 0h0m0.5 0h0m0 0h0m-0.5 0h0m0 0h0m0.5 0h0m0 0h0m0 0h0m-0.5 0h0m0.5 0h0m0 0h0m-0.5 0h0m0.5 0h0m0 0h0m0 0h0m0.5 0h0m0 0h0m0 0h0m0 0h0m-0.5 0h0m0.5 0h0m0 0h0m-0.5 0h0m0.5 0h0m0 0h0m0 0h0m-0.5 0h0m0.5 0h0m-0.5 0h0m0.5 0h0m0.5 0.5h0m-0.5 0h0m0.5 0h0m0 0h0m-0.5 0h0m0 0h0m0 0h0m0 0h0m0 0h0m0 0.5h0m0 0h0m0 0h0m0.5 0h0m0 0h0m0 0.5h0m0 0h0m-0.5 0h0m0 0h0m0.5 0h0m-0.5 0h0m0 0h0m0.5 0h0m-0.5 0h0m0 0h0m0.5 0h0m0 0h0m-0.5 0h0m0 0h0m1-5.5h0m0 0.5h0m-0.5 4h0m0.5 0h0m-0.5 0h0m0 0.5h0m0.5 0h0m-0.5 0h0m1 0h0m0 0h0m-0.5 0.5h0m-0.5 0h0m1 0h0m0 0h0m0 0h0m-0.5 0h0m0 0h0m0.5 0h0m0 0h0m-0.5 0h0m-0.5 0h0m0.5 0h0m0 0h0m0 0h0m1.5-6h0m-0.5 0.5h0m0.5 0h0m0 0h0m-0.5 0h0m0 0.5h0m0 4h0m0.5 0h0m0 0h0m-0.5 0h0m0 0.5h0m0 0h0m-0.5 0h0m0.5 0h0m0 0h0m-0.5 0h0m0.5 0h0m-0.5 0h0m0.5 0h0m-0.5 0h0m0.5 0h0m0 0.5h0m0 0h0m0 0h0m0.5-6h0m0.5 0h0m-0.5 0.5h0m0.5 0h0m0.5 3.5h0m0 0.5h0m0 0.5h0m0 0h0m0 0h0m0 0h0m0 0h0m0 0h0m0 0h0m0 0h0m0 0h0m-0.5 0h0m0.5 0h0m-1 0h0m0.5 0h0m-0.5 0h0m0 0.5h0m0 0h0m0.5 0h0m0.5 0h0m0 0h0m0 0h0m-0.5 0h0m0.5 0h0m0 0h0m0 0h0m-0.5 0h0m0 0h0m0.5 0h0m1-17h0m-0.5 0.5h0m0.5 1h0m0 0.5h0m-0.5 0.5h0m0 2.5h0m0.5 1h0m0 0.5h0m0 1.5h0m-0.5 2.5h0m0 0h0m0.5 0.5h0m0 0h0m-0.5 0.5h0m0 0h0m0.5 0.5h0m0 0.5h0m-0.5 0h0m0.5 1h0m0 0.5h0m-0.5 1h0m0.5 0h0m-1 0h0m0.5 0h0m0 0h0m0.5 0h0m0 0h0m-0.5 0h0m0 0h0m0 0h0m0 0.5h0m0 0h0m-0.5 0h0m0.5 0h0m0 0h0m-0.5 0.5h0m0 0h0m0.5 0h0m0 0h0m0 0h0m-0.5 0h0m0 0h0m0 0h0m0 0.5h0m0.5 0h0m-0.5 0h0m0 0h0m0 0h0m0 0h0m0 0.5h0m0.5 0h0m-0.5 0h0m0 0h0m0.5 0h0m1-179.5h0m0.5 3.5h0m0 1h0m-0.5 2.5h0m0 4h0m0.5 1h0m0 2h0m-0.5 27h0m0.5 7.5h0m-0.5 1.5h0m0.5 10h0m-0.5 16.5h0m0.5 1.5h0m0 1h0m-0.5 4h0m0.5 9.5h0m0 27.5h0m0 1h0m-0.5 11.5h0m0.5 13h0m0 1.5h0m-0.5 3.5h0m0 0h0m0 0.5h0m0 8h0m-0.5 1h0m0.5 1.5h0m0 1h0m0.5 0h0m-0.5 0.5h0m-0.5 1.5h0m0.5 1h0m-0.5 3.5h0m0 0.5h0m0 0h0m0 0.5h0m0.5 0h0m0 0.5h0m-0.5 0h0m0 0h0m1 0.5h0m0 0.5h0m-0.5 0h0m-0.5 1h0m0.5 0h0m0.5 0.5h0m0 0h0m-1 0h0m0.5 0.5h0m0 0.5h0m-0.5 0h0m0.5 0.5h0m0 0.5h0m0 0h0m0 0.5h0m0 0.5h0m-0.5 0.5h0m0.5 0h0m0 0.5h0m-0.5 0h0m0 0h0m0.5 0h0m0 0h0m-0.5 0.5h0m0.5 0h0m0 0h0m-0.5 0h0m0 0h0m0.5 0h0m-0.5 0h0m0 0h0m2-340.5h0m-0.5 28.5h0m0 38.5h0m0 25h0m0.5 4.5h0m0 36.5h0m-0.5 6.5h0m-0.5 1.5h0m0 27h0m0.5 9h0m-0.5 0.5h0m0 0.5h0m1 4.5h0m-0.5 5h0m0 3h0m0 3h0m0.5 13.5h0m-1 6.5h0m0.5 1h0m0 1h0m0 3.5h0m0 9.5h0m-0.5 4.5h0m1 5h0m-0.5 10h0m-0.5 2.5h0m0.5 15h0m0 6.5h0m0.5 1.5h0m-1 1h0m0.5 5h0m-0.5 3.5h0m1 3h0m0 4.5h0m-0.5 3.5h0m0 6h0m0 7.5h0m0 0h0m-0.5 1h0m0.5 7h0m0 0.5h0m0 1.5h0m0 0.5h0m0 0.5h0m-0.5 0.5h0m0.5 1.5h0m0 1.5h0m0 11h0m0 2.5h0m-0.5 0.5h0m0 0.5h0m1.5-416h0m0.5 14h0m-0.5 11h0m0 12.5h0m0 26.5h0m0.5 1h0m0 3h0m0 13h0m0 34.5h0m-1 28h0m1 6h0m-0.5 11h0m-0.5 20h0m0.5 8.5h0m0.5 10.5h0m0 10.5h0m-0.5 15.5h0m0 9.5h0m-0.5 0.5h0m0.5 5h0m-0.5 1h0m0 2.5h0m0.5 6h0m-0.5 9h0m1 1h0m-1 2h0m0.5 2h0m-0.5 3.5h0m0 9.5h0m0 25h0m1 0h0m-0.5 1h0m-0.5 15h0m0 30h0m0.5 3h0m0 2h0m-0.5 4h0m0 6h0m0 3h0m1 3.5h0m-1 20h0m0 5h0m0.5 2.5h0m0 15h0m-0.5 1h0m0 0.5h0m0.5 0h0m0.5-406h0m0.5 26.5h0m-0.5 1h0m0.5 19.5h0m0 25.5h0m-0.5 12.5h0m0 2h0m0.5 22h0m0 27h0m0 5.5h0m-0.5 29h0m0.5 24h0m-0.5 4.5h0m0.5 7.5h0m0 29h0m-0.5 1.5h0m0.5 30.5h0m0 1h0m0 0.5h0m0 34.5h0m0.5 1.5h0m-0.5 1.5h0m0 0.5h0m0 21.5h0m0.5 6.5h0m-0.5 5.5h0m0 26h0m0.5 1.5h0m0 6.5h0m-0.5 3h0m0.5 0h0m-1 0.5h0m0.5 26h0m0 0.5h0m0.5 0h0m1-148h0m-0.5 15h0m-0.5 11.5h0m0.5 3.5h0m0 7h0m0.5 2h0m-1 5h0m0 2h0m0.5 1h0m0 7h0m0.5 15.5h0m-1 5.5h0m0.5 0.5h0m0.5 7.5h0m-0.5 28h0m-0.5 1h0m0 7h0m0 1.5h0m0.5 26.5h0m0 0h0m0 0h0m0.5 0h0m0 0.5h0m-0.5 0h0m0.5 0h0m0 0h0m-1 0h0m0.5 0.5h0m1-423h0m0 8h0m0 17h0m0 16h0m0 29.5h0m0 4h0m0 8h0m0 10h0m0 10h0m0 12h0m0.5 4.5h0m0 6h0m0 8h0m0 21.5h0m0 1.5h0m-0.5 15h0m0 49h0m0 12.5h0m0.5 19.5h0m0 1h0m-0.5 8.5h0m0.5 1h0m-1 3h0m0 1h0m0.5 15h0m0 5.5h0m0 3h0m0.5 0.5h0m-1 2h0m0 13h0m0 2h0m0.5 22.5h0m-0.5 12.5h0m0.5 7.5h0m0 2.5h0m0 2h0m0.5 32h0m0 0h0m0 35h0m0 0h0m-1 0h0m0.5 0h0m0 0h0m0 0.5h0m-0.5 0h0m0 0.5h0m1.5-339.5h0m0 61h0m0 16h0m0 11.5h0m-0.5 18h0m0.5 20h0m0.5 23h0m-0.5 2h0m0.5 8.5h0m-0.5 2.5h0m-0.5 0h0m1 1h0m-0.5 1h0m-0.5 11.5h0m0.5 16.5h0m-0.5 8.5h0m1 13.5h0m-0.5 0h0m0 3.5h0m0 6.5h0m0 30.5h0m0 18h0m0.5 28h0m0 0.5h0m0 35.5h0m-0.5 0h0m0 1.5h0m-0.5 0h0m0.5 0.5h0m1-202.5h0m-0.5 3.5h0m0 18h0m0 5.5h0m0.5 4.5h0m-0.5 1h0m0.5 14h0m-0.5 6.5h0m0.5 4.5h0m0 13h0m0.5 17h0m-0.5 5h0m0 10h0m-0.5 14.5h0m0.5 0.5h0m0 3.5h0m0 7.5h0m0 9h0m0.5 0h0m0 0h0m-0.5 31.5h0m0.5 30h0m0 0h0m-1 1h0m0.5 0.5h0m-0.5 0h0m2-127.5h0m-0.5 13h0m0 3h0m0 3h0m-0.5 12.5h0m0.5 4h0m0 8h0m0 47.5h0m0.5 33h0m-0.5 0h0m-0.5 0.5h0m0 0.5h0m1 0.5h0m-0.5 0.5h0m0 0.5h0m0 0h0m0 0h0m1-181.5h0m0 16h0m0 0.5h0m0.5 13h0m-0.5 28h0m-0.5 0h0m1 8.5h0m-1 26.5h0m1 6.5h0m-0.5 6.5h0m0 14h0m-0.5 0.5h0m0.5 26h0m0.5 4.5h0m0 28h0m-0.5 0h0m0 0h0m0.5 0.5h0m-0.5 0h0m-0.5 0h0m0 0.5h0m0 0.5h0m0 0.5h0m2-339h0m0 30h0m0 3h0m-0.5 22h0m0 35h0m0.5 4h0m-0.5 29.5h0m0 18h0m0 9h0m0 14h0m0 3h0m-0.5 1h0m0 10.5h0m0.5 3.5h0m0 8.5h0m0 5h0m0 2.5h0m-0.5 14h0m0 12.5h0m0.5 17h0m0 6h0m-0.5 22.5h0m0.5 12.5h0m0 2h0m-0.5 52.5h0m0.5 0h0m-0.5 0h0m1.5-331h0m0.5 3.5h0m-1 17.5h0m0.5 21h0m0 9h0m-0.5 4h0m0 3.5h0m0.5 1.5h0m0.5 9h0m0 28h0m0 8.5h0m-0.5 9.5h0m0 8h0m0.5 3h0m-0.5 0.5h0m0 12h0m0.5 3h0m-0.5 23h0m0 6.5h0m-0.5 5.5h0m0.5 2.5h0m0 2h0m0 10.5h0m-0.5 4.5h0m0.5 3.5h0m0.5 9.5h0m0 4.5h0m0 10h0m0 2.5h0m-0.5 15h0m-0.5 5h0m0.5 23h0m0.5 4.5h0m0 6h0m-0.5 20h0m0 0.5h0m0 30.5h0m-0.5 0.5h0m0.5 0h0m0 0h0m1.5-359.5h0m-0.5 34.5h0m0 5h0m0.5 0h0m-0.5 15h0m0.5 4h0m-1 12h0m1 12h0m0 13h0m0 61h0m0 4.5h0m0 3h0m0 6h0m0 6.5h0m-0.5 0.5h0m0.5 22h0m-0.5 11h0m0 0.5h0m0 4h0m0 6h0m0 0.5h0m0.5 0.5h0m-0.5 0.5h0m-0.5 15.5h0m0.5 3.5h0m0 7.5h0m-0.5 1h0m1 19h0m0 10.5h0m-1 6h0m1 23h0m0-310.5h0m0.5 12.5h0m-0.5 18h0m0.5 30.5h0m-0.5 0h0m0.5 10.5h0m-0.5 8.5h0m1 9h0m-0.5 15h0m0.5 3.5h0m-0.5 6.5h0m0 1h0m0.5 44.5h0m0 2.5h0m0 36h0m-0.5 19h0m0 0h0m0.5 1h0m-0.5 16h0m0 21h0m0 13h0m-0.5 1h0m0.5 0.5h0m0 2h0m0 1h0m0.5 12h0m-0.5 11.5h0m-0.5 0h0m0 8.5h0m0.5 57h0m0 0h0m1-370h0m0 50h0m-0.5 27h0m0.5 8h0m0 1h0m0.5 20.5h0m-0.5 3.5h0m0.5 5h0m0 2h0m-0.5 9.5h0m0 14.5h0m-0.5 10.5h0m0.5 3h0m-0.5 22h0m0.5 6h0m0.5 5.5h0m0 10h0m-0.5 0.5h0m0 15h0m0 28h0m-0.5 27.5h0m0.5 2h0m0 1.5h0m0 5h0m0 5h0m0.5 4h0m-1 18.5h0m0 8.5h0m0.5 5h0m-0.5 51.5h0m0.5 0.5h0m0 0h0m0.5 0.5h0m-0.5 0h0m0.5-323.5h0m0.5 9.5h0m0 22.5h0m-0.5 32h0m0 23.5h0m0.5 16h0m0 5.5h0m-0.5 14.5h0m0 3.5h0m0 10h0m1 0h0m-1 2h0m0.5 1.5h0m-0.5 12.5h0m0.5 0h0m0 8.5h0m-0.5 11.5h0m0 20h0m0 5.5h0m1 8.5h0m-0.5 4.5h0m0 5.5h0m0 9h0m0.5 45h0m-0.5 52.5h0m0 0h0m-0.5 0h0m1-194.5h0m0 15.5h0m0 0.5h0m0 14.5h0m0 44h0m0.5 19.5h0m0 4h0m0 1.5h0m0 6h0m0 4.5h0m0 4h0m-0.5 0h0m0.5 27.5h0m0 54h0m0 0h0m0 0h0m0.5 0h0m0 0h0m0.5-381.5h0m0 6h0m0 10h0m0 10h0m0 10h0m0 8h0m0 12h0m0 10h0m0 12h0m0 13h0m0 147.5h0m0.5 12.5h0m0 13.5h0m-1 5.5h0m0.5 21.5h0m-0.5 2h0m0 0.5h0m0 1.5h0m0.5 4.5h0m0 25.5h0m-0.5 55.5h0m0 0.5h0m0 0h0m0 0h0m0.5 0.5h0m0.5 0.5h0m0 0.5h0m0-153h0m0 11h0m0.5 2h0m-0.5 2h0m0 1h0m0 20h0m0 0.5h0m1 0.5h0m-0.5 1.5h0m-0.5 0.5h0m1 0.5h0m-0.5 1h0m0 3.5h0m0 12.5h0m0 1h0m-0.5 13.5h0m0 23.5h0m0 57.5h0m0 0h0m0.5 0.5h0m-0.5 0.5h0m1.5-114h0m-0.5 4h0m0 10.5h0m0 0h0m0.5 10h0m0 2h0m-0.5 87h0m0.5 0h0m-0.5 0h0m0.5 0h0m-0.5 0h0m0 0h0m1 0.5h0m0-88.5h0m0.5 6.5h0m0 37.5h0m-0.5 1h0m0 0h0m0.5 3h0m-0.5 40h0m0 0.5h0m0.5 0h0m0 0.5h0m0.5 0h0m-0.5 1h0m0 0h0m0 0h0m0 0h0m1.5-84h0m-0.5 0.5h0m0 22h0m0 2h0m0.5 1.5h0m-0.5 17.5h0m-0.5 0.5h0m0.5 1h0m0 38.5h0m0.5 0.5h0m-0.5 0h0m0 0h0m0 0h0m0.5 0h0m0 0h0m-0.5 0.5h0m0 0h0m0.5 0h0m0.5-347.5h0m0 3h0m0.5 28h0m0 41h0m0 2h0m0 66.5h0m-0.5 6h0m0 3.5h0m0.5 8.5h0m0 5.5h0m-0.5 36.5h0m0 23h0m0 9h0m0 1h0m0 25h0m0 2.5h0m0 28.5h0m0.5 18.5h0m-1 39h0m0.5 0.5h0m0 0h0m0.5 0.5h0m0 0.5h0m0.5-356.5h0m-0.5 24h0m0.5 12h0m0 2h0m-0.5 8h0m0.5 17h0m-0.5 3h0m1 7h0m-0.5 4.5h0m0 9.5h0m0 11h0m-0.5 5.5h0m0.5 13h0m-0.5 11.5h0m0.5 22h0m0 19h0m0 6.5h0m0.5 3.5h0m-0.5 32.5h0m0 3h0m-0.5 9.5h0m1 7h0m-0.5 4h0m0.5 3h0m0 3.5h0m-1 7.5h0m0.5 2h0m-0.5 9.5h0m0 7h0m1 10.5h0m0 0h0m0 20.5h0m-0.5 10h0m0 7.5h0m-0.5 2.5h0m1 38.5h0m0 1h0m0-301h0m0.5 9.5h0m-0.5 27h0m1 6.5h0m-0.5 21.5h0m-0.5 5.5h0m0 1h0m0.5 19.5h0m-0.5 34h0m0.5 0.5h0m0.5 3.5h0m-0.5 5.5h0m-0.5 0.5h0m1 0.5h0m-1 2h0m1 6.5h0m-0.5 4h0m0 1.5h0m0.5 0.5h0m-1 8h0m1 12.5h0m0 8h0m-0.5 20.5h0m0.5 10h0m0 11h0m-0.5 1h0m-0.5 3h0m1 0.5h0m0 13h0m-1 25.5h0m0 37h0m1 0.5h0m0 0h0m-0.5 0.5h0m0 0.5h0m1-223.5h0m0 11h0m-0.5 0h0m1 6h0m-1 4h0m0 25h0m0.5 14.5h0m0 6.5h0m0.5 7h0m-0.5 0.5h0m0 0h0m0 33h0m0 17h0m-0.5 16.5h0m0 22.5h0m0 11.5h0m0.5 4.5h0m-0.5 44h0m1 0h0m-0.5 0h0m0.5-224.5h0m0 1.5h0m0.5 1.5h0m-0.5 3.5h0m0.5 19.5h0m-0.5 5.5h0m0 1h0m1 6h0m-0.5 5h0m-0.5 2h0m0 1h0m1 3h0m-0.5 5.5h0m0.5 18.5h0m-0.5 9.5h0m0 3h0m0 2h0m0.5 11h0m-1 10h0m0 0.5h0m1 3h0m0 1h0m0 0h0m0 12h0m-0.5 23h0m0 15.5h0m0.5 11h0m-1 3.5h0m0.5 2h0m0 0.5h0m0 43.5h0m1-188h0m0 4h0m-0.5 0h0m0.5 12h0m0 3.5h0m0 1h0m0.5 10.5h0m0 1.5h0m-0.5 2.5h0m0.5 0.5h0m-0.5 0h0m0 2h0m-0.5 5h0m0.5 1.5h0m0 8h0m0 3.5h0m-0.5 2.5h0m0 5.5h0m1 1h0m0 4h0m-1 6h0m0.5 1.5h0m0.5 2.5h0m-1 1h0m0 13.5h0m0.5 0.5h0m0.5 17h0m-0.5 12h0m0.5 26.5h0m-0.5 38.5h0m0 0.5h0m0 0.5h0m0 0h0m0.5-219h0m0 4.5h0m0.5 7h0m0 12h0m0 14h0m0 30h0m0 10h0m0 11h0m-0.5 0.5h0m1 11.5h0m-0.5 11.5h0m0.5 3h0m0 22.5h0m0 14h0m0 13.5h0m-0.5 53.5h0m-0.5 0h0m0 0h0m1-119h0m0.5 38h0m-0.5 27h0m0.5 6.5h0m0.5 45h0m0 1h0m0 1h0m-0.5 0h0m0.5 0.5h0m0 0h0m0 0h0m1-132h0m-0.5 14.5h0m0 15h0m-0.5 6h0m0 18.5h0m1 12h0m0 1h0m-0.5 11h0m0.5 6h0m-1 1h0m0.5 44h0m0.5 0.5h0m-0.5 0h0m-0.5 0.5h0m1 0h0m-0.5 0h0m0 0.5h0m-0.5 0.5h0m0.5 0h0m-0.5 0.5h0m0.5 0.5h0m-0.5 0h0m0 0h0m0.5 0h0m1-134.5h0m-0.5 8.5h0m0.5 16h0m0.5 8.5h0m0 4.5h0m0 32.5h0m-1 3.5h0m0.5 12h0m0 0h0m0 0.5h0m0 44.5h0m-0.5 1.5h0m2-124.5h0m-0.5 10.5h0m0.5 4.5h0m-0.5 2.5h0m0.5 2h0m-0.5 4.5h0m0 1.5h0m0.5 10h0m0 15h0m-0.5 0.5h0m0.5 23h0m-1 3.5h0m0 44.5h0m1-127.5h0m0.5 3.5h0m-0.5 0.5h0m0 3.5h0m0 2h0m0.5 1.5h0m-0.5 4.5h0m0.5 4h0m-0.5 20.5h0m0.5 11h0m0 0.5h0m0.5 17.5h0m0.5-67h0m0 7.5h0m0.5 16h0m0 1h0m-0.5 3h0m0.5 7.5h0m0 5h0m-1 9.5h0m1 3h0m-1 1h0m0.5 13.5h0m0.5 59h0m0 0h0m0.5-120h0m-0.5 1.5h0m0.5 6.5h0m-0.5 0.5h0m0.5 25h0m0 26h0m0 4h0m-0.5 12h0m0.5 44h0m0.5 0h0m-0.5 0.5h0m-0.5 0h0m1 0h0m-0.5 0h0m0 0h0m-0.5 0h0m1 0h0m-1 0h0m1-61.5h0m0.5 0h0m-0.5 0.5h0m0.5 14.5h0m0 0h0m0 46h0m-0.5 0h0m0.5 0h0m0.5 0h0m-1 0h0m0 0h0m0.5 0.5h0m-0.5 0h0m1.5-104.5h0m0.5 1.5h0m-0.5 7.5h0m0.5 0.5h0m-0.5 48h0m0.5 46h0m0 0h0m-0.5 0.5h0m0 0h0m-0.5 0h0m0 0h0m0 0h0m1 0h0m0 0h0m-0.5 0h0m0 0.5h0m1-111.5h0m0 2h0m0.5 5h0m-1 1h0m0 2h0m0.5 0h0m0 3.5h0m0 4.5h0m-0.5 0.5h0m0 4h0m0.5 32h0m0 1.5h0m0 13h0m-0.5 41.5h0m1 0h0m-0.5 0h0m0.5 0h0m-0.5 0h0m0 0h0m0 0.5h0m0 0h0m-0.5 0.5h0m1.5-110.5h0m0.5 0.5h0m-1 17h0m1 7.5h0m-1 26.5h0m0.5 0h0m-0.5 0h0m0 17h0m0 40.5h0m0 0h0m0.5 0h0m0 0.5h0m0 0h0m0 0h0m1-97h0m0 0.5h0m0 51h0m0 3h0m0.5-60h0m0.5 19.5h0m0 1h0m-0.5 0.5h0m1 4h0m0 0h0m0 0h0m-1 34h0m0.5 43h0m0 0h0m0.5 0h0m-0.5 0h0m0.5 0h0m0.5-95h0m0 6.5h0m-0.5 11h0m0.5 0.5h0m0.5 76h0m-0.5 0h0m0 0.5h0m0.5 0h0m0 0h0m-0.5 0h0m0 0h0m-0.5 0.5h0m0.5 0h0m-0.5 0h0m1.5-1h0m0 0h0m0 0h0m0.5 0.5h0m0 0h0m0 0h0m0 0h0m-1 0h0m0 0h0m1.5-150.5h0m0 6h0m0.5 3h0m-0.5 5h0m0 14.5h0m0 15h0m0 12.5h0m0 0.5h0m0.5 3.5h0m0 0.5h0m-0.5 90h0m0.5 0.5h0m0.5-190.5h0m0 7h0m0 8h0m0 6h0m0.5 6h0m-0.5 2h0m0 4.5h0m0 0.5h0m0 17.5h0m0.5 10h0m-0.5 7h0m0 18h0m0 2.5h0m-0.5 6h0m0.5 0.5h0m-0.5 11.5h0m1 1.5h0m-1 0h0m0.5 81h0m-0.5 0.5h0m0 0.5h0m0.5 0h0m0 0h0m0 0.5h0m0.5-180.5h0m1 18h0m0 2.5h0m0 3h0m-0.5 6.5h0m0 9h0m-0.5 5h0m1 1h0m-1 10.5h0m0 1.5h0m1 6h0m-1 9.5h0m0.5 6h0m0 24.5h0m-0.5 77h0m0 0.5h0m0 0h0m1-169.5h0m0 20h0m0.5 24.5h0m-0.5 2.5h0m0 2h0m0 3h0m0 5.5h0m0.5 10.5h0m-0.5 2h0m0.5 14.5h0m0 4.5h0m0.5 2h0m0 79.5h0m-0.5 0h0m0 0.5h0m1.5-81.5h0m0 1h0m0 0.5h0m-1 0.5h0m1 0h0m-0.5 79.5h0m-0.5 0h0m0 0h0m1 0.5h0m-0.5 0h0m0.5 0h0m0 0h0m-0.5 0h0m0 0h0m1-82h0m0 3h0m-0.5 1h0m0.5 0.5h0m-0.5 0.5h0m1 14h0m-0.5 62.5h0m-0.5 0h0m0.5 0h0m0.5 0h0m0 0.5h0m0 0h0m0 0h0m-0.5 0.5h0m1-74.5h0m0 4.5h0m0 1.5h0m0 2h0m0 1h0m-0.5 1h0m0.5 1h0m-0.5 62.5h0m0.5 0h0m0.5 0h0m-0.5 0.5h0m0.5 0h0m0 0.5h0m0 0h0m-0.5 0h0m0.5-81h0m0 10h0m0.5 4h0m-0.5 5h0m0.5 6.5h0m0 0h0m0.5 5h0m0 3.5h0m0 0.5h0m-0.5 46h0m0 0.5h0m0.5 0h0m-0.5 0h0m0.5 0h0m0 0.5h0m0 0.5h0m-0.5 0h0m0 0h0m1.5-62.5h0m-0.5 1h0m-0.5 0h0m0.5 0h0m0 2h0m0 0.5h0m-0.5 4h0m1 10.5h0m-1 0.5h0m0 44h0m0.5 0h0m-0.5 0h0m0.5 0h0m0.5 0h0m0 0.5h0m-0.5 0h0m0.5 0.5h0m0 0h0m0 0h0m0.5-59h0m-0.5 2h0m0 3.5h0m0.5 1h0m-0.5 2h0m0 1h0m0 4h0m0.5 0.5h0m0 44h0m-0.5 0.5h0m0 0h0m0.5 0.5h0m0 0h0m0 0h0m1.5-0.5h0m0 0.5h0m-0.5 0h0m0.5 0.5h0m0 0h0m-0.5 0h0m1.5-44.5h0m-0.5 44h0m0 0h0m-0.5 0h0m0.5 0h0m0.5 0h0m-1 0h0m0.5 0.5h0m0 0h0m0.5 0h0m-0.5 0h0m0 0h0m1-46h0m0 45.5h0m0 0h0m-0.5 0h0m0 0h0m1 0.5h0m-1 0h0m1 0h0m-1 0h0m1 0h0m1-82.5h0m-0.5 0h0m0 7.5h0m0.5 7.5h0m0 2h0m-0.5 2.5h0m0 10h0m0.5 1.5h0m0 0.5h0m-0.5 5h0m-0.5 45h0m0 0.5h0m0 0.5h0m0 0h0m0.5 0h0m0.5-77.5h0m0.5 8h0m-0.5 3h0m0 1h0m0.5 0.5h0m-0.5 2.5h0m0.5 7.5h0m-0.5 5h0m0.5 0.5h0m-0.5 0h0m0.5 0.5h0m0.5 48h0m-0.5 0.5h0m1-57h0m0 2h0m0.5 0h0m0 0.5h0m-1 4h0m0 2h0m0.5 47.5h0m0 0.5h0m0 0.5h0m-0.5 0h0m0 0h0m0.5 0h0m1.5-84h0m0 7h0m0 0.5h0m0 3h0m-0.5 2h0m0.5 14.5h0m-1 56h0m0 0h0m1.5-81.5h0m0.5 5h0m-0.5 1.5h0m0.5 0.5h0m-0.5 2h0m0.5 10h0m-0.5 1h0m0 4.5h0m0 1h0m-0.5 0.5h0m1 55h0m-0.5 0h0m0.5 0.5h0m0 0h0m-0.5 0h0m1-72h0m0 3h0m0 8h0m0 3.5h0m0.5 56.5h0m0 0h0m-1 0.5h0m0.5 0h0m0.5 0h0m-0.5 0h0m0 0h0m0 0.5h0m0 0h0m0.5 0h0m-0.5 0h0m0 0h0m-0.5 0h0m1.5-71.5h0m0.5 4.5h0m0 65.5h0m-1 0.5h0m0 0h0m0.5 0h0m0.5 0h0m-0.5 0.5h0m0 0h0m0 0.5h0m-0.5 0h0m0 0h0m1.5-64h0m0.5 9.5h0m0 0.5h0m-0.5 52.5h0m0.5 0.5h0m-1 0h0m0 0h0m0.5 0h0m0 0.5h0m0 0h0m0 0h0m-0.5 0h0m0.5 0h0m1.5-58h0m-0.5 3h0m-0.5 0h0m1 1.5h0m-0.5 1h0m0.5 51.5h0m-0.5 0.5h0m0 0h0m-0.5 0h0m0.5 0.5h0m0 0h0m0.5 0h0m0.5-61h0m0 59.5h0m0.5 0h0m-0.5 0h0m0 0.5h0m0.5 0h0m0 0h0m-0.5 0h0m0 0h0m-0.5 0.5h0m0.5 0h0m0 0h0m0 0.5h0m1.5-1.5h0m-0.5 0h0m0 0h0m0 0h0m-0.5 0h0m0.5 0h0m-0.5 0h0m1 0h0m-0.5 0h0m0 0.5h0m0 0h0m0 0h0m0 0h0m1-0.5h0m0.5 0h0m0 0h0m-1 0h0m0 0.5h0m0 0h0m1 0h0m0 0h0m-0.5 0h0m1-61h0m0.5 10.5h0m-0.5 1h0m0 49h0m0 0h0m-0.5 0.5h0m0.5 0h0m-0.5 0h0m0 0h0m0 0h0m0.5 0h0m-0.5 0.5h0m0.5 0h0m0.5 0.5h0m0 0h0m0 0h0m0-59.5h0m0.5 5.5h0m-0.5 1.5h0m0 4h0m0 3.5h0m0.5 1h0m0 43h0m0 0h0m0 1h0m0 0h0m0 0h0m0 0h0m1.5-1h0m0 0h0m-0.5 0h0m0 0h0m0 0.5h0m0 0h0m1-1h0m0 0.5h0m0 0h0m0.5 0h0m-0.5 0h0m0.5 0h0m0 0h0m0 0.5h0m-0.5 0h0m0 0h0m0 0h0m0 0.5h0m1-48h0m0.5 0.5h0m-0.5 4h0m0.5 42h0m-0.5 0h0m0 0h0m0 0h0m0 0h0m-0.5 0.5h0m0.5 0h0m0 0h0m-0.5 0h0m0.5 0.5h0m1-85.5h0m0.5 0.5h0m0 12h0m0 0.5h0m-0.5 14.5h0m0.5 3.5h0m-0.5 5h0m0 0.5h0m0 48h0m-0.5 0h0m0.5 0h0m-0.5 0h0m0 0.5h0m0 0h0m0 0h0m1 0h0m-0.5 0h0m0.5 0h0m0.5-91.5h0m0 4h0m-0.5 1.5h0m0 3.5h0m0.5 4h0m0 2h0m0 3.5h0m0 1.5h0m0.5 0h0m-0.5 6.5h0m0 2h0m-0.5 0.5h0m0.5 1h0m0 3.5h0m0 4.5h0m0.5 1.5h0m-1 0h0m0.5 3h0m0 1h0m0.5 47.5h0m-0.5 0h0m0 0h0m0 0h0m-0.5 0h0m0 0h0m1 0.5h0m-1 0h0m0.5 0h0m0 0h0m0 0.5h0m1.5-72h0m-0.5 3h0m0.5 3h0m-1 2.5h0m0 2.5h0m0 7.5h0m0.5 52.5h0m0 0h0m0 0h0m0.5 0h0m-0.5 0h0m0 0h0m0 0.5h0m0 0h0m0 0.5h0m0 0h0m0.5-69h0m1 68h0m-1 0.5h0m0.5 0h0m0 0h0m0 0h0m0.5 0.5h0m0 0h0m-0.5 0h0m0.5 0h0m0 0h0m-0.5 0h0m1.5-112.5h0m-0.5 1.5h0m0 29.5h0m0.5 9.5h0m0 71h0m-0.5 0.5h0m0 0h0m0 0h0m0 0h0m-0.5 0.5h0m1 0h0m-0.5 0h0m0.5 0h0m0 0h0m0.5-113h0m0 2.5h0m0.5 4.5h0m0 3.5h0m0 1h0m-0.5 5h0m-0.5 2h0m1 2.5h0m-0.5 10.5h0m0 9h0m-0.5 0.5h0m1 1h0m0 0.5h0m0 1.5h0m0 3.5h0m-0.5 64.5h0m0 0h0m0 0h0m0 0h0m-0.5 0.5h0m2-109h0m-0.5 2h0m-0.5 6h0m0.5 3.5h0m0.5 3h0m-0.5 3h0m0 3h0m0.5 3.5h0m-0.5 2h0m0.5 0.5h0m-1 6h0m0.5 7h0m0 3h0m-0.5 1h0m0.5 65h0m0 0h0m0 0h0m0.5 0h0m-0.5 0h0m0.5-111h0m0.5 10h0m-0.5 2.5h0m0.5 9h0m0 5h0m-0.5 1h0m0.5 5h0m-0.5 0h0m0.5 1.5h0m-0.5 6.5h0m0.5 7h0m0 63.5h0m-0.5 0h0m0.5 1h0m0 0h0m0.5 0h0m0-63.5h0m0.5 1h0m0 62h0m0.5 0.5h0m-1 0h0m0.5 0h0m0.5 0h0m-1 0h0m0.5 0h0m0 0h0m0.5 0h0m-0.5 0h0m0 0.5h0m0 0h0m0.5 0h0m-0.5 0h0m1-0.5h0m0 0h0m0.5 0h0m-0.5 0.5h0m0 0h0m0 0h0m-0.5 0h0m0.5 0h0m0 0h0m1-0.5h0m0 0h0m0.5 0h0m-1 0h0m0 0h0m0.5 0h0m-0.5 0.5h0m0.5 0.5h0m1.5-62.5h0m-1 61.5h0m0.5 0.5h0m-0.5 0h0m0 0.5h0m0.5 0h0m0 0h0m0 0h0m0 0h0m0.5 0h0m-0.5 0h0m1.5-68h0m0 5h0m-0.5 62h0m0.5 0h0m0 0.5h0m0 0h0m0 0h0m-1 0h0m0.5 0h0m0.5 0h0m-0.5 0h0m-0.5 0h0m1 0h0m-0.5 0h0m-0.5 0.5h0m0.5 0h0m0 0h0m0 0h0m-0.5 0.5h0m0.5 0h0m1.5-55h0m0 1.5h0m-0.5 52h0m0 0h0m-0.5 0h0m0.5 0.5h0m0 0h0m-0.5 0h0m0 0h0m1.5-76h0m0 7.5h0m0.5 0h0m0 13.5h0m-0.5 0.5h0m0 0.5h0m-0.5 1h0m0 1.5h0m0 51h0m0 0h0m0.5 0h0m0.5 0h0m0 0h0m0.5-88.5h0m0 6h0m0.5 2.5h0m-1 3h0m0.5 0.5h0m0 5h0m0 71h0m0 0h0m0 0.5h0m0 0h0m0.5 0h0m-1 0h0m1 0h0m-0.5 0.5h0m0.5-89.5h0m0 3.5h0m1 10.5h0m-1 1h0m0.5 1h0m0.5 18.5h0m-1 5h0m1 1h0m0 47.5h0m-0.5 0.5h0m0 0h0m-0.5 1h0m0.5 0h0m1-100.5h0m0 5h0m0.5 3.5h0m0 14.5h0m-1 1.5h0m0 2.5h0m1 0h0m0 0h0m-1 1.5h0m0.5 0h0m0.5 0.5h0m-1 70h0m0 0h0m1 0h0m0 0h0m-0.5 0h0m0.5 0.5h0m-0.5 0h0m0.5 0h0m-0.5 0h0m0 0h0m0 0h0m-0.5 0h0m2-121h0m-0.5 15.5h0m-0.5 9.5h0m0.5 3.5h0m0 3h0m0 15.5h0m-0.5 1.5h0m0 0.5h0m0.5 3.5h0m-0.5 1h0m0 13.5h0m0.5 53.5h0m0.5 0h0m-0.5 0h0m0 0h0m0 0.5h0m0.5 0h0m0.5-122h0m0 12.5h0m0 1h0m-0.5 11h0m0.5 0h0m0 10.5h0m-0.5 19h0m1 7h0m0 1.5h0m0 2.5h0m-0.5 7h0m0 49.5h0m-0.5 0h0m0.5 0.5h0m-0.5 0h0m1 0h0m-0.5 0h0m0.5-66.5h0m0.5 1h0m-0.5 0h0m0.5 8.5h0m0.5 1h0m-1 6h0m1 49.5h0m-1 0.5h0m0 0h0m0.5 0h0m-0.5 0h0m0 0h0m0 0h0m1-0.5h0m0.5 0h0m0 0h0m0 0h0m0 0h0m1-73.5h0m0.5 1h0m-0.5 0.5h0m0.5 0.5h0m-0.5 10h0m0.5 15h0m-0.5 2.5h0m-0.5 0h0m1 0.5h0m-0.5 0.5h0m1-25h0m0 7h0m-0.5 8.5h0m0.5 2.5h0m0 1.5h0m0.5 2h0m0 0.5h0m0 6.5h0m-1 0h0m1 0.5h0m0 1h0m0 1.5h0m-0.5 36h0m0.5 0.5h0m-0.5 0h0m0 0h0m0 0h0m0 0h0m1-39.5h0m0 3.5h0m0 0.5h0m-0.5 1h0m1 1.5h0m-0.5 0h0m0.5 0.5h0m0 1.5h0m-0.5 0.5h0m0.5 0.5h0m0 1h0m0 2h0m-1 26.5h0m0 0.5h0m0.5 0h0m1-38h0m0 4.5h0m0 2h0m-0.5 0h0m0 1.5h0m0.5 3.5h0m0 27h0m0 0h0m0 0h0m0.5-32h0m0.5 0h0m-0.5 1.5h0m0 3.5h0m0.5 1h0m-0.5 25.5h0m0 0.5h0m0 0h0m0.5 0h0m-0.5 0h0m0 0h0m0.5 0.5h0m0 0h0m0 0.5h0m0.5 0h0m0 0h0m0 0.5h0m-0.5 0h0m1-0.5h0m-0.5 0h0m0 0.5h0m0 0h0m0.5 0h0m-0.5 0h0m0.5 0h0m0 0h0m0 0h0m0 0h0m0 0.5h0m0.5 0h0m0.5-0.5h0m0.5 0h0m-0.5 0h0m0 0h0m-0.5 0.5h0m0.5 0h0m-0.5 0h0m0 0h0m1.5-0.5h0m0 0h0m0.5 0h0m-0.5 0h0m0 0h0m0.5 0.5h0m-1 0h0m1 0h0m0 0h0m0 0.5h0m-0.5 0h0m0.5 0h0m0 0h0m0.5-32.5h0m0 1.5h0m-0.5 30.5h0m0 0h0m0.5 0h0m0 0h0m-0.5 0.5h0m0.5 0.5h0m0 0h0m0 0h0m0.5 0h0m0 0h0m-0.5 0h0m0.5 0h0m0 0h0m-0.5 0h0m1-41h0m0 0h0m0 3h0m0 3h0m0 2h0m0 0h0m-0.5 2.5h0m0.5 30h0m0 0h0m0.5 0h0m0 0h0m-0.5 0h0m-0.5 0h0m0.5 0.5h0m0 0h0m0.5 0h0m-0.5 0h0m0 0h0m-0.5 0h0m1.5-42.5h0m-0.5 7.5h0m0 0.5h0m0 34h0m0.5 0h0m-0.5 0h0m0 0.5h0m0 0h0m1 0h0m-0.5 0h0m0 0.5h0m0 0h0m0 0h0m0.5 0h0m1-56.5h0m0 7h0m-0.5 49h0m0 0.5h0m0 0h0m0 0h0m-0.5 0h0m0.5 0h0m0.5 0.5h0m-0.5 0h0m1-51.5h0m0.5 1.5h0m0 2h0m-0.5 3h0m0 0.5h0m-0.5 0.5h0m1 0.5h0m-1 0h0m1 42h0m-0.5 0h0m0.5 0h0m-0.5 0.5h0m0.5 0.5h0m-0.5 0h0m0 0h0m0.5 0h0m-1 0h0m0.5 0h0m0 0.5h0m-0.5 0h0m0 0h0m0.5 0h0m0.5-54h0m0.5 4h0m0 1.5h0m0 0.5h0m0.5 0h0m-0.5 1h0m0 45.5h0m-0.5 0h0m0.5 0.5h0m0 0.5h0m0 0h0m-0.5 0h0m1.5-72h0m0 0.5h0m0.5 11.5h0m0 11h0m-0.5 0h0m0.5 46.5h0m-0.5 0.5h0m0 0h0m0 0h0m-0.5 0.5h0m1 0h0m-1 0.5h0m0 0h0m1.5-73.5h0m-0.5 0.5h0m0 0.5h0m0 9h0m0.5 9.5h0m0.5 52h0m-0.5 0h0m0 0.5h0m0 0h0m-0.5 0h0m0.5 0h0m0 0.5h0m0.5 0h0m-0.5 0h0m0 0h0m0 0.5h0m0 0h0m1-47.5h0m0 1.5h0m0.5 4h0m0 40.5h0m-1 0h0m0.5 0h0m-0.5 0.5h0m0 0h0m0 0h0m0 0h0m0 0h0m0.5 0.5h0m0.5-48.5h0m0 1.5h0m0.5 5.5h0m-0.5 40.5h0m1 0h0m-0.5 0h0m0.5 0.5h0m-0.5 0h0m1-0.5h0m-0.5 0h0m1 0h0m-0.5 0h0m-0.5 0.5h0m0.5 0h0m-0.5 0h0m0 0h0m0.5 0h0m0 0h0m0 0h0m0 0h0m0 0h0m0 0.5h0m0 0h0m0.5 0h0m-0.5 0h0m0.5 0h0m0 0h0m0 0h0m0.5-0.5h0m0 0.5h0m0 0h0m0 0h0m0 0h0m1.5-0.5h0m0 0h0m-0.5 0h0m0.5 0h0m-0.5 0h0m0 0h0m0 0.5h0m-0.5 0h0m0.5 0h0m-0.5 0h0m1.5-48.5h0m0.5 3.5h0m0 1h0m-0.5 2.5h0m0.5 40.5h0m-0.5 0h0m0 0.5h0m0 0h0m-0.5 0h0m0.5 0.5h0m0 0h0m1-52.5h0m0 3h0m0.5 2h0m-0.5 0h0m0 2.5h0m0 2.5h0m0.5 41.5h0m-0.5 0h0m0 0h0m-0.5 0h0m0.5 0h0m0 0.5h0m0.5 0h0m-1 0h0m0.5 0h0m0.5 0h0m-0.5 0h0m0 0h0m0.5 0h0m-0.5 0h0m1-136.5h0m0 1.5h0m0 24.5h0m0 3.5h0m0.5 5.5h0m-0.5 15h0m0.5 9h0m-0.5 3h0m0 4h0m0 0.5h0m0.5 1h0m0 13h0m0 1h0m0 54.5h0m-1 0h0m0.5 0h0m-0.5 0h0m0 0.5h0m0.5 0h0m-0.5 0h0m0.5 0h0m1-106.5h0m0 15.5h0m0 1h0m-0.5 0.5h0m1 20h0m-0.5 1.5h0m-0.5 2h0m1 8.5h0m-1 0h0m0.5 0.5h0m0.5 56.5h0m-1 0h0m0 0h0m0.5 0h0m0.5-67h0m0.5 4.5h0m0 2h0m0.5 60h0m-0.5 0.5h0m-0.5 0h0m0.5 0h0m0.5 0h0m1-75.5h0m0 3h0m0 1.5h0m-0.5 70.5h0m0.5 0.5h0m-0.5 0h0m0 0h0m0.5-70.5h0m0 70.5h0m0 0h0m0.5 0h0m0 0h0m0.5 0h0m-0.5 1h0m0.5 0h0m0.5-174h0m0.5 1.5h0m-0.5 3h0m0 1.5h0m0 3h0m0.5 16.5h0m0 30h0m-1 118h0m0 0h0m0.5 0h0m-0.5 0h0m0.5 0.5h0m0.5 0.5h0m0 0h0m0 0h0m0-174h0m0.5 9.5h0m0.5 6h0m0 12h0m0 5h0m-0.5 5h0m-0.5 1.5h0m0.5 7.5h0m0 0.5h0m0 6.5h0m0 3h0m0 12.5h0m0 5h0m0 2h0m0 2.5h0m-0.5 2.5h0m0.5 2h0m0.5 6h0m-1 85h0m0.5 0h0m0 0.5h0m0.5-159.5h0m1 3.5h0m-0.5 17h0m0 1h0m0 1.5h0m0.5 11.5h0m0 7h0m0 0.5h0m0 5h0m-0.5 8h0m0.5 9.5h0m-1 4h0m0.5 1.5h0m0 1h0m0 1.5h0m0 0.5h0m-0.5 1h0m1 0.5h0m-0.5 2h0m-0.5 0.5h0m0.5 3h0m-0.5 3.5h0m0.5 4.5h0m0 71h0m0 0h0m-0.5 0.5h0m0 0.5h0m0 0h0m1 0.5h0m0.5-159h0m-0.5 0.5h0m0 26.5h0m0 5h0m0 4.5h0m0 3.5h0m0 11h0m0.5 7h0m-0.5 7h0m0 4h0m0 7h0m0 1h0m1 47h0m0 0h0m0 34h0m0 0h0m-1 0.5h0m0 0h0m0.5 0h0m-0.5 0.5h0m0.5 0h0m0.5 0.5h0m-0.5 0h0m0.5 0h0m0 0h0m0 0h0m0 0.5h0m0.5-35h0m0 0.5h0m-0.5 0h0m0.5 0h0m-0.5 0.5h0m0 0.5h0m0.5 31.5h0m0 0.5h0m0 0h0m0 0h0m0 0.5h0m-0.5 0h0m0.5 0.5h0m-0.5 0h0m0.5 0h0m0 0h0m0 0h0m1-71.5h0m0 34.5h0m0 0h0m0 0.5h0m0 3.5h0m0.5 30.5h0m0 0h0m-0.5 0h0m0.5 0.5h0m-0.5 0h0m-0.5 0h0m0.5 0h0m-0.5 0.5h0m0 0h0m0 0h0m0.5 0.5h0m1.5-102.5h0m0 0h0m0 19h0m-1 6h0m0.5 1h0m0.5 5h0m0 35h0m-1 0.5h0m1 34.5h0m-0.5 0h0m0 0h0m0 0h0m0.5 0h0m-0.5 0h0m0 0.5h0m1-111h0m0 1.5h0m0 2.5h0m0 1.5h0m0 1h0m0 0h0m0 3h0m0 3.5h0m0 2h0m0 3h0m-0.5 5.5h0m1 0h0m0 1h0m-1 1h0m0.5 1.5h0m0.5 4.5h0m-0.5 0.5h0m0 2.5h0m0.5 0.5h0m-0.5 1.5h0m0 2.5h0m0.5 1h0m-1 0.5h0m0.5 35h0m0 35h0m0 0h0m0 0h0m1-106h0m0.5 10.5h0m-0.5 4.5h0m0 1h0m0.5 0.5h0m0 3.5h0m-0.5 10.5h0m-0.5 3h0m0.5 1h0m0 2h0m0 1h0m0.5 2h0m-0.5 3h0m0 0.5h0m-0.5 1h0m1 0.5h0m-1 9h0m0.5 0.5h0m0 17.5h0m0 4h0m0 1.5h0m0 29h0m0 0h0m0 0h0m-0.5 0.5h0m0 0h0m1-98h0m0 3.5h0m0.5 0.5h0m0 3.5h0m0 0.5h0m-0.5 4.5h0m0 2h0m0 0h0m0.5 9.5h0m-0.5 2h0m0 0.5h0m0.5 4.5h0m-0.5 8h0m0 0.5h0m0.5 25.5h0m0 0.5h0m-0.5 2h0m0 30h0m0 0h0m0 0h0m1 0.5h0m-0.5 0h0m0.5 0h0m-0.5 0.5h0m0 0h0m1-67.5h0m0.5 1h0m0 5h0m0 5.5h0m-1 55.5h0m0 0h0m0 0h0m0.5 0h0m-0.5 0.5h0m0.5 0h0m0 0h0m0 0h0m0 0h0m-0.5 0h0m1 0.5h0m-0.5 0h0m0 0h0m0 0.5h0m0.5 0h0m0 0h0m-0.5 0h0m0.5-56.5h0m0.5 55.5h0m0 0h0m0.5 0h0m0 0.5h0m-0.5 0h0m0 0h0m0 0h0m0 0.5h0m-0.5 0h0m1 0h0m1-62.5h0m-0.5 7h0m0.5 3h0m0 51.5h0m0 0h0m-0.5 0.5h0m0 0h0m0 0.5h0m-0.5 0h0m0 0h0m0.5 0h0m1-66.5h0m0 14.5h0m0 51h0m0 0h0m-0.5 0h0m0.5 0h0m-0.5 0h0m0.5 0h0m-0.5 0h0m0 0h0m1 0.5h0m0 0h0m0 0h0m-0.5 0h0m0 0h0m0.5 0.5h0m-0.5 0h0m1.5-92.5h0m-0.5 1h0m0 1.5h0m0.5 3h0m-0.5 11.5h0m0 2h0m0 13h0m0.5 1h0m-0.5 1.5h0m0.5 0h0m-0.5 4h0m-0.5 53h0m0.5 0.5h0m-0.5 0h0m0.5 0h0m0.5 0h0m-0.5 0h0m1-89.5h0m0 8h0m-0.5 2.5h0m0 6.5h0m0 7h0m0 4h0m0 2.5h0m0.5 2h0m-0.5 3.5h0m0.5 52.5h0m0.5 0.5h0m0 0h0m0 0h0m-1 0.5h0m1-0.5h0m0 0h0m0 0h0m0.5 0h0m0.5 0.5h0m0.5-0.5h0m0.5 0h0m-1 0h0m0.5 0.5h0m0 0h0m0 0h0m0.5 0h0m0 0h0m0.5-94h0m0.5 5.5h0m0 4h0m0 10.5h0m0 6.5h0m0 13h0m-0.5 54h0m-0.5 0h0m1 0h0m-0.5 0h0m-0.5 0.5h0m1-104h0m1 6.5h0m0 1.5h0m-1 11h0m0.5 2h0m0 3h0m-0.5 1.5h0m1 7.5h0m-1 9h0m0 5.5h0m1 3h0m-1 53h0m0.5 0h0m-0.5 0h0m0 0h0m0.5 0.5h0m0.5 0.5h0m0 0h0m-0.5 0h0m0.5 0h0m0.5-99.5h0m0 0.5h0m0 2.5h0m0 4.5h0m-0.5 5.5h0m0.5 2.5h0m0 6h0m0.5 0h0m-0.5 2h0m-0.5 1h0m0.5 1.5h0m0 4.5h0m0.5 12.5h0m0 56h0m-0.5 0.5h0m0 0h0m1-109.5h0m0 2.5h0m-0.5 33h0m1 11h0m-1 1h0m0.5 62h0m0 0h0m0 0h0m0.5 0h0m-0.5 0.5h0m0 0h0m1-128h0m0.5 2.5h0m-0.5 5.5h0m-0.5 24h0m0.5 31.5h0m0.5 64h0m-1 0h0m1 0h0m-0.5 0.5h0m0 0h0m1.5-162h0m-0.5 3h0m0 0h0m0 3h0m0.5 1.5h0m-1 1h0m0.5 3h0m0.5 5.5h0m-1 15h0m0.5 2h0m0 7.5h0m0 1h0m-0.5 2.5h0m1 1.5h0m-1 12.5h0m0.5 8.5h0m-0.5 2h0m1 2h0m0 8h0m-0.5 17.5h0m0.5 5h0m-1 0.5h0m0.5 4.5h0m0 0.5h0m-0.5 53.5h0m1 0.5h0m0 0h0m-0.5 0h0m0 0h0m0 0h0m1-185.5h0m0 9h0m0 5.5h0m0 4.5h0m0 1.5h0m-0.5 0h0m0.5 2.5h0m0.5 5h0m-1 16h0m1 9h0m-0.5 4.5h0m0.5 3h0m0 2.5h0m-0.5 0.5h0m0 8h0m0 6h0m-0.5 0.5h0m1 0h0m0 3.5h0m-0.5 0.5h0m-0.5 1.5h0m0.5 15h0m-0.5 0h0m0.5 1.5h0m0 1h0m-0.5 20h0m0.5 10h0m0.5-121.5h0m0.5 14h0m0 7h0m-0.5 2.5h0m0 2h0m0 2h0m0.5 6.5h0m-0.5 2h0m0.5 7.5h0m0 1h0m0 4h0m0 0h0m0 2.5h0m-0.5 14.5h0m0.5 12h0m-0.5 17h0m0.5 0.5h0m0 21.5h0m0 5.5h0m0.5 54h0m-0.5 0h0m0.5 0h0m0.5-63h0m0.5 1h0m-1 2h0m0 1h0m0.5 0.5h0m-0.5 0.5h0m0.5 1h0m0 56.5h0m-0.5 0.5h0m0.5 0h0m-0.5 0h0m2-87.5h0m-0.5 1h0m0 6h0m0.5 80h0m0 0.5h0m-0.5 0.5h0m1-96h0m0 3h0m-0.5 2h0m1 0h0m-1 0.5h0m0.5 0.5h0m-0.5 2h0m0 1h0m0.5 86.5h0m-0.5 0h0m0.5 0h0m0.5 0h0m-0.5 0h0m-0.5 0h0m0 0h0m1-94h0m0.5 9.5h0m-0.5 84.5h0m0.5 0.5h0m0.5 0h0m0 0h0m-0.5 0h0m1.5-138h0m-0.5 11h0m0 4h0m0.5 3.5h0m0 8h0m-0.5 1.5h0m0 6.5h0m0 3.5h0m0.5 5.5h0m-0.5 12h0m0.5 82h0m-0.5 0h0m-0.5 0h0m0.5 0.5h0m0.5 0h0m-1 0h0m1.5-146h0m0 6.5h0m0 0.5h0m-0.5 8h0m0 2h0m0 8.5h0m0 4.5h0m0.5 7h0m0 0.5h0m0 0.5h0m0 3.5h0m0 2h0m0 4h0m0 6h0m-0.5 0.5h0m0 14h0m1 8.5h0m-1 69.5h0m0.5 0h0m0 0.5h0m0 0h0m0 0h0m0 0h0m0.5 0h0m-0.5 0h0m1.5-140.5h0m0 4.5h0m-1 2.5h0m1 1h0m-0.5 2h0m0.5 9h0m-0.5 1.5h0m0 2h0m-0.5 10.5h0m0.5 8h0m0 3h0m0 1h0m0 0.5h0m0 5.5h0m0.5 4h0m-0.5 1.5h0m0 8h0m0 6.5h0m0.5 1.5h0m0 3.5h0m-0.5 0h0m0.5 62.5h0m-0.5 0.5h0m0.5 0h0m-0.5 0h0m-0.5 0.5h0m0.5 0h0m0 0.5h0m0 0h0m1-123.5h0m-0.5 8h0m0.5 5.5h0m0 6h0m-0.5 9.5h0m0 7h0m0 9h0m0 1h0m0 5.5h0m0.5 8h0m0.5 62.5h0m-0.5 0.5h0m0.5 0h0m0 0h0m0 0h0m0 0h0m-0.5 0h0m0.5 0h0m-0.5 0h0m0.5-0.5h0m0.5 0h0m0 0h0m0 0h0m0 0.5h0m0 0h0m0 0h0m0.5 0h0m0-0.5h0m0 0h0m0 0.5h0m0.5 0h0m0 0h0m0.5 0.5h0m0 0h0m0 0.5h0m0.5-92h0m0 12.5h0m0 6.5h0m-0.5 72h0m0 0.5h0m1 0h0m-1 0.5h0m0 0h0m0.5 0h0m0.5 0.5h0m-0.5 0h0m0 0h0m1.5-101.5h0m-0.5 2h0m0 13.5h0m-0.5 1h0m0.5 4.5h0m0 7.5h0m0.5 0.5h0m-0.5 5h0m-0.5 3h0m0 64.5h0m0.5 0h0m0.5 1h0m0 0h0m0 0h0m0.5-96.5h0m0 1h0m0.5 0.5h0m-1 8h0m0.5 3.5h0m0 3h0m-0.5 4.5h0m0 1.5h0m0.5 2h0m0 1.5h0m0 0.5h0m0.5 2h0m0 6h0m-1 17h0m1 1.5h0m-0.5 43.5h0m0 0.5h0m0 0h0m0 0h0m0 0h0m-0.5 0h0m0.5 0.5h0m0 0h0m0.5-87h0m0 3h0m0.5 9.5h0m-0.5 1.5h0m1 4h0m-0.5 1h0m0 0.5h0m0.5 6.5h0m0 0.5h0m0 1.5h0m-1 7.5h0m0.5 2.5h0m0.5 48.5h0m-0.5 0h0m0.5 0.5h0m0 0h0m-0.5 0h0m-0.5 0h0m0.5 0h0m0 0.5h0m0 0h0m-0.5 0h0m0 0h0m1.5-65h0m-0.5 5.5h0m0.5 0.5h0m0 3.5h0m0 0.5h0m-0.5 0h0m0.5 10h0m0.5 43.5h0m-0.5 0h0m0 0.5h0m0 0h0m-0.5 0h0m0 0.5h0m0.5 0h0m0.5 0h0m-0.5 0h0m0 0h0m-0.5 0h0m1.5-1.5h0m0 0.5h0m0 0h0m0 0h0m0 0.5h0m0 0h0m0 0h0m-0.5 0h0m0.5 0.5h0m-0.5 0h0m1.5-44.5h0m0.5 0.5h0m-0.5 42h0m0.5 0h0m-0.5 0h0m0.5 0.5h0m-0.5 0h0m0 0h0m-0.5 0h0m0.5 0h0m0 0h0m0 0.5h0m-0.5 0h0m0.5 0h0m1.5-55.5h0m0 0h0m-0.5 1.5h0m0 4.5h0m0 1.5h0m0.5 2.5h0m-1 1.5h0m1 0h0m0 0h0m-0.5 43.5h0m0.5 0.5h0m-0.5 0h0m1-54h0m0 1.5h0m0 2.5h0m0.5 12h0m0 1h0m-1 36.5h0m0 0h0m0.5 0h0m0 0h0m0 0h0m0.5 0h0m-1 0.5h0m0.5 0h0m0.5 0h0m-0.5 0h0m0.5 0h0m-1 0h0m0.5 0h0m1.5-44.5h0m-0.5 1.5h0m0 0.5h0m0 3h0m0.5 1h0m0 0h0m-1 38h0m0.5 0h0m-0.5 0.5h0m0.5 0h0m0 0h0m0 0h0m0 0h0m0.5-38.5h0m0 0.5h0m0.5 0.5h0m-0.5 3h0m0.5 0.5h0m0 0.5h0m0 0h0m0 33h0m0 0h0m0 0h0m-0.5 0h0m1 0.5h0m-0.5 0h0m0 0h0m0 0h0m0 0h0m-0.5 0h0m1 0.5h0m-0.5 0h0m0.5 0h0m0 0h0m0 0.5h0m-0.5 0h0m0 0h0m0.5-32.5h0m0 31.5h0m0 0.5h0m0.5 0.5h0m-0.5 0h0m0.5 0h0m0.5 0h0m-0.5 0.5h0m0 0h0m0 0h0m0 0h0m0 0h0m0.5 0h0m-0.5 0h0m0 0h0m0 0h0m0.5 0h0m-0.5 0h0m0 0h0m1.5-1h0m0 0h0m0 0.5h0m-0.5 0h0m-0.5 0h0m0 0h0m0.5 0h0m0 0.5h0m0.5 0h0m-0.5 0h0m-0.5 0h0m0.5 0h0m0 0h0m0.5-33h0m1 32h0m-1 0h0m1 0h0m-0.5 0.5h0m0 0h0m-0.5 0h0m0.5 0h0m-0.5 0h0m0.5 0.5h0m-0.5 0h0m0.5 0h0m0 0h0m-0.5 0h0m0 0h0m1.5-1.5h0m0.5 0h0m-0.5 0.5h0m0 0h0m0 0h0m-0.5 0.5h0m0 0h0m0 0h0m0 0h0m0.5 0h0m1.5-1h0m-0.5 0h0m-0.5 0h0m1 0h0m-1 0h0m0.5 0h0m-0.5 0h0m0.5 0h0m0 0h0m0.5 0.5h0m-1 0h0m0.5 0h0m0 0h0m0 0h0m-0.5 0h0m0.5 0h0m0.5 0h0m1-69h0m-0.5 0h0m0.5 1h0m0 2h0m0 0.5h0m-0.5 2.5h0m0 9h0m0 0.5h0m0.5 8h0m-0.5 3.5h0m0 2h0m0.5 2.5h0m-0.5 36.5h0m0 0h0m0 0.5h0m0 0h0m-0.5 0h0m1.5-73.5h0m0 6h0m0 1h0m0.5 3h0m-0.5 0.5h0m0 1.5h0m0 6.5h0m-0.5 5.5h0m0.5 2h0m-0.5 0.5h0m0 0.5h0m0.5 2.5h0m0 1h0m0 0.5h0m0 2.5h0m0.5 2.5h0m-0.5 0h0m0 3h0m0.5 2h0m-0.5 0h0m0 32h0m0 0h0m0.5 0h0m-0.5 0h0m0.5 0.5h0m0-70.5h0m0.5 0.5h0m-0.5 1h0m1 8h0m-1 1h0m0.5 0.5h0m-0.5 2.5h0m0 2.5h0m1 2h0m-1 1.5h0m0 10h0m0 40.5h0m0.5 0h0m-0.5 0h0m0 0h0m0.5 0h0m-0.5 0h0m0.5 0h0m-0.5 0h0m1 0.5h0m0 0h0m0 0.5h0m-0.5 0h0m0.5 0h0m0.5-65.5h0m0 10h0m0 3h0m-0.5 1.5h0m0 0h0m0 3h0m0 47.5h0m0 0.5h0m0.5 0h0m-0.5 0.5h0m1 0h0m0 0.5h0m0 0h0m0 0.5h0m0.5-49.5h0m0.5 2h0m-0.5 0.5h0m0 2.5h0m0 43.5h0m-0.5 0h0m1 0.5h0m-0.5 0h0m0 0h0m0 0h0m-0.5 0h0m0.5 0h0m-0.5 0h0m1 0.5h0m-0.5 0h0m0.5 0h0m-1 0h0m0 0h0m0 0h0m1 0h0m-0.5 0h0m0.5-0.5h0m1 0h0m0 0.5h0m0 0.5h0m0 0h0m-0.5 0.5h0m0.5 0h0m1-42.5h0m-0.5 3h0m0.5 2h0m0 2h0m-0.5 0.5h0m0.5 33h0m-0.5 0h0m0.5 0.5h0m0 0h0m-1 0.5h0m0.5 0h0m0 0h0m0 0.5h0m0 0h0m0 0h0m-0.5 0h0m1-34.5h0m0.5 32h0m0 0.5h0m0.5 0h0m0 0h0m0 0h0m-0.5 0h0m-0.5 0h0m1 0h0m-0.5 0.5h0m-0.5 0h0m1 0h0m-0.5 0h0m0 0h0m0.5 0h0m-0.5 0h0m-0.5 0h0m0 0h0m0.5 0h0m-0.5 0.5h0m0 0h0m0 0h0m1.5-2h0m0.5 0h0m0 0.5h0m0 0h0m-0.5 0h0m0 0h0m0 0h0m0.5 0h0m-1 0h0m0 0h0m0 0h0m0.5 0.5h0m0 0h0m-0.5 0h0m0.5 0h0m0 0.5h0m-0.5 0h0m0.5 0h0m0.5-1.5h0m0.5 0h0m-0.5 0h0m0 0h0m0.5 0h0m-0.5 0h0m1 0h0m0 0h0m-0.5 0h0m0 0h0m0 0h0m0 0h0m-0.5 0.5h0m0 0h0m0 0h0m0.5 0h0m1-31h0m0.5 2h0m0 5h0m0 0.5h0m-0.5 1h0m0 22h0m-0.5 0h0m0 0h0m1 0h0m-0.5 0h0m0 0h0m-0.5 0h0m0 0h0m1.5-28h0m-0.5 1h0m0.5 0h0m0 5h0m0 22h0m-0.5 0h0m0 0h0m0.5 0.5h0m0 0h0m0.5 0h0m0 0h0m-0.5 0h0m0 0.5h0m0 0h0m0 0h0m0 0h0m0.5 0h0m0.5-0.5h0m0 0h0m-0.5 0h0m0.5 0.5h0m-0.5 0h0m1 0h0m-1 0h0m0.5 0h0m0.5 0h0m0 0h0m-0.5 0h0m0 0h0m0.5 0.5h0m0-0.5h0m0.5 0h0m0 0.5h0m-0.5 0h0m0.5 0h0m0 0h0m0.5 0h0m0 0h0m-0.5 0h0m0.5 0h0m0 0.5h0m0 0h0m-0.5 0h0m1 0h0m0 0h0m0 0h0m-0.5 0h0m0.5 0h0m0 0h0m0 0h0m-0.5 0h0m0.5 0h0m0 0h0m0.5 0.5h0m-0.5 0h0m0.5 0h0m0 0h0m0 0h0m0 0h0m0 0h0m0 0h0m-0.5 0h0m1-24.5h0m0 23.5h0m-0.5 0h0m0.5 0h0m0.5 0.5h0m-0.5 0h0m0.5 0h0m0 0h0m-0.5 0h0m0 0h0m0 0h0m0.5 0h0m-1 0h0m0.5 0h0m0 0h0m-0.5 0h0m0 0h0m0 0.5h0m0.5 0h0m1-1.5h0m0 0h0m0.5 0h0m-0.5 0.5h0m0 0h0m0.5 0h0m-1 0h0m0.5 0h0m0.5 0h0m-0.5 0h0m0 0.5h0m0 0h0m-0.5 0h0m0 0h0m1.5-38h0m0.5 1.5h0m-0.5 4h0m0.5 0.5h0m0 0.5h0m0 2.5h0m-0.5 0h0m0.5 1h0m-1 0.5h0m0 2h0m1 24h0m-0.5 0.5h0m0 0h0m-0.5 0h0m1 0.5h0m0 0h0m0 0h0m-0.5 0h0m0 0h0m1-46h0m0 4h0m0.5 2h0m0 3.5h0m-0.5 3h0m0.5 0h0m-0.5 1h0m0 0h0m0.5 31h0m-1 0h0m0.5 0h0m0.5 0h0m-0.5 0h0m0 0.5h0m0 0h0m0.5 0h0m-0.5 0h0m0 0h0m0 0h0m0 0.5h0m0 0h0m-0.5 0h0m0 0.5h0m0 0h0m0.5 0h0m0.5-39h0m0.5 37h0m0 0h0m0 0.5h0m0 0h0m0.5 0h0m0 0h0m-0.5 0h0m0 0.5h0m0.5 0h0m-1 0h0m1.5-134.5h0m0.5 7.5h0m0 1.5h0m-0.5 13.5h0m0.5 0h0m0 11h0m0 6.5h0m-0.5 14.5h0m0 4h0m0 22h0m0 1h0m0 3h0m0 1h0m0.5 1h0m-0.5 2.5h0m0.5 44h0m-0.5 0h0m0 0.5h0m0 0h0m0 0h0m-0.5 0.5h0m0.5 0h0m-0.5 0.5h0m0.5 0h0m1-138.5h0m-0.5 3h0m0 4h0m0 15.5h0m1 0.5h0m-0.5 17.5h0m0 7h0m0.5 6h0m0 2h0m-1 1.5h0m0 8h0m0.5 0.5h0m0 0h0m0 3.5h0m0 2.5h0m0.5 2h0m-0.5 2h0m0 5h0m0 2h0m0 54.5h0m0.5 0h0m-0.5 0h0m-0.5 0.5h0m0.5 0h0m0.5-123.5h0m0.5 0h0m0 1.5h0m0 1h0m0.5 9h0m-0.5 2.5h0m0 1h0m0 4.5h0m0 3.5h0m0 4h0m0 4h0m0.5 4.5h0m-0.5 4.5h0m0.5 0.5h0m-0.5 3h0m0.5 1.5h0m-0.5 2h0m0 4.5h0m0 0.5h0m0.5 0h0m-0.5 1h0m0.5 5h0m-1 2h0m1 1h0m-0.5 1h0m0.5 11.5h0m0 1h0m0 7.5h0m-0.5 41h0m-0.5 0h0m1-122.5h0m0.5 38h0m0 16.5h0m0 10.5h0m0 2h0m0 4h0m0 2.5h0m0 1.5h0m0 2h0m0 1h0m0 2h0m0.5 2h0m-0.5 0h0m-0.5 0.5h0m0.5 40h0m0.5 0h0m0 0h0m-0.5 0h0m-0.5 0h0m0.5 0h0m1-56h0m-0.5 6h0m0.5 0h0m-0.5 4h0m0.5 7h0m0.5 1h0m-0.5 13h0m1-12.5h0m-0.5 0h0m1 3h0m-0.5 0.5h0m0 1h0m0.5 0.5h0m-0.5 2h0m0.5 0.5h0m0 2.5h0m-1 3.5h0m0 0h0m1 1.5h0m-1 22h0m0 0h0m0.5 0.5h0m-0.5 0h0m1 0.5h0m0 0h0m0 0.5h0m0 0h0m0 0h0m-0.5 0h0m1-40.5h0m0 1h0m0 1.5h0m0 4.5h0m0 0.5h0m-0.5 1h0m0 2.5h0m0 4.5h0m0.5 2.5h0m0 0.5h0m0 1h0m0.5 0.5h0m0 0h0m0 0.5h0m-0.5 0h0m0 0.5h0m0.5 0.5h0m0 0.5h0m-0.5 17.5h0m0 0h0m0 0h0m0 0.5h0m0.5 0h0m-0.5 0h0m0 0h0m0 0h0m-0.5 0.5h0m1 0h0m0 0h0m0 0h0m0 0h0m-0.5 0h0m0.5-23.5h0m0 2.5h0m0.5 20.5h0m-0.5 0.5h0m0.5 0h0m0 0h0m-0.5 0h0m0.5 0h0m0 0.5h0m0.5 0h0m0 0h0m0 0h0m0 0h0m-0.5 0h0m0.5 0h0m-0.5 0h0m0 0h0m1-0.5h0m0.5 0h0m0 0h0m-0.5 0h0m-0.5 0.5h0m0 0h0m0 0h0m0.5 0h0m-0.5 0h0m0.5 0h0m-0.5 0h0m0.5 0h0m0 0.5h0m0 0h0m0 0h0m0 0h0m0.5 0h0m-0.5 0h0m0.5-0.5h0m0.5 0h0m0 0h0m-0.5 0.5h0m0.5 0h0m0 0h0m-0.5 0h0m0 0h0m0 0h0m0.5 0h0m1-18.5h0m0 18.5h0m0.5 0h0m0 0h0m0 0h0m0.5-18h0m-0.5 18h0m0.5 0h0m0 0h0m0 0h0m0 0h0m0 0h0m1-37h0m0.5 3.5h0m-0.5 0.5h0m0 2.5h0m0 0.5h0m0.5 5.5h0m0 2h0m0 0.5h0m-0.5 1.5h0m0 0.5h0m0.5 1.5h0m0 0.5h0m0 0.5h0m-0.5 17h0m0 0.5h0m0 0h0m0 0h0m-0.5 0h0m0 0h0m0 0h0m1-40h0m0.5 0.5h0m0 1.5h0m0 6.5h0m0 8h0m-0.5 0.5h0m0.5 0.5h0m-0.5 2h0m1 0.5h0m-1 2h0m0.5 0.5h0m0.5 1h0m-0.5 16.5h0m0.5 0h0m0-20.5h0m0 3h0m0.5 0h0m-0.5 1.5h0m1 15.5h0m-0.5 0.5h0m-0.5 0h0m0 0h0m0 0h0m0.5 0h0m0 0h0m0 0h0m0.5 0h0m-0.5 0h0m0.5 0h0m0.5-16.5h0m0 0.5h0m0 1h0m0 14.5h0m0 0.5h0m-0.5 0h0m0.5 0h0m-0.5 0h0m0 0h0m0 0h0m0.5 0h0m-0.5 0h0m0.5 0h0m1.5 0h0m0 0h0m-0.5 0h0m0 0.5h0m0.5 0h0m0 0h0m0.5-16h0m0 15h0m0 0.5h0m-0.5 0.5h0m0 0h0m1 0h0m-0.5 0h0m0.5 0h0m0 0h0m0 0h0m0.5-0.5h0m-0.5 0h0m0 0.5h0m0 0h0m0.5 0h0m0 0h0m-0.5 0h0m0.5 0h0m-0.5 0h0m0 0h0m0 0h0m2-16.5h0m-0.5 15.5h0m0 0h0m0.5 0h0m0 0.5h0m-0.5 0h0m-0.5 0h0m0 0h0m0.5 0h0m0 0h0m1-20h0m0.5 0.5h0m0 2.5h0m-0.5 1h0m0 0h0m-0.5 1h0m0 14.5h0m0 0h0m0.5 0.5h0m0.5 0h0m-0.5 0h0m0 0h0m0 0h0m0.5 0h0m0-20h0m0 0.5h0m0.5 3h0m-0.5 0h0m0.5 16.5h0m0 0h0m0.5 0h0m0 0h0m-0.5 0h0m-0.5 0h0m0.5 0h0m-0.5 0h0m1.5-50h0m0.5 0h0m0 8.5h0m0 2h0m0 0.5h0m0 2.5h0m-1 36h0m0 0.5h0m0 0h0m0.5 0h0m0 0h0m1-57.5h0m0 7.5h0m0 3h0m0 1.5h0m0 0.5h0m0.5 0.5h0m-0.5 1.5h0m0 1h0m0 1h0m-0.5 0h0m0 1.5h0m0 3h0m0.5 1.5h0m0.5 0h0m-0.5 0h0m0 0h0m-0.5 1h0m0.5 1.5h0m0.5 3h0m-1 0h0m0 0.5h0m1 0.5h0m-0.5 1.5h0m0.5 1h0m-0.5 0.5h0m0 0.5h0m0 1.5h0m0 0.5h0m0 0h0m0 0.5h0m-0.5 2h0m0.5 21h0m0.5 0h0m0 0h0m-0.5 0h0m0 0h0m1-57.5h0m-0.5 2.5h0m1 1h0m-0.5 3h0m-0.5 0.5h0m0 1h0m0.5 0.5h0m0.5 0h0m-0.5 2.5h0m0 0.5h0m-0.5 1.5h0m0.5 2h0m0 0.5h0m-0.5 5h0m0 2.5h0m0.5 1h0m0 1h0m-0.5 6h0m0 0.5h0m0.5 26h0m0.5 0h0m-0.5 0h0m0 0.5h0m0 0h0m0 0h0m0.5 0.5h0m-0.5 0h0m1-55h0m0 10h0m0 5.5h0m0 5.5h0m-0.5 0.5h0m0 3h0m1 29h0m-0.5 0h0m0 0h0m0 0.5h0m-0.5 0h0m0 0.5h0m0.5 0h0m-0.5 0h0m0 0h0m0.5 0.5h0m-0.5 0h0m2-2h0m-1 0.5h0m1 0h0m-0.5 0.5h0m0 0h0m0.5 0h0m0 0h0m-1 0h0m0.5 0h0m1.5-1h0m-0.5 0h0m0 0h0m0 0.5h0m0 0h0m0 0h0m0 0h0m0 0.5h0m0.5 0h0m-1 0h0m0.5 0h0m0 0h0m0 0h0m-0.5 0h0m0 0h0m0 0h0m1.5-29h0m0 0h0m0 27.5h0m0 0h0m0 0h0m0.5 0h0m0 0h0m-1 0.5h0m0 0h0m0 0h0m0 0.5h0m0.5 0h0m0 0h0m-0.5 0h0m0.5 0.5h0m0 0h0m0 0h0m1.5-2h0m0 0.5h0m-0.5 0h0m0 0h0m-0.5 0h0m1 0h0m0 0h0m-0.5 0h0m0 0h0m0.5 0.5h0m-0.5 0h0m0.5 0h0m-0.5 0h0m0 0h0m0 0h0m0 0h0m1.5-1h0m-0.5 0.5h0m0 0h0m0.5 0h0m0 0h0m-0.5 0h0m0 0h0m0 0h0m0.5 0h0m-0.5 0h0m0 0.5h0m0 0h0m0 0h0m-0.5 0h0m2-1h0m-1 0.5h0m0 0h0m0.5 0h0m-0.5 0h0m2-64h0m0 0h0m-0.5 4h0m0.5 4h0m0 4.5h0m0 5.5h0m-0.5 3.5h0m0 1h0m0 1h0m0.5 8.5h0m0 2h0m-0.5 29.5h0m-0.5 0.5h0m0 0h0m0 0h0m2-104.5h0m0 9.5h0m0 0h0m-0.5 13h0m0.5 2.5h0m-0.5 5.5h0m-0.5 4h0m0.5 3.5h0m-0.5 0.5h0m0.5 5.5h0m0 2.5h0m0 0.5h0m0.5 2h0m-1 0.5h0m1 0.5h0m-0.5 0.5h0m0 0h0m0 3h0m0 1.5h0m-0.5 2.5h0m1 0.5h0m-1 1.5h0m0 3h0m0 0.5h0m0 0.5h0m0 0h0m0.5 2.5h0m0.5 0h0m-0.5 1h0m0 2.5h0m-0.5 2h0m0 3h0m1 29.5h0m-1 0.5h0m0 0h0m1.5-109h0m-0.5 6.5h0m0.5 4h0m-0.5 8h0m1 0.5h0m0 1h0m-0.5 0.5h0m-0.5 6h0m0.5 0.5h0m0 9.5h0m0 2.5h0m0 3.5h0m0 5h0m0.5 4.5h0m-0.5 57h0m0 0h0m0 0h0m0.5-106h0m0 7h0m0 3h0m0.5 0h0m0 0.5h0m0 1.5h0m0 12h0m-0.5 0.5h0m0.5 1h0m0 9.5h0m0 1.5h0m0 69.5h0m0 0.5h0m0.5 0h0m0 0h0m-0.5 0h0m0 0h0m0 0.5h0m0 0h0m0.5 0h0m-0.5 0h0m1.5-75.5h0m0 1h0m-0.5 8.5h0m0.5 3.5h0m0 4h0m0 16.5h0m0 0h0m-1 41h0m0.5 0.5h0m0 0h0m-0.5 0h0m0 0h0m0.5 0h0m-0.5 0.5h0m0 0h0m1.5-79.5h0m0 11h0m-0.5 2h0m0.5 0h0m-0.5 3.5h0m0.5 9h0m0 1h0m0 0.5h0m-0.5 1h0m0 2.5h0m1 2h0m0 1.5h0m-0.5 1.5h0m-0.5 0.5h0m0 0h0m0.5 1h0m-0.5 0h0m0.5 1h0m0 1h0m0.5 41h0m0 0h0m-0.5 0h0m0 0h0m0 0h0m0.5-50.5h0m0 9.5h0m0 41h0m0.5 0h0m0 1h0m0 0h0m0 0h0m0.5 0h0m0 0h0m0 0h0m-0.5 0.5h0m0.5 0h0m1-1.5h0m0 0.5h0m0 0h0m-1 0.5h0m0 0h0m0.5 0h0m0 0h0m0 0.5h0m1-40.5h0m0 39h0m-0.5 0.5h0m0.5 0h0m0 0h0m-0.5 0h0m0 0h0m0.5 0h0m0.5 0h0m-0.5 0h0m0 0.5h0m0 0h0m1.5-84.5h0m0 8.5h0m0 13.5h0m0 3h0m0 0h0m-0.5 8.5h0m0 5h0m0 4.5h0m-0.5 41h0m0.5 0h0m0 0h0m-0.5 0.5h0m0.5 0h0m-0.5 0h0m0.5 0.5h0m0 0h0m0 0.5h0m1-90.5h0m0 0h0m-0.5 2.5h0m0 11.5h0m0 3h0m0.5 2.5h0m0 11h0m0 3.5h0m0.5 0.5h0m-0.5 3h0m0 1.5h0m-0.5 3.5h0m0.5 1h0m-0.5 1h0m1 1.5h0m0 41.5h0m0 0h0m-0.5 0.5h0m0 0h0m0.5 0.5h0m-0.5 0h0m0.5 0h0m-0.5 0h0m-0.5 0h0m0 0.5h0m0.5 1h0m0 0h0m0 0.5h0m0.5-59.5h0m0 0.5h0m0 2.5h0m0 1h0m1 52h0m-0.5 0h0m0 0h0m0.5 0.5h0m-0.5 0h0m0.5 0h0m-0.5 0.5h0m0.5 0h0m-1 0h0m0 0.5h0m0.5 0h0m1.5-155h0m-0.5 25h0m0 8.5h0m0.5 5.5h0m0 5h0m0 35h0m-0.5 6h0m0 68.5h0m-0.5 0h0m0.5 0h0m-0.5 0.5h0m0 0.5h0m1-152h0m0.5 5h0m0 6h0m0.5 0h0m0 19h0m-0.5 14.5h0m0 0.5h0m0.5 1h0m-0.5 7h0m0 5.5h0m-0.5 8h0m0.5 3h0m0 13h0m0.5 5.5h0m0 1.5h0m-0.5 0h0m0.5 0.5h0m-0.5 0h0m-0.5 1h0m0.5 60h0m-0.5 0h0m0 0h0m0.5 0h0m1-158h0m0 7h0m0 7.5h0m0 1.5h0m0 8h0m0 0h0m0.5 1.5h0m0 1h0m0 4h0m0 4h0m-0.5 2h0m0 2.5h0m0 0.5h0m-0.5 1.5h0m0 2.5h0m0 17h0m0.5 0.5h0m0 1h0m-0.5 2h0m1 0.5h0m0 3h0m0 1h0m-1 2.5h0m0.5 1h0m-0.5 5.5h0m0.5 3h0m-0.5 0.5h0m0.5 2.5h0m0.5 3h0m-0.5 71.5h0m-0.5 0h0m1-150h0m0 3h0m0.5 22.5h0m0 14h0m0 2h0m0 1h0m0 19.5h0m-0.5 2.5h0m1 7h0m0 4.5h0m-0.5 3h0m0.5 3h0m-0.5 6h0m0 1h0m0 61h0m0.5 0h0m-0.5 0h0m0.5-79h0m0.5 1h0m-0.5 12.5h0m1.5 65.5h0m0 0h0m0.5 0h0m0 0h0m1 0h0m-0.5 0h0m-0.5 0h0m0.5 0h0m0.5 0h0m0 0h0m-1 0.5h0m0.5 0h0m0 0h0m0.5-61h0m0.5 60.5h0m0.5 0h0m0 0h0m0 0.5h0m-0.5 0h0m0 0h0m-0.5 0h0m0 0h0m0.5 0h0m1-101h0m0 8h0m0.5 9h0m-0.5 6.5h0m0 3.5h0m0.5 9.5h0m-0.5 63.5h0m0 0.5h0m0 0h0m0 0h0m0 0h0m0 0.5h0m0 0h0m0 0h0m0 0h0m0.5 0h0m-0.5 0h0m1-111.5h0m0 10h0m-0.5 1.5h0m1 1.5h0m0 2h0m-1 4h0m0 5h0m0.5 5h0m0 1h0m0 3h0m0 3.5h0m0.5 4.5h0m-0.5 8h0m-0.5 1h0m0.5 61h0m-0.5 0h0m0.5 0h0m-0.5 0.5h0m0.5 0h0m0 0h0m0 0.5h0m0.5 0.5h0m1-112.5h0m-1 0h0m0 0h0m1 5h0m-0.5 1.5h0m0.5 5.5h0m-1 3.5h0m0.5 0.5h0m0 5.5h0m0 2.5h0m-0.5 7.5h0m0 0h0m0 4.5h0m0.5 11.5h0m-0.5 64h0m0 0h0m0 0.5h0m0.5 0h0m-0.5 0.5h0m0.5 0h0m0.5 0h0m-0.5 0.5h0m0 0h0m0 0h0m-0.5 0.5h0m1 0h0m1-118.5h0m0 1.5h0m-0.5 2.5h0m0 8h0m-0.5 6.5h0m0.5 0.5h0m0 30h0m0 1h0m-0.5 0.5h0m1 66.5h0m-1 0h0m0 0h0m0.5 0h0m0 0.5h0m0 0.5h0m0 0h0m-0.5 0.5h0m0.5 0h0m1-119h0m0 1.5h0m-0.5 2h0m0 9h0m0 15.5h0m0.5 2h0m0.5 87h0m0 0h0m0.5-96h0m0 6.5h0m0 4h0m0.5 28h0m0 57h0m-0.5 0.5h0m0 0h0m0 0h0m0.5 0.5h0m-0.5 0h0m0 0h0m0.5-100h0m0.5 1.5h0m-0.5 1.5h0m1 22h0m0 16.5h0m0 57.5h0m-1 0h0m1 0h0m0 0h0m-0.5 0.5h0m-0.5 0h0m0.5 0h0m0 0h0m0 0h0m-0.5 0h0m0.5 0.5h0m-0.5 0h0m1.5-156h0m0 1.5h0m0.5 9.5h0m-0.5 4h0m0.5 8.5h0m0 1h0m-0.5 8.5h0m0 7.5h0m0 9h0m0.5 6h0m-0.5 1h0m0 22.5h0m0 2.5h0m0.5 14h0m-1 0h0m0 59.5h0m0 0h0m0 0.5h0m0.5 0h0m1-158h0m-0.5 3h0m0 1h0m0.5 6h0m-0.5 24.5h0m1 24h0m-0.5 6h0m0.5 15h0m0 43.5h0m0-54h0m0.5 2.5h0m0 24.5h0m0 7.5h0m0 20.5h0m0 1.5h0m0.5 32h0m-0.5 0.5h0m1.5-316.5h0m-0.5 49h0m0 5.5h0m0 0.5h0m0.5 3h0m-0.5 20h0m0 29.5h0m0.5 21.5h0m0 33.5h0m0 36.5h0m-0.5 26.5h0m-0.5 2h0m0 10h0m1 5.5h0m-1 73h0m0 0.5h0m0.5 0h0m1-365h0m0 6h0m0 8h0m0 9h0m0 3h0m0 6h0m0 10h0m0.5 1h0m0 3.5h0m-0.5 3.5h0m0 4h0m0 3h0m0 7h0m-0.5 6h0m0.5 0h0m0 2.5h0m0 13.5h0m0 12.5h0m0.5 11h0m-1 14.5h0m0 8.5h0m0.5 14.5h0m-0.5 4h0m1 6.5h0m-0.5 21h0m0 11.5h0m0 0.5h0m0 1h0m0 2h0m-0.5 5.5h0m0.5 7h0m0 1h0m0 0.5h0m0 4.5h0m-0.5 2.5h0m0.5 3h0m-0.5 9.5h0m1 13h0m0 2.5h0m-0.5 1h0m0 1.5h0m0 62h0m0 25.5h0m1-299.5h0m0 28.5h0m-0.5 13.5h0m0.5 6h0m0.5 1.5h0m-1 37.5h0m0.5 13.5h0m0 0.5h0m0 33h0m-0.5 9.5h0m0.5 7.5h0m-0.5 1.5h0m0.5 2.5h0m0 10.5h0m0 5.5h0m0 5.5h0m-0.5 6h0m1 10h0m-0.5 4h0m-0.5 1.5h0m0.5 2h0m0.5 12.5h0m-1 2.5h0m1 3.5h0m-0.5 3h0m0.5 2h0m0 1.5h0m-0.5 3.5h0m0 1h0m-0.5 3.5h0m1 1h0m0 37.5h0m-1 3h0m1 57.5h0m-0.5 0h0m1-274h0m-0.5 9h0m0.5 7h0m-0.5 18h0m0.5 1.5h0m0 32.5h0m-0.5 14h0m0.5 32h0m0.5 6h0m-0.5 3h0m0.5 19h0m-0.5 5h0m0 14h0m0.5 5h0m-0.5 1h0m0 10h0m0 1h0m0 19h0m0 1h0m0 1h0m0 37.5h0m0.5 5h0m-0.5 0.5h0m0.5 32h0m-0.5 0h0m0.5 0h0m-0.5 0.5h0m0 0h0m0.5-180.5h0m0.5 15.5h0m-0.5 3h0m0.5 9.5h0m0 2h0m-0.5 27.5h0m0.5 25.5h0m-0.5 4.5h0m0 0.5h0m0 14.5h0m0 0h0m0 1.5h0m0.5 11h0m0 0.5h0m-0.5 29.5h0m1 2.5h0m-1 0h0m0 33h0m1 0h0m-0.5 0h0m0 0h0m0 0.5h0m0 0h0m0.5-100h0m0 7h0m0 25h0m1 67.5h0m-1 0.5h0m0 0h0m2-75.5h0m0 1.5h0m0 1.5h0m-0.5 14h0m0.5 58h0m-0.5 0h0m0 0h0m-0.5 0h0m0 0h0m0.5 0h0m0.5 0.5h0m-0.5 0h0m1-92h0m0.5 3h0m0 2.5h0m0 3h0m0 4h0m0 3h0m0 0h0m-0.5 5.5h0m0 1h0m0 6.5h0m0 1h0m0 5h0m0 1h0m-0.5 56h0m1 0h0m-1 0h0m0.5 0h0m-0.5 0.5h0m1-91h0m0.5 2h0m0 3.5h0m0 5h0m-0.5 2h0m0 5h0m0.5 0.5h0m0 12h0m-0.5 5h0m0.5 0h0m0.5 0h0m-1 1.5h0m0.5 1.5h0m0.5 2h0m-1 50.5h0m0 0h0m0.5 0h0m0.5 0h0m0 0h0m0-92.5h0m0.5 7h0m-0.5 1.5h0m0.5 5.5h0m-0.5 0.5h0m0 12.5h0m0 1.5h0m0 2h0m0 7.5h0m0.5 4h0m0 0.5h0m0 2h0m0 47.5h0m-0.5 0.5h0m0 0h0m1.5-48h0m0.5 48h0m-0.5 0h0m0 0h0m0 0h0m0 0h0m0 0.5h0m1-1h0m-0.5 0.5h0m0.5 0h0m0 0h0m0.5 0h0m-0.5 0h0m-0.5 0h0m0 0h0m0 0h0m0 0h0m0 0.5h0m0.5 0h0m0 0h0m0 0h0m0 0h0m-0.5 0h0m0.5 0h0m1-0.5h0m0 0h0m0.5 0h0m-1 0h0m0.5 0h0m0 0h0m0 0h0m0.5 0h0m-1 0.5h0m0.5 0h0m0 0h0m-0.5 0h0m0.5 0h0m-0.5 0h0m1.5-64h0m0.5 1.5h0m0 7h0m0 6.5h0m0 48h0m0 0h0m0 0.5h0m0 0h0m-0.5 0h0m0 0h0m0 0h0m0.5 0h0m0 0h0m-0.5 0h0m0 0h0m0 0.5h0m1-64h0m0 3h0m0 4.5h0m-0.5 2h0m0.5 1.5h0m0 2.5h0m0 2h0m0 47.5h0m0 0h0m-0.5 0.5h0m0 0h0m1-55.5h0m0 1.5h0m0 4h0m1 49h0m0 0h0m0 0h0m1-105h0m0 7.5h0m-0.5 1.5h0m0.5 1.5h0m0 17h0m0 76.5h0m-0.5 0h0m-0.5 0h0m0.5 0.5h0m0 0h0m0.5 0h0m-1 0.5h0m0 0h0m0.5 0h0m0 0h0m-0.5 0h0m1.5-104.5h0m-0.5 2h0m0.5 3.5h0m-0.5 6h0m1 5h0m-1 5.5h0m1 0.5h0m-0.5 3h0m-0.5 1.5h0m1 0.5h0m0 2h0m-0.5 3.5h0m0.5 0h0m-0.5 5.5h0m0 2h0m-0.5 0.5h0m1 3.5h0m-0.5 9.5h0m0.5 2h0m0 47.5h0m0.5-103.5h0m0 4h0m-0.5 1h0m1 4.5h0m-0.5 1h0m0 1h0m-0.5 3h0m0 0.5h0m1 0h0m-1 0.5h0m0.5 4.5h0m-0.5 0.5h0m0.5 3.5h0m0 2h0m-0.5 6h0m0.5 2h0m-0.5 4h0m0.5 1.5h0m0 1h0m0 5h0m-0.5 12h0m0.5 45.5h0m0.5 0h0m-0.5 1h0m0 0h0m1-73h0m0 8.5h0m-0.5 6h0m0.5 57.5h0m0.5 0.5h0m0 0h0m-0.5 0h0m0 0.5h0m0.5 0h0m-0.5 0h0m1-171h0m0 1.5h0m0 9.5h0m0.5 5.5h0m0 6h0m-0.5 25h0m0 18.5h0m0.5 6.5h0m0 97.5h0m-0.5 0h0m0 0.5h0m0.5 0h0m-1 0h0m0.5 0.5h0m0 0h0m-0.5 0h0m0.5 0h0m0 0h0m0.5-175h0m0 9h0m0.5 6.5h0m0 7h0m0.5 3h0m-0.5 17.5h0m0 7h0m-0.5 1.5h0m0 16.5h0m0 11h0m0 5h0m0 0.5h0m0.5 26.5h0m0 0.5h0m-0.5 5h0m0 9h0m0.5 48h0m0 0.5h0m0.5 0h0m-0.5 0h0m0.5 0h0m-1 0.5h0m0.5 0h0m-0.5 0h0m0 0h0m1-174h0m0.5 3.5h0m0.5 2.5h0m-0.5 4.5h0m0 5.5h0m0 2h0m0.5 1.5h0m-0.5 1h0m-0.5 9h0m1 12.5h0m-0.5 4.5h0m0 3h0m0 2.5h0m0 6.5h0m-0.5 3.5h0m0.5 0h0m0.5 3h0m-0.5 3h0m0 5.5h0m0.5 1.5h0m-0.5 0h0m0 0.5h0m-0.5 1h0m0.5 8h0m0.5 9.5h0m-1 3h0m1 0.5h0m-0.5 18h0m0 11h0m0 0.5h0m0.5 0h0m-1 1h0m0.5 45h0m0.5 0h0m-1 0.5h0m0.5 0h0m1-172h0m0 11.5h0m0 22h0m-0.5 13h0m0.5 7h0m-0.5 4h0m0.5 23.5h0m0 4.5h0m0.5 13h0m-1 3.5h0m0.5 23.5h0m0 46h0m-0.5 0h0m0 0h0m0 0.5h0m0.5 0h0m0.5 0h0m0 0h0m-0.5 0.5h0m0.5-74.5h0m0.5 73.5h0m0 0h0m-0.5 0.5h0m0 0h0m0 0.5h0m1 0h0m0 0h0m-0.5 0h0m0.5 0h0m-1 0h0m1.5-0.5h0m0 0h0m0.5 0.5h0m-0.5 0h0m0 0h0m0.5-97h0m0.5 10h0m-0.5 87h0m0.5 0h0m0.5 0h0m-0.5 0h0m1-107h0m0 9.5h0m0 2h0m0 4h0m0 91.5h0m0.5 0h0m-0.5 0.5h0m0 0.5h0m0.5-85.5h0m0.5 15.5h0m0.5 68.5h0m-0.5 0h0m-0.5 0.5h0m0.5 0h0m-0.5 0h0m1 0h0m-1 0.5h0m0 0h0m0.5 0h0m0 0h0m0.5 0h0m-0.5 0.5h0m1.5-110h0m-0.5 21.5h0m0 4.5h0m0 9h0m0.5 0.5h0m-1 72.5h0m1 0h0m0 0.5h0m-1 0.5h0m0.5 0.5h0m1-192.5h0m0 10h0m0.5 24h0m0 5.5h0m0 23h0m0 9.5h0m0 3h0m-0.5 7h0m0 4h0m0.5 0.5h0m-0.5 1.5h0m0.5 5h0m0 9h0m-0.5 2.5h0m0.5 14h0m0 72.5h0m-0.5 0h0m-0.5 0h0m1 0.5h0m-0.5 0h0m-0.5 0h0m0 0.5h0m0 0h0m1.5-190.5h0m0 2.5h0m0.5 18h0m0 6h0m-0.5 6.5h0m0.5 10h0m0 1.5h0m-0.5 6.5h0m0.5 5h0m-1 5.5h0m0.5 4h0m0.5 9.5h0m-0.5 1.5h0m0 3h0m-0.5 4.5h0m1 32.5h0m-0.5 0.5h0m0.5 0.5h0m-1 71h0m0.5 0.5h0m-0.5 0h0m0.5 1h0m0 0h0m1.5-189h0m-0.5 5h0m-0.5 20.5h0m0 1h0m0.5 6.5h0m-0.5 6h0m0.5 2h0m-0.5 21.5h0m0.5 3h0m0.5 23h0m-0.5 0h0m-0.5 1h0m0.5 1h0m0 26h0m0.5 4h0m0 66h0m0 0.5h0m0 0h0m-0.5 0h0m0 0h0m0 0h0m0 0h0m0 0.5h0m-0.5 0.5h0m1.5-121.5h0m0 2h0m0 10.5h0m0.5 16h0m0 0.5h0m-1 7h0m1 0.5h0m-0.5 1.5h0m0.5 4h0m-1 1.5h0m1 1.5h0m-1 7h0m0.5 68h0m0 0.5h0m0 0h0m1-213.5h0m0.5 12h0m-0.5 2h0m0.5 13h0m0 0h0m-0.5 15h0m0.5 11.5h0m0 1h0m-0.5 9.5h0m0.5 1.5h0m-0.5 27.5h0m0.5 12h0m-0.5 0.5h0m-0.5 17h0m0 1h0m0.5 4.5h0m0 4h0m0 7h0m0 74h0m1-214h0m0 3.5h0m0 4.5h0m-0.5 1.5h0m1 1.5h0m0 14.5h0m-0.5 5.5h0m0.5 14.5h0m-0.5 1h0m0.5 15h0m-1 10.5h0m0 3h0m0 0.5h0m1 0.5h0m-1 0.5h0m0 16.5h0m0.5 4h0m0.5 0h0m0 11h0m-0.5 7.5h0m-0.5 3h0m0.5 7h0m0 0.5h0m-0.5 6.5h0m0.5 2h0m0 13.5h0m0 66.5h0m1-226h0m0 7h0m0 7h0m0 3h0m0 7h0m0 1.5h0m-0.5 11h0m0.5 0.5h0m0 7h0m-0.5 1.5h0m0 4h0m0.5 5.5h0m0 26h0m-0.5 5h0m0.5 1h0m0 5h0m-0.5 5h0m0 12.5h0m0.5 8h0m0.5 3h0m0 2.5h0m0 8.5h0m0 6.5h0m0 6h0m-0.5 81.5h0m0 0h0m0 0.5h0m-0.5 0h0m0 0h0m1 1.5h0m0-191.5h0m0.5 9.5h0m0 3h0m0 19h0m0 20.5h0m0 44h0m0.5 13.5h0m-1 12h0m0 68.5h0m0 0h0m0.5 0.5h0m0 0.5h0m0.5 0h0m-0.5 0.5h0m0 0h0m0 0h0m0 0h0m0 0h0m1-82h0m0 1h0m0 0h0m0 7.5h0m0.5 3h0m-0.5 0.5h0m0.5 68.5h0m-1 0.5h0m0.5 0h0m-0.5 0h0m0 0h0m0 0h0m1 0h0m-0.5 0h0m0 0.5h0m0 0.5h0m1-76.5h0m0.5 75.5h0m0 0h0m-1 0h0m0 0h0m0 0h0m0.5 0.5h0m0 0h0m0 0h0m0 0h0m0.5 0h0m0.5-104h0m0.5 4.5h0m0 2.5h0m0 4.5h0m-0.5 4.5h0m0.5 16.5h0m-0.5 71.5h0m0.5-93.5h0m0 10.5h0m0.5 1h0m0.5 81h0m0 0.5h0m0 0h0m-0.5 0h0m1-106.5h0m0.5 4.5h0m-0.5 0.5h0m0 1h0m0 21.5h0m0.5 2h0m-0.5 6.5h0m0 70.5h0m0 0h0m0.5 0h0m-0.5 0h0m0 0.5h0m1.5-107.5h0m0 1.5h0m-0.5 3h0m0 0h0m0 13.5h0m-0.5 10.5h0m0 8.5h0m0.5 5h0m-0.5 1.5h0m0 63.5h0m0.5 0.5h0m-0.5 0h0m0 0.5h0m0.5 0h0m0 0h0m0 0h0m0 1h0m0.5 0.5h0m0 0h0m-0.5 0.5h0m1-109.5h0m0.5 9.5h0m-0.5 7h0m0 3h0m0 1h0m-0.5 2h0m0 3h0m0.5 0.5h0m-0.5 2h0m0.5 3.5h0m0.5 3h0m0 1.5h0m0 3h0m-0.5 6.5h0m-0.5 1h0m0 0.5h0m0 61.5h0m0 0.5h0m0.5 0h0m0 0.5h0m0 0h0m-0.5 0h0m0.5 0.5h0m0.5 0h0m-0.5 0h0m0.5 0.5h0m-0.5 0.5h0m1-102h0m-0.5 6.5h0m0.5 11.5h0m0 0.5h0m0 82.5h0m-0.5 0.5h0m0.5 1h0m0 0.5h0m0.5 0h0m0 0h0m1-1h0m-1 0h0m0.5 0.5h0m0.5 0h0m-0.5 0h0m-0.5 0.5h0m0.5 0h0m-0.5 0.5h0m0 0h0m1-64h0m1 61.5h0m-0.5 0.5h0m0 0h0m0.5 0h0m0 0.5h0m0 0h0m-0.5 0h0m-0.5 0.5h0m0.5 0h0m1-62.5h0m0 60.5h0m-0.5 0.5h0m0 0.5h0m0 0.5h0m0.5 0h0m-0.5 0h0m0 0h0m0 0h0m0 0h0m1.5-69h0m-0.5 2h0m0 65.5h0m0 0.5h0m0.5 0h0m-0.5 0h0m0 0h0m0 0h0m0.5 0.5h0m1.5-73h0m0 9.5h0m-0.5 0.5h0m0.5-21h0m0 6h0m0 1h0m0.5 1h0m0 1.5h0m0 73.5h0m1.5-64h0m-1 64h0m0.5 0h0m-0.5 0h0m1 0h0m0 0h0m-0.5 0h0m0 0h0m1-65h0m0 1h0m0.5 1h0m0 2.5h0m0 60.5h0m0 0h0m-1 0h0m0.5 0h0m0 0h0m0 0h0m0.5 0.5h0m0 0h0m-0.5 0h0m0 0h0m0.5 0h0m0-0.5h0m0.5 0h0m0 0h0m0 0.5h0m-0.5 0h0m0.5 0h0m0 0h0m0 0.5h0m1-61h0m0.5 60h0m-1 0h0m1 0h0m-1 0h0m0.5 0h0m0.5 0.5h0m0 0h0m-0.5 0h0m0 0h0m-0.5 0h0m0.5 0.5h0m-0.5 0h0m0 0h0m1.5-106h0m0 3.5h0m0.5 7h0m-0.5 14.5h0m0 0.5h0m0.5 0.5h0m-0.5 3.5h0m0 9h0m0 66.5h0m0 0h0m-0.5 0h0m0.5 0h0m0 0.5h0m-0.5 0h0m0.5 0h0m-0.5 0h0m0 0h0m1.5-130h0m0 2h0m0 5h0m-0.5 11h0m1 0.5h0m-1 1.5h0m0.5 6h0m-0.5 0.5h0m1 3h0m-1 4.5h0m0 1h0m0 6.5h0m0 2.5h0m0 5.5h0m0.5 9h0m0.5 6.5h0m0 4h0m-0.5 60.5h0m0 0h0m0.5 0.5h0m0 0h0m0-132h0m0.5 0.5h0m0 4h0m0 4.5h0m0.5 2h0m-0.5 3h0m-0.5 17.5h0m0.5 0.5h0m0.5 2.5h0m-0.5 2h0m-0.5 8h0m0.5 1.5h0m-0.5 2h0m0 6h0m0.5 5h0m0.5 7h0m-0.5 2.5h0m0.5 0h0m-0.5 63h0m0.5 0h0m-0.5 0h0m0 0.5h0m1-112h0m-0.5 6h0m0.5 0h0m0 5.5h0m0 1.5h0m0.5 1h0m-1 6h0m0.5 2.5h0m-0.5 1.5h0m0 5.5h0m1 81.5h0m0 0.5h0m-0.5 0h0m0 0h0m0 0h0m-0.5 0h0m1 0.5h0m0 0h0m0.5-135h0m0 17h0m0 26.5h0m0.5 18.5h0m0 5.5h0m-0.5 1h0m0 0h0m0 66h0m0 0h0m0 0h0m0 0h0m0 0.5h0m0 0h0m0.5-149h0m1 2.5h0m-0.5 1.5h0m0.5 2.5h0m-1 3h0m0.5 12h0m0.5 3.5h0m-0.5 1h0m0.5 3.5h0m-0.5 9h0m0 0.5h0m0 1.5h0m0.5 5h0m0 10h0m-0.5 21h0m-0.5 0h0m1 4h0m-0.5 68h0m0 0.5h0m0 0h0m0.5 0h0m-0.5 0h0m0.5 0h0m0.5-154h0m-0.5 0.5h0m0.5 12h0m0 7.5h0m0.5 4.5h0m-0.5 2.5h0m-0.5 3h0m0 4h0m0.5 0h0m0.5 5.5h0m-1 7.5h0m1 2.5h0m-0.5 0h0m0 5.5h0m-0.5 4.5h0m0 21.5h0m1 5.5h0m0 66.5h0m-0.5 0.5h0m0 0.5h0m0 0h0m0 0h0m0 0h0m0.5-149h0m0.5 11.5h0m0 10.5h0m-0.5 1.5h0m0.5 2h0m-0.5 12h0m0.5 3.5h0m0 6.5h0m0 3h0m0.5 11.5h0m-1 2.5h0m0 0.5h0m1 3h0m0 3.5h0m-0.5 1h0m0.5 1.5h0m-0.5 2.5h0m0.5 0.5h0m-0.5 71h0m-0.5 0h0m1 0.5h0m-0.5 0.5h0m-0.5 0h0m1 0h0m0 0.5h0m0 0h0m-0.5 0h0m1-93.5h0m0.5 93h0m-0.5 0h0m0 0h0m1.5-71.5h0m-0.5 71h0m-0.5 0h0m0.5 0.5h0m0 0h0m0 0h0m0 0h0m0.5 0h0m0 0h0m0 0.5h0m0 0h0m1-1h0m0 0.5h0m-0.5 0h0m0.5 0h0m-1 0h0m0 0.5h0m1-71h0m0.5 0.5h0m0 69.5h0m0.5 0h0m-1 0h0m0 0h0m0 0.5h0m0.5 0h0m0 0h0m0 0h0m0.5 0h0m-0.5 0h0m0.5 0h0m-0.5 0h0m0.5 0h0m0 0.5h0m0 0h0m0 0h0m1-1h0m-0.5 0h0m0 0h0m0 0h0m0.5 0h0m-0.5 0h0m-0.5 0.5h0m1 0h0m-0.5 0h0m0.5 0h0m-1 0.5h0m2-70h0m-0.5 69h0m0 0h0m-0.5 0h0m0 0h0m0.5 0.5h0m0 0h0m1.5-110.5h0m0 0.5h0m0 15.5h0m-0.5 0.5h0m0 3h0m0.5 18.5h0m-0.5 2h0m0.5 2.5h0m-0.5 67.5h0m0 0h0m0.5 0h0m-0.5 0h0m0 0h0m1.5-113.5h0m-0.5 6h0m0.5 4h0m0 2.5h0m-1 8h0m1 2.5h0m-0.5 7.5h0m0 5h0m0 3h0m0 4h0m0 3h0m0 1.5h0m0.5 4h0m-1 62.5h0m0.5 0h0m-0.5 0h0m0.5 0.5h0m0.5 0h0m-0.5 0.5h0m0 0h0m1-113.5h0m0 4.5h0m0 5.5h0m-0.5 7h0m0.5 3h0m-0.5 0.5h0m1 1h0m-0.5 4h0m0 2.5h0m0 1.5h0m0 2.5h0m0 1h0m0 4h0m-0.5 0.5h0m1 4h0m-0.5 3.5h0m0 1h0m0.5 0.5h0m-1 5h0m0.5 4h0m-0.5 57.5h0m0.5 0.5h0m-0.5 0h0m1.5-92h0m-0.5 13.5h0m0.5 5h0m0 7.5h0m0 2h0m-0.5 1h0m0.5 0.5h0m0.5 4.5h0m0.5 58.5h0m0 0h0m1-1.5h0m0 0.5h0m0 0h0m-0.5 0.5h0m0.5 0h0m-0.5 0h0m0 0.5h0m0 0h0m0 0h0m0.5 0h0m-0.5 0h0m1.5-1.5h0m0 0h0m0.5 0h0m-0.5 0h0m0 0h0m-0.5 0.5h0m1 0h0m1-80h0m-0.5 4.5h0m0 12h0m0 5h0m0 58h0m-0.5 0h0m0.5 0h0m0 0h0m-0.5 0h0m1 1h0m0 0h0m0 0h0m-0.5 0h0m0.5-83h0m0.5 4h0m-0.5 6.5h0m0.5 9.5h0m0.5 0.5h0m-0.5 3.5h0m-0.5 58h0m0.5 0.5h0m0 0h0m0 0h0m0 0h0m0 0.5h0m0.5 0h0m0 0h0m-0.5 0h0m2-112h0m0.5 2h0m-0.5 2h0m0.5 1.5h0m0 16h0m0 3h0m-0.5 2h0m0 22.5h0m0 63h0m0.5 0.5h0m-0.5 0h0m0 0h0m1-109.5h0m0 10.5h0m0 2.5h0m0.5 9h0m-1 14h0m0.5 9.5h0m0 63.5h0m0 0.5h0m-0.5 0h0m0 0h0m0 0h0m0 0h0m0.5 0h0m1-117h0m0.5 7.5h0m0 2h0m-0.5 2h0m0 0.5h0m-0.5 1.5h0m0.5 0.5h0m0.5 1h0m-0.5 0.5h0m0.5 0.5h0m0 2.5h0m-0.5 1h0m0.5 0.5h0m-0.5 5h0m0 3h0m-0.5 15h0m0 5h0m0.5 0h0m0 0h0m0 3.5h0m1-27.5h0m0 4h0m0 15.5h0m0.5 73h0m0.5-159h0m0.5 6.5h0m0 8h0m-0.5 4.5h0m0.5 22h0m0 54h0m-0.5 2h0m0.5 0.5h0m-1 1.5h0m0.5 60h0m0 0.5h0m1-181.5h0m0 4.5h0m0.5 3.5h0m0 2h0m-0.5 12.5h0m0.5 1h0m-1 9h0m0 4.5h0m0 7.5h0m1 1h0m-0.5 2h0m0.5 38.5h0m0 0h0m-0.5 21h0m0 6.5h0m-0.5 4.5h0m0.5 3h0m0 0h0m0.5 60h0m0 0h0m0-176.5h0m0 0h0m0.5 6h0m-0.5 20h0m0.5 3h0m0 3.5h0m0.5 10h0m-0.5 8.5h0m0 5.5h0m0 1h0m0 16.5h0m0 2h0m0 2h0m-0.5 3h0m0.5 6.5h0m-0.5 4h0m1 14h0m-0.5 0h0m-0.5 71h0m0.5 0h0m0 0.5h0m0 0h0m0.5 0.5h0m-0.5 0h0m1-152h0m-0.5 3.5h0m0 1.5h0m0 40.5h0m0.5 1.5h0m-0.5 7h0m1 12h0m-0.5 14h0m-0.5 11.5h0m0 60h0m0.5 0h0m0 0h0m-0.5 0h0m0.5 0.5h0m-0.5 0h0m1 0h0m-0.5 0h0m0 0.5h0m1-66h0m0.5 4.5h0m0 59.5h0m-0.5 0h0m0 0h0m0.5 0h0m-0.5 0.5h0m0 0h0m0 0.5h0m-0.5 0.5h0m0.5 0h0m0 0h0m-0.5 0h0m0 0.5h0m1.5-64.5h0m0 2h0m0 60h0m0.5 0.5h0m0 0h0m-0.5 0h0m0 0h0m-0.5 0h0m0.5 0h0m0.5 0.5h0m-0.5 0h0m0.5 0h0m1-85h0m-0.5 84h0m0 0h0m-0.5 0h0m1 0h0m0 0.5h0m-1 0h0m1 0h0m-0.5 0h0m0 0.5h0m-0.5 0h0m2-104.5h0m0 1h0m-0.5 15.5h0m0 0.5h0m0.5 2h0m-0.5 7h0m-0.5 77.5h0m0.5 0h0m-0.5 0.5h0m0 0h0m0.5 0h0m-0.5 0h0m0 0h0m1.5-94.5h0m0 1.5h0m-0.5 6.5h0m0 4.5h0m0 3h0m2-16.5h0m0 6h0m-0.5 5h0m0 7h0m0.5 75.5h0m0 0.5h0m0 0h0m0 0.5h0m-0.5 0h0m0 0h0m0.5-96h0m0 2h0m0.5 30h0m0 3h0m0 0.5h0m0.5 60h0m-0.5 0h0m0 0h0m1-96h0m0.5 6h0m0 25.5h0m-0.5 64.5h0m-0.5 0h0m0.5 0h0m1.5-169.5h0m0 36.5h0m0 4.5h0m0 6h0m0 0h0m-0.5 19.5h0m0 3.5h0m0 0.5h0m0 8h0m-0.5 3h0m0 11h0m0 17h0m1 60h0m0 0h0m-0.5 0h0m0 0.5h0m0.5 0h0m0.5-173.5h0m0 6.5h0m0.5 4.5h0m-0.5 1.5h0m0 6.5h0m-0.5 6h0m1 1h0m0 3h0m-1 0h0m0 3.5h0m0.5 2.5h0m0.5 4.5h0m-0.5 6.5h0m-0.5 2h0m1 10.5h0m-1 2h0m0.5 4h0m0 7h0m0 5.5h0m-0.5 4h0m0.5 9.5h0m0 3.5h0m0.5 5.5h0m0 3h0m0 4.5h0m0 9h0m-0.5 2h0m-0.5 1.5h0m1 53.5h0m-1 0h0m1 0h0m-0.5 0.5h0m0.5-163.5h0m0 1.5h0m0 32.5h0m1 2h0m-1 1.5h0m0 0.5h0m0 2h0m0.5 12.5h0m0 0.5h0m-0.5 1h0m1 3h0m-1 15h0m0 6h0m1 10.5h0m0 0h0m0 2.5h0m0 0.5h0m-0.5 0.5h0m0 4h0m0 2h0m0 1h0m0 5h0m0 1.5h0m-0.5 0h0m1 5.5h0m-0.5 52.5h0m0 0.5h0m-0.5 0h0m1-141h0m0.5 3h0m-0.5 12h0m0.5 16h0m0 11.5h0m-0.5 16h0m0 13h0m1 8h0m-0.5 1h0m-0.5 1.5h0m0 58h0m1 1h0m-0.5 0h0m0.5 0h0m0 0h0m0-51.5h0m1 51h0m-0.5 0.5h0m-0.5 0h0m0.5 0h0m-0.5 0h0m1 0h0m-0.5 0h0m0 0h0m0.5 0h0m-0.5 0h0m0 0h0m0 0h0m0 0h0m1-1h0m0 0h0m0 0h0m-0.5 0.5h0m0 0h0m0.5 0h0m0 0h0m0 0.5h0m0.5 0h0m0 0h0m0 0h0m-0.5 0h0m0 0h0m0 0h0m1-103.5h0m0 14.5h0m0.5 8h0m-0.5 5h0m0.5 5.5h0m-1 7.5h0m0 0h0m0.5 6h0m0 5.5h0m0 0h0m0.5 50.5h0m-0.5 0h0m0.5 0h0m0 0h0m-0.5 0.5h0m0 0h0m-0.5 0.5h0m2-112h0m-0.5 15.5h0m-0.5 7h0m0.5 3h0m-0.5 6h0m0 0.5h0m0.5 4.5h0m-0.5 0.5h0m0 4h0m0.5 0.5h0m0 12.5h0m0 4.5h0m0 1h0m0 51.5h0m0.5 0h0m-0.5 0.5h0m0.5 0h0m0 0h0m0-115h0m0 13.5h0m0.5 0.5h0m0.5 0.5h0m-0.5 1h0m-0.5 5h0m0.5 2h0m0.5 1h0m0 0h0m-0.5 13h0m-0.5 11.5h0m0.5 1.5h0m0 1h0m0 1h0m0 0.5h0m0 10h0m-0.5 52.5h0m1 0h0m-0.5 0.5h0m0 0h0m0 0h0m0 0h0m0.5-110.5h0m0.5 7h0m0 5.5h0m-0.5 7h0m0 4h0m0.5 1.5h0m-0.5 16h0m0.5 2.5h0m0.5 67.5h0m0 0h0m0 0h0m0 0.5h0m-0.5 0h0m0 0h0m0 0h0m0.5 0h0m-0.5 0h0m1.5-230.5h0m-0.5 27.5h0m0.5 9h0m-0.5 13h0m0 13.5h0m0.5 17.5h0m0 15.5h0m0 6.5h0m-0.5 0.5h0m0 28.5h0m0 39h0m0 0.5h0m-0.5 59h0m0.5 0.5h0m0 0h0m0 0h0m-0.5 0h0m0.5 0h0m1-264.5h0m0 30.5h0m0 18.5h0m0 9h0m0 14.5h0m0.5 1h0m-0.5 2h0m0.5 5.5h0m0 7h0m-1 3h0m0 1.5h0m0.5 0.5h0m0.5 0.5h0m-0.5 1.5h0m0 0.5h0m0.5 6.5h0m-0.5 15h0m0 11.5h0m0.5 1.5h0m-0.5 1h0m0 1h0m0.5 5h0m-1 4.5h0m1 25h0m0 5.5h0m-0.5 8h0m0 1h0m-0.5 4h0m0.5 17.5h0m0 0.5h0m0 4h0m0 0.5h0m0 0.5h0m0 3.5h0m0.5 52h0m-1 1h0m0.5 0h0m0 0h0m1-288h0m0 10h0m0 15h0m0 12h0m0.5 5.5h0m-0.5 0h0m0 3.5h0m0.5 2.5h0m-0.5 2h0m0 0.5h0m0 1h0m0 8.5h0m0 4.5h0m0 5.5h0m0 9.5h0m-0.5 4.5h0m0.5 3h0m0 7.5h0m0 15h0m0 15h0m0 2.5h0m0 10h0m0 8h0m0.5 38h0m-1 3h0m0.5 3h0m-0.5 5h0m1 3h0m-0.5 1h0m0 8.5h0m-0.5 0.5h0m0.5 4h0m-0.5 6h0m1 1.5h0m-0.5 4h0m-0.5 5.5h0m0.5 1h0m0 5h0m0 0.5h0m-0.5 2h0m1 50h0m0 0h0m-1 0.5h0m1.5-261.5h0m0 2.5h0m0 41.5h0m-0.5 29.5h0m0 4h0m0.5 41h0m0 33.5h0m-0.5 8h0m0 1.5h0m0 3h0m0 1.5h0m0 4h0m0.5 11.5h0m0 5.5h0m-0.5 4h0m0.5 3h0m-0.5 8h0m0 1h0m0 1h0m0.5 8h0m0 1.5h0m0.5 46h0m-0.5 0.5h0m-0.5 0h0m0 0h0m0.5 0.5h0m0 0h0m0 0h0m0 0.5h0m0.5-67.5h0m0.5 10h0m0 0.5h0m0 0h0m0 9.5h0m0 46h0m-0.5 0h0m0.5 0.5h0m0 0h0m-0.5 0.5h0m0.5 0h0m0 0h0m1.5-0.5h0m0 0h0m0 0h0m0 0h0m0 0h0m0.5 0h0m-0.5 0h0m0.5 0h0m0 0h0m0 0.5h0m0.5 0.5h0m-0.5 0h0m0.5 0h0m0.5-0.5h0m-0.5 0.5h0m1 0h0m-1 0h0m0.5 0.5h0m-0.5 0h0m1 0h0m0 0.5h0m0 0.5h0m0.5-55h0m0.5 1h0m0 1h0m-0.5 4h0m0 47.5h0m0 0.5h0m0 0.5h0m0 0h0m0 0h0m0 0.5h0m-0.5 0h0m0.5 0h0m0 0h0m-0.5 0h0m0.5 0h0m0 0.5h0m0 0h0m0 0h0m0 0h0m0 0.5h0m0 0h0m0.5 0h0m0 0.5h0m0-54.5h0m0 1.5h0m0 51.5h0m1 0h0m-0.5 0.5h0m0 0h0m0 0h0m0 0.5h0m0.5 0h0m-0.5 0h0m0.5 0h0m-0.5 0h0m0 0.5h0m0 0h0m0 0h0m1-67.5h0m0 5.5h0m0.5 2h0m-0.5 1h0m0.5 57.5h0m-0.5 0.5h0m-0.5 0.5h0m0.5 0h0m0 0.5h0m-0.5 0h0m2-101h0m-0.5 1.5h0m0.5 11h0m-0.5 1.5h0m0 4.5h0m0 7.5h0m0.5 3h0m0 2.5h0m-1 1h0m0.5 10.5h0m0.5 56h0m-0.5 0.5h0m-0.5 0h0m0.5 0h0m0.5 0h0m-0.5 0h0m0.5 0.5h0m-0.5 0h0m-0.5 0h0m0.5 0h0m0 0h0m1-107.5h0m0.5 1h0m-0.5 1h0m0 9.5h0m-0.5 0.5h0m0.5 6h0m-0.5 0.5h0m0.5 3.5h0m-0.5 10h0m0.5 5.5h0m-0.5 1.5h0m1 67h0m-0.5 0h0m-0.5 1h0m0 0h0m1-125h0m0 2.5h0m0 1h0m0.5 0.5h0m0.5 6.5h0m-0.5 1.5h0m0 10h0m0 12h0m0 1.5h0m-0.5 4h0m1 7h0m-1 1.5h0m0.5 0.5h0m-0.5 1.5h0m0 4.5h0m0.5 5.5h0m0 2h0m-0.5 62h0m0.5 0h0m0 0h0m-0.5 0h0m1-121h0m1 1.5h0m-0.5 9h0m0 7.5h0m0.5 2h0m-0.5 2.5h0m0 5h0m0 0.5h0m0.5 1h0m-0.5 2h0m0 1h0m-0.5 0.5h0m0.5 5.5h0m-0.5 5.5h0m0 1h0m1.5-41.5h0m-0.5 8h0m0 8h0m0.5 9h0m-0.5 2h0m0 1h0m1 11.5h0m0 0h0m-0.5 2.5h0m0.5 75.5h0m0 0.5h0m0 0h0m0 0h0m-0.5 0h0m0 0h0m1-80h0m-0.5 80h0m0 0h0m0 0h0m0.5 0h0m-0.5 0h0m1.5-0.5h0m-0.5 0.5h0m1 0h0m0 0h0m-0.5 0h0m1.5-136h0m-0.5 18.5h0m0.5 11.5h0m0 7h0m-0.5 0h0m0.5 7.5h0m0 8h0m-0.5 8h0m-0.5 75.5h0m1 0h0m-0.5 0h0m-0.5 0h0m0.5 0h0m-0.5 0h0m0.5 0.5h0m0.5 0h0m0.5-141.5h0m0 5.5h0m-0.5 4h0m0 3h0m1 1.5h0m-0.5 2h0m-0.5 1.5h0m0.5 4.5h0m0.5 5.5h0m0 6h0m-0.5 3h0m0 0.5h0m0.5 6.5h0m-0.5 0.5h0m0.5 2.5h0m-0.5 0.5h0m0 4h0m0 0h0m-0.5 0.5h0m0.5 6h0m-0.5 3.5h0m0.5 80h0m0 0.5h0m-0.5 0h0m2-254h0m0 16h0m0 65.5h0m0 3.5h0m-0.5 13h0m-0.5 16.5h0m0 0.5h0m0 4h0m1 1h0m-0.5 7.5h0m-0.5 11.5h0m0.5 10.5h0m0.5 0.5h0m-1 1.5h0m0.5 14.5h0m-0.5 6.5h0m0.5 6h0m0 15h0m0.5 1h0m-0.5 1h0m0 58h0m0.5 0h0m-0.5 0h0m-0.5 0h0m0.5 0h0m0 0.5h0m0 0h0m-0.5 0h0m1.5-272h0m0 9h0m-0.5 11h0m0.5 4h0m0 2h0m-0.5 4h0m0.5 3.5h0m0 5.5h0m0.5 2.5h0m-0.5 3h0m-0.5 3h0m0.5 3h0m0 0h0m0 3.5h0m0 15h0m0 20.5h0m0 8.5h0m0.5 2.5h0m-0.5 9.5h0m0 1.5h0m0 7.5h0m-0.5 4h0m0 1.5h0m0.5 1.5h0m0 1h0m-0.5 15.5h0m1 3h0m-1 5h0m0.5 0.5h0m0.5 6.5h0m0 1.5h0m-0.5 1.5h0m0.5 0h0m-0.5 10.5h0m0 14h0m0 10.5h0m0.5 13.5h0m0 5h0m-1 57.5h0m1 0h0m0-248.5h0m0 20h0m0 7.5h0m0 1.5h0m0.5 18h0m-0.5 1h0m0 31h0m0.5 5h0m0.5 16h0m-0.5 0.5h0m0 34h0m0.5 3.5h0m0 14h0m-1 15.5h0m0.5 0h0m-0.5 5.5h0m0 75.5h0m0.5 0h0m-0.5 0.5h0m1 0h0m-0.5 0.5h0m0.5-262.5h0m0.5 17.5h0m0 8h0m-0.5 5h0m0.5 14h0m-0.5 1.5h0m0 1.5h0m0 8h0m0 10.5h0m0 3.5h0m0 12.5h0m0.5 18.5h0m0 3.5h0m-0.5 1.5h0m0.5 9.5h0m0 40.5h0m0.5 13h0m-0.5 0.5h0m0 11h0m0 0h0m0.5 19.5h0m0 61.5h0m-0.5 0h0m0.5 0h0m-0.5 0.5h0m0.5 0h0m-0.5 0.5h0m0 0.5h0m-0.5 0h0m1.5-107.5h0m-0.5 2.5h0m0 2.5h0m0.5 25.5h0m-0.5 14h0m1 4h0m0 0.5h0m-0.5 57.5h0m0.5 0h0m-0.5 0h0m-0.5 0h0m2-80.5h0m-0.5 3.5h0m0.5 76h0m-0.5 0.5h0m0 0h0m0.5 0h0m-1 0h0m0.5 0.5h0m-0.5 0h0m1.5-92.5h0m-0.5 0h0m0 14h0m1 77.5h0m-0.5 0h0m0 0h0m-0.5 0h0m0.5 0.5h0m-0.5 0.5h0m1.5-135.5h0m0 2h0m0.5 2h0m-0.5 4h0m0 9.5h0m0 5.5h0m0 7h0m0 7h0m0.5 8.5h0m0 66h0m-0.5 23h0m0.5 0h0m-0.5 0h0m0 0h0m-0.5 0h0m0.5 0h0m0 0h0m0 0.5h0m0 0h0m0.5-169h0m0.5 5h0m0 17h0m-0.5 4h0m0 19h0m0.5 9.5h0m-0.5 4h0m0.5 3h0m0.5 11h0m0 1.5h0m-0.5 75h0m0 19.5h0m0 0h0m-0.5 0h0m0 0.5h0m0 0h0m1 0.5h0m0 0h0m0 0.5h0m0 0h0m0.5-89.5h0m0.5 4h0m0 0.5h0m-0.5 58.5h0m0 1.5h0m-0.5 2.5h0m0 21.5h0m0.5 0.5h0m0 0h0m1.5-330.5h0m0 5h0m0 31.5h0m0 3.5h0m-0.5 13.5h0m0.5 45.5h0m-0.5 1h0m0.5 12h0m0 26.5h0m-0.5 3h0m0 4h0m0 11h0m0 3.5h0m0 17h0m0.5 4h0m0 21.5h0m-0.5 5h0m0.5 8.5h0m-0.5 14h0m0 17.5h0m-0.5 0.5h0m1 1h0m0 55.5h0m-0.5 0.5h0m-0.5 6.5h0m0.5 0h0m0 18h0m0.5 0h0m-1 0.5h0m1 0h0m0 0h0m-0.5 0.5h0m0 0.5h0m-0.5 0h0m0.5 0h0m1.5-336.5h0m-1 1.5h0m0.5 15h0m-0.5 6.5h0m1 21h0m-0.5 4.5h0m0 13.5h0m0.5 3h0m-1 0h0m1 14.5h0m-0.5 24.5h0m0.5 15.5h0m-0.5 1h0m0.5 14.5h0m-0.5 5.5h0m0 2.5h0m-0.5 14h0m0 1.5h0m0.5 3h0m-0.5 2h0m0.5 2h0m0 6.5h0m-0.5 4.5h0m1 7h0m-0.5 12h0m0.5 0.5h0m-0.5 13.5h0m0 8h0m0.5 6.5h0m0 5.5h0m0 6h0m-0.5 0.5h0m0 6h0m0 68h0m0 25h0m-0.5 0.5h0m1.5-368h0m0 6h0m0 8h0m0.5 4h0m-0.5 3h0m0 13h0m0.5 0.5h0m-0.5 1.5h0m0 3.5h0m0 6.5h0m0 12h0m0 6.5h0m0 11.5h0m0 15h0m0 15h0m0.5 6.5h0m-0.5 3.5h0m0 5h0m0 5h0m0 10h0m0 1h0m0 9.5h0m-0.5 7h0m0.5 34.5h0m0 8h0m0 10h0m-0.5 9h0m0.5 14h0m0.5 4h0m0 1h0m-0.5 10.5h0m0.5 3h0m-0.5 20.5h0m-0.5 8.5h0m0 10h0m0 81h0m0 0.5h0m0 0h0m1-326h0m0 18h0m0.5 10h0m0 21h0m-0.5 22.5h0m0.5 28.5h0m-0.5 1h0m0.5 32h0m0 27h0m0 14h0m0 3h0m-0.5 19h0m0.5 2h0m-0.5 5h0m0.5 11h0m0 9h0m-0.5 1h0m0 10.5h0m1 3.5h0m-1 1h0m0.5 62h0m-0.5 1h0m0.5 0.5h0m0 3.5h0m-0.5 0.5h0m1 0h0m-0.5 19h0m0.5 0h0m-0.5 0h0m1-111h0m-0.5 3h0m1 5h0m-1 6h0m0 77h0m1 0.5h0m-0.5 1h0m0.5 18.5h0m-0.5 0h0m-0.5 0h0m1 0h0m-1 0h0m0.5 0h0m-0.5 0h0m0 0h0m1 0.5h0m0 0h0m0-98.5h0m0 11h0m0 0h0m0.5 5h0m-0.5 60h0m0 2.5h0m0.5 19.5h0m-0.5 0h0m0 0.5h0m0.5 0h0m0 0.5h0m0 0h0m0.5 0.5h0m-0.5 0h0m0 0h0m1.5-193h0m-0.5 32.5h0m0.5 8.5h0m-0.5 2.5h0m0 9h0m0 6h0m0.5 9.5h0m0 7h0m0 2.5h0m0 9.5h0m0 4h0m-0.5 101h0m0 0.5h0m-0.5 0.5h0m0 0h0m0.5 0.5h0m0 0h0m1.5-190.5h0m-0.5 13.5h0m0 7.5h0m0 0.5h0m0 2h0m0 0.5h0m0 4.5h0m0 2h0m0 3h0m-0.5 3.5h0m0.5 1.5h0m0 1.5h0m0 0h0m0 3h0m-0.5 10h0m0 21h0m0.5 5.5h0m0 14.5h0m0.5 1h0m-0.5 5h0m-0.5 89.5h0m0 1h0m1 0.5h0m0.5-195h0m0.5 3.5h0m-0.5 7h0m0 0h0m0.5 5h0m0 3.5h0m-0.5 5h0m-0.5 9h0m0.5 7.5h0m-0.5 8.5h0m0.5 1.5h0m0.5 7.5h0m-1 8.5h0m0 1.5h0m0 6.5h0m0 2.5h0m1 2h0m-1 5.5h0m0 3.5h0m0 2.5h0m1 3.5h0m-1 6h0m1 1h0m0 4h0m-1 5.5h0m0.5 0h0m0 83.5h0m-0.5 0.5h0m0 0h0m0 0.5h0m1.5-187h0m-0.5 24h0m0 29h0m0.5 2.5h0m0 7.5h0m0 3h0m-0.5 20.5h0m0.5 0.5h0m0.5 8h0m-1 5h0m0.5 1.5h0m0.5 7h0m0.5-14.5h0m-0.5 4.5h0m0 5h0m0.5 2.5h0m0.5 1h0m-0.5 5.5h0m-0.5 73.5h0m0.5 0h0m0 0.5h0m-0.5 0h0m1 0h0m-0.5 0h0m0 0h0m0 0h0m0 0h0m1-97.5h0m0 97h0m-0.5 0.5h0m0 0h0m0.5 0h0m0 0h0m0 0h0m1-1h0m0.5 0h0m-0.5 0.5h0m-0.5 0h0m0.5 0.5h0m0.5 0h0m0 0h0m-0.5 0h0m0.5 0h0m-1 0h0m0.5 0h0m0 0h0m1.5-96.5h0m-0.5 95.5h0m0 0h0m0.5 0h0m-1 0.5h0m0 0h0m0 0h0m0 0.5h0m1.5-130.5h0m0.5 5h0m0 2.5h0m0 12h0m0 9.5h0m-1 14h0m0.5 3.5h0m-0.5 6h0m1 2.5h0m-0.5 0.5h0m0 1h0m-0.5 73h0m0 0h0m0 0h0m0 0h0m1 0.5h0m0 0h0m0-165h0m0.5 15.5h0m-0.5 15h0m0 3h0m1 4.5h0m-0.5 6h0m0 9h0m-0.5 1.5h0m0.5 5.5h0m0 0.5h0m0 3h0m0 2.5h0m0 0.5h0m0 1h0m0.5 6h0m-1 2.5h0m0 89h0m0.5 0h0m1-136.5h0m-0.5 0.5h0m0 14.5h0m0 1h0m1 6.5h0m-0.5 22h0m0 0h0m0.5 11.5h0m-1 2h0m0.5 78h0m0.5 0.5h0m0 0h0m0.5-166h0m-0.5 10h0m0 0.5h0m0 10.5h0m0 2h0m0.5 25h0m0 2h0m-0.5 0.5h0m0.5 2.5h0m-0.5 19.5h0m0.5 18.5h0m0.5 0h0m-0.5 13.5h0m0.5 61h0m-1 0h0m0.5 0.5h0m-0.5 0h0m2-141h0m-0.5 26.5h0m0 4.5h0m0 32h0m0 19.5h0m0 58h0m-0.5 0h0m0 0h0m0.5 0.5h0m0.5 0.5h0m0 0h0m0 0h0m0 0.5h0m-0.5 0h0m1-158.5h0m0.5 6.5h0m-0.5 1h0m0 0h0m0 2h0m0.5 1h0m-0.5 6.5h0m0 6.5h0m0 0.5h0m-0.5 8h0m1 3.5h0m0 1h0m-0.5 17h0m0.5 26h0m-0.5 5.5h0m0 8.5h0m0 5h0m0 0h0m0 59h0m-0.5 0.5h0m0.5 0.5h0m0 0h0m-0.5 0h0m0.5 0h0m1-148h0m0 17h0m0.5 8h0m-0.5 17h0m-0.5 3.5h0m1 43h0m-0.5 0h0m0 1h0m0 57.5h0m0 0.5h0m0 0h0m-0.5 0.5h0m0.5 0h0m0.5 0h0m-0.5 0.5h0m0 0h0m0 0h0m0.5-153h0m0 10.5h0m0 1h0m0.5 7h0m0 4.5h0m0 2.5h0m0 0h0m0.5 0h0m-0.5 11.5h0m-0.5 5.5h0m0 5h0m0.5 5h0m-0.5 26.5h0m0.5 73h0m0 0h0m0 0h0m0.5 0h0m-0.5 0h0m-0.5 0.5h0m1 0h0m-1 0.5h0m0 0h0m1-116.5h0m0.5 22.5h0m0 1h0m0.5 1.5h0m-0.5 0.5h0m0 13h0m0 1h0m0 12.5h0m-0.5 5h0m0 58.5h0m0 0.5h0m1 0h0m0 0.5h0m0-94.5h0m0.5 5.5h0m0 0.5h0m-0.5 24h0m0.5 5.5h0m0 58h0m0.5 0h0m0 0.5h0m-1 0h0m0 0h0m0.5 0.5h0m-0.5 0h0m0.5 0h0m1-189.5h0m0 17.5h0m0 12h0m0 2.5h0m0 0.5h0m0.5 7.5h0m0 2h0m-0.5 0h0m0 5.5h0m0.5 15.5h0m0 3h0m-0.5 5h0m0 2h0m0.5 3.5h0m-0.5 7.5h0m0.5 42.5h0m-0.5 61.5h0m0 0h0m0.5 0h0m0 0h0m-0.5 0.5h0m0 0h0m1-185h0m0 9h0m0.5 2.5h0m-0.5 6.5h0m0 2h0m0 2h0m0 2h0m-0.5 21h0m1 2h0m-0.5 9.5h0m0.5 3h0m0 5h0m-1 2h0m1 0.5h0m-0.5 14.5h0m-0.5 2h0m0 7h0m0.5 6.5h0m0.5 1h0m-1 28h0m0.5 58h0m0 0.5h0m0.5-164h0m0.5 7h0m0 0h0m0.5 1.5h0m-0.5 2.5h0m0 3h0m0 0.5h0m0 10.5h0m0 1h0m0.5 7.5h0m-0.5 11.5h0m0 7.5h0m0 0h0m-0.5 3.5h0m0.5 3h0m0.5 18.5h0m-0.5 86h0m0 0.5h0m0 0h0m0 0.5h0m0 0h0m0.5 0h0m-0.5 0h0m1-167.5h0m-0.5 0.5h0m0.5 38.5h0m0.5 127.5h0m-0.5 0h0m0 0h0m0 0h0m0 0h0m0.5 0h0m-0.5 1h0m1.5-105h0m-0.5 3.5h0m0.5 4.5h0m-0.5 2h0m0 8h0m0.5 30.5h0m-1 55.5h0m0 0h0m1 0h0m0 0h0m0 0h0m-0.5 1h0m1.5-105.5h0m-1 1.5h0m0.5 6.5h0m0.5 3h0m0 24.5h0m-0.5 14h0m-0.5 2h0m0.5 53h0m0 0h0m0.5 0h0m-1 0h0m0 0.5h0m0 0h0m0 0h0m1-106h0m0.5 16h0m-0.5 5.5h0m1 6.5h0m-0.5 3h0m0 2h0m0 5.5h0m0 0.5h0m0 66h0m0.5 0.5h0m-0.5 0h0m-0.5 0h0m0 0h0m1 0h0m0 0h0m0 0h0m0-105h0m0 9.5h0m0 4.5h0m0.5 9.5h0m-0.5 3h0m0.5 1h0m-0.5 2h0m0.5 11h0m0 4h0m0.5 8h0m-1 0.5h0m0.5 0.5h0m0.5 51.5h0m-0.5 0h0m-0.5 0h0m0.5 0h0m0 0h0m0 0h0m0 0h0m0.5 0.5h0m-0.5 0h0m0 0h0m0.5-83.5h0m0 0h0m0.5 2h0m0 5.5h0m-0.5 6.5h0m0.5 5h0m-0.5 4h0m0 1.5h0m0.5 8.5h0m0 0h0m-0.5 50.5h0m1 0h0m-1 0h0m1 0h0m-1 0h0m0.5 0h0m0.5 0.5h0m-0.5 0h0m0.5 0h0m-0.5 0h0m1-51h0m-0.5 2.5h0m0.5 2h0m-0.5 2h0m0 0.5h0m1 0.5h0m-0.5 0.5h0m0 42h0m-0.5 0h0m0 1h0m0 0h0m0 0h0m0.5 0h0m0.5-50.5h0m0.5 1.5h0m0.5 48h0m0 0.5h0m-0.5 0h0m0 0h0m1-1h0m0 0.5h0m0 0h0m0 0h0m0 0h0m0.5 0h0m-0.5 0h0m0.5 0h0m-0.5 0.5h0m0 0h0m0 0h0m0 0h0m1.5-0.5h0m-0.5 0h0m0 0h0m0.5 0h0m-0.5 0h0m0 0h0m-0.5 0h0m0.5 0h0m0.5 0h0m-0.5 0h0m0 0.5h0m0 0h0m0.5 0h0m-0.5 0h0m0 0h0m0 0h0m1-54h0m0.5 5h0m-0.5 1h0m0.5 5h0m-0.5 42.5h0m-0.5 0h0m0 0.5h0m1 0h0m-0.5 0h0m0.5 0h0m0 0h0m-0.5 0h0m0 0.5h0m1-101h0m0.5 16.5h0m-0.5 1.5h0m0 5h0m0.5 2h0m0 2h0m0 0h0m0 0.5h0m-0.5 9h0m0.5 2h0m-0.5 2h0m0 5.5h0m-0.5 2.5h0m0 1h0m0 0.5h0m0.5 1.5h0m0.5 2.5h0m-1 1h0m0 3h0m0.5 42.5h0m0 0.5h0m0 0.5h0m0.5 0.5h0m-0.5 0h0m0 0h0m0 0h0m1-110h0m0.5 0.5h0m-0.5 0h0m0.5 6h0m-0.5 21.5h0m0.5 3.5h0m-1 10h0m1 2.5h0m-0.5 1.5h0m0 0.5h0m0 0.5h0m0 4h0m-0.5 2h0m0 57h0m0.5 0h0m0 0h0m0 0h0m0.5 0.5h0m0.5-113.5h0m0 8.5h0m-0.5 4.5h0m0 8.5h0m1 0.5h0m-1 5h0m1 2h0m0 1h0m-1 3.5h0m0.5 1.5h0m-0.5 1.5h0m0 0.5h0m0 2.5h0m1 6h0m0 1h0m-0.5 13h0m0 53h0m0 0.5h0m0 0h0m0 0h0m0.5 0h0m-0.5 0h0m-0.5 0h0m1 0.5h0m-1 0h0m1-99h0m0 14h0m0 3.5h0m0.5 2h0m0 0.5h0m-0.5 1.5h0m0.5 4h0m-0.5 4.5h0m0 0h0m0.5 0.5h0m-0.5 2h0m0.5 0.5h0m-0.5 1.5h0m0 3.5h0m0.5 5h0m0 55h0m0 0h0m-0.5 1h0m2-61h0m0 13h0m-0.5 2.5h0m0.5 44h0m-0.5 0.5h0m-0.5 0h0m0.5 0h0m-0.5 0h0m0.5 0h0m1-60h0m0 10.5h0m0 0h0m-0.5 5h0m1 0h0m0 0.5h0m-0.5 1.5h0m0 42h0m-0.5 0h0m1-43h0m0 43.5h0m0.5 0h0m-0.5 0h0m0.5 0h0m-0.5 0h0m1 0h0m-0.5 0h0m0.5 0h0m-0.5 0h0m0 0.5h0m0 0h0m0 0h0m1 0h0m0.5 0h0m-0.5 0h0m0 0h0m0 0h0m-0.5 0h0m0 0h0m0 0h0m1.5-0.5h0m0.5 0h0m-0.5 0.5h0m0 0h0m0 0h0m0 0.5h0m0.5 0h0m0 0h0m1-1.5h0m-0.5 0.5h0m0 0h0m-0.5 0h0m0 0.5h0m0 0h0m0.5 0h0m0 0h0m0 0.5h0m1-86h0m0.5 8h0m0 8.5h0m-0.5 7.5h0m0.5 8h0m-0.5 1.5h0m0 1.5h0m0 2h0m0 0.5h0m0.5 5h0m-0.5 41.5h0m0 0h0m0 0h0m0 0h0m0.5 0h0m0 0.5h0m0 0h0m-1 0h0m0.5 0h0m-0.5 0h0m0.5 0h0m0.5 0h0m0 0h0m-1 0h0m1.5-84.5h0m-0.5 0.5h0m0.5 8h0m0.5 0h0m-1 3h0m0.5 1.5h0m0.5 1h0m-0.5 2h0m0 5h0m0.5 0.5h0m-0.5 1h0m0.5 3h0m0 4h0m-1 2.5h0m0.5 9.5h0m0.5 42h0m0 0.5h0m0 0h0m-1 0h0m0.5 0h0m0 0.5h0m1-80.5h0m0 0.5h0m0 2h0m-0.5 2.5h0m0 6h0m0 6h0m0.5 2h0m0 0h0m0.5 2h0m0 0h0m-1 1.5h0m0.5 0.5h0m0 2.5h0m-0.5 4h0m0 0.5h0m1 0h0m0 5.5h0m-1 44.5h0m0 0h0m1-81.5h0m0 8h0m0 3.5h0m0 2h0m0.5 9.5h0m0 0h0m1.5 58.5h0m0 0h0m0 0h0m-0.5 0h0m1-47h0m0 0h0m0.5 46.5h0m-1 0.5h0m0 0h0m0 0h0m0.5 0h0m1.5-48h0m-0.5 48h0m1-81.5h0m0.5 3h0m0 1h0m-0.5 3.5h0m0 0h0m0 1h0m0.5 11h0m0 4.5h0m0 4.5h0m0 1.5h0m0 52.5h0m0 0h0m-0.5 0.5h0m0.5 0h0m-0.5 0h0m1.5-179h0m-0.5 11h0m0.5 10h0m-0.5 4h0m0 0.5h0m0 16h0m0.5 1h0m-0.5 22h0m0 5.5h0m0.5 5h0m-0.5 11.5h0m0 4h0m-0.5 2h0m1 6h0m-0.5 0h0m0 1h0m0 2.5h0m0 10h0m-0.5 2h0m1 1h0m-1 0.5h0m0 0.5h0m0.5 3.5h0m-0.5 2h0m0 0h0m0.5 0.5h0m0 5h0m0 1h0m-0.5 50.5h0m0 0.5h0m0 0h0m0 0h0m0.5 0.5h0m0 0h0m0 0.5h0m0.5 0h0m-0.5 0h0m1.5-210h0m-0.5 7.5h0m0 7.5h0m-0.5 0h0m0.5 1.5h0m0 9.5h0m-0.5 5h0m0.5 1h0m0 13h0m-0.5 3h0m1 5h0m-0.5 2.5h0m0 1h0m0.5 1.5h0m-0.5 7h0m0 1.5h0m0 1.5h0m0.5 2.5h0m0 7.5h0m-0.5 13h0m-0.5 7.5h0m1 14h0m-0.5 1.5h0m-0.5 8.5h0m0 15.5h0m0 14.5h0m0 1.5h0m0 2.5h0m0 53h0m1 0.5h0m-0.5 0h0m0 0h0m0 0.5h0m0 0h0m0.5-213h0m1 2h0m-0.5 6.5h0m0.5 6h0m-0.5 9h0m0 1h0m0 8.5h0m0 5h0m0 5.5h0m-0.5 19.5h0m0.5 14h0m0.5 6h0m0 3.5h0m-1 16h0m1 5h0m0 1h0m-0.5 4.5h0m-0.5 28.5h0m0.5 71.5h0m0 0h0m-0.5 0h0m1.5-186h0m-0.5 6h0m0.5 15h0m0 7h0m0 5h0m0 16h0m0 1h0m0 2h0m0 4h0m-0.5 0.5h0m1 0h0m-0.5 0.5h0m-0.5 6.5h0m0.5 15.5h0m-0.5 0.5h0m1 10.5h0m-0.5 95.5h0m0.5 0h0m-0.5 0.5h0m0.5 0.5h0m0-146h0m0 19.5h0m0 8h0m0.5 5.5h0m0 20.5h0m0 1.5h0m0 21h0m0 68h0m0.5 0h0m0 0.5h0m-1 0.5h0m0.5 0.5h0m-0.5 0h0m0.5 0.5h0m1.5-111.5h0m-0.5 16.5h0m0.5 1h0m-0.5 13h0m0 1h0m0 1.5h0m0 6.5h0m0 5.5h0m0.5 64h0m-0.5 0h0m0 0h0m0 0.5h0m0 0h0m-0.5 0h0m0 0.5h0m0 0h0m1-133.5h0m0 0.5h0m0.5 10.5h0m0.5 4h0m-1 1h0m1 11h0m0 10.5h0m-1 19.5h0m0.5 10.5h0m0 64.5h0m0 0h0m-0.5 0.5h0m0 0h0m0 0h0m0.5 0.5h0m0.5-118h0m0.5 12.5h0m0 0.5h0m0 22.5h0m0 2.5h0m0.5 5.5h0m-1 10h0m0.5 63.5h0m0.5 0.5h0m-0.5 0h0m1-197h0m0.5 43.5h0m-0.5 19h0m0 1.5h0m0.5 21h0m-1 6.5h0m0.5 9.5h0m0 31.5h0m0.5 0.5h0m-1 0h0m1 63.5h0m-1 0.5h0m1 0h0m0 0h0m0.5-235h0m0 9h0m-0.5 13h0m0.5 7h0m0 0.5h0m0 0.5h0m0 10.5h0m0.5 5.5h0m-1 34h0m0.5 0h0m-0.5 3h0m0.5 1.5h0m0 0.5h0m0 0.5h0m0 9.5h0m-0.5 17.5h0m0 19.5h0m0.5 11.5h0m0 18.5h0m0 5h0m0 2.5h0m0 65h0m0 0.5h0m0 0h0m0 0h0m0 0.5h0m0 0h0m0.5-213.5h0m0.5 9h0m0.5 13h0m-1 4h0m1 9h0m-1 23h0m0.5 6.5h0m0.5 15.5h0m-1 0.5h0m1 6.5h0m-1 1.5h0m0.5 16.5h0m0 33.5h0m-0.5 74.5h0m0.5 0.5h0m0 0h0m0 0.5h0m0 0h0m0 0h0m0.5 0h0m-0.5 0h0m0.5-220.5h0m0.5 14h0m-0.5 47h0m0 1.5h0m0.5 26h0m0.5 5.5h0m0 0h0m-1 18.5h0m0.5 4.5h0m0.5 0h0m0 6.5h0m-0.5 13h0m0 0.5h0m0 0.5h0m0.5 83h0m0 0.5h0m0 0h0m1-131h0m0 16.5h0m-0.5 20h0m0 0h0m0 11.5h0m0 3h0m0.5 1.5h0m-0.5 20.5h0m0 1h0m0.5 0h0m0 1h0m-0.5 8.5h0m-0.5 46.5h0m0 0.5h0m0.5 0h0m-0.5 0h0m0 0.5h0m1 0h0m-0.5 0.5h0m0.5 0h0m1-138.5h0m-1 6h0m0.5 18h0m0 0.5h0m0 13.5h0m-0.5 7h0m0 17h0m0.5 1.5h0m0 0.5h0m-0.5 16.5h0m1 11h0m-1 46h0m1 0h0m-1 0h0m0 0h0m1 0h0m0 0h0m-0.5 0h0m0 0.5h0m-0.5 0h0m2-223h0m-0.5 0h0m0 21h0m0.5 4.5h0m0 21.5h0m0 26.5h0m-0.5 4.5h0m-0.5 4h0m0.5 2.5h0m0 2h0m0.5 24.5h0m0 7h0m-1 1h0m1 3h0m-1 1h0m0.5 2.5h0m-0.5 0.5h0m0.5 44.5h0m0 2h0m0 49.5h0m-0.5 0h0m0.5 0.5h0m1-236.5h0m0 7.5h0m0 7h0m0 1.5h0m0 14.5h0m0 5h0m-0.5 3h0m0.5 0.5h0m0 4h0m-0.5 15h0m0.5 4h0m0 3.5h0m-0.5 4h0m0 7.5h0m1 0h0m-0.5 5h0m0 13h0m0 12.5h0m-0.5 23.5h0m0 8h0m0.5 7h0m-0.5 13.5h0m1 19.5h0m-1 5h0m0.5 8.5h0m0.5 43h0m1-243h0m-0.5 12.5h0m-0.5 5h0m0.5 10.5h0m-0.5 5h0m1 3.5h0m0 2.5h0m-0.5 7.5h0m-0.5 1h0m0.5 3h0m0 5h0m0 9.5h0m-0.5 0.5h0m1 34h0m-0.5 12h0m-0.5 6.5h0m0.5 1h0m0.5 19.5h0m-0.5 3.5h0m0 25.5h0m0.5 27h0m-0.5 4.5h0m0.5 1h0m-0.5 42h0m0.5 0h0m0 0.5h0m-0.5 0h0m0 0h0m-0.5 0.5h0m0.5 0h0m-0.5 0h0m0.5 0h0m0 0.5h0m-0.5 0h0m0.5 0h0m0.5-245h0m0 1h0m0 10h0m0 11h0m0.5 2h0m0 22h0m0 4h0m-0.5 50.5h0m0.5 14h0m0 58.5h0m0 1.5h0m0 15h0m0.5 10h0m0 44h0m-1 0.5h0m0 0h0m0.5 0h0m1-109h0m0.5 9h0m-0.5 7h0m0 22.5h0m-0.5 16.5h0m1 9h0m-0.5 0.5h0m0 44h0m-0.5 0h0m1 0.5h0m0 0h0m1-125.5h0m0 9h0m-1 10h0m0.5 14h0m-0.5 2h0m0.5 0.5h0m-0.5 13.5h0m0.5 1h0m0 4h0m-0.5 5.5h0m0.5 4.5h0m-0.5 61h0m0.5 0h0m0 0h0m-0.5 0h0m0.5 0.5h0m-0.5 0h0m0 0h0m0.5 1h0m0.5 0h0m-0.5 0h0m1-258.5h0m0.5 6.5h0m0 20h0m-0.5 1.5h0m0 16h0m0 66h0m0 31.5h0m0 8h0m-0.5 2.5h0m0.5 4.5h0m0 1h0m0 1h0m0.5 2.5h0m-0.5 2.5h0m0.5 20h0m-0.5 74.5h0m0 0h0m0 0.5h0m0.5 0.5h0m0 0h0m-0.5 0h0m1-293.5h0m0 7h0m0.5 13h0m-0.5 4h0m0 3h0m0.5 7h0m-0.5 2h0m0 3h0m0 2.5h0m0 12.5h0m0.5 1.5h0m-0.5 1h0m0.5 1h0m-1 1h0m0 5.5h0m0.5 2h0m0 15.5h0m0 8h0m0 37h0m0.5 4.5h0m-0.5 0h0m-0.5 5.5h0m0.5 6.5h0m-0.5 13.5h0m1 7.5h0m0 3h0m-0.5 26h0m0 1.5h0m-0.5 8h0m0 90.5h0m0.5 0.5h0m-0.5 0h0m0 0h0m0.5 0.5h0m0.5 0h0m1-249h0m-0.5 13.5h0m0 1h0m0.5 7.5h0m0 6.5h0m-0.5 2.5h0m0 1h0m0 7h0m0 1h0m0 2h0m0 6.5h0m-0.5 1.5h0m1 2.5h0m0 8.5h0m0 12.5h0m-0.5 18.5h0m0 5.5h0m-0.5 18h0m0.5 1h0m-0.5 0.5h0m0.5 5h0m0 12h0m0.5 14h0m-1 0.5h0m0 2h0m1 30.5h0m-1 67h0m0 0.5h0m1-235h0m0 16h0m0.5 8h0m-0.5 14.5h0m0 2.5h0m0 16.5h0m0 51.5h0m0.5 2h0m-0.5 4.5h0m0.5 5.5h0m-0.5 3h0m0.5 1h0m0 11h0m-0.5 2h0m1 7h0m-0.5 22h0m0 0h0m0.5 2.5h0m-1 0.5h0m0 64h0m0.5 0.5h0m0.5 0h0m0-92h0m0.5 3h0m0 0h0m-0.5 3h0m0.5 55h0m0 3.5h0m0 26.5h0m0 0.5h0m-0.5 0h0m0.5 0h0m-0.5 0h0m0 0.5h0m0.5 0h0m-0.5 0h0m2-114.5h0m0 2.5h0m0 8h0m0 71.5h0m-0.5 0h0m-0.5 6h0m1 25h0m-0.5 0h0m0.5 0h0m-1 0h0m1 0.5h0m-0.5 0h0m0 0h0m-0.5 0.5h0m0.5 0h0m-0.5 0h0m2-222.5h0m-0.5 35.5h0m0 5.5h0m0 44.5h0m0.5 2.5h0m0 0.5h0m-1 19h0m0 24h0m0 6.5h0m0.5 53.5h0m0 4h0m0 0.5h0m0 25.5h0m-0.5 0h0m1 0h0m-0.5 0.5h0m0.5 0h0m0 0h0m-0.5 0.5h0m0.5-215h0m1 5h0m0 6h0m0 0.5h0m-0.5 2h0m0 9.5h0m0 16h0m0.5 0.5h0m-1 16h0m0.5 11.5h0m0 2h0m0 2.5h0m-0.5 7h0m0.5 3h0m0 5h0m0 1.5h0m0 0.5h0m-0.5 3h0m0 7.5h0m0.5 21.5h0m0 0h0m0 2h0m0 0h0m-0.5 8h0m0.5 0h0m0 11h0m-0.5 42h0m0.5 0h0m-0.5 30h0m0.5 0.5h0m0 0h0m-0.5 0h0m1 0h0m-0.5 0.5h0m0 0h0m0.5 0h0m-1 0h0m1.5-225.5h0m0 7h0m0 12.5h0m-0.5 9h0m0 2h0m0.5 3h0m0.5 19h0m0 16.5h0m-0.5 2.5h0m-0.5 3h0m0.5 9h0m0.5 3h0m0 6h0m-1 4.5h0m0.5 0h0m-0.5 9h0m0.5 1h0m0 7.5h0m0 8.5h0m0.5 4h0m-0.5 25h0m0 0.5h0m-0.5 1.5h0m0 45h0m0.5 0.5h0m0 25.5h0m0.5 0h0m0 0h0m-0.5 0.5h0m0.5-197h0m0 10h0m0 4h0m0.5 19h0m-0.5 20.5h0m0 6.5h0m0.5 28h0m0 14h0m-0.5 1.5h0m0 4.5h0m0 0h0m0.5 4.5h0m0 4h0m0.5 1h0m-0.5 49h0m0 2.5h0m0 27.5h0m0 0.5h0m0.5 0.5h0m1-206h0m0 0.5h0m-0.5 18.5h0m0 6h0m0.5 14h0m0 0.5h0m0 1h0m0 1h0m0 19.5h0m0 18h0m0 0.5h0m0 3h0m-0.5 17.5h0m0 7h0m-0.5 4.5h0m1 25.5h0m0 0.5h0m0 67h0m-0.5 0h0m-0.5 0.5h0m0 0h0m0 0.5h0m0.5 0h0m0 0h0m0 0h0m0 0.5h0m-0.5 0h0m0.5 0h0m1.5-198.5h0m0 1h0m-1 6.5h0m0.5 10h0m0 4.5h0m-0.5 0.5h0m0.5 11h0m-0.5 6h0m0.5 8h0m0 7.5h0m0.5 12h0m0 3h0m-0.5 5.5h0m0.5 7.5h0m-0.5 7h0m-0.5 4.5h0m0 6h0m1 6h0m-1 23.5h0m0.5 7.5h0m-0.5 59h0m1.5-191.5h0m-0.5 19.5h0m1 3h0m0 8h0m-0.5 3h0m0.5 1.5h0m-1 11h0m0.5 4h0m0 1h0m0.5 6.5h0m0 1.5h0m0 5.5h0m-1 1.5h0m1 1.5h0m-1 5h0m0.5 0.5h0m-0.5 1.5h0m0.5 2h0m0.5 2.5h0m0 5.5h0m-1 0.5h0m0.5 8h0m0.5 0.5h0m0 9h0m0 10h0m-0.5 9.5h0m0 9.5h0m0 3.5h0m0 56.5h0m-0.5 0h0m1 0.5h0m0.5-162h0m0 24.5h0m0 24.5h0m0 14h0m-0.5 17h0m0.5 21h0m0 60h0m0 0.5h0m-0.5 0h0m0.5 0.5h0m1.5-122h0m0 60.5h0m0 5.5h0m0 55h0m0 0h0m-0.5 1h0m-0.5 0h0m0.5 0h0m1-130.5h0m0 18.5h0m-0.5 0.5h0m1 6h0m-0.5 0h0m0 1h0m0 3h0m0.5 9.5h0m-1 1h0m0.5 1.5h0m-0.5 3h0m0.5 4.5h0m0 25h0m-0.5 56.5h0m1 0h0m-0.5 0h0m0 0h0m0 0.5h0m0.5 0h0m-0.5 0.5h0m0.5-125h0m0.5 0h0m0.5 15.5h0m-0.5 11.5h0m-0.5 3.5h0m1 0.5h0m-0.5 2h0m0 3.5h0m0 4.5h0m0.5 1h0m0 3h0m0 1.5h0m0 0.5h0m-1 16.5h0m0.5 3h0m-0.5 58h0m0 0h0m1 0h0m-0.5 0h0m0.5 0h0m0 0h0m-1 0h0m0 0h0m0.5 0.5h0m0 0h0m-0.5 0h0m1-118.5h0m0 0.5h0m0.5 6h0m-0.5 2.5h0m0 12.5h0m0.5 18.5h0m0.5 4h0m-0.5 13.5h0m-0.5 1h0m0 3h0m1 0h0m-1 0.5h0m0.5 0.5h0m-0.5 55.5h0m0.5 0h0m0 0h0m0.5 0.5h0m-0.5 0.5h0m0 0h0m1-85.5h0m-0.5 3h0m0 4h0m0.5 1.5h0m-0.5 1h0m0.5 13.5h0m0 62.5h0m0 0h0m0 0h0m0 0h0m-0.5 0h0m0.5 0h0m0 0.5h0m0 0h0m0 0.5h0m0.5 0.5h0m0-2h0m1 1h0m-1 0h0m1 0.5h0m-1 0h0m0 0.5h0m0.5 0h0m0 0h0m-0.5 0h0m0.5 0h0m0.5 0.5h0m-0.5 0h0m0 0h0m0.5 0h0m-0.5 0.5h0m1.5-75h0m0 1.5h0m-0.5 3h0m0 0.5h0m0 2.5h0m0.5 8h0m0 11h0m-0.5 23h0m-0.5 24.5h0m1 1h0m-1 0h0m0 0h0m0 0h0m0.5 0h0m0.5 0h0m-0.5 0.5h0m0.5 0h0m0-73.5h0m0 0h0m0 2h0m0 2.5h0m0 3h0m1 5h0m0 0.5h0m-0.5 5h0m0 1.5h0m-0.5 0.5h0m0.5 1h0m0 3.5h0m0.5 0.5h0m0 0.5h0m-0.5 2h0m0 1h0m0 5.5h0m0.5 0.5h0m-0.5 1h0m0 3h0m0.5 1.5h0m-1 0.5h0m0.5 0.5h0m0 0h0m-0.5 0.5h0m1 2h0m-0.5 2h0m0.5 1h0m0 1.5h0m-0.5 0.5h0m0.5 3h0m0 2.5h0m0 2.5h0m-0.5 6h0m0 10.5h0m0 0.5h0m-0.5 0h0m1 1h0m0 0h0m-0.5 0h0m0.5 0.5h0m0.5-62.5h0m-0.5 3.5h0m0 5h0m0.5 8h0m0 2.5h0m0 2h0m0 0.5h0m-0.5 0.5h0m0.5 3h0m-0.5 2.5h0m0.5 8.5h0m0 2h0m-0.5 2h0m0 0.5h0m0.5 1.5h0m-0.5 1.5h0m0.5 2.5h0m0.5 0h0m-0.5 0.5h0m0.5 1.5h0m0 0.5h0m0 1h0m-0.5 0h0m0 1h0m0 0h0m0 0.5h0m-0.5 0.5h0m0.5 1h0m0 1h0m0.5 8h0m-1 0.5h0m0.5 0h0m0.5 0h0m-0.5 0h0m0 1h0m0.5 0.5h0m-0.5 0h0m0 0h0m0.5 0.5h0m0 0h0m0 0h0m-0.5 0h0m0.5 0.5h0m0 0h0m0 0h0m0 0h0m0-26.5h0m0 0h0m0 3h0m0 2.5h0m0 2h0m0 1.5h0m0 1h0m0 0.5h0m0 3.5h0m0.5 0.5h0m-0.5 0h0m0.5 2.5h0m-0.5 8.5h0m0 0h0m0 0.5h0m0.5 0h0m0 0h0m0 0h0m0.5 0h0m0 0h0m-0.5 0.5h0m0 0h0m0 0h0m0.5 0h0m-1 0h0m0.5 0h0m0 0h0m0.5 0.5h0m0 0h0m-0.5 0h0m0 0.5h0m0 0h0m0 0h0m0.5 0h0m-0.5 0h0m0 0h0m0 0h0m1-1h0m0 0h0m0 0h0m0.5 0h0m-0.5 0h0m0 0h0m0.5 0h0m-0.5 0h0m0 0.5h0m0.5 0h0m-0.5 0h0m0 0h0m-0.5 0h0m0.5 0h0m0 0h0m-0.5 0.5h0m0 0h0m0.5 0h0m-0.5 0h0m0 0h0m2-9h0m-0.5 0h0m0.5 0.5h0m-0.5 0h0m-0.5 8h0m0 0h0m1 0h0m0 0h0m0 0.5h0m-0.5 0.5h0m0 0h0m0.5 0h0m-0.5 0h0m0.5 0h0m0.5-9.5h0m0 0.5h0m0.5 6.5h0m0 0.5h0m0 0h0m-0.5 0h0m0 0.5h0m0.5 0h0m-0.5 0h0m0.5 0h0m-0.5 0h0m0 0h0m0.5 0h0m-0.5 0h0m-0.5 0h0m0 0.5h0m0.5 0h0m-0.5 0h0m0.5 0h0m0 0h0m0 0.5h0m-0.5 0h0m0 0h0m0.5 0h0m-0.5 0h0m0 0.5h0m0 0h0m0 0h0m0.5 0h0m-0.5 0h0m0 0h0m0 0h0m0.5 0h0m-0.5 0h0m0.5 0h0m1.5-3h0m0 0h0m-0.5 0h0m0 0h0m0 0h0m0 0h0m0 0.5h0m0 0h0m0 0h0m0.5 0h0m-0.5 0h0m0 0h0m0 0h0m-0.5 0h0m0.5 0h0m0 0h0m0 0.5h0m0 0h0m0 0h0m-0.5 0h0m0.5 0h0m-0.5 0h0m0.5 0.5h0m-0.5 0h0m0.5 0h0m-0.5 0h0m0.5 0h0m0 0h0m0 0h0m-0.5 0h0m0 0h0m0 0h0m1.5-7.5h0m0.5 0.5h0m0 5h0m0 0h0m0 0h0m-0.5 0h0m0 0h0m0 0h0m0 0h0m0.5 0.5h0m-0.5 0h0m0 0h0m0.5 0h0m0 0h0m0 0h0m-0.5 0h0m0 0h0m0 0h0m0.5 0h0m-0.5 0h0m0.5 0h0m-0.5 0h0m0.5 0h0m-1 0h0m0 0h0m0 0h0m0 0h0m0 0h0m0.5 0h0m-0.5 0h0m0 0h0m0 0.5h0m0 0h0m0 0h0m0.5 0h0m-0.5 0h0m0.5 0h0m0 0h0m1-7.5h0m0.5 0.5h0m-0.5 0h0m0 0.5h0m0 0h0m0 0h0m0 0.5h0m-0.5 0h0m0.5 5h0m0 0h0m0 0h0m0 0h0m-0.5 0h0m0.5 0h0m0 0h0m0 0h0m-0.5 0h0m1 0.5h0m0 0h0m-0.5 0h0m0 0h0m0 0h0m0 0h0m0.5 0h0m-0.5 0h0m0.5 0h0m-0.5 0h0m0 0h0m0 0h0m0 0h0m0 0h0m0.5 0h0m0 0h0m-0.5 0h0m0.5-7.5h0m0.5 1h0m0 6h0m-0.5 0h0m0 0h0m0 0h0m0.5 0h0m-0.5 0.5h0m0.5 0h0m-0.5 0h0m0.5 0h0m-0.5 0h0m1.5-0.5h0m0.5 0.5h0m-0.5 0h0m0 0h0m0 0h0m0.5 0h0m-0.5 0h0m0.5 0h0m-0.5 0h0m0.5 0h0m-0.5 0.5h0m0.5 0h0m0 0h0m-0.5 0h0m0 0h0m0.5-1h0m0 0.5h0m0.5 0h0m-0.5 0h0m0 0.5h0m0.5 0h0m-0.5 0h0m0.5 0h0m0 0h0m0 0h0m0 0h0m0 0h0m0 0h0m0.5 0.5h0m-0.5 0h0m0 0h0m0 0h0m0 0h0m0 0.5h0m0.5 0h0m-0.5 0h0m0 0h0m0.5 0h0m-0.5 0h0m0 0h0m0 0h0m0.5 0h0m1-7.5h0m-0.5 1.5h0m-0.5 5.5h0m0 0h0m0.5 0h0m0.5 0.5h0m0 0h0m0 0h0m0 0h0m-0.5 0h0m-0.5 0h0m0 0h0m0.5 0h0m0 0h0m0 0h0m0 0h0m0 0h0m0.5 0h0m-0.5 0h0m0 0h0m0.5 0h0m-0.5 0h0m0.5-6.5h0m0.5 0h0m0 0h0m0 1h0m0 0.5h0m0 0h0m0.5 0h0m-0.5 0h0m0 0h0m0.5 0h0m0 0.5h0m-0.5 4.5h0m-0.5 0h0m0.5 0h0m-0.5 0h0m0 0h0m0 0h0m0.5 0h0m-0.5 0h0m0.5 0h0m0 0h0m0 0h0m0 0h0m0.5 0h0m0 0.5h0m0 0h0m-0.5 0h0m0.5 0h0m-0.5 0h0m0.5 0h0m0 0h0m-0.5 0h0m0 0h0m1-5.5h0m-0.5 1h0m0 0h0m0 4h0m0 0h0m0.5 0h0m0 0.5h0m-0.5 0h0m1 0h0m-0.5 0h0m0 0h0m-0.5 0h0m0 0h0m0.5 0h0m0 0h0m0 0h0m-0.5 0h0m0 0h0m0 0h0m0.5 0h0m-0.5 0h0m0.5 0h0m0.5 0h0m0 0.5h0m0 0h0m-0.5 0h0m0.5 0h0m-0.5 0.5h0m0.5 0h0m0 0h0m-0.5 0h0m0 0h0m0.5 0h0m-0.5 0h0m0.5 0h0m1-1h0m0 0h0m-0.5 0h0m0 0h0m0.5 0h0m-1 0h0m1 0h0m-0.5 0h0m0 0.5h0m0 0h0m0 0h0m0 0h0m0 0h0m-0.5 0h0m0.5 0h0m0 0h0m-0.5 0h0m1 0h0m-1 0h0m0.5 0h0m0 0h0m0 0h0m0 0h0m0 0h0m0 0h0m-0.5 0.5h0m0 0h0m0.5 0h0m-0.5 0h0m0.5 0h0m0 0h0m-0.5 0h0m0 0h0m0 0h0m1.5-5.5h0m0.5 0h0m0 4h0m0 0h0m-0.5 0h0m0.5 0h0m0 0h0m0 0h0m-0.5 0h0m-0.5 0h0m0 0h0m0 0h0m1 0.5h0m-0.5 0h0m0 0h0m0.5 0h0m-0.5 0h0m0.5 0h0m-0.5 0h0m0.5 0h0m-0.5 0h0m-0.5 0h0m1 0h0m-1 0h0m1 0h0m-0.5 0h0m0.5 0h0m0 0h0m-0.5 0h0m0 0h0m-0.5 0h0m0 0h0m0 0h0m0 0.5h0m0 0h0m0 0h0m0 0h0m0 0h0m0 0h0m0 0h0m0.5 0h0m-0.5 0h0m0.5 0h0m-0.5 0h0m0 0h0m0 0h0m0.5 0h0m1-6h0m0 0.5h0m0.5 0.5h0m-1 0h0m1 0h0m-0.5 0h0m-0.5 0h0m1 3.5h0m0 0h0m-1 0.5h0m0 0h0m0 0h0m0.5 0h0m0 0h0m0 0h0m-0.5 0.5h0m0.5 0h0m0 0h0m0.5 0h0m-0.5 0h0m0 0h0m-0.5 0h0m0 0h0m0 0h0m1 0h0m-0.5 0h0m0 0h0m0.5 0h0m0 0h0m-0.5 0h0m0.5 0h0m0 0h0m0 0h0m-0.5 0h0m1-9.5h0m0.5 1h0m-0.5 1h0m0.5 0h0m-0.5 0.5h0m0 0h0m0.5 0.5h0m-0.5 0.5h0m-0.5 0.5h0m0 0h0m0.5 0h0m-0.5 0h0m0 0.5h0m1 3.5h0m0 0h0m0 0h0m0 0h0m0 0h0m-0.5 0h0m0 0h0m0 0h0m0.5 0h0m0 0h0m-0.5 0h0m0.5 0h0m-0.5 0.5h0m0 0h0m-0.5 0h0m0 0h0m0.5 0.5h0m-0.5 0h0m0.5 0h0m0 0h0m-0.5 0.5h0m0.5 0h0m0 0h0m0 0h0m-0.5 0h0m0 0h0m0 0h0m0.5 0h0m0 0h0m-0.5 0h0m0.5 0h0m-0.5 0h0m0 0h0m0.5 0h0m1-7.5h0m-0.5 0h0m0 0.5h0m0 0h0m0.5 5h0m-0.5 0.5h0m1 0h0m0 0h0m-0.5 0h0m0 0h0m0 0h0m-0.5 0h0m1 0h0m-0.5 0h0m0.5 0h0m-0.5 0h0m0 0h0m0.5 0h0m-1 0h0m0.5 0h0m0 0h0m0.5 0h0m-0.5 0.5h0m0 0h0m0.5 0h0m1-1h0m-0.5 0h0m0.5 0h0m-0.5 0.5h0m0.5 0h0m-1 0h0m1 0h0m-1 0h0m1 0h0m0 0h0m-0.5 0h0m0 0h0m0.5 0h0m-0.5 0h0m0 0h0m0 0h0m0 0h0m0.5 0h0m0 0h0m0 0h0m-0.5 0h0m0 0h0m0 0h0m-0.5 0.5h0m0 0h0m0 0h0m0.5 0h0m0 0h0m-0.5 0h0m2-7h0m-1 1h0m0.5 0h0m0.5 4.5h0m-0.5 0h0m0.5 0h0m-0.5 0h0m0.5 0.5h0m-0.5 0h0m0.5 0h0m-1 0h0m0.5 0h0m0 0h0m0.5 0h0m0 0h0m-0.5 0h0m0 0h0m0.5 0h0m0 0h0m-0.5 0h0m-0.5 0h0m0 0.5h0m0 0h0m0.5 0h0m0 0h0m-0.5 0h0m0 0h0m0.5 0h0m-0.5 0h0m0.5 0h0m0.5-6h0m0 0h0m0.5 0h0m0 0h0m0 4.5h0m0 0.5h0m-0.5 0h0m0.5 0h0m0 0h0m0 0.5h0m-0.5 0h0m0 0h0m0.5 0h0m-0.5 0h0m0.5 0h0m1-7.5h0m0.5 1h0m0 5.5h0m0 0.5h0m0 0h0m0 0h0m-0.5 0h0m0 0h0m0.5 0h0m0 0h0m-0.5 0h0m0 0.5h0m0 0h0m0.5 0h0m-0.5 0h0m0 0h0m1-7.5h0m-0.5 1h0m1 5.5h0m0 0h0m-0.5 0.5h0m0 0h0m0 0h0m-0.5 0h0m0 0h0m0 0h0m0 0h0m1 0h0m0 0h0m-0.5 0h0m0.5 0h0m-0.5 0h0m-0.5 0h0m0.5 0h0m-0.5 0.5h0m1 0h0m0 0h0m0 0h0m0 0h0m0 0h0m-0.5 0h0m0 0h0m-0.5 0h0m0.5 0h0m-0.5 0h0m1-0.5h0m0 0h0m0.5 0h0m0 0h0m0 0h0m0.5 0h0m-1 0h0m0.5 0.5h0m-0.5 0h0m0 0h0m0 0h0m0.5 0h0m0 0h0m-0.5 0h0m0.5 0h0m0.5 0.5h0m0 0h0m-0.5 0h0m0.5 0h0m-0.5 0h0m0 0h0m0.5-0.5h0m0 0h0m0 0h0m0.5 0h0m0 0h0m0 0.5h0m-0.5 0h0m0.5 0h0m-0.5 0h0m0 0h0m0.5 0h0m0 0h0m0 0.5h0m0.5 0h0m0 0h0m0 0h0m-0.5 0h0m0.5 0h0m0 0h0m0 0h0m0 0h0m-0.5 0h0m0.5 0h0m0.5-9.5h0m0 1h0m0.5 0.5h0m0 0.5h0m-0.5 7h0m0 0h0m-0.5 0.5h0m0.5 0h0m-0.5 0h0m0.5 0h0m-0.5 0h0m0.5 0h0m0 0h0m0 0.5h0m0 0h0m0.5 0h0m-0.5 0h0m0 0h0m0 0h0m0 0h0m0 0h0m0.5 0h0m0 0h0m0.5-10h0m-0.5 9.5h0m0 0h0m0.5 0h0m-0.5 0.5h0m1 0h0m-1 0h0m0 0h0m0.5 0h0m0 0h0m0.5 0h0m-0.5 0h0m0 0h0m-0.5 0h0m0 0h0m0 0h0m0.5 0.5h0m0.5 0h0m0 0h0m0 0h0m0 0h0m0 0.5h0m-0.5 0h0m0.5 0h0m0 0h0m-0.5 0h0m1-7h0m0 0h0m0 6h0m-0.5 0h0m1 0h0m-0.5 0.5h0m0.5 0h0m-0.5 0h0m0.5 0h0m-0.5 0h0m0 0h0m-0.5 0h0m0.5 0h0m0 0h0m0 0h0m0 0h0m0 0.5h0m-0.5 0h0m0.5 0h0m-0.5 0h0m0 0h0m0.5 0h0m0 0h0m-0.5 0h0m0 0h0m0 0h0m0.5 0h0m0.5-7h0m0.5 0h0m0 0h0m-0.5 0h0m0 0h0m1 0h0m-1 1h0m0.5 0h0m0 0h0m0 5h0m0 0h0m0.5 0h0m-1 0h0m0.5 0h0m0 0h0m0 0h0m0.5 0h0m-0.5 0h0m0.5 0.5h0m-0.5 0h0m-0.5 0h0m0.5 0h0m0 0h0m0.5 0h0m-1 0h0m0 0h0m0 0h0m1 0h0m-0.5 0h0m0 0h0m-0.5 0h0m0.5 0h0m0 0h0m0.5 0h0m0 0h0m0.5-6h0m0 0h0m-0.5 0h0m0.5 0.5h0m0 0h0m-0.5 0h0m0 0h0m0.5 4h0m0 0h0m-0.5 0h0m0 0h0m0.5 0h0m0 0h0m-0.5 0h0m1 0h0m-0.5 0h0m0.5 0.5h0m0 0h0m-0.5 0h0m0.5 0h0m0 0h0m-0.5 0h0m0 0h0m0 0h0m0 0h0m0 0h0m-0.5 0h0m1 0h0m-0.5 0.5h0m0 0h0m0.5 0h0m-1 0h0m0.5 0h0m0.5 0h0m-0.5 0h0m0 0h0m0 0h0m0 0h0m-0.5 0.5h0m0.5 0h0m0 0h0m0 0h0m-0.5 0h0m0 0h0m0.5 0h0m0 0h0m0 0h0m1-6h0m0.5 1h0m-0.5 3h0m-0.5 0.5h0m0.5 0h0m-0.5 0h0m0.5 0h0m0 0h0m-0.5 0h0m1 0h0m0 0h0m0 0.5h0m-1 0h0m1 0h0m-0.5 0h0m0 0h0m0 0h0m0.5 0h0m0 0h0m0 0h0m0 0h0m-0.5 0h0m0.5 0h0m-0.5 0h0m0 0h0m0.5 0h0m-0.5 0h0m1-5.5h0m0 0.5h0m-0.5 0.5h0m0.5 0h0m0 3.5h0m0 0h0m-0.5 0.5h0m0 0h0m0 0h0m0.5 0h0m-0.5 0h0m0.5 0.5h0m-0.5 0h0m0.5 0h0m0 0h0m-0.5 0h0m0 0h0m0.5 0h0m-0.5 0h0m0 0h0m0 0h0m0.5 0h0m0 0h0m-0.5 0h0m2-5h0m0 4h0m-0.5 0h0m0 0.5h0m0 0h0m0 0h0m0 0h0m0.5 0h0m0 0h0m0 0h0m0 0h0m-0.5 0h0m0.5 0h0m1-5.5h0m-0.5 0.5h0m0 0.5h0m0 0h0m0 0h0m0 0h0m0 0h0m0.5 0h0m-0.5 4.5h0m-0.5 0h0m0.5 0h0m0 0h0m-0.5 0h0m0 0h0m0 0h0m0 0h0m0.5 0h0m-0.5 0h0m0 0h0m0 0h0m0.5 0h0m0.5-6h0m0 0h0m0 0.5h0m0.5 0.5h0m-0.5 0h0m0 0h0m0.5 0.5h0m-0.5 0h0m0 0.5h0m0 0h0m0.5 0h0m0 0h0m0 4h0m0.5 0h0m0 0h0m0 0h0m-0.5 0h0m0 0.5h0m0.5 0h0m-0.5 0h0m0.5 0h0m-0.5 0h0m0.5 0h0m0 0h0m0 0h0m0 0h0m0 0h0m0 0h0m-0.5 0h0m1-5h0m-0.5 0.5h0m0 4h0m0 0h0m0.5 0h0m0 0h0m-0.5 0h0m0.5 0h0m0 0h0m-0.5 0h0m0.5 0h0m-0.5 0.5h0m1 0h0m-1 0h0m0 0h0m1 0h0m-1 0h0m0 0h0m0 0h0m1 0h0m-0.5 0h0m0.5 0.5h0m0 0h0m-0.5 0h0m0 0h0m0 0h0m0.5 0h0m-0.5 0h0m0 0h0m0.5 0h0m0.5-1h0m0 0h0m0.5 0h0m0 0h0m-0.5 0h0m0 0h0m0.5 0.5h0m-1 0h0m0.5 0h0m0 0h0m-0.5 0h0m0 0h0m0.5 0h0m0.5 0h0m0 0h0m-1 0h0m0.5 0.5h0m0.5 0h0m-0.5 0h0m-0.5 0h0m0.5 0h0m-0.5 0h0m0 0h0m0 0h0m0 0h0m1.5-1h0m0 0h0m0.5 0h0m-0.5 0h0m-0.5 0h0m0 0h0m0.5 0h0m-0.5 0h0m1 0h0m-1 0.5h0m1 0h0m0 0h0m-1 0h0m0.5 0h0m0 0h0m0.5 0h0m0 0h0m0 0h0m-0.5 0h0m0 0h0m0.5 0h0m-0.5 0h0m0.5 0h0m-0.5 0h0m-0.5 0h0m0 0h0m0 0h0m0.5 0.5h0m-0.5 0h0m0 0h0m0 0h0m0 0h0m0.5 0h0m-0.5 0h0m2-12.5h0m0 1h0m-0.5 1.5h0m0 1h0m0.5 0h0m0 2h0m-0.5 0h0m-0.5 1.5h0m0 0h0m0.5 4h0m0 0.5h0m-0.5 0h0m1 0h0m-0.5 0h0m0 0h0m0 0h0m-0.5 0h0m0 0.5h0m0.5 0h0m0.5 0h0m0 0h0m0 0h0m-0.5 0h0m-0.5 0h0m0.5 0h0m0 0h0m-0.5 0h0m0 0h0m0 0h0m0 0h0m0.5 0h0m0 0h0m0.5-12h0m1 0.5h0m-0.5 0h0m0 0.5h0m0 0h0m-0.5 1.5h0m0 1.5h0m0 0h0m0.5 7.5h0m0 0h0m-0.5 0h0m0.5 0.5h0m1.5-16.5h0m0 0h0m0 2h0m0 2h0m-0.5 0.5h0m0 0h0m-0.5 0h0m2-4h0m-0.5 0h0m-0.5 0h0m0.5 0.5h0m0 1.5h0m-0.5 0h0m0 0h0m0 0h0m1 12.5h0m0 0h0m0 0.5h0m-0.5 0h0m0.5 0h0m-0.5 0h0m0.5 0h0m0 0.5h0m-0.5 0h0m0.5 0h0m-0.5 0h0m0.5 0h0m0 0h0m-0.5 0h0m0.5 0h0m0 0h0m-0.5 0h0m1-24h0m0.5 0.5h0m-0.5 4h0m0.5 0.5h0m-0.5 2h0m0.5 15.5h0m-0.5 0h0m0.5 0h0m0 0h0m0 0h0m0 0h0m0 0h0m-0.5 0h0m0 1h0m0 0h0m0 0.5h0m0 0h0m0 0h0m-0.5 0h0m0 0h0m2-68.5h0m-0.5 1.5h0m0.5 3.5h0m0 11.5h0m-0.5 1h0m0.5 6.5h0m-0.5 3.5h0m0.5 0.5h0m0 2h0m-0.5 3.5h0m0.5 1.5h0m-0.5 0.5h0m0.5 2.5h0m0 3.5h0m-1 1.5h0m0.5 1.5h0m-0.5 1h0m1 0.5h0m0 0.5h0m-1 1.5h0m1 0h0m-0.5 1.5h0m-0.5 1.5h0m1 15.5h0m-0.5 0h0m-0.5 0.5h0m1 0h0m-1 0h0m0.5 0h0m0.5-69.5h0m1 2h0m0 0h0m-0.5 0.5h0m0 11h0m-0.5 2h0m0.5 6h0m-0.5 5h0m0 0h0m0.5 4.5h0m0.5 6h0m-1 1.5h0m1 0.5h0m-0.5 0.5h0m0 1.5h0m0 1.5h0m-0.5 4h0m1 22.5h0m-0.5 0h0m-0.5 0h0m0.5 0h0m0.5 0h0m0 0h0m-1 0.5h0m0.5 0h0m1.5-83h0m-0.5 4.5h0m-0.5 2h0m0.5 0h0m-0.5 1.5h0m0.5 0.5h0m0.5 1h0m-1 9h0m0.5 2.5h0m-0.5 0h0m0 2.5h0m0.5 1h0m0 0h0m0 7h0m-0.5 3h0m0.5 0.5h0m0 0.5h0m0 0.5h0m0 1h0m-0.5 4h0m0 2h0m0 4.5h0m0 1h0m0 1h0m0 4h0m0.5 2h0m0 27h0m0.5 0h0m-0.5 0h0m0.5 0h0m-1 0h0m0 0h0m0 0h0m0 0h0m0 0h0m0 0h0m0 0h0m1 0h0m-0.5 0.5h0m0 0h0m0 0h0m0.5-74h0m0.5 17h0m-0.5 10h0m0 2.5h0m0.5 44h0m0 0h0m1 0h0m0.5 0h0m0 0h0m0 0h0m-0.5 0h0m0.5 0h0m0 0h0m0-66h0m0.5 66.5h0m0 0h0m0 0.5h0m0 0h0m1.5-122.5h0m-0.5 16.5h0m0.5 11.5h0m0 4h0m-0.5 3h0m0 2h0m0 0.5h0m0 4.5h0m0 5.5h0m0.5 2h0m-0.5 72h0m0 0h0m-0.5 0h0m0 0h0m0.5 0h0m0.5 0h0m-0.5 0.5h0m0 0h0m0 0h0m-0.5 0h0m0 0h0m1.5-124.5h0m0 3h0m0.5 8.5h0m0 5h0m-1 0.5h0m0 8.5h0m0.5 0.5h0m-0.5 3h0m0 4h0m0 1.5h0m0.5 1h0m0.5 3h0m-1 2.5h0m0.5 0.5h0m-0.5 1h0m0.5 14.5h0m0 3h0m0 8.5h0m-0.5 0.5h0m0 55h0m0.5 0h0m1.5-150h0m-0.5 9h0m0 3.5h0m0.5 3.5h0m-0.5 5h0m0.5 0h0m0 7.5h0m-1 0h0m0 5h0m1 0.5h0m-1 0h0m0.5 2h0m-0.5 5.5h0m0 1h0m0 7.5h0m0.5 4.5h0m-0.5 1.5h0m1 0h0m-1 6.5h0m0.5 1h0m-0.5 0.5h0m0.5 1h0m0 6h0m0 4.5h0m0 3.5h0m0.5 0.5h0m-0.5 6.5h0m0 1h0m0 2h0m0.5-85h0m0.5 11h0m-0.5 0.5h0m0.5 22.5h0m0 10.5h0m0 3h0m-0.5 1.5h0m0.5 3.5h0m-0.5 4h0m1 7.5h0m0 3h0m-1 5.5h0m1 10h0m-1 3h0m0.5 3h0m0 1.5h0m0.5 55.5h0m-0.5 0.5h0m-0.5 0h0m0.5 0h0m0 0h0m0.5 0h0m0.5-91.5h0m-0.5 2h0m0 7.5h0m0 2h0m0.5 1h0m-0.5 1h0m0.5 1h0m0 6.5h0m0 5.5h0m-0.5 0.5h0m0.5 5h0m-0.5 2h0m1 57h0m-0.5 0.5h0m0 0.5h0m0 0h0m0.5-0.5h0m0.5 0h0m0 0h0m0 0h0m0 0h0m-0.5 0h0m0.5 0.5h0m0 0h0m0 0h0m0 0h0m0.5 0.5h0m0.5-165h0m0.5 2.5h0m-0.5 3h0m0 6h0m0.5 20.5h0m-0.5 8.5h0m0.5 2h0m-0.5 10h0m0 8.5h0m0 13.5h0m0 6h0m0.5 83h0m-0.5 0.5h0m-0.5 0.5h0m0.5 0h0m0 0h0m0 0h0m1.5-171h0m-0.5 0.5h0m0.5 0.5h0m0 5h0m-0.5 5.5h0m-0.5 0.5h0m0.5 4h0m0 1.5h0m0.5 5.5h0m-0.5 2h0m0.5 0h0m-1 0h0m0 1h0m0 11h0m0.5 6.5h0m0 1h0m-0.5 1h0m1 8h0m-0.5 4.5h0m0 0h0m0.5 7h0m-0.5 4.5h0m0 6.5h0m0 1h0m0 17.5h0m-0.5 8.5h0m0.5 6.5h0m0 60h0m0 0h0m-0.5 1h0m0.5 0.5h0m-0.5 0h0m0 0h0m1.5-183h0m0 8h0m0 1.5h0m0.5 2h0m-0.5 4.5h0m0 10h0m0 17h0m0 1.5h0m0 4.5h0m0 0.5h0m-0.5 7.5h0m0.5 2.5h0m0.5 4.5h0m-0.5 0h0m0.5 11h0m-0.5 1h0m-0.5 0.5h0m1 3.5h0m-0.5 5h0m0.5 6.5h0m-0.5 14h0m-0.5 5h0m1 9.5h0m0 60h0m-0.5 0.5h0m0 0h0m-0.5 0.5h0m0 0.5h0m0 0.5h0m0.5 0h0m0 0h0m1-163.5h0m-0.5 0.5h0m0 8.5h0m0 20.5h0m0.5 27h0m0 2.5h0m0 25h0m-0.5 13h0m1 64h0m0 0.5h0m-0.5 0h0m0.5 0h0m-0.5 0.5h0m-0.5 0h0m0.5 0.5h0m1-1.5h0m0.5 0h0m0 0h0m0 0h0m0 0h0m0 0.5h0m-0.5 0h0m-0.5 0h0m0 0h0m0.5 0h0m0 0h0m0.5 0h0m0 0h0m-0.5 0h0m-0.5 0h0m0.5 0h0m-0.5 0h0m0 0.5h0m2-90h0m0 5.5h0m-0.5 16.5h0m0 67h0m0 0h0m-0.5 0.5h0m1 0h0m0 0h0m-1 0h0m1.5-120.5h0m0.5 5.5h0m0 15h0m-0.5 10.5h0m0 10.5h0m0.5 15.5h0m-0.5 63h0m0 0.5h0m0.5 0h0m-0.5 0h0m0 0.5h0m0.5 0h0m0.5-131h0m0.5 1h0m-0.5 1.5h0m0 6.5h0m0 11h0m0 3.5h0m0 5.5h0m0 5.5h0m0 1.5h0m0 3h0m0 0h0m0.5 2.5h0m-0.5 1.5h0m-0.5 3h0m0.5 9h0m-0.5 11h0m0.5 0.5h0m0 0h0m0 2.5h0m0.5 1h0m-0.5 60.5h0m0 0h0m0.5 1.5h0m0.5-134h0m-0.5 1h0m0.5 0.5h0m0 1.5h0m0 6h0m0 12.5h0m0.5 2h0m-0.5 1.5h0m0.5 6h0m-0.5 3h0m-0.5 0.5h0m0.5 1h0m-0.5 3h0m0.5 1.5h0m0 1.5h0m0 3.5h0m0 1h0m0.5 13h0m-1 0.5h0m0.5 0h0m0.5 2h0m0 0h0m-1 3h0m0.5 0.5h0m0 6h0m0.5 2h0m-0.5 1.5h0m0.5 0.5h0m-1 58h0m0 0h0m0.5 0.5h0m0 0.5h0m0 0h0m1-132.5h0m0 0.5h0m0 4.5h0m-0.5 19.5h0m0 5h0m0.5 13.5h0m-0.5 7.5h0m0.5 2h0m0 79h0m0.5 0h0m0 0.5h0m-0.5 0h0m0 0h0m0.5 0.5h0m0 0h0m0.5-69h0m0 68.5h0m0 0h0m0 0h0m-0.5 0h0m0.5 0h0m0.5 0.5h0m-1 0h0m0.5 0h0m-0.5 0h0m0.5 0h0m-0.5 0h0m0 0h0m0.5 0h0m0 0h0m1-63h0m0 6h0m0 56h0m0 0.5h0m0 0h0m-0.5 0h0m1 0.5h0m-1 0h0m0.5 0h0m0 0h0m-0.5 0.5h0m1.5-58.5h0m0 57h0m-0.5 0.5h0m1 0h0m-0.5 0h0m0 0h0m0.5 0h0m-1 0.5h0m0 0h0m1.5-80.5h0m0.5 2h0m-0.5 7.5h0m0.5 1.5h0m0 1h0m-0.5 0h0m0 3h0m0 3.5h0m0 0.5h0m-0.5 60.5h0m0.5 0h0m-0.5 0h0m0.5 0h0m0 0.5h0m-0.5 0h0m0 0h0m0.5 0h0m0 0h0m-0.5 0h0m0 0h0m2-105h0m-0.5 14.5h0m-0.5 9.5h0m0.5 3.5h0m0 0h0m-0.5 1h0m0.5 1h0m-0.5 1.5h0m0.5 3h0m-0.5 3h0m1 66.5h0m0 0.5h0m-0.5 0.5h0m-0.5 0h0m0 0.5h0m1.5-107h0m0.5 1.5h0m-0.5 5h0m0.5 2h0m-0.5 1.5h0m0 1h0m0 3.5h0m0 0h0m-0.5 2h0m0.5 1h0m0 2.5h0m-0.5 6.5h0m0 2.5h0m0.5 0.5h0m0 2h0m0.5 12.5h0m-1 1h0m1 1h0m0 1.5h0m0 58h0m-1 0h0m0.5 0.5h0m0 0h0m0.5 0h0m-1 0h0m0 0h0m1.5-102h0m0 2.5h0m0 2h0m0 2.5h0m0.5 3.5h0m-1 2h0m0.5 1h0m0 5h0m0 0.5h0m-0.5 4.5h0m1 0h0m-0.5 0.5h0m0 5h0m0 1h0m0 1h0m0.5 0.5h0m-0.5 4.5h0m-0.5 1h0m0.5 1h0m-0.5 7.5h0m0 1.5h0m1 2h0m0 15h0m-0.5 38h0m0.5 0h0m0 0h0m0-96.5h0m0.5 3.5h0m0 5.5h0m-0.5 3.5h0m0 1h0m0 8.5h0m0.5 6h0m-0.5 1.5h0m0 3h0m0 5h0m0 8.5h0m0.5 0.5h0m0.5 2h0m-0.5 2h0m0.5 1.5h0m-0.5 1h0m0.5 0.5h0m-0.5 0h0m0 2.5h0m0 2h0m0 0.5h0m0.5 0.5h0m0 37h0m-0.5 0h0m0.5 0h0m-0.5 0h0m0 0.5h0m0 0h0m-0.5 0h0m1 0h0m-1 0h0m0.5 0h0m0 0.5h0m0.5-48.5h0m0.5 47.5h0m0 0h0m0 0h0m0 0h0m0 0h0m0 0.5h0m0 0h0m0 0h0m0.5 0h0m-0.5 0h0m-0.5 0h0m0.5 0h0m0 0h0m0 0h0m0 0.5h0m-0.5 0h0m0.5 0h0m1-1h0m0 0h0m0 0h0m-0.5 0.5h0m0.5 0h0m2-37.5h0m0 0.5h0m0 36.5h0m0.5 0h0m0 0h0m-0.5 0h0m0.5 0.5h0m-0.5 0h0m0 0h0m0.5 0h0m0.5-76h0m0 2h0m0.5 0h0m0 1.5h0m0 11.5h0m0 0h0m0 1h0m-0.5 10.5h0m0.5 2h0m-0.5 3h0m0 1.5h0m-0.5 2.5h0m0 0h0m0 40h0m0 0h0m1 0h0m-0.5 0h0m-0.5 0h0m0 0.5h0m1 0h0m-1 0h0m0.5 0h0m-0.5 0h0m0 0h0m0.5 0h0m0.5 0.5h0m0 0h0m-0.5 0.5h0m0.5-63.5h0m0.5 1.5h0m0 3h0m-0.5 2.5h0m0.5 11.5h0m-0.5 0.5h0m0.5 0h0m-0.5 4.5h0m0.5 39h0m0 0.5h0m0 0h0m-0.5 0h0m1 0h0m0 0h0m0 0h0m0.5-41h0m0 41h0m0 0h0m0.5 0h0m-1 0.5h0m0.5 0h0m0.5 0h0m0 0h0m-0.5 0.5h0m0 0h0m0 0h0m0.5 0h0m-0.5 0.5h0m0.5 0h0m0 0h0m0.5-0.5h0m-0.5 0h0m1 0h0m-0.5 0h0m0.5 0h0m0 0h0m-1 0h0m0.5 0h0m0 0h0m0 0h0m0.5 0h0m-0.5 0h0m0 0h0m-0.5 0h0m0.5 0.5h0m0.5-1h0m0.5 0.5h0m0 0h0m0 0h0m-0.5 0h0m0.5 0h0m1-43h0m1-1h0m0.5 43.5h0m-0.5 0h0m0.5 0h0m-0.5 0.5h0m0.5 0h0m0 0.5h0m-0.5 0h0m1-1.5h0m-0.5 0h0m0.5 0h0m0 0.5h0m0 0h0m0 0h0m0.5 0h0m0 0.5h0m0 0h0m-0.5 0h0m0 0h0m-0.5 0h0m0 0h0m0 0h0m0.5 0h0m0 0.5h0m1.5-84h0m-0.5 4.5h0m0.5 1h0m-0.5 4h0m0 1h0m0.5 2h0m-0.5 5h0m0 4h0m0 13h0m0 2h0m0.5 2h0m-0.5 0.5h0m0.5 1h0m0 42.5h0m-0.5 0.5h0m0 0h0m-0.5 0h0m0 0h0m1 0h0m-0.5 0h0m0.5 0h0m-0.5 0h0m-0.5 0.5h0m0 0h0m1.5-87.5h0m-0.5 1.5h0m0 2h0m0 0.5h0m0.5 5h0m0.5 0h0m-0.5 4h0m0.5 3.5h0m0 3h0m-1 5.5h0m1 2.5h0m-1 2h0m0.5 5h0m0 1h0m0 0h0m-0.5 1h0m1 1h0m-1 0h0m0 1.5h0m0.5 2h0m0 0h0m-0.5 1.5h0m0 1h0m1 43h0m0 0h0m-1 0h0m0 0.5h0m0.5 0h0m0 0h0m0 0h0m0 0.5h0m1-88h0m0 1.5h0m-0.5 1.5h0m1 0.5h0m-0.5 3.5h0m0 3.5h0m-0.5 8h0m1 4.5h0m0 3h0m-0.5 0.5h0m0.5 1h0m0 1h0m-0.5 4h0m0 1.5h0m0 0.5h0m0.5 2.5h0m-1 0h0m1 0.5h0m-1 0h0m0.5 4h0m-0.5 3h0m1 0.5h0m0 0.5h0m-0.5 1h0m0.5 1.5h0m-1 39h0m1 0h0m-0.5 0.5h0m0 0h0m0 0h0m0 0.5h0m0 0h0m0.5 0h0m0.5-81h0m-0.5 17h0m0.5 5h0m0 0h0m0 0.5h0m0 1h0m0 5.5h0m0 1h0m-0.5 0.5h0m0.5 2.5h0m-0.5 5h0m0 3h0m0.5 2h0m0.5 0.5h0m0 0.5h0m-0.5 0.5h0m0.5 0.5h0m-0.5 35h0m0 0h0m0 0h0m0.5 0h0m-1 0.5h0m0.5 0h0m-0.5 0h0m0 0.5h0m2 0h0m-0.5 0h0m0 0h0m0.5 0.5h0m-0.5 0h0m0.5 0h0m-0.5 0h0m0 0h0m0 0h0m0.5 0h0m0.5-35h0m0.5 1.5h0m0 0h0m0 32.5h0m-1 0.5h0m0 0h0m0 0h0m1 0h0m-1 0.5h0m1 0h0m-0.5 0h0m0 0h0m0 0h0m0 0h0m1-1h0m-0.5 0.5h0m1 0h0m-0.5 0h0m0.5 0h0m-0.5 0h0m-0.5 0h0m0.5 0h0m-0.5 0h0m1 0h0m-0.5 0h0m0.5 0h0m0 0.5h0m-1 0h0m0.5 0h0m1-33.5h0m-0.5 33h0m0 0.5h0m2-127.5h0m-0.5 9h0m0 8h0m0.5 3.5h0m-0.5 16.5h0m0.5 3.5h0m-0.5 9.5h0m0 2.5h0m0.5 12h0m-0.5 3h0m0.5 6.5h0m0 1h0m-0.5 2h0m0 5.5h0m0 4h0m0.5 7.5h0m0 33.5h0m-0.5 0h0m1-125h0m0 6h0m0 3h0m0.5 0h0m-0.5 1.5h0m0 0h0m0 1h0m0 6h0m-0.5 2.5h0m0.5 0.5h0m0.5 2.5h0m-0.5 0.5h0m0.5 0.5h0m0 11h0m0 0.5h0m0 3.5h0m0 4.5h0m-0.5 1.5h0m0 3.5h0m0.5 3.5h0m-1 2h0m0 4.5h0m1 1.5h0m-0.5 0.5h0m0.5 2h0m-1 2h0m1 5h0m0 3.5h0m-0.5 8.5h0m0 0.5h0m-0.5 5h0m0.5 3.5h0m-0.5 33.5h0m0 0h0m0.5 0.5h0m0 0.5h0m0 0h0m0 0h0m1.5-123h0m-0.5 18h0m0 2.5h0m0.5 1.5h0m0 2.5h0m-0.5 1h0m0 2.5h0m0 6.5h0m0.5 0.5h0m-0.5 9.5h0m0.5 4h0m-0.5 5.5h0m-0.5 2h0m1 1h0m0 1h0m-0.5 2.5h0m-0.5 3h0m0 7.5h0m0.5 1h0m-0.5 4h0m0 8h0m1 38.5h0m-0.5 0h0m0 0.5h0m0.5-120h0m0.5 2h0m0 3h0m0 1.5h0m-0.5 29.5h0m0.5 3.5h0m-0.5 7.5h0m0.5 1h0m0 14h0m0.5 57.5h0m-0.5 0h0m0 0.5h0m-0.5 0h0m1 0h0m0 0h0m-0.5 0h0m0.5-0.5h0m0 0h0m1 0.5h0m-0.5 0h0m0.5 0h0m-0.5 0h0m0 0h0m1-82.5h0m0 32.5h0m0 1h0m-0.5 49h0m1 0h0m-0.5 0h0m0 0h0m0.5 0h0m-0.5 0h0m1-83h0m0 1h0m0 1h0m0 5.5h0m0 8h0m-0.5 8h0m0.5 3h0m-0.5 6h0m0.5 3h0m0.5 1h0m-0.5 0h0m-0.5 46h0m0 0.5h0m0.5 0h0m0 0h0m0.5 0h0m0 0.5h0m0.5-57.5h0m-0.5 4h0m0.5 52.5h0m0 0h0m0 0h0m-0.5 0h0m1 0h0m-0.5 0h0m0.5 0h0m0 0h0m-0.5 0h0m-0.5 0h0m0.5 0.5h0m0 0h0m0 0.5h0m-0.5 0.5h0m0.5 0h0m0 0h0m-0.5 0h0m0.5 0h0m-0.5 0h0m1.5-47h0m0.5 45h0m0 0h0m0 0h0m-0.5 0.5h0m0 0h0m-0.5 0h0m1 0h0m-1 0h0m0 0h0m0 0h0m0.5 0h0m1-45h0m0.5 44h0m0 0h0m-1 0h0m1 0h0m-0.5 0h0m0 0.5h0m0.5 0h0m0 0h0m0 0h0m-0.5 0.5h0m0 0h0m0.5-1h0m0.5 0h0m0.5 0h0m-1 0h0m0 0h0m0.5 0h0m0 0h0m0.5 0h0m-0.5 0h0m0 0h0m0 0.5h0m0.5 0h0m0 0h0m-1 0h0m2-1h0m0 0h0m-0.5 0h0m0 0.5h0m0 0h0m-0.5 0h0m0.5 0h0m0 0h0m0.5 0h0m-0.5 0.5h0m0 0h0m1.5-110.5h0m-0.5 1h0m0 13.5h0m0.5 2h0m-0.5 8h0m0 2h0m0 5.5h0m0 2h0m0 1h0m0.5 0.5h0m-0.5 1.5h0m0 3.5h0m0 3.5h0m0 0.5h0m0.5 23.5h0m-1 42h0m0.5 0h0m0 0h0m-0.5 0h0m0 0h0m0.5 0.5h0m0 0h0m0.5 0h0m-0.5 0h0m1.5-102.5h0m-0.5 2h0m0 1h0m-0.5 2.5h0m0 2h0m0.5 7h0m0 6h0m-0.5 0h0m0.5 2h0m0 4.5h0m0 2h0m0 0.5h0m0 0.5h0m0 0h0m0 3.5h0m0.5 0h0m-1 1h0m1 0.5h0m-1 3.5h0m0.5 1h0m0 3.5h0m0 3.5h0m0.5 2.5h0m-0.5 4.5h0m0.5 49h0m-1 0h0m1 0.5h0m-0.5 0h0m0.5 0h0m-0.5 0h0m0 0h0m0 0h0m0 0h0m1-111.5h0m0.5 1.5h0m-0.5 3.5h0m0.5 0h0m-0.5 0.5h0m-0.5 3h0m0 2h0m0.5 0.5h0m-0.5 10.5h0m1 0h0m0 1h0m-1 1.5h0m1 11.5h0m0 13.5h0m-0.5 2.5h0m0.5 1h0m-0.5 0h0m0 0.5h0m0 2h0m0.5 2.5h0m-1 0.5h0m0.5 1.5h0m0 0.5h0m0 2.5h0m0 2.5h0m-0.5 0.5h0m0.5 1.5h0m-0.5 44h0m0.5 0h0m-0.5 0.5h0m0.5 0h0m0 0h0m0.5-100h0m0.5 14.5h0m0 1h0m-0.5 2h0m0.5 4h0m-0.5 1h0m0 12.5h0m0 6h0m0 4.5h0m0.5 0h0m0 3.5h0m0 1h0m-0.5 0.5h0m0 5h0m0 44.5h0m0.5 0h0m0 0h0m-0.5 0.5h0m0.5 0h0m0 0.5h0m0 0h0m0 0h0m0 0h0m0.5-0.5h0m0.5 0.5h0m0 0h0m0 0h0m0 0h0m0 0h0m-0.5 0h0m1 0h0m0 0h0m-0.5 0h0m0 0h0m1.5-0.5h0m-1 0.5h0m0 0h0m0.5 0h0m0 0h0m0.5 0h0m-0.5 0h0m-0.5 0h0m0.5 0h0m0 0h0m0 0h0m-0.5 0h0m1.5-117.5h0m0.5 3.5h0m0 22.5h0m0 5.5h0m-0.5 9.5h0m0 0h0m0 2h0m0 1h0m0.5 8.5h0m-0.5 1h0m0 4.5h0m0 59h0m-0.5 0h0m0.5 0.5h0m-0.5 0h0m0.5 0h0m0 0h0m-0.5 0h0m1 0h0m-1 0h0m1 0h0m1-119h0m-0.5 1h0m0 2h0m0 1h0m0 5.5h0m0.5 1.5h0m-0.5 1.5h0m-0.5 3.5h0m0 5.5h0m1 2.5h0m0 13.5h0m-0.5 4h0m0 3.5h0m-0.5 1h0m1 5h0m0 4.5h0m-0.5 0.5h0m0.5 3h0m-0.5 0h0m0 0.5h0m0 8.5h0m-0.5 50.5h0m0 0h0m1 0h0m0 0.5h0m-0.5 0h0m-0.5 0h0m1 0h0m-1 0h0m1 0h0m-1 0h0m1.5-120h0m-0.5 5h0m0.5 0.5h0m0.5 11h0m-0.5 1.5h0m-0.5 8.5h0m1 5.5h0m-1 16.5h0m0.5 0h0m0 3h0m-0.5 2h0m0.5 3h0m0.5 7h0m-0.5 56h0m0 0h0m-0.5 0h0m0.5 0.5h0m0.5-101h0m0.5 8.5h0m-0.5 21h0m0 2h0m0.5 0.5h0m-0.5 67.5h0m1 0.5h0m0 0h0m-0.5 0h0m0 0h0m0.5 0h0m-1 0.5h0m0 0.5h0m0.5 0h0m1.5-61.5h0m0 8h0m0 0.5h0m0 0.5h0m-0.5 51.5h0m0.5 0h0m-0.5 0h0m0.5 0h0m-0.5 0.5h0m1-61h0m0.5 59.5h0m-0.5 0h0m0 0h0m-0.5 0h0m0.5 1h0m-0.5 0h0m0.5 0h0m0.5-1h0m0 0h0m1 0h0m0 0h0m0 0h0m-0.5 0h0m0 0h0m0 0.5h0m0 0h0m1-60h0m0.5 58.5h0m-0.5 0h0m0 0.5h0m0 0h0m0 0.5h0m0 0h0m1.5-174h0m-0.5 16h0m0 9h0m0.5 1h0m0 16h0m0 23h0m0 6h0m-0.5 12h0m0.5 15h0m-0.5 14h0m0 1.5h0m-0.5 1h0m0.5 0.5h0m0.5 4h0m-0.5 53.5h0m-0.5 0.5h0m1 0h0m0 0.5h0m-1 0h0m1 0h0m-0.5 0h0m0 0h0m-0.5 0h0m0.5 0h0m0 0h0m-0.5 0h0m1-178h0m0.5 0h0m0 2.5h0m-0.5 2.5h0m0.5 1h0m-0.5 6h0m0 7.5h0m1 6h0m0 8.5h0m0 2.5h0m-0.5 1h0m-0.5 4.5h0m1 0.5h0m-0.5 22.5h0m-0.5 11.5h0m0 6.5h0m0.5 11.5h0m-0.5 2h0m0.5 2h0m0 6.5h0m-0.5 72.5h0m1 0h0m-0.5 0h0m0 0h0m0.5 0.5h0m-1 0h0m0 0h0m1.5-200h0m0 8h0m0 0.5h0m-0.5 3.5h0m0.5 9h0m0.5 0.5h0m-0.5 3h0m-0.5 4.5h0m0.5 7h0m0.5 0.5h0m-1 0.5h0m0 2h0m0 8.5h0m0.5 11h0m0 4.5h0m0 9h0m0 2h0m0.5 1.5h0m-0.5 8.5h0m0 0.5h0m0 2.5h0m-0.5 0.5h0m0 1h0m0 0.5h0m0 2h0m1 1.5h0m-1 7h0m0 0.5h0m0 10h0m1 0.5h0m-1 6.5h0m1 1h0m0 8.5h0m-0.5 4h0m-0.5 4.5h0m1 1.5h0m-0.5 6h0m0 2.5h0m0 3h0m0 0h0m-0.5 52h0m0 0h0m0.5 0h0m0 0.5h0m0 0h0m0.5 0h0m0 0h0m0 0.5h0m0.5-178.5h0m-0.5 13.5h0m0.5 3.5h0m0 0h0m-0.5 7h0m0 5h0m0 16.5h0m0.5 6.5h0m-0.5 18h0m0 0.5h0m0 8.5h0m0.5 0.5h0m-0.5 10.5h0m0 5.5h0m0.5 0.5h0m-0.5 15.5h0m0.5 67h0m0.5 1h0m0 0h0m-0.5 0h0m0 0h0m0 0h0m0 0h0m0 0h0m1.5-58h0m-0.5 6.5h0m-0.5 50.5h0m0.5 0h0m0 0h0m0 0h0m0 0.5h0m0 0h0m-0.5 0.5h0m0.5 0h0m-0.5 0h0m0.5 0h0m-0.5 0h0m0 0h0m1 0h0m0 0h0m0-60.5h0m0 0h0m0.5 1h0m0.5 59h0m-0.5 0.5h0m0 0h0m0 0h0m0 0h0m-0.5 0h0m0 0h0m0 0.5h0m1 0h0m-0.5 0h0m0 0h0m0 0h0m0 0.5h0m0.5 0h0m0.5-0.5h0m0 0h0m0.5 0h0m0 0h0m-1 0.5h0m0.5 0h0m-0.5 0h0m0.5 0h0m0 0h0m0 0.5h0m1-53.5h0m0.5 52h0m0 0.5h0m0 0h0m-1 0h0m0.5 0.5h0m0.5 0h0m0 0h0m-1 0h0m0 0h0m0 0h0m0.5 0h0m0 0h0m0.5 0h0m-0.5 0.5h0m-0.5 0h0m1 0h0m-0.5 0h0m0.5 0h0m0-53.5h0m0.5 51h0m0.5 0h0m0 0h0m-0.5 0.5h0m0 0h0m0 0h0m0.5 0h0m-0.5 0h0m-0.5 0.5h0m0 0h0m0 1h0m0 0.5h0m0.5 0h0m1.5-72.5h0m0 14h0m0 3h0m-0.5 52h0m0 0h0m0 0.5h0m0 0h0m0.5 0h0m-0.5 0.5h0m-0.5 0h0m0 0h0m0.5 0h0m0 0.5h0m-0.5 0h0m0.5 0h0m-0.5 0h0m1.5-79h0m0.5 5h0m-1 6h0m0.5 7.5h0m0 2.5h0m-0.5 1h0m1 54.5h0m0 0h0m0 0.5h0m0 0h0m0 0h0m0 0h0m-0.5 0h0m0 1h0m0 0h0m0 0h0m1-86.5h0m-0.5 3h0m0.5 2.5h0m-0.5 0.5h0m1 0.5h0m-0.5 3h0m0 3.5h0m-0.5 4h0m0 3h0m1 1.5h0m0 1h0m-0.5 2h0m0.5 4h0m-1 3h0m0 53.5h0m0.5 0h0m0 0h0m0 0h0m0 0h0m-0.5 0h0m0.5 0.5h0m-0.5 0h0m0.5 0h0m1-87.5h0m-0.5 0.5h0m0.5 8h0m0 8.5h0m0 0.5h0m0.5 0.5h0m-0.5 1h0m0 1.5h0m0.5 6h0m0 0.5h0m0 1h0m-0.5 3h0m0 0.5h0m0.5 2h0m-1 2.5h0m1 6h0m-1 44.5h0m0 0h0m1-63h0m0 0.5h0m0.5 4.5h0m-0.5 4.5h0m0 3.5h0m0 0.5h0m0 0h0m0.5 2.5h0m0.5 9.5h0m-1 1h0m1 0.5h0m-0.5 36h0m0.5 0h0m-0.5 0h0m0 0h0m0.5 0h0m0.5-42h0m-0.5 6h0m1 1h0m-0.5 0h0m0.5 0h0m-0.5 34.5h0m-0.5 0.5h0m0.5 0h0m0.5 0.5h0m0 0h0m0 0h0m-0.5 0h0m0 0.5h0m1-1h0m0 0h0m0 0.5h0m-0.5 0h0m0.5 0h0m0 0h0m0 0.5h0m0 0h0m0 0h0m0 0h0m0 0h0m0.5-0.5h0m0.5 0h0m0 0.5h0m0 0h0m-0.5 0h0m0 0h0m1 0.5h0m-0.5 0h0m0 0h0m0.5 0h0m0.5-80h0m0.5 1h0m0 1h0m-0.5 7.5h0m0 1.5h0m0 10.5h0m0.5 15.5h0m-0.5 1h0m0.5 4h0m-1 38h0m0.5 0h0m0 0h0m0 0h0m0 0h0m0 0h0m-0.5 0h0m0 0h0m1 1h0m0 0h0m-0.5 0h0m0 0h0m1-81h0m0 5h0m0 2.5h0m0 4h0m0 2h0m0 1h0m0 1.5h0m0 4h0m-0.5 1.5h0m0.5 1.5h0m0 0.5h0m-0.5 0.5h0m0.5 1h0m-0.5 1h0m0.5 2.5h0m0 5.5h0m0.5 6.5h0m0 0.5h0m-0.5 1h0m0 39h0m-0.5 0h0m0.5 0h0m-0.5 0h0m0.5 0h0m0 0h0m0 0.5h0m0 0h0m0.5 0h0m-0.5 0.5h0m0.5 0h0m-0.5 0h0m0.5-75.5h0m0 14.5h0m0 6.5h0m0.5 5.5h0m0.5 48.5h0m-0.5 0h0m-0.5 0h0m0.5 0h0m1-87h0m0 20.5h0m0.5 66.5h0m-0.5 0h0m0 0h0m0 0h0m-0.5 0h0m1 0h0m-0.5 0h0m0 0h0m0.5 1h0m-0.5 0h0m1-94h0m-0.5 4h0m0 0.5h0m0 5.5h0m1 1.5h0m-0.5 0h0m0 2h0m0.5 0h0m-1 0.5h0m1 5h0m-1 13h0m0.5 1h0m0.5 7h0m-0.5 53h0m0.5 0h0m0 0.5h0m-0.5 0h0m0 0h0m0 0h0m0 0h0m0 0.5h0m0 0h0m0 0h0m1.5-92.5h0m0 7h0m-0.5 10h0m0.5 1h0m0 3h0m-0.5 4h0m0 0h0m-0.5 5.5h0m1 0.5h0m-0.5 7.5h0m0.5 0.5h0m0 3.5h0m-0.5 48.5h0m0.5 0.5h0m-0.5 0h0m0 0.5h0m0 0h0m0 0h0m0.5-91h0m0 5h0m0.5 12h0m0 0.5h0m-0.5 2h0m0.5 4.5h0m-0.5 1h0m0.5 1h0m-0.5 13.5h0m0 1.5h0m0.5 1.5h0m0 0.5h0m-0.5 5h0m0.5 2h0m0.5 39.5h0m0 0h0m-1 0.5h0m0.5 0h0m0.5 0.5h0m-1 0h0m0 0.5h0m0 0h0m1.5-69h0m0.5 0h0m-0.5 3h0m0.5 0.5h0m0 6h0m0 3h0m-0.5 6.5h0m0.5 1h0m-0.5 47.5h0m-0.5 0h0m0.5 0h0m0.5 0.5h0m-1 0h0m0.5 0h0m0 0h0m-0.5 0.5h0m1-68.5h0m0 3.5h0m0.5 5.5h0m0 5h0m-0.5 0h0m0.5 1h0m0 3.5h0m0 3.5h0m-0.5 0h0m0.5 1h0m-0.5 6.5h0m0.5 0.5h0m-0.5 37.5h0m0.5 0.5h0m0.5 0h0m-0.5 0.5h0m0 0h0m0.5-1h0m0.5 0.5h0m0.5 0h0m-1 0h0m0.5 0h0m0 0h0m-0.5 0h0m0.5 0.5h0m0 0h0m0 0h0m0.5 0h0m-0.5 0h0m0 0h0m0 0h0m1.5-39h0m0 39h0m-0.5 0h0m-0.5 0h0m1 0h0m-1 0h0m0.5 0h0m0 0h0m-0.5 0h0m0 0h0m0 0h0m1 0h0m-0.5 0h0m1.5-38h0m0 0.5h0m0 37.5h0m-0.5 0h0m0.5 0h0m-0.5 0h0m-0.5 0h0m0.5 0h0m0 0h0m0.5 0h0m-0.5 0h0m0 0.5h0m0.5 0h0m0 0h0m0.5-40h0m0 39.5h0m0.5 0h0m-0.5 0h0m0 0.5h0m0 0h0m0 0h0m0.5 1h0m-0.5 0h0m0 0h0m0 0h0m0.5-1h0m1 0h0m0 0h0m-0.5 0h0m0.5 0.5h0m-1 0h0m1 0h0m-0.5 0h0m0.5 0h0m-0.5 0h0m0 0h0m0 0.5h0m0 0h0m1.5-1.5h0m-0.5 0h0m0 0.5h0m0 0.5h0m0 0h0m-0.5 0h0m0.5 0h0m1-36.5h0m0 0h0m0 0h0m0.5 34h0m-0.5 0.5h0m0.5 0h0m-0.5 0h0m0.5 0h0m0 0h0m-0.5 0h0m0 0.5h0m0.5 0h0m0 0h0m-0.5 0h0m0 0h0m0 0h0m0 0.5h0m0 0h0m0 0h0m-0.5 0h0m0.5 0h0m1-42.5h0m0 2h0m0.5 38.5h0m-1 0.5h0m0.5 0h0m-0.5 0.5h0m0.5 0h0m0.5 0h0m-1 0.5h0m0 0h0m0.5 0h0m-0.5 0h0m2-75h0m-0.5 3h0m0 24h0m0 2.5h0m0 0.5h0m0 1.5h0m-0.5 1h0m0.5 0.5h0m0.5 1h0m-1 4.5h0m0.5 0.5h0m0 34.5h0m0 0h0m0.5 0h0m-1 0h0m1 0.5h0m-0.5 0h0m0 0h0m0 0h0m-0.5 0h0m0.5 0h0m0.5 0h0m-0.5 0.5h0m0.5-69h0m0.5 7h0m0 11.5h0m0 0h0m0 1.5h0m0 2h0m-0.5 0.5h0m0 6h0m0 39.5h0m0.5 0h0m0 0h0m0.5 0.5h0m-0.5 0h0m-0.5 0h0m0.5 0h0m0 0h0m0 0h0m-0.5 0h0m1 0.5h0m0.5-83h0m0.5 3.5h0m0 1.5h0m-0.5 25h0m-0.5 4h0m0.5 48h0m-0.5 0.5h0m0 0h0m0.5 0h0m0.5 0h0m-1 0h0m0 0h0m0.5 0.5h0m0 0h0m-0.5 0h0m0.5 0h0m0 0h0m0.5 0h0m0 0.5h0m-0.5 0h0m1-69h0m-0.5 4h0m0 6h0m0 0h0m0 58h0m0.5 0.5h0m0 0h0m-0.5 0h0m0.5 0h0m-0.5 0.5h0m0.5 0h0m0.5 0h0m0 0h0m-0.5 0h0m0.5-0.5h0m0 0.5h0m0.5 0h0m0 0h0m0 0h0m0.5 0h0m0 0.5h0m1-75.5h0m-0.5 4h0m0.5 1h0m0 1.5h0m0 16.5h0m-1 52h0m0.5 0h0m0.5 0h0m-1 0h0m0 0h0m0.5 0h0m0 0.5h0m-0.5 0h0m2-157.5h0m0 1h0m0 2h0m-0.5 1h0m0.5 8.5h0m-0.5 16.5h0m0.5 7h0m-0.5 1.5h0m0 11h0m0 16.5h0m0 6.5h0m0 1.5h0m0.5 19.5h0m-1 6.5h0m1 0h0m0 1.5h0m0 3h0m-1 2h0m0 0h0m0.5 50.5h0m0 0.5h0m0 0h0m0 0h0m0 0.5h0m0 0h0m0 0h0m0 0.5h0m-0.5 0h0m1-155h0m0 0.5h0m1 1h0m0 10.5h0m-1 1.5h0m0.5 2h0m-0.5 0h0m0.5 2.5h0m0 9h0m-0.5 1.5h0m0 0h0m0.5 12h0m0 0.5h0m-0.5 20h0m0 2h0m1 0h0m-0.5 7h0m0.5 2.5h0m-1 0h0m0 4h0m0.5 6.5h0m-0.5 2h0m0.5 3.5h0m-0.5 1h0m0.5 1.5h0m0 7h0m0 55h0m0 0.5h0m0 0h0m0 0.5h0m1-166.5h0m0 8h0m0.5 5h0m-0.5 4h0m0.5 3h0m-0.5 7.5h0m-0.5 2h0m0 11h0m1 1h0m-1 0h0m1 10h0m-0.5 2.5h0m0 1.5h0m0 6h0m0 1h0m0 1.5h0m0 6h0m0 16.5h0m-0.5 0.5h0m0.5 0.5h0m0 8.5h0m0.5 9.5h0m-0.5 5h0m-0.5 2h0m0 1.5h0m0 8.5h0m0 43.5h0m0.5 0h0m0 0h0m0.5 0h0m-0.5 0h0m0.5-144.5h0m0.5 0.5h0m-0.5 16.5h0m0 18h0m0.5 2.5h0m-0.5 13.5h0m0 9.5h0m0.5 3.5h0m0 1h0m0 4.5h0m-0.5 10h0m0 6.5h0m0.5 5h0m-0.5 0.5h0m0 5h0m0 2h0m0.5 45.5h0m0.5 0h0m-0.5 0.5h0m0 0h0m0.5 0h0m-0.5 0h0m0.5 0h0m-0.5 0h0m0 0h0m-0.5 0h0m2-41.5h0m-0.5 0.5h0m0 40.5h0m-0.5 0h0m0.5 0h0m0.5 0h0m0 0.5h0m-0.5 0h0m0 0h0m0.5 0h0m0 0h0m0 0h0m-0.5 0h0m0.5-40h0m0 39.5h0m1 0.5h0m-1 0h0m0.5 0h0m0 0h0m-0.5 0h0m1 0h0m-0.5 0h0m0 0h0m-0.5 0h0m0.5 0h0m0 0h0m0 0.5h0m0 0h0m0.5 0h0m-0.5 0h0m0 0.5h0m0.5 0h0m0-0.5h0m0 0h0m1 0h0m-0.5 0h0m0 0h0m-0.5 0h0m0.5 1h0m0 0h0m0.5 0h0m-0.5 0h0m0.5 0.5h0m0 0h0m-0.5 0h0m1.5-1h0m-1 0h0m1 0h0m0 0h0m0 0h0m-0.5 0.5h0m0 0h0m0.5 0h0m-0.5 0h0m0.5 0.5h0m-0.5 0h0m-0.5 0h0m1 0h0m0 0h0m-0.5 0.5h0m1.5-70.5h0m-0.5 3.5h0m0.5 2h0m-0.5 9h0m0.5 0.5h0m-0.5 4.5h0m0.5 1h0m0 6h0m-0.5 42.5h0m0 0h0m0 0h0m0 0.5h0m-0.5 0h0m1 0h0m-0.5 0.5h0m0 0h0m-0.5 0h0m0 0.5h0m1-75h0m0 2h0m0 7.5h0m0 2.5h0m0 10h0m0.5 1.5h0m-0.5 49.5h0m1 0h0m-0.5 0h0m0.5 0h0m-0.5 0h0m0 0h0m0.5 0h0m-1 0.5h0m0 0h0m0 0h0m0 0h0m0.5 0h0m0 0h0m0 0h0m-0.5 0h0m0.5 0.5h0m1.5-114.5h0m-0.5 1h0m0 6h0m0 1h0m0.5 41h0m-0.5 4.5h0m0 13.5h0m0 0.5h0m0.5 2h0m-0.5 44h0m0 0h0m0 0h0m0 0h0m0.5 0h0m0.5-118h0m-0.5 7.5h0m1 0.5h0m-0.5 2.5h0m0.5 0.5h0m-1 0h0m0.5 1h0m-0.5 2.5h0m0 3h0m0.5 3.5h0m0.5 1h0m-0.5 2h0m0.5 1h0m-1 0h0m0.5 5h0m0 0.5h0m0.5 2h0m-0.5 1.5h0m-0.5 16.5h0m0.5 2h0m0.5 4h0m-1 1h0m1 1h0m0 3.5h0m-0.5 56h0m-0.5 0h0m1-117.5h0m0 2h0m1 3h0m0 4.5h0m0 1.5h0m-0.5 2h0m0.5 1.5h0m-0.5 1.5h0m-0.5 3.5h0m0 2h0m0 2.5h0m0.5 5.5h0m0.5 2.5h0m-1 1h0m1 0.5h0m0 2h0m0 10h0m0 1h0m-1 7h0m0.5 1.5h0m0.5 0h0m-1 3h0m0.5 0.5h0m0.5 0.5h0m-0.5 1.5h0m0 0.5h0m0.5 56.5h0m0-111.5h0m0.5 2h0m0.5 16.5h0m-0.5 1h0m0 7.5h0m-0.5 0.5h0m0.5 2.5h0m0 0.5h0m-0.5 5.5h0m0.5 1h0m0.5 2.5h0m0 2h0m0 9h0m-1 0h0m0 1.5h0m0.5 3h0m0.5 2h0m-0.5 55h0m0 0.5h0m1-94h0m0 14h0m-0.5 4.5h0m0.5 2h0m-0.5 1h0m0 19.5h0m0 3h0m0.5 49h0m0 0h0m0.5 0h0m-1 0.5h0m0.5 0h0m0.5 0h0m-0.5 0h0m0 0.5h0m0 0h0m1.5-48.5h0m0 0h0m0 47h0m-0.5 0h0m0 0h0m0.5 0h0m-0.5 0.5h0m0 0h0m0.5 0h0m-1 0.5h0m0 0h0m0 0h0m0 0h0m0 0.5h0m1.5-2.5h0m0 0.5h0m0.5 0h0m-0.5 0h0m-0.5 0.5h0m0.5 0h0m-0.5 0.5h0m0.5 0h0m0 0h0m-0.5 0h0m0 0h0m1.5-2h0m0 0h0m0 0h0m0.5 0h0m-0.5 0h0m0.5 0h0m0 0h0m0 0h0m-1 0.5h0m0.5 0.5h0m0 0h0m0 0h0m0 0.5h0m-0.5 0h0m0.5 0h0m-0.5 0h0m0 0h0m1-1.5h0m0.5 0h0m-0.5 0h0m1 0h0m0 0h0m0 0.5h0m0 0h0m0-0.5h0m0.5 0h0m0 0h0m0 0h0m0.5 0h0m-0.5 0.5h0m-0.5 0h0m0.5 0h0m0 0h0m1.5-101.5h0m-0.5 3h0m0 8h0m0 4h0m0 11h0m0 24.5h0m0.5 3.5h0m-0.5 2h0m0.5 1h0m-0.5 44h0m0 0h0m-0.5 0h0m0 0h0m1 0.5h0m0 0h0m-0.5 0h0m1-95.5h0m-0.5 2.5h0m0.5 0.5h0m-0.5 2h0m1 1h0m-1 0h0m1 1.5h0m-0.5 4h0m-0.5 3h0m1 2.5h0m-0.5 2h0m0 0.5h0m-0.5 3h0m0.5 5h0m0 0h0m0 3h0m0.5 4.5h0m-0.5 3h0m0.5 3h0m-1 0.5h0m0.5 5h0m0 4.5h0m0 1.5h0m0 1h0m-0.5 41.5h0m0.5 0.5h0m0 0h0m0 0h0m0.5 0.5h0m-0.5 0h0m1-103.5h0m-0.5 1.5h0m1 0.5h0m0 0.5h0m0 7h0m-1 3.5h0m1 0.5h0m-0.5 1h0m0 1.5h0m0 3.5h0m0 5h0m0.5 14h0m-1 3h0m0 1h0m0 4h0m0.5 0.5h0m0 1.5h0m0.5 1.5h0m-0.5 0.5h0m0 3h0m0 50h0m0 0h0m0 0h0m-0.5 0h0m0.5 0h0m0 0h0m0 0h0m0.5 0.5h0m0 0h0m-0.5 0h0m0 0h0m0.5 0h0m0-103.5h0m0.5 14.5h0m-0.5 1.5h0m0 0.5h0m0 2h0m0 3.5h0m0 11.5h0m0 5.5h0m0 2.5h0m0 8h0m0.5 3h0m-0.5 1.5h0m0.5 7.5h0m0 0h0m0 0h0m-0.5 0.5h0m0 0.5h0m1 0h0m-1 40.5h0m0.5 0h0m0.5 0h0m0 0h0m-0.5 0.5h0m0 0h0m-0.5 0h0m1.5-41.5h0m0 41h0m0 0h0m0 0h0m0 0h0m0 0h0m-0.5 0h0m0.5 0h0m-0.5 0h0m0 0h0m0 0.5h0m0.5 0h0m0.5 0h0m0 0h0m0 0.5h0m-0.5 0.5h0m0.5 0h0m-0.5 0h0m0.5 0h0m0-1h0m0.5 0h0m0 1h0m-0.5 0h0m0.5 0h0m0 0h0m0 0.5h0m0.5 0h0m0.5-1h0m-0.5 0h0m0.5 0h0m0 0h0m-0.5 0.5h0m0.5 0h0m-0.5 0h0m0.5 0h0m0.5 0.5h0m-0.5 0h0m1.5-52.5h0m-0.5 1h0m0 4h0m0 1h0m0.5 45.5h0m0 0h0m-0.5 0h0m0 0h0m0 0.5h0m0.5 0h0m-0.5 0h0m-0.5 0h0m1 0h0m0 0h0m-0.5 0.5h0m0 0h0m0 0h0m0 0h0m0.5-48h0m1 6h0m0 0.5h0m0 40h0m-0.5 0h0m0 0.5h0m0.5 0h0m0 0h0m0 0h0m-0.5 0h0m0 0.5h0m-0.5 0h0m0.5 0h0m-0.5 0.5h0m1.5-41.5h0m-0.5 39.5h0m1 0h0m0 0h0m-0.5 0h0m0.5 0h0m0 0h0m0 0h0m-0.5 0.5h0m0 0h0m0 0h0m-0.5 0.5h0m0.5 0h0m0.5-1.5h0m0 0.5h0m0.5 0h0m-0.5 0h0m0 0h0m0 0h0m1.5-50h0m0 50h0m0 0h0m0.5 0h0m-0.5 0h0m0.5 0h0m-0.5 0.5h0m0 0h0m0.5-51h0m1 50h0m-0.5 0.5h0m0 0h0m-0.5 0h0m1 0h0m0 0.5h0m-1 0h0m0.5 0h0m0 0h0m0.5 0h0m-0.5 0h0m-0.5 0h0m1.5-1h0m0 0.5h0m0 0h0m0 0h0m-0.5 0h0m0.5 0.5h0m-0.5 0h0m0 0h0m0.5 0h0m0.5 0h0m0 0h0m-0.5 0h0m0 0h0m1.5-130h0m0 9.5h0m-0.5 2h0m0.5 7.5h0m0 12h0m-0.5 1.5h0m0 2h0m0.5 0.5h0m-0.5 17h0m0 6.5h0m0 3h0m0 15h0m0.5 0.5h0m-0.5 1.5h0m0 51h0m0 0h0m0 0h0m0 0h0m0 0.5h0m-0.5 0h0m0.5 0h0m0 0h0m-0.5 0h0m0.5 0h0m0 0h0m1-151h0m0 7h0m0.5 2h0m-0.5 1.5h0m0 5.5h0m0 0.5h0m0 0.5h0m0.5 1h0m-1 3.5h0m1 6.5h0m-1 16.5h0m0 0.5h0m0 4h0m1 15.5h0m0 1h0m0 0h0m-1 2.5h0m0.5 0.5h0m0.5 4.5h0m-0.5 5h0m0 2h0m0 0.5h0m0.5 2.5h0m-0.5 0h0m-0.5 0h0m0.5 1.5h0m0 4.5h0m0 1h0m0 0h0m0 0.5h0m0.5 1h0m-0.5 0.5h0m0 2h0m-0.5 56.5h0m0.5 0.5h0m0.5-134h0m0 13h0m0 7h0m0 1h0m0.5 0.5h0m0 0.5h0m0 1.5h0m0 23h0m0.5 0h0m-0.5 5h0m-0.5 6h0m0.5 1h0m0 2.5h0m0 3h0m-0.5 0.5h0m0 0.5h0m0.5 4h0m0 4.5h0m-0.5 2h0m0.5 58h0m0 0.5h0m0.5-131h0m0 0h0m0.5 21.5h0m0 2.5h0m0 10h0m-0.5 1.5h0m0 20.5h0m0 74.5h0m0 0.5h0m0.5 0h0m-0.5 0h0m1 0h0m-1 0.5h0m0 0h0m0.5 0h0m0.5-0.5h0m0.5 0.5h0m0 0.5h0m0 0h0m1.5-69h0m-0.5 69h0m0 0.5h0m0.5 0h0m0 0.5h0m-0.5 0h0m0 0h0m0 0h0m0.5 0h0m1-104.5h0m-0.5 0h0m0.5 1h0m-0.5 3.5h0m0.5 14h0m-0.5 0h0m0 12h0m0.5 4.5h0m0 69h0m-0.5 0.5h0m0 0h0m0 0h0m0 0h0m0 0h0m-0.5 0h0m0.5 0h0m-0.5 0h0m0 0h0m1 0h0m0.5-110.5h0m-0.5 3h0m0 8h0m1 0.5h0m-1 2h0m0 0h0m0.5 4h0m0 4.5h0m0 0.5h0m0 0h0m0.5 1.5h0m-1 7h0m0.5 0h0m0.5 5.5h0m0 2h0m-1 1.5h0m0.5 70h0m0 0h0m0 0.5h0m1-114.5h0m0.5 4.5h0m-0.5 2.5h0m-0.5 1h0m0 2.5h0m1 6.5h0m-0.5 2h0m0 7.5h0m0 2h0m0 8h0m0 2.5h0m0.5 7h0m-0.5 67.5h0m-0.5 0.5h0m0.5 0h0m0 0h0m0.5 0h0m0 0h0m-1 0h0m0.5 0h0m1-80.5h0m0 2.5h0m0 2.5h0m0 0.5h0m0 4.5h0m0.5 3.5h0m-0.5 67h0m-0.5 0h0m0 0h0m1-83h0m0 2.5h0m0.5 7h0m-0.5 2h0m0 1.5h0m1.5 70.5h0m0.5 0h0m0 0h0m0 0h0m-0.5 0h0m0 0h0m0.5 0.5h0m1-92h0m0 8.5h0m0 3.5h0m0 8h0m-0.5 17h0m0.5 0.5h0m-0.5 53.5h0m-0.5 0.5h0m1 0h0m-0.5 0h0m0 0h0m0 0h0m-0.5 0h0m0 0h0m0 0.5h0m1 0h0m0 0h0m-0.5 0h0m0.5-89.5h0m0.5 3.5h0m0 5.5h0m-0.5 4.5h0m1 2.5h0m0 0h0m-0.5 16h0m0 6h0m0 51h0m0.5 0.5h0m-0.5 0h0m0 0h0m1-99.5h0m0.5 1.5h0m-0.5 5h0m-0.5 3.5h0m0 1h0m0 1h0m0.5 3h0m0 15h0m0.5 1h0m-0.5 68h0m0 0.5h0m0 0h0m0 0h0m0 0h0m-0.5 0h0m1-100h0m0.5 13h0m0 12h0m0 1h0m-0.5 2h0m0 14.5h0m0.5 57h0m0.5 0.5h0m0 0h0m-0.5 0h0m1-52.5h0m0.5 1h0m-0.5 51h0m0 0h0m-0.5 0.5h0m0.5 0h0m1.5-75.5h0m-0.5 18h0m0 1h0m0.5 1.5h0m0.5-47h0m0 3h0m0.5 4h0m-0.5 3h0m0 3h0m0.5 1.5h0m-0.5 6.5h0m0.5 3h0m0 1.5h0m0 75.5h0m0 0h0m-0.5 0h0m0.5 0.5h0m0 0h0m-0.5 0h0m1-104.5h0m0 6h0m0.5 3h0m-0.5 2h0m0 0.5h0m0 3h0m0.5 0h0m-0.5 1.5h0m0 2h0m0 3.5h0m0 0.5h0m0 0h0m-0.5 0.5h0m1 12.5h0m0 1h0m-0.5 2h0m-0.5 66h0m0.5 0h0m0.5 1h0m0 0h0m0 0.5h0m0.5-105.5h0m-0.5 2h0m0.5 6h0m0.5 2h0m-1 0h0m0.5 2h0m-0.5 4h0m1 4.5h0m-1 1.5h0m0.5 16h0m0 66.5h0m-0.5 0h0m0 0.5h0m0.5 0h0m-0.5 0h0m0.5 0.5h0m-0.5 0h0m0.5 0h0m1-99h0m0 3h0m-0.5 8h0m0.5 4h0m-0.5 11.5h0m0.5 7.5h0m0 64.5h0m0 0.5h0m1-1h0m0 0.5h0m0.5 0h0m0 0h0m-1 0h0m0.5 0.5h0m0.5 0h0m-1 0h0m0.5 0h0m0 0h0m0 0h0m1-84.5h0m0.5 11h0m-1 73h0m0.5 0h0m-0.5 0h0m1 0h0m-0.5 0.5h0m-0.5 0h0m0 0h0m0 0h0m0.5 0h0m0 0h0m0 0h0m1.5-117.5h0m0 19h0m0 23.5h0m0 2.5h0m-0.5 8.5h0m0 63.5h0m0 0h0m0 0h0m0 0h0m0 0.5h0m0.5-123.5h0m0.5 1.5h0m-0.5 6.5h0m0.5 5.5h0m0 1h0m0 4h0m0 3.5h0m0 0h0m0.5 15h0m-0.5 1.5h0m-0.5 0.5h0m0.5 0h0m0 4h0m0 2h0m0 3.5h0m0.5 4.5h0m-1 3h0m0 0.5h0m0.5 2.5h0m-0.5 64h0m0.5 0.5h0m-0.5 0h0m1 0.5h0m0 0.5h0m0 0h0m-0.5 0h0m0.5 0h0m-0.5 0h0m1-134h0m0 6h0m0 4.5h0m0.5 1h0m-0.5 0.5h0m0 3.5h0m0 2.5h0m-0.5 4.5h0m0.5 3.5h0m0.5 14.5h0m-0.5 4.5h0m0.5 4h0m-1 1h0m0 0.5h0m0 0h0m0.5 10h0m0 3.5h0m0 1.5h0m-0.5 5h0m0.5 3h0m0 0.5h0m0.5 59.5h0m-0.5 0h0m1-123.5h0m0 3.5h0m0 4.5h0m0 9.5h0m-0.5 5.5h0m0.5 5.5h0m0.5 2h0m-0.5 3.5h0m0.5 1h0m-0.5 2.5h0m-0.5 0.5h0m0.5 6.5h0m0.5 5.5h0m0 3.5h0m-1 1h0m0.5 2h0m0 1.5h0m-0.5 0.5h0m0.5 1h0m0.5 5.5h0m0 8h0m0 0.5h0m-1 49.5h0m0 0.5h0m0.5 0h0m0 0h0m-0.5 0h0m0.5 0h0m0.5 0.5h0m0 0h0m-0.5 0.5h0m0.5-112h0m0.5 3h0m-0.5 8.5h0m0.5 4h0m0 6h0m0 18h0m-0.5 2h0m0 12.5h0m0.5 0h0m0.5 10.5h0m0 0.5h0m-0.5 46.5h0m0 0h0m0 0h0m0 0.5h0m0 0h0m0 0.5h0m0 0h0m1-55h0m0 0.5h0m0 0.5h0m0 3h0m0.5 1.5h0m-0.5 0.5h0m0.5 5h0m0 5h0m-1 38h0m0.5 0h0m-0.5 0.5h0m0 0.5h0m0 0h0m0 0h0m1.5-56h0m0 16.5h0m-0.5 0.5h0m1 0.5h0m0 0.5h0m-0.5 0h0m1-8h0m-0.5 0h0m0 3.5h0m0.5 5h0m-0.5 0h0m1 36.5h0m0 0.5h0m0 0h0m0 0.5h0m-0.5 0h0m0 0h0m0 0h0m1-0.5h0m-0.5 0.5h0m0.5 0h0m0 0h0m0 0h0m0 0h0m0 0h0m0.5 0h0m0 0h0m0 0h0m0.5-37h0m0 3.5h0m0.5 1h0m0 4.5h0m-1 27h0m1 0.5h0m-0.5 0h0m-0.5 0h0m0.5 0h0m0 0h0m0 0h0m0 0h0m0 0h0m-0.5 0h0m0.5 0h0m0.5 0h0m0 0h0m0 0h0m-0.5 0h0m-0.5 0h0m0.5 0.5h0m0 0h0m-0.5 0h0m0 0h0m0.5 0h0m0.5-34h0m0 0h0m0 2.5h0m0.5 1.5h0m0 29.5h0m0.5 0.5h0m-0.5 0h0m0.5 0h0m0 0h0m0 0h0m-0.5 0.5h0m1.5-1h0m-1 0h0m0.5 0.5h0m-0.5 0h0m0.5 0h0m0.5 0h0m-1 0h0m0.5 0h0m0.5 0h0m-0.5 0h0m0 0h0m0 0.5h0m0 0h0m-0.5 0h0m0 0h0m0 0h0m1.5-27h0m-0.5 25.5h0m0.5 0.5h0m0 0h0m-0.5 0h0m0 0h0m0 0.5h0m0.5 0h0m-0.5 0h0m0.5 0h0m0.5-25.5h0m0.5 24h0m0 0h0m-0.5 0h0m0 0h0m0 0h0m0 0h0m0.5 0h0m0.5 0h0m0 0h0m1 0h0m0 0h0m-0.5 0h0m-0.5 0h0m0.5 0h0m0.5 0h0m-0.5 0h0m0 0h0m-0.5 0h0m0.5 0h0m0 0h0m0.5 0h0m-1 0h0m1.5-31h0m0.5 0h0m-0.5 3.5h0m0.5 0h0m-1 27.5h0m0.5 0h0m0 0h0m0.5 0h0m-1 0h0m0 0h0m1 0h0m-0.5 0h0m0 0h0m-0.5 0h0m0 0h0m1 0h0m-1 0h0m1 0h0m0-35h0m0 1h0m0 5.5h0m0.5 0.5h0m0.5 28h0m-0.5 0h0m0 0h0m-0.5 0h0m0.5 0h0m-0.5 0h0m0.5 0h0m-0.5 0h0m0.5 0h0m-0.5 0h0m0.5 0.5h0m0.5 0h0m-0.5 0h0m0.5 0h0m0 0h0m0 0.5h0m0 0h0m-0.5 0h0m1-1h0m0.5 0h0m0 0h0m-0.5 0.5h0m0.5 0h0m-0.5 0h0m-0.5 0.5h0m1 0h0m-1 0h0m1 0h0m-0.5 0h0m-0.5 0h0m1 0h0m-0.5 0.5h0m0 0h0m0 0h0m0.5 0h0m0-27h0m0 26h0m0 0h0m0 0h0m0.5 0.5h0m-0.5 0h0m0 0h0m1 0h0m0 0h0m-1 0.5h0m0 0h0m1 0h0m0 0h0m0 0h0m0 0h0m1-25h0m0 0.5h0m-0.5 24h0m0 0h0m0 0h0m0 0h0m0.5 0h0m-0.5 0h0m-0.5 0h0m0.5 0.5h0m-0.5 0h0m0.5 0h0m0 0h0m0.5 0h0m0 0h0m0 0h0m0 0h0m-0.5 0h0m0 0h0m1.5-25h0m-0.5 0h0m0 0.5h0m-0.5 24h0m0.5 0h0m0 0h0m0 0h0m0 0h0m0.5 0h0m-0.5 0h0m0 0.5h0m0 0h0m-0.5 0h0m0.5 0h0m-0.5 0h0m0 0h0m0.5 0h0m0.5 0h0m-0.5 0h0m0.5 0h0m-0.5 0h0m-0.5 0h0m0 0h0m0 0h0m1-0.5h0m0.5 0h0m0.5 0h0m-0.5 0h0m0.5 0.5h0m0 0h0m-0.5 0h0m0 0h0m0.5 0h0m-0.5 0h0m0.5 0h0m-0.5 0h0m0 0h0m1.5-0.5h0m-0.5 0.5h0m-0.5 0h0m0.5 0h0m-0.5 0h0m0.5 0h0m0 0h0m0 0h0m0 0.5h0m0.5 0h0m-0.5 0h0m0 0h0m0 0h0m0 0.5h0m0 0h0m0 0h0m0 0h0m0 0h0m0.5-1h0m0.5 0h0m0 0h0m0 0h0m0 0h0m0 0.5h0m0.5 0h0m-1 0h0m1 0h0m-0.5 0h0m0.5 0.5h0m-1 0h0m0.5 0h0m-0.5 0h0m1 0h0m-0.5 0h0m0 0h0m0.5 0h0m0 0h0m1-26.5h0m0 3h0m0 23h0m-0.5 0h0m-0.5 0h0m1 0h0m-0.5 0h0m-0.5 0h0m0.5 0.5h0m0 0h0m0 0h0m0 0h0m-0.5 0h0m1 0.5h0m0 0h0m-0.5 0.5h0m0.5-28.5h0m0 2.5h0m0.5 3h0m-0.5 22h0m1 0h0m0 0h0m0 0h0m-0.5 0h0m-0.5 0.5h0m0.5 0h0m0 0h0m-0.5 0.5h0m0 0h0m1.5-23h0m0 0.5h0m0.5 20.5h0m0 0h0m0 0h0m0 0h0m0 0.5h0m-0.5 0h0m0.5 0h0m-0.5 0.5h0m0.5 0h0m0 0h0m-1 0h0m0.5 0h0m1.5-1.5h0m0 0h0m-1 0h0m0.5 0h0m0.5 0h0m-0.5 0.5h0m0 0h0m0.5 0h0m0 0h0m-0.5 0h0m0 0h0m0 0h0m0 0h0m-0.5 0h0m0 0.5h0m0 0h0m0.5 0h0m0 0.5h0m-0.5 0h0m0.5 0h0m1.5-1.5h0m-1 0h0m0.5 0h0m0 0h0m0 0h0m-0.5 0h0m0.5 0h0m-0.5 0h0m0 0h0m0 0h0m0 0.5h0m0 0h0m0 0h0m0 0h0m0.5 0h0m-0.5 0h0m1.5-21.5h0m0 1h0m-0.5 20h0m1 0h0m-0.5 0h0m0 0.5h0m0 0h0m0.5 0h0m-0.5 0h0m0.5-21h0m0 0h0m0 20.5h0m0.5 0h0m0 0h0m0.5 0.5h0m-0.5 0h0m-0.5 0h0m0.5 0h0m0.5 0.5h0m0 0h0m-0.5 0h0m1-1h0m0 0h0m0 0h0m0 0.5h0m0 0h0m-0.5 0h0m0.5 0h0m0.5 0h0m-0.5 0h0m0 0h0m0 0h0m0 0h0m0 0.5h0m0.5 0h0m0 0h0m-0.5 0h0m-0.5 0h0m0 0h0m0 0h0m0.5 0h0m-0.5 0h0m0.5 0h0m0 0h0m1.5-26h0m-0.5 1h0m0.5 23.5h0m-0.5 0.5h0m0.5 0h0m-0.5 0h0m0 0h0m0 0h0m0 0h0m0 0.5h0m0 0h0m0 0h0m-0.5 0h0m1 0h0m-0.5 0h0m-0.5 0h0m1 0h0m-1 0h0m0.5 0.5h0m0 0h0m-0.5 0h0m0.5 0h0m-0.5 0h0m0.5 0h0m1-27.5h0m-0.5 1h0m0.5 0.5h0m0 1h0m0.5 23.5h0m-0.5 0.5h0m-0.5 0h0m0.5 0h0m-0.5 0h0m1 0h0m-0.5 0h0m0.5 0h0m0 0h0m0 0h0m0 0.5h0m0 0h0m-0.5 0h0m0.5 0h0m0 0h0m-0.5 0h0m0 0h0m0 0h0m0 0.5h0m0 0h0m0 0h0m0 0h0m0.5-1h0m0 0h0m0 0h0m0.5 0h0m0 0.5h0m-0.5 0h0m1.5-26h0m0 25.5h0m0.5 0h0m-0.5 0h0m0 0h0m0 0.5h0m0 0h0m0 0h0m0.5 0h0m0 0.5h0m0 0h0m0.5-1h0m0 0h0m0 0h0m-0.5 0h0m0.5 0.5h0m0 0h0m-0.5 0h0m0.5 0h0m0.5 0h0m0 0h0m-0.5 0h0m0.5 0h0m-0.5 0h0m-0.5 0h0m0 0.5h0m1.5-1.5h0m-0.5 0h0m1 0.5h0m-0.5 0h0m0 0h0m0 0h0m0 0h0m-0.5 0h0m0.5 0h0m0 0h0m0.5 0h0m-1 0h0m0.5 0h0m0 0.5h0m-0.5 0h0m0 0h0m0.5 0h0m0 0h0m0 0h0m0 0h0m0.5 0h0m0 0h0m-0.5 0h0m0 0h0m1.5-26h0m-1 25.5h0m0 0h0m0 0h0m0 0h0m0.5 0.5h0m0.5 0h0m-0.5 0h0m0.5 0h0m-0.5 0h0m0.5 0h0m-1 0h0m0 0h0m0.5 0.5h0m0 0h0m1.5-30h0m0 0.5h0m0 3h0m0 26h0m-1 0h0m0.5 0h0m-0.5 0h0m0 0.5h0m0 0h0m0.5 0h0m-0.5 0h0m0.5 0h0m-0.5 0h0m0.5 0h0m0 0h0m0 0h0m0.5 0.5h0m-0.5 0h0m1-29.5h0m-0.5 0.5h0m1 27.5h0m-0.5 0h0m0.5 0h0m0 0.5h0m-1 0h0m1 0h0m-0.5 0h0m0.5 0h0m-0.5 0h0m-0.5 0.5h0m0.5 0h0m-0.5 0h0m0.5 0.5h0m0 0h0m0 0h0m1.5-1.5h0m0 0h0m-1 0h0m1 0h0m-1 0.5h0m0.5 0h0m0 0h0m0 0h0m0.5 0h0m-0.5 0h0m-0.5 0h0m1 0h0m-0.5 0.5h0m0.5 0h0m-0.5 0h0m0 0h0m1.5-25h0m0 0.5h0m-1 23.5h0m0.5 0h0m0.5 0h0m0 0h0m-1 0.5h0m0.5 0h0m0 0h0m-0.5 0h0m0 0h0m0 0h0m0 0h0m1-25h0m0 0.5h0m0 0.5h0m1 0.5h0m0 0.5h0m-0.5 0.5h0m0 0h0m0 0.5h0m0.5 21.5h0m-0.5 0h0m0.5 0h0m-1 0h0m1 0h0m-0.5 0.5h0m0.5 0h0m-0.5 0h0m-0.5 0h0m1 0h0m-0.5 0h0m0 0h0m0 0h0m-0.5 0h0m0 0h0m0.5 0h0m0 0h0m0.5-20h0m0 2.5h0m0.5 0.5h0m-0.5 1h0m0.5 15h0m0 0.5h0m0.5 0h0m0 0h0m-1 0h0m1 0h0m-0.5 0h0m-0.5 0h0m0.5 0h0m0 0h0m0 0h0m0 0.5h0m0 0h0m-0.5 0h0m0.5 0h0m0.5-15h0m0.5 14h0m0 0h0m0 0h0m0.5 0.5h0m-0.5 0h0m0 0h0m0 0h0m0 0h0m0 0h0m0 0h0m-0.5 0h0m0.5 0h0m0 0h0m0 0h0m-0.5 0h0m1.5-0.5h0m0.5 0.5h0m-0.5 0h0m-0.5 0h0m0 0h0m1 0h0m-1 0h0m0 0h0m0 0h0m0 0h0m0.5 0h0m0 0h0m0.5 0h0m-0.5 0h0m0.5 0h0m0 0.5h0m0 0h0m0 0h0m0 0h0m0 0h0m-0.5 0h0m0 0h0m0.5 0h0m0.5-15h0m0.5 0h0m-1 14.5h0m0.5 0h0m-0.5 0h0m0 0h0m0.5 0h0m0 0h0m0 0.5h0m0 0h0m0 0h0m-0.5 0h0m0.5 0h0m0.5 0.5h0m0 0h0m0 0h0m0 0.5h0m-0.5 0h0m0 0h0m0.5-16.5h0m0.5 1h0m-0.5 14.5h0m0.5 0h0m0 0h0m-0.5 0h0m0.5 0h0m0 0.5h0m0 0h0m0.5 0h0m-1 0h0m0.5 0.5h0m-0.5 0h0m0.5 0h0m0.5 0h0m-1 0h0m0.5 0h0m0 0h0m0.5 0h0m0 0h0m1-17h0m-0.5 16.5h0m0 0h0m0 0.5h0m-0.5 0h0m0 0h0m0.5 0h0m-0.5 0h0m0.5 0h0m-0.5 0h0m0.5 0h0m0.5 0h0m0 0h0m-0.5 0h0m0 0h0m0 0h0m0.5 0.5h0m-0.5 0h0m0 0h0m0 0h0m0.5-17h0m0.5 16.5h0m0.5 0h0m-0.5 0.5h0m-0.5 0h0m0.5 0h0m-0.5 0h0m0.5 0h0m0 0h0m0.5 0h0m0 0h0m-0.5 0.5h0m0.5 0h0m0 0h0m1-22.5h0m0 0h0m0 0.5h0m0 1.5h0m-0.5 0.5h0m0 1h0m-0.5 18.5h0m0 0h0m0.5 0h0m0 0h0m0.5 0.5h0m-0.5 0h0m-0.5 0h0m0.5 0h0m0 0h0m0.5 0.5h0m-0.5 0h0m0.5 0h0m-0.5 0h0m0.5 0h0m-0.5 0h0m0 0h0m0 0h0m0 0h0m0.5-22.5h0m0 3h0m0.5 18.5h0m-0.5 0h0m0.5 0h0m0 0.5h0m0 0h0m0 0h0m0 0h0m0 0h0m0 0h0m0 0h0m-0.5 0.5h0m0 0h0m0.5 0h0m1-1h0m0.5 0h0m-0.5 0h0m0 0h0m0 0h0m0.5 0h0m0 0h0m-0.5 0h0m0.5 0.5h0m-1 0h0m0 0h0m0.5 0h0m0 0h0m-0.5 0h0m0 0h0m2-1h0m-0.5 0h0m0.5 0.5h0m0 0h0m-0.5 0h0m0 0h0m0 0h0m0.5 0h0m0 0h0m-0.5 0h0m0.5 0h0m-0.5 0h0m-0.5 0h0m0.5 0h0m0 0h0m0 0h0m0.5 0h0m-0.5 0h0m0 0.5h0m0 0h0m0 0h0m0 0h0m0 0h0m1-20h0m0 18.5h0m0.5 0h0m0 0h0m0 0.5h0m-0.5 0.5h0m-0.5 0h0m0.5 0h0m0 0h0m0 0.5h0m0 0h0m0 0h0m-0.5 0h0m0 0h0m1-27h0m0.5 2.5h0m-0.5 0.5h0m0 1h0m0.5 21.5h0m0.5 0h0m-0.5 0h0m0 0h0m0 0h0m0.5 0h0m-0.5 0h0m0 0h0m0 0h0m0 0.5h0m-0.5 0h0m0 0h0m0 0h0m0.5 0h0m-0.5 0h0m1.5-17.5h0m0.5 0.5h0m-0.5 16h0m0 0.5h0m0.5 0h0m-0.5 0h0m0 0h0m0.5 0h0m-1 0h0m0 0h0m0.5 0h0m0.5-16.5h0m0.5 0.5h0m0 1h0m-0.5 1h0m0.5 0h0m0.5 13.5h0m-0.5 0h0m0 0.5h0m0 0h0m0 0h0m0 0h0m0 0h0m0.5 0h0m1-0.5h0m-0.5 0.5h0m-0.5 0h0m0.5 0h0m0 0h0m0 0h0m-0.5 0h0m0.5 0h0m0 0h0m0 0h0m0.5 0h0m0 0h0m-0.5 0h0m0 0.5h0m0 0h0m0 0h0m0 0h0m0.5 0h0m0-0.5h0m0.5 0h0m0.5 0h0m-0.5 0h0m-0.5 0h0m0.5 0h0m0 0.5h0m0 0h0m0.5 0h0m-0.5 0h0m0.5 0h0m0-13.5h0m0 13h0m0.5 0h0m0 0h0m0 0.5h0m0 0h0m0.5 0h0m-1 0h0m0 0h0m0 0h0m1 0h0m0 0h0m0.5 0h0m0 0h0m0 0h0m-0.5 0h0m0.5 0h0m0 0.5h0m0 0.5h0m0.5 0h0m-0.5 0.5h0m0 0h0m0 0h0m0.5 0.5h0m0 0h0m-0.5 0h0m0 0h0m0 0h0m1-16.5h0m0 15.5h0m-0.5 0h0m0 0h0m0.5 0h0m-0.5 0h0m1 0.5h0m-0.5 0h0m0 0h0m0 0h0m-0.5 0h0m0 0h0m0.5 0.5h0m0.5 0h0m-1 0h0m1 0h0m0 0h0m0 0h0m-1 0h0m1.5-17h0m0.5 1h0m-0.5 1h0m0 0h0m0.5 0h0m-0.5 0h0m0.5 1.5h0m0 13h0m0 0h0m0 0h0m-0.5 0h0m-0.5 0h0m0 0.5h0m0.5 0h0m-0.5 0h0m0 0h0m0.5 0h0m0.5-15h0m0 0.5h0m0 0h0m0.5 0.5h0m-0.5 1h0m0.5 0.5h0m0.5 0h0m-1 11.5h0m0 0h0m0 0h0m0.5 0.5h0m-0.5 0h0m0.5 0h0m0.5 0h0m-0.5 0h0m0 0h0m0.5 0.5h0m-0.5 0h0m0 0h0m0.5 0h0m-0.5 0h0m0 0h0m0 0h0m0 0h0m0.5-12.5h0m0.5 11.5h0m0 0.5h0m-0.5 0h0m0 0h0m1 0h0m-0.5 0h0m-0.5 0h0m1 0h0m-0.5 0h0m0 0.5h0m0.5 0h0m0 0h0m-0.5 0h0m0 0h0m0.5-0.5h0m0.5 0h0m0 0h0m0 0h0m-0.5 0h0m0.5 0.5h0m-0.5 0h0m0 0h0m0 0h0m0 0h0m0 0h0m2-0.5h0m0 0.5h0m-0.5 0h0m0.5 0h0m0 0h0m-0.5 0h0m0 0h0m0.5 0h0m1-0.5h0m0 0h0m-0.5 0h0m-0.5 0h0m1 0h0m-0.5 0h0m0.5 0h0m-1 0h0m0 0h0m0.5 0.5h0m0.5 0h0m-1 0h0m0.5 0h0m0.5 0h0m-0.5 0h0m-0.5 0h0m1 0h0m0 0h0m-0.5 0h0m0 0h0m-0.5 0h0m0.5 0h0m0.5 0h0m1-13.5h0m0 1h0m-0.5 0h0m0.5 0.5h0m-1 0h0m0.5 11.5h0m-0.5 0h0m0.5 0h0m-0.5 0.5h0m0.5 0h0m-0.5 0h0m0.5 0h0m-0.5 0h0m0 0h0m1-14h0m0 0h0m0.5 0.5h0m0 1h0m0 1h0m-0.5 0h0m1.5 1h0m0 0h0m0 0h0m0.5 0h0m-0.5 10h0m0 0h0m0.5 0h0m0 0h0m0 0h0m-0.5 0h0m0.5 0h0m0-10.5h0m0.5 0.5h0m0 0.5h0m-0.5 0.5h0m0.5 0h0m0 0h0m-0.5 8.5h0m0.5 0h0m0 0h0m0 0.5h0m0 0h0m0 0h0m0 0h0m0 0h0m1-0.5h0m0.5 0.5h0m0 0h0m0 0h0m0 0h0m-0.5 0h0m0.5 0h0m0.5 0h0m-0.5 0h0m0 0h0m0 0h0m1 0.5h0m0 0.5h0m0 0h0m-0.5 0h0m0 0h0m0.5 0h0m0 0h0m0 0h0m-0.5 0h0m0 0h0m0 0h0m1.5-10h0m0 9h0m-0.5 0h0m0 0h0m0 0h0m0.5 0.5h0m-0.5 0h0m0.5 0h0m0 0h0m-1 0h0m0 0h0m0.5 0h0m-0.5 0h0m1 0h0m-0.5 0h0m0 0.5h0m-0.5 0h0m0 0h0m0.5 0h0m-0.5 0h0m0.5 0h0m-0.5 0h0m0.5 0h0m0 0h0m0 0h0m0 0h0m1-20.5h0m0 2.5h0m0.5 3h0m0 1h0m0 2.5h0m-0.5 1h0m-0.5 0h0m0 0h0m0.5 0.5h0m-0.5 0h0m1 8.5h0m-1 0.5h0m0.5 0h0m0 0h0m0.5 0h0m-0.5 0h0m0 0h0m0.5 0h0m0 0h0m-0.5 0h0m0 0h0m-0.5 0h0m0.5 0h0m-0.5 0.5h0m0 0h0m0.5 0h0m-0.5 0h0m0.5 0h0m-0.5 0h0m0 0h0m0.5 0h0m1-19.5h0m0 1h0m0 2.5h0m-0.5 0.5h0m0.5 1h0m0 0.5h0m0 1.5h0m0 1h0m-0.5 0.5h0m0.5 0.5h0m0.5 9.5h0m-1 0h0m1 0.5h0m0 0h0m-1 0h0m0.5 0h0m0 0h0m0 0h0m0 0h0m0.5 0h0m-0.5 0.5h0m0.5 0h0m-0.5 0h0m0 0h0m0.5 0h0m1-1.5h0m0 0h0m-0.5 0h0m0 0h0m0.5 0h0m0 0h0m-0.5 0.5h0m0 0h0m0 0h0m0 0h0m-0.5 0h0m0.5 0h0m0.5 0h0m-0.5 0h0m0 0h0m0.5 0h0m-0.5 0h0m0 0h0m0 0h0m0.5 0h0m0 0h0m-0.5 0.5h0m0 0h0m-0.5 0h0m0 0.5h0m0.5 0h0m0 0h0m-0.5 0h0m2-15h0m0 0h0m0 1h0m-0.5 12h0m0.5 0.5h0m0 0h0m0 0h0m-0.5 0h0m0 0h0m-0.5 0h0m0.5 0h0m0 0h0m0 0.5h0m-0.5 0h0m0.5 0h0m-0.5 0h0m0.5 0h0m1.5-20.5h0m0 0.5h0m-0.5 1.5h0m0.5 2h0m-0.5 0h0m0 0.5h0m0 0.5h0m0 2h0m0.5 0h0m0 0.5h0m-1 0h0m0 0.5h0m0.5 0.5h0m0.5 1h0m-0.5 0.5h0m0.5 0.5h0m0 1h0m-0.5 8h0m0 0h0m0 0.5h0m0 0h0m0 0h0m-0.5 0h0m0 0h0m0 0h0m0.5 0h0m0 0h0m0 0h0m0.5 0.5h0m0 0h0m0 0h0m0 0h0m0 0.5h0m0-24h0m0 1.5h0m0.5 0.5h0m-0.5 6h0m0 1h0m0 0h0m0.5 1.5h0m0 0h0m-0.5 0h0m0 3h0m0.5 9.5h0m0 0h0m0 0h0m-0.5 0.5h0m1 0h0m-0.5 0h0m-0.5 0.5h0m1 0h0m-0.5 0h0m-0.5 0h0m0 0h0m1 0h0m0 0h0m0 0h0m-1 0h0m1 0h0m-0.5 0h0m1.5-1.5h0m-0.5 0.5h0m0.5 0h0m-0.5 0h0m0 0h0m0.5 0h0m-1 0h0m0.5 0h0m0.5 0h0m0 0h0m-0.5 0h0m0 0h0m-0.5 0.5h0m1 0h0m-0.5 0h0m0.5 0h0m-0.5 0h0m0 0h0m0.5 0h0m-0.5 0h0m-0.5 0.5h0m0 0h0m0 0h0m0 0h0m0.5 0h0m-0.5 0h0m1-8.5h0m0.5 7h0m0.5 0h0m-0.5 0h0m0.5 0h0m-0.5 0.5h0m0.5 0h0m-1 0.5h0m0.5 0h0m0 0h0m0 0h0m0 0h0m-0.5 0h0m0.5 0h0m-0.5 0h0m1.5-8.5h0m0 0h0m0.5 0h0m-0.5 0h0m0.5 7h0m0 0h0m0 0h0m-0.5 0h0m0 0h0m0.5 0h0m0 0h0m-0.5 0h0m0.5 0.5h0m0 0h0m-1 0h0m1 0h0m-1 0h0m0.5 0h0m-0.5 0h0m0.5 0h0m0 0h0m-0.5 0h0m0 0h0m0.5 0.5h0m-0.5 0h0m0.5 0h0m0 0h0m-0.5 0h0m0.5 0h0m-0.5 0h0m0.5 0h0m0 0h0m1.5-8.5h0m-0.5 0h0m-0.5 0.5h0m1 0h0m-0.5 0h0m-0.5 0h0m0.5 0.5h0m0 0h0m-0.5 6.5h0m0 0h0m0 0h0m0.5 0h0m0 0h0m0 0h0m-0.5 0.5h0m0.5 0h0m0.5 0h0m0 0h0m0 0h0m0 0h0m0-8h0m0.5 1h0m-0.5 0h0m0.5 0.5h0m0.5 5.5h0m-0.5 0.5h0m-0.5 0h0m0 0h0m0.5 0h0m0 0h0m0 0.5h0m-0.5 0h0m0.5 0h0m-0.5 0h0m0.5 0h0m-0.5 0h0m0.5 0h0m0.5 0h0m-0.5 0h0m0 0h0m0 0h0m0 0h0m0 0h0m-0.5 0h0m0.5 0h0m-0.5 0h0m0.5 0h0m-0.5 0h0m0.5 0h0m-0.5 0h0m0.5 0h0m0.5 0.5h0m0 0h0m-0.5 0h0m0 0h0m0 0h0m0 0h0m0.5-7h0m0 6h0m0 0h0m0.5 0h0m0 0h0m0 0.5h0m0.5 0h0m0 0h0m-1 0h0m0.5 0h0m-0.5 0h0m0.5 0h0m-0.5 0h0m0.5 0h0m0.5 0h0m-1 0h0m1 0h0m0 0h0m-0.5 0h0m0 0h0m-0.5 0h0m0 0h0m1 0.5h0m-0.5 0h0m-0.5 0h0m0 0h0m0.5 0h0m0.5 0h0m-0.5 0h0m0 0.5h0m0.5 0h0m-0.5 0h0m0.5 0h0m0 0h0m-0.5 0h0m0.5 0h0m-0.5 0h0m1-7h0m0 0h0m-0.5 6h0m0 0h0m0.5 0h0m-0.5 0h0m0 0.5h0m0 0h0m0.5 0h0m-0.5 0h0m0.5 0h0m-0.5 0h0m0.5 0h0m0.5 0.5h0m-0.5 0h0m0.5 0h0m-1 0h0m0.5 0h0m0 0h0m0 0h0m-0.5 0h0m0.5 0h0m0 0.5h0m0 0h0m0.5 0h0m0 0h0m0 0h0m-0.5 0h0m0 0h0m0 0h0m0 0.5h0m0.5 0h0m0 0h0m0 0h0m-0.5 0h0m0 0h0m0.5-8.5h0m0.5 0.5h0m0 0.5h0m0 6.5h0m-0.5 0.5h0m0.5 0h0m0 0h0m0.5 0h0m-0.5 0h0m0 0h0m0 0.5h0m0 0h0m0.5 0h0m-1 0h0m0.5 0h0m0 0h0m-0.5 0h0m0.5 0h0m0.5 0h0m0 0h0m-0.5 0h0m0 0.5h0m0.5 0h0m0 0h0m0 0h0m-0.5 0h0m0.5 0h0m0.5-1h0m-0.5 0h0m0 0h0m0.5 0.5h0m0 0h0m0 0h0m0.5 0h0m-0.5 0h0m-0.5 0h0m0.5 0h0m0.5 0h0m-0.5 0h0m-0.5 0.5h0m0 0h0m0 0h0m0 0h0m0.5 0h0m-0.5 0h0m0 0h0m0.5 0h0m0 0h0m1.5-8h0m-1 7.5h0m0 0h0m0.5 0h0m-0.5 0h0m0 0h0m0.5 0h0m-0.5 0h0m0.5 0h0m0 0h0m-0.5 0h0m0 0h0m0.5 0h0m0 0.5h0m0 0h0m0.5 0h0m0 0h0m0 0h0m0.5-8h0m0 7.5h0m0.5 0h0m-0.5 0.5h0m0 0h0m0.5 0h0m-0.5 0h0m0 0h0m0 0h0m-0.5 0h0m0 0h0m1.5-10h0m0.5 1h0m-0.5 8.5h0m0 0h0m-0.5 0.5h0m0 0h0m0 0h0m0 0h0m0.5 0h0m0 0h0m0.5 0h0m-0.5 0h0m0 0h0m-0.5 0h0m0.5 0h0m-0.5 0h0m1-10h0m0 0h0m0.5 0.5h0m0 9h0m-0.5 0.5h0m1 0h0m-0.5 0h0m0 0h0m0 0h0m0.5 0h0m-0.5 0h0m-0.5 0h0m1 0h0m0 0h0m-0.5 0h0m1-11h0m0.5 0h0m0 1h0m-0.5 0h0m0 9.5h0m-0.5 0.5h0m0 0h0m0.5 0h0m0 0h0m0 0h0m0.5 0h0m0 0.5h0m0 0h0m0 0h0m0 0h0m0 0h0m-0.5 0h0m0.5 0h0m0-12h0m0 1h0m0 0h0m1 9h0m0 0h0m-0.5 0h0m0.5 0h0m-0.5 0.5h0m0.5 0h0m-0.5 0h0m0.5 0h0m-0.5 0h0m-0.5 0.5h0m0 0h0m0.5 0h0m0 0h0m0 0h0m0 0.5h0m0 0.5h0m-0.5 0h0m0 0h0m0 0h0m0.5 0h0m-0.5 0h0m0.5 0h0m1-13h0m0 10.5h0m0 0h0m0 0h0m0.5 0h0m-1 0.5h0m0.5 0h0m-0.5 0h0m0.5 0h0m0.5 0h0m-1 0h0m1 0h0m0 0h0m-0.5 0h0m0.5 0h0m0 0h0m0 0h0m0 0h0m-0.5 0h0m0 0h0m-0.5 0h0m0.5 0h0m0 0.5h0m0 0h0m0 0h0m0 0h0m0.5-11.5h0m0.5 10.5h0m0.5 0h0m-0.5 0h0m0.5 0h0m-0.5 0h0m0.5 0h0m-0.5 0h0m0 0h0m0.5 0h0m-1 0h0m0.5 0h0m0 0.5h0m-0.5 0h0m0 0h0m0.5 0h0m-0.5 0h0m0.5 0h0m-0.5 0h0m0.5 0h0m0 0h0m-0.5 0h0m0.5 0h0m1.5-12h0m-0.5 0.5h0m0 0h0m0 0h0m0.5 1h0m0 1.5h0m-1 8h0m0.5 0.5h0m-0.5 0h0m1 0h0m-0.5 0h0m1-11.5h0m0 0.5h0m0 0h0m-0.5 1.5h0m0 0h0m0.5 1.5h0m0 0.5h0m-0.5 0h0m1 1h0m0 6h0m-1 0.5h0m0.5 0h0m0.5 0h0m-1 0h0m0 0h0m0.5 0h0m0 0h0m0 0h0m0.5 0h0m-1 0h0m0.5 0h0m0.5 0h0m0 0h0m-0.5 0h0m0.5 0h0m0.5-7h0m-0.5 0h0m0.5 0h0m0 0h0m-0.5 1h0m0.5 0h0m0.5 0h0m-1 5.5h0m0 0.5h0m1 0h0m-1 0h0m0 0h0m0.5 0h0m-0.5 0h0m0 0h0m0 0h0m0 0h0m0 0h0m1 0h0m-0.5 0.5h0m0 0h0m0 0h0m0.5 0h0m-0.5 0h0m0.5 0h0m0 0h0m0 0h0m-0.5 0h0m1-7h0m-0.5 0.5h0m0.5 0h0m0 0h0m-0.5 6h0m1 0h0m0 0h0m-0.5 0h0m0 0h0m0.5 0h0m-0.5 0h0m0 0h0m0 0h0m0 0h0m0 0h0m0 0h0m-0.5 0h0m0.5 0h0m0 0h0m0 0.5h0m0 0h0m0 0h0m0 0h0m0 0h0m-0.5 0h0m0.5 0h0m-0.5 0h0m1.5-1h0m-0.5 0.5h0m0.5 0h0m-0.5 0h0m0.5 0h0m-0.5 0h0m0.5 0h0m0 0h0m0 0.5h0m0.5 0h0m-0.5 0h0m0.5 0.5h0m0 0h0m-0.5 0h0m0.5 0h0m0 0h0m-0.5 0h0m0 0h0m1-8h0m0.5 0h0m0 0.5h0m-0.5 0.5h0m0 6h0m0 0h0m0 0.5h0m0 0h0m-0.5 0h0m0.5 0h0m-0.5 0h0m0 0h0m0 0h0m1 0h0m-0.5 0h0m-0.5 0h0m0.5 0h0m-0.5 0.5h0m0 0h0m0.5 0h0m0 0h0m0 0h0m-0.5 0h0m1 0h0m-0.5 0h0m0 0h0m0 0h0m0 0.5h0m0 0h0m0.5 0h0m-0.5 0h0m0.5 0h0m0 0h0m0-8.5h0m0 0.5h0m0 0h0m0.5 0h0m-0.5 0.5h0m0 0h0m0 6.5h0m0 0h0m0 0h0m0.5 0h0m-0.5 0h0m0 0h0m0.5 0h0m0.5 0h0m-0.5 0.5h0m-0.5 0h0m0.5 0h0m0.5 0h0m-0.5 0h0m0 0h0m-0.5 0h0m0.5 0.5h0m0 0h0m1.5-9h0m-0.5 8h0m0 0h0m-0.5 0.5h0m0.5 0h0m0.5 0h0m-0.5 0h0m0 0h0m-0.5 0h0m0.5 0h0m-0.5 0h0m1 0h0m0 0h0m-0.5 0h0m0.5 0h0m0-8.5h0m0.5 0h0m-0.5 0.5h0m0 0.5h0m0.5 0h0m0 0h0m0.5 6.5h0m0 0.5h0m-1 0.5h0m0.5 0h0m0 0h0m0 0h0m-0.5 0h0m0.5 0h0m-0.5 0h0m0 0h0m1 0h0m0 0h0m0 0h0m-0.5 0h0m0 0h0m0.5 0h0m-0.5 0h0m0.5 0h0m-0.5 0h0m1-1h0m0.5 0h0m-0.5 0h0m0.5 0h0m-0.5 0h0m0 0h0m0 0.5h0m0 0h0m-0.5 0h0m1 0h0m-0.5 0h0m0 0h0m0.5 0h0m0 0h0m-0.5 0h0m0 0h0m0.5 0h0m-0.5 0h0m0.5 0.5h0m-0.5 0h0m0 0h0m0 0h0m0.5 0h0m-1 0h0m0 0h0m1 0h0m-0.5 0h0m0.5 0h0m-1 0h0m0.5 0h0m0 0h0m-0.5 0h0m0.5 0h0m-0.5 0h0m0 0h0m0.5 0h0m0 0h0m0 0h0m-0.5 0.5h0m2-2h0m-0.5 0h0m-0.5 0.5h0m0.5 0h0m0 0h0m-0.5 0h0m0 0.5h0m0 0h0m0 0h0m0 0h0m0.5 0h0m-0.5 0.5h0m0.5 0h0m-0.5 0h0m2-7.5h0m-0.5 0.5h0m0 0.5h0m0.5 0h0m-1 5h0m0 0h0m0.5 0h0m0 0.5h0m0 0h0m0 0h0m0.5 0h0m-0.5 0h0m0 0h0m0.5 0h0m-0.5 0.5h0m0 0h0m0.5 0h0m-0.5 0h0m0 0h0m0 0h0m0.5 0h0m0 0h0m0 0h0m0 0h0m0-7h0m0.5 0.5h0m-0.5 0.5h0m0.5 0h0m0 0h0m0 0h0m0 0h0m0 0h0m0 0h0m0 0.5h0m0 5h0m0 0h0m-0.5 0h0m0.5 0h0m0 0h0m0 0.5h0m0 0h0m0 0h0m0 0h0m-0.5 0h0m1 0h0m-1 0h0m0 0h0m0.5 0h0m0 0h0m-0.5 0h0m0.5 0h0m-0.5 0h0m0.5 0h0m0 0h0m0 0h0m0.5 0h0m-0.5 0h0m0 0.5h0m0.5 0h0m0 0h0m-0.5 0h0m0 0h0m1-6.5h0m-0.5 0.5h0m0 5.5h0m0 0h0m0 0h0m1 0h0m-1 0h0m1 0.5h0m-1 0h0m0 0h0m0.5 0h0m0.5 0h0m-1 0h0m0.5 0h0m0 0h0m-0.5 0h0m0.5 0h0m-0.5 0h0m0.5 0h0m0.5 0h0m0 0.5h0m-0.5 0h0m0 0h0m0 0h0m0 0h0m0.5 0h0m0 0h0m0 0h0m0 0h0m0.5-6.5h0m0 6h0m-0.5 0h0m1 0h0m-0.5 0h0m0 0h0m-0.5 0h0m0.5 0.5h0m0.5 0h0m-1 0h0m0.5 0h0m0.5 0h0m-0.5 0h0m-0.5 0h0m0.5 0h0m0 0h0m-0.5 0h0m0 0h0m0 0h0m0.5 0h0m0 0h0m0 0h0m0 0h0m-0.5 0h0m0.5 0.5h0m0 0h0m0 0h0m0 0h0m0.5 0h0m0.5-8h0m0 0h0m0 0.5h0m-0.5 6.5h0m0 0.5h0m0.5 0h0m0 0.5h0m0 0h0m-0.5 0h0m0 0h0m0 0h0m0.5 0h0m0 0h0m0.5 0h0m-0.5 0.5h0m0.5 0h0m0 0h0m0 0h0m-0.5 0h0m0 0h0m0.5 0h0m1-10.5h0m0 0.5h0m-0.5 0.5h0m0.5 0h0m-0.5 1h0m0 0.5h0m0.5 7.5h0m-1 0h0m0.5 0h0m-0.5 0h0m0.5 0h0m-0.5 0.5h0m0.5 0h0m0 0h0m0 0h0m0 0h0m0 0h0m0 0h0m0 0h0m-0.5 0h0m0 0h0m2-13.5h0m-0.5 0.5h0m0.5 0.5h0m0 0h0m-0.5 0.5h0m0 1h0m0.5 0h0m0 0.5h0m-0.5 0h0m0 0h0m0 0.5h0m0 9h0m-0.5 0h0m0.5 0h0m-0.5 0.5h0m0.5 0h0m0.5 0h0m0 0h0m-0.5 0h0m0 0h0m0 0h0m-0.5 0h0m0.5 0.5h0m0 0h0m0 0h0m1-13h0m0 0h0m0.5 1h0m-0.5 0h0m-0.5 0.5h0m1 0h0m0 0.5h0m-0.5 10h0m-0.5 0h0m0 0h0m0.5 0.5h0m-0.5 0h0m0 0h0m0.5 0h0m-0.5 0h0m1 0h0m-0.5 0h0m0.5 0h0m0 0h0m0 0.5h0m0 0h0m0 0h0m-0.5 0h0m0.5 0h0m-0.5 0h0m1.5-11.5h0m-0.5 1h0m-0.5 10h0m0 0h0m0.5 0h0m-0.5 0h0m0 0h0m0.5 0h0m-0.5 0h0m0 0.5h0m0.5 0h0m0 0h0m-0.5 0h0m0 0h0m1-11.5h0m0 0.5h0m0.5 0.5h0m-0.5 0h0m0.5 0h0m0.5 10h0m0 0h0m-0.5 0h0m0 0h0m0 0h0m0 0h0m0 0h0m0 0h0m0.5 0h0m1-11h0m0 0h0m-0.5 0.5h0m0.5 0.5h0m-1 10h0m0.5 0h0m-0.5 0h0m0 0h0m0 0h0m0 0h0m0.5 0h0m0 0h0m0 0h0m0 0h0m0.5-11h0m0.5 0h0m-0.5 0.5h0m0.5 0.5h0m0 0h0m0.5 9.5h0m0 0h0m0 0h0m-0.5 0h0m0 0h0m0 0.5h0m0.5 0h0m-0.5 0h0m0.5 0.5h0m0 0h0m-0.5 0h0m1-13h0m0.5 0.5h0m-0.5 1h0m0.5 10h0m0 0h0m-1 0.5h0m0 0h0m0.5 0.5h0m0 0h0m0 0h0m0 0h0m-0.5 0h0m0 0h0m0 0h0m0 0.5h0m0.5 0h0m-0.5 0h0m0.5 0h0m1.5-2h0m0 0h0m-0.5 0h0m0 0h0m-0.5 0.5h0m0.5 0h0m0 0h0m0.5 0h0m-0.5 0h0m0.5 0h0m0 0h0m0 0h0m0 0h0m-0.5 0h0m0 0h0m0 0h0m1-14h0m0 0h0m0.5 13h0m-0.5 0h0m0.5 0h0m-0.5 0h0m0 0.5h0m0.5 0h0m0 0h0m0 0h0m-0.5 0h0m0.5 0h0m0 0h0m0 0h0m-0.5 0h0m0 0h0m-0.5 0h0m0.5 0.5h0m-0.5 0h0m0.5 0h0m-0.5 0h0m2-15.5h0m0 0.5h0m-1 2h0m0 0.5h0m0 11.5h0m0.5 0.5h0m0 0h0m0 0h0m-0.5 0h0m0.5 0h0m0 0h0m0 0h0m0 0h0m0 0h0m0.5 0h0m-0.5 0h0m0.5 0h0m0-15h0m0.5 0.5h0m-0.5 0h0m0 0.5h0m0.5 13h0m0.5 0.5h0m-0.5 0h0m-0.5 0h0m0 0h0m0.5 0h0m0 0h0m0.5 0h0m-1 0h0m0 0h0m0.5 0h0m0 0h0m0.5 0.5h0m0 0h0m0 0h0m-1 0h0m0 0h0m0 0h0m0 0h0m0.5 0h0m1-0.5h0m-0.5 0h0m0.5 0h0m-0.5 0h0m0 0h0m0 0h0m0.5 0h0m0 0h0m-0.5 0h0m0 0.5h0m0.5 0h0m0 0h0m0 0h0m0.5 0.5h0m-0.5 0h0m0 0h0m0 0h0m0.5 0h0m0 0h0m-0.5 0h0m1.5-1.5h0m0 0.5h0m-0.5 0h0m-0.5 0h0m0 0h0m1 0.5h0m-0.5 0h0m0 0h0m0.5 0h0m-0.5 0h0m-0.5 0h0m0 0h0m0.5 0h0m0 0h0m0 0.5h0m0 0h0m0 0h0m-0.5 0h0m0 0h0m0.5 0h0m-0.5 0h0m0 0h0m1.5-15h0m0 1h0m0 13h0m-0.5 0h0m0.5 0h0m0 0h0m0.5 0h0m-0.5 0h0m0 0h0m0.5 0h0m-1 0h0m0.5 0.5h0m0.5 0h0m-0.5 0h0m-0.5 0h0m0.5 0h0m-0.5 0h0m0.5 0h0m0.5 0h0m-0.5 0h0m0 0h0m0 0h0m0 0h0m0.5 0.5h0m-0.5 0h0m0 0h0m0.5 0h0m-0.5 0h0m0.5 0h0m0.5-18.5h0m0 1h0m0.5 0.5h0m0 1.5h0m-0.5 0h0m0 14.5h0m-0.5 0h0m0.5 0h0m0.5 0.5h0m0 0h0m0 0h0m-0.5 0h0m-0.5 0h0m0.5 0h0m0 0.5h0m0 0h0m0.5 0h0m0 0h0m-0.5 0h0m0 0h0m-0.5 0h0m2-39.5h0m-0.5 0h0m0 1h0m0.5 0.5h0m-0.5 1.5h0m0.5 0.5h0m-0.5 0h0m0 7h0m0.5 1.5h0m0 4.5h0m0 2h0m-0.5 3h0m-0.5 0h0m0.5 17h0m0.5 0h0m0 0h0m0 0h0m-1 0.5h0m0 0h0m0 0h0m0.5 0h0m-0.5 0h0m0 0.5h0m0.5 0h0m0 0h0m0 0h0m-0.5 0h0m0.5 0h0m1-40.5h0m-0.5 2.5h0m1 0h0m-0.5 0.5h0m0.5 1.5h0m-0.5 0.5h0m0 0.5h0m0 2h0m0 2h0m0.5 4h0m0 0.5h0m-0.5 1h0m-0.5 1h0m0.5 1h0m0.5 0.5h0m-1 0.5h0m0 2h0m1 19h0m-1 0.5h0m0.5 0h0m-0.5 0h0m0 0h0m0 0h0m1-41.5h0m0.5 0.5h0m0 0h0m-0.5 0h0m0 0h0m0 1.5h0m0.5 1.5h0m0.5 1h0m-0.5 2h0m-0.5 2h0m0 0.5h0m0.5 2h0m0 0.5h0m0 1h0m-0.5 0.5h0m0 0.5h0m0.5 1h0m0.5 1h0m-1 0h0m0.5 2h0m0 0h0m0.5 23.5h0m-0.5 0h0m0 0h0m0 0h0m0 0h0m-0.5 0.5h0m0.5 0h0m0 0h0m0.5 0h0m0 0h0m-0.5 0h0m0 0h0m0.5-36h0m0 1h0m0 0.5h0m0.5 6.5h0m-0.5 1h0m0 4h0m1 22h0m-0.5 0h0m0 0h0m0 0h0m-0.5 0.5h0m0 0h0m1 0h0m-0.5 0h0m-0.5 0h0m0.5 0h0m0 0h0m0 0h0m0 0h0m0.5 0h0m-0.5 0.5h0m0 0h0m-0.5 0.5h0m2-2h0m-1 0h0m0.5 0.5h0m-0.5 0h0m1 0h0m-1 0h0m0 0h0m0.5 0h0m-0.5 0h0m0.5 0h0m0 0h0m0 0h0m0.5 0h0m-1 0.5h0m0 0h0m0.5 0h0m0 0h0m-0.5 0h0m0 0h0m0 0h0m0.5 0h0m0 0h0m1.5-17.5h0m0 2.5h0m0 2h0m0 1h0m-1 11h0m0.5 0.5h0m0 0h0m0 0h0m0 0h0m0 0h0m-0.5 0h0m0.5 0h0m0 0h0m0 0h0m0 0h0m-0.5 0h0m0 0h0m0 0h0m1.5-19h0m0 2h0m-0.5 1.5h0m0 1h0m0 0.5h0m0.5 2.5h0m0 0h0m0 0.5h0m0.5 0h0m0.5 0.5h0m0 10.5h0m0.5 0h0m-0.5 0h0m0 0h0m1.5-8h0m0 0.5h0m-1 7.5h0m0 0h0m0 0h0m0 0h0m0 0h0m0 0h0m0 0h0m0.5 0h0m-0.5 0h0m1 0.5h0m-0.5 0.5h0m0.5 0h0m-0.5 0h0m0.5 0h0m-0.5 0h0m0 0h0m0.5 0.5h0m0 0h0m0 0h0m0-12h0m0.5 1h0m-0.5 0.5h0m0.5 0.5h0m0 0.5h0m-0.5 0.5h0m0 8h0m0.5 0.5h0m0.5 0h0m-0.5 0h0m0 0h0m0 0h0m0 0.5h0m-0.5 0h0m0.5 0h0m-0.5 0h0m0 0h0m0.5 0h0m0 0h0m0 0h0m0.5 0h0m-0.5 0h0m0.5 0.5h0m0 0h0m0 0h0m-0.5 0.5h0m0 0h0m0 0h0m0.5 0h0m0 0h0m-0.5 0h0m0 0h0m0 0h0m1.5-1h0m-1 0h0m1 0.5h0m-0.5 0h0m0 0h0m0 0h0m0 0h0m0.5 0h0m-0.5 0h0m-0.5 0h0m0.5 0h0m-0.5 0h0m0.5 0h0m-0.5 0.5h0m0.5 0h0m0 0h0m0 0h0m0.5 0h0m-0.5 0h0m0 0h0m0 0h0m0.5 0h0m0 0h0m-0.5 0h0m0 0h0m1.5-0.5h0m-1 0h0m0.5 0h0m0 0h0m0 0.5h0m-0.5 0h0m0.5 0h0m0 0h0m0 0h0m0 0h0m-0.5 0h0m0.5 0h0m-0.5 0h0m0 0h0m0.5 0.5h0m0.5 0h0m0 0h0m-0.5 0h0m1.5-1h0m-0.5 0h0m0.5 0h0m0 0.5h0m0 0h0m-1 0h0m0.5 0h0m0 0h0m0 0h0m0 0h0m-0.5 0h0m1 0h0m-0.5 0h0m-0.5 0h0m0.5 0h0m0 0h0m0.5 0h0m0 0.5h0m-0.5 0h0m0 0h0m0.5 0h0m-0.5 0h0m0.5 0h0m-0.5 0h0m0 0h0m0 0h0m1-10h0m0.5 0.5h0m0 8.5h0m0 0h0m-0.5 0h0m0 0h0m-0.5 0h0m1 0h0m0 0h0m0 0h0m-0.5 0h0m0.5 0h0m0 0h0m0 0h0m-1 0.5h0m0.5 0h0m0 0h0m-0.5 0h0m0 0h0m0.5 0h0m0 0.5h0m0 0h0m1-10.5h0m0 0.5h0m0.5 9h0m-0.5 0h0m0 0h0m0 0h0m0 0h0m0 0h0m-0.5 0h0m0 0h0m1 0h0m-0.5 0.5h0m0.5 0h0m0 0h0m-0.5 0h0m0.5 0h0m0 0h0m0 0h0m0-0.5h0m0.5 0h0m0 0h0m-0.5 0h0m0.5 0h0m0 0h0m-0.5 0h0m0.5 0h0m-0.5 0.5h0m0 0h0m0.5 0h0m0 0h0m-0.5 0h0m1 0h0m0 0h0m-0.5 0h0m0.5 0h0m-0.5 0h0m0.5 0.5h0m0 0h0m0 0h0m0 0h0m-0.5 0h0m0.5 0h0m-0.5 0h0m0.5 0h0m-0.5 0h0m0.5 0h0m0 0h0m-0.5 0h0m0 0h0m1.5-10.5h0m-1 10h0m0 0h0m0.5 0h0m0 0h0m0.5 0h0m0 0h0m-0.5 0h0m0 0h0m0 0.5h0m0 0h0m0.5 0h0m-1 0h0m0 0h0m0 0h0m0.5 0h0m0 0h0m-0.5 0h0m0.5 0h0m0 0h0m-0.5 0h0m0 0h0m0.5 0h0m0 0h0m0.5 0h0m-0.5 0.5h0m0 0h0m0 0h0m0 0h0m0 0h0m0.5-12h0m0 0.5h0m1 0.5h0m-0.5 0.5h0m0.5 0h0m-0.5 9h0m0.5 0h0m0 0.5h0m0 0h0m-0.5 0h0m0 0h0m0 0h0m0 0h0m0 0h0m0 0h0m0 0.5h0m-0.5 0.5h0m0.5 0h0m0.5-11.5h0m0 1h0m0.5 0h0m0.5 9h0m0 0h0m0 0h0m-0.5 0h0m0 0h0m0 0h0m0.5 0.5h0m-0.5 0h0m-0.5 0h0m0.5 0h0m0 0h0m-0.5 0.5h0m1.5-1.5h0m0.5 0h0m0 0h0m0 0h0m-0.5 0.5h0m0 0h0m0 0h0m0 0h0m0.5 0h0m-0.5 0h0m0 0h0m0 0h0m0 0h0m0 0h0m0.5 0h0m-0.5 0h0m-0.5 0h0m0.5 0h0m0 0h0m0.5 0h0m-0.5 0h0m0 0h0m0 0h0m0 0.5h0m1-11h0m0.5 1h0m-0.5 8.5h0m0 0h0m0.5 0h0m-0.5 0h0m0 0.5h0m-0.5 0h0m0.5 0h0m0.5 0h0m-0.5 0h0m-0.5 0h0m0.5 0h0m-0.5 0h0m0.5 0h0m-0.5 0h0m0.5 0h0m-0.5 0.5h0m0 0h0m0 0h0m0.5 0h0m0 0h0m0 0h0m-0.5 0h0m0.5 0h0m0 0h0m0 0h0m1.5-12h0m0 0.5h0m-0.5 0.5h0m0 0.5h0m0.5 0.5h0m-0.5 0h0m0 0.5h0m0.5 8.5h0m0 0h0m-0.5 0h0m0 0h0m0 0h0m0.5 0h0m-0.5 0h0m0 0h0m-0.5 0h0m0.5 0.5h0m0.5 0h0m0 0h0m-0.5 0h0m0 0h0m0 0h0m-0.5 0h0m0.5 0h0m-0.5 0h0m0 0h0m1-11.5h0m0 0.5h0m0 0.5h0m0 0h0m0 9.5h0m0.5 0.5h0m0 0h0m0.5 0h0m-0.5 0h0m-0.5 0h0m0.5 0h0m0 0h0m0 0h0m-0.5 0.5h0m0 0h0m1 0h0m0 0h0m0 0h0m-0.5 0h0m0.5 0h0m1-12h0m0 0h0m-0.5 0.5h0m0.5 0h0m0 10.5h0m-0.5 0.5h0m0.5 0h0m0 0h0m-0.5 0h0m0 0h0m0.5 0h0m-0.5 0h0m0 0h0m0 0h0m0 0h0m0 0h0m-0.5 0h0m1 0.5h0m-0.5 0h0m-0.5 0h0m0 0h0m0 0h0m0 0h0m0.5 0h0m0 0h0m-0.5 0h0m2-13h0m0 1h0m-0.5 11.5h0m-0.5 0h0m0 0h0m0.5 0h0m0 0h0m0 0h0m0.5 0h0m-0.5 0h0m-0.5 0h0m0.5 0.5h0m0 0h0m0.5 0h0m-0.5 0h0m-0.5 0h0m1 0h0m-0.5 0h0m0.5-12h0m0.5 11.5h0m0.5 0h0m-1 0h0m0.5 0h0m0.5 0.5h0m-1 0h0m0.5 0h0m0 0h0m-0.5 0h0m0.5 0h0m0 0h0m0 0h0m0 0h0m0 0h0m0.5-1h0m0.5 0.5h0m0 0h0m0 0h0m0 0h0m0.5 0h0m0 0.5h0m-1 0h0m0 0h0m0.5 0h0m0 0h0m-0.5 0h0m1 0h0m-0.5 0h0m-0.5 0h0m1 0h0m0 0h0m-0.5 0h0m1.5-26.5h0m-0.5 2.5h0m0 2h0m0.5 1h0m0 0h0m-0.5 3h0m0.5 4.5h0m0 0h0m-0.5 0.5h0m0 12.5h0m0.5 0h0m-0.5 0h0m0 0h0m0 0.5h0m-0.5 0h0m0 0h0m0.5 0h0m-0.5 0h0m1 0h0m-0.5 0h0m0 0h0m0 0h0m0 0h0m0 0h0m0.5 0h0m0 0h0m-0.5 0h0m0.5 0.5h0m0 0h0m0 0h0m-0.5 0h0m0.5-29h0m0 4h0m0.5 3h0m-0.5 0h0m0.5 3h0m-0.5 0h0m0 0.5h0m0 0h0m0.5 2h0m0 3h0m-0.5 0h0m0.5 12.5h0m0.5 0h0m0 0h0m-0.5 0.5h0m-0.5 0h0m0.5 0h0m0 0h0m0.5 0h0m-0.5 0.5h0m-0.5 0h0m1 0h0m0 0.5h0m0 0h0m0 0h0m0 0h0m0 0h0m-0.5 0h0m1-18h0m-0.5 17.5h0m0 0h0m0.5 0h0m-0.5 0h0m0.5 0.5h0m-0.5 0h0m0 0h0m0 0h0m0 0h0m0 0h0m1.5-18.5h0m0.5 17h0m0 0h0m0 0h0m-0.5 0h0m0.5-0.5h0m0 0.5h0m0 0h0m0 0h0m0 0h0m1 0h0m-0.5 0h0m0.5 0h0m0 0h0m0 0h0m0 0h0m-0.5 0h0m1-16.5h0m-0.5 16.5h0m0.5 0h0m0.5 0h0m0 0h0m-0.5 0h0m0 0h0m0 0.5h0m0 0h0m0.5 0h0m0 0h0m-0.5 0h0m0.5 0h0m0 0h0m-0.5 0h0m0 0h0m0 0h0m0.5-16.5h0m1 16h0m-0.5 0h0m-0.5 0h0m0.5 0h0m0 0h0m-0.5 0.5h0m1.5-17.5h0m0.5 0h0m0 0h0m-1 17h0m0.5 0h0m0.5 0h0m0 1h0m0 0h0m-0.5 0.5h0m0 0h0m0 0h0m0.5 0h0m0 0h0m0 0h0m0-19h0m0.5 0.5h0m0 0.5h0m-0.5 17h0m0.5 0h0m0 0.5h0m0 0h0m-0.5 0h0m1 0h0m-0.5 0.5h0m0 0h0m0.5 0h0m-0.5 0h0m0.5 0h0m-1 0h0m0.5 0h0m0.5 0.5h0m-0.5 0h0m1.5-1.5h0m-0.5 0h0m0.5 0h0m-0.5 0.5h0m-0.5 0.5h0m0 0h0m0 0h0m0 0h0m0 0h0m0 0h0m0.5 0.5h0m1.5-38h0m0 1.5h0m-0.5 1h0m0 1h0m0.5 0.5h0m-0.5 1h0m0.5 2h0m-0.5 0.5h0m0.5 5h0m0 23.5h0m-0.5 0h0m-0.5 0.5h0m0 0h0m0 0h0m0 0h0m0.5 0h0m0.5 0h0m-0.5 0h0m0 0h0m0.5 0h0m-0.5 0h0m0.5 0h0m-0.5 0.5h0m0 0h0m0.5 0h0m0.5-37h0m0 2h0m0 3.5h0m0 3h0m0 0.5h0m0.5 1.5h0m0 0.5h0m0 1h0m-0.5 0h0m0 0h0m0.5 0.5h0m0 0h0m-0.5 0.5h0m0 0.5h0m0 0h0m0 2.5h0m0.5 0h0m-0.5 0.5h0m0.5 20h0m-1 0h0m0.5 0h0m0 0h0m0 0h0m0 0h0m0 0h0m0 0h0m0.5 0h0m-0.5 0h0m0 0h0m0 0.5h0m-0.5 0h0m0.5 0h0m-0.5 0h0m0.5 0h0m0.5-27h0m0 0h0m0 4h0m0 2.5h0m1 19h0m0 0.5h0m-1 0h0m0.5 0.5h0m-0.5 0h0m0 0h0m0 0h0m0 0h0m0 0h0m2-28.5h0m-0.5 28h0m-0.5 0h0m0 0h0m0.5 0h0m0.5-25.5h0m0.5 0.5h0m0 0h0m0 1h0m0.5 24h0m0 0h0m-0.5 0h0m0.5 0.5h0m0 0h0m-0.5 0h0m0 0h0m0 0h0m0.5 0h0m-0.5 0h0m0 0h0m0 0.5h0m0.5 0h0m0 0h0m0.5-31.5h0m0 0h0m0 3h0m0.5 0h0m0 5h0m0 2h0m0 20h0m0 0h0m-0.5 0.5h0m0 0h0m0 0h0m0 0h0m0 0h0m0 0h0m0 0.5h0m0 0h0m-0.5 0h0m0 0.5h0m0 0h0m0.5 0h0m1-31h0m-0.5 0.5h0m0.5 9.5h0m0 20h0m0 0h0m-0.5 0h0m0.5 0h0m-0.5 0h0m0.5 0h0m0 0h0m0 0h0m0 0h0m0 0h0m0 0h0m1 0h0m-0.5 0h0m0.5 0h0m0 0h0m0 0h0m0.5 0h0m-0.5 0h0m0 0h0m-0.5 0h0m0 0h0m0.5 0h0m0 0h0m0.5 0h0m0.5 0h0m0 0h0m0 0h0m0 0h0m0.5 0h0m0 0h0m-0.5 0h0m0.5 0h0m0 0h0m0.5-18.5h0m0 18.5h0m0 0h0m0 0h0m0 0h0m-0.5 0h0m0 0h0m0.5 0h0m0 0h0m0 0h0m1.5-30h0m-0.5 1h0m0 1.5h0m0 2h0m0 0.5h0m0.5 0.5h0m0 3.5h0m-0.5 0.5h0m0.5 20.5h0m-0.5 0h0m0 0h0m0.5 0h0m0.5-28h0m-0.5 8h0m0.5 0.5h0m0.5 19h0m0 0.5h0m-0.5 0h0m0.5 0h0m0 0h0m-0.5 0h0m0 0h0m0 0h0m0 0h0m0 0h0m0 0h0m1.5-20h0m0 0.5h0m-0.5 18.5h0m0.5 0h0m-0.5 0h0m0 0.5h0m0 0h0m-0.5 0h0m0.5 0h0m0 0h0m-0.5 0.5h0m0 0h0m0 0h0m0 0h0m0.5 0h0m0 0h0m0.5-19h0m0.5 18h0m0 0h0m0 0h0m-0.5 0h0m1 0h0m-0.5 0h0m-0.5 0h0m0.5 0h0m0 0.5h0m0 0h0m0 0h0m0.5 0h0m1-0.5h0m0 0h0m-0.5 0h0m0.5 0h0m-0.5 0h0m0 0h0m-0.5 0h0m1 0h0m0 0h0m-1 0.5h0m0 0h0m0 0h0m0.5 0h0m-0.5 0h0m1 0h0m0 0h0m0 0h0m0 0h0m0.5-16.5h0m0 16h0m0.5 0h0m-0.5 0h0m0 0h0m0 0h0m-0.5 0.5h0m0 0h0m0.5 0h0m0 0h0m0 0h0m0 0h0m-0.5 0h0m0 0h0m1.5-17h0m-0.5 0.5h0m0.5 16h0m-0.5 0h0m0.5 0h0m-0.5 0h0m0.5 0h0m0 0.5h0m0.5 0h0m0 0h0m-0.5 0h0m0.5 0.5h0m0-17h0m0.5 16.5h0m-0.5 0h0m0.5 0.5h0m0 0h0m0.5 0h0m-0.5 0.5h0m0.5 0h0m0 0h0m-0.5 0h0m0 0h0m0 0h0m0 0h0m0.5 0h0m0.5-0.5h0m0.5 0h0m-0.5 0h0m-0.5 0.5h0m0.5 0h0m0.5 0h0m-1 0h0m0 0h0m0.5 0h0m0 0h0m0 0h0m-0.5 0h0m0 0h0m0 0h0m0.5 0h0m0 0.5h0m0.5 0h0m0 0h0m-0.5 0h0m0 0h0m1.5-46.5h0m-0.5 3h0m0 3.5h0m0 1h0m0 2h0m0 0.5h0m0 16.5h0m0 19.5h0m0 0h0m-0.5 0h0m0.5 0h0m0 0.5h0m0 0h0m0 0h0m0.5 0h0m-0.5 0h0m-0.5 0h0m0 0h0m0.5 0h0m0.5 0h0m0 0h0m0 0.5h0m1-49.5h0m0 3.5h0m-0.5 2h0m0 3h0m0 0h0m0 1h0m-0.5 1h0m0.5 1h0m0 1.5h0m0 0.5h0m0 0.5h0m0 5h0m0 2.5h0m0 0h0m0.5 1.5h0m-1 0.5h0m0.5 0h0m0 1.5h0m0.5 0h0m0 0h0m0 1h0m0 1.5h0m0 0.5h0m-0.5 0.5h0m0 0h0m0.5 20.5h0m-1 0h0m0 0.5h0m1.5-44h0m-0.5 2h0m0 1.5h0m0 2h0m0.5 2h0m0.5 0.5h0m-0.5 0.5h0m0.5 0h0m-0.5 1h0m0 0h0m0.5 1h0m-0.5 0.5h0m0 0h0m0 2h0m0.5 1h0m-1 0h0m1 5h0m-1 24h0m0 0.5h0m0.5 0h0m0 0h0m0 0h0m-0.5 0h0m1.5-47h0m-0.5 1.5h0m0 0.5h0m0.5 4h0m0 1h0m-0.5 3.5h0m0 3h0m0.5 0.5h0m-0.5 0h0m0.5 8.5h0m0.5 24h0m-0.5 0h0m0 0h0m-0.5 0.5h0m0 0h0m1 0h0m-0.5 0h0m-0.5 0h0m0.5 0h0m-0.5 0h0m1.5-1h0m0 0h0m-0.5 0h0m0 0.5h0m0.5 0h0m0.5 0h0m0 0h0m-1 0h0m0.5 0.5h0m0 0h0m0 0h0m-0.5 0h0m0 0h0m0.5 0h0m-0.5 0h0m1.5-23.5h0m-0.5 0.5h0m0 0h0m1 21.5h0m-1 0h0m0.5 0.5h0m-0.5 0h0m0 0h0m0.5 0h0m-0.5 0.5h0m0.5 0h0m0 0h0m0 0h0m-0.5 0h0m0 0h0m0.5 0h0m-0.5 0h0m0 0h0m1-0.5h0m0.5 0h0m0.5 0h0m-1 0h0m0 0h0m0.5 0h0m0 0h0m0 0h0m0 0h0m0 0h0m0 0.5h0m0.5 0h0m0 0h0m0.5-29h0m0.5 2h0m-0.5 0h0m0.5 1.5h0m-0.5 1h0m0 1h0m0.5 22.5h0m-0.5 0h0m0 0h0m0 0.5h0m-0.5 0h0m0.5 0.5h0m-0.5 0h0m0.5 0h0m0 0h0m-0.5 0h0m0 0h0m0.5 0h0m1.5-45.5h0m0 7h0m-0.5 8h0m-0.5 0.5h0m0.5 0.5h0m-0.5 0h0m0.5 4h0m0 24h0m0 0h0m0 0h0m0 0h0m0.5 0.5h0m-0.5 0h0m-0.5 0h0m0 0h0m0 0.5h0m1.5-52h0m0 3h0m0 0h0m0 0h0m0 1h0m-0.5 0.5h0m0.5 1h0m0.5 1.5h0m0 0h0m-0.5 2.5h0m0.5 1h0m0 0h0m-0.5 0.5h0m0 1.5h0m0 2.5h0m0.5 3h0m-0.5 0h0m0 1h0m0 0h0m0 32h0m-0.5 0h0m0.5 0h0m0 0h0m0 0.5h0m0 0h0m0 0h0m0 0h0m0.5 0h0m0 0h0m0-52.5h0m0 0.5h0m0 0.5h0m0.5 1h0m0 1h0m0 1h0m0 1h0m0.5 2h0m-0.5 3h0m0.5 0h0m-0.5 0.5h0m0 0.5h0m-0.5 0.5h0m1 1.5h0m-1 0.5h0m0.5 3h0m0 0h0m0 2h0m-0.5 2.5h0m1 0.5h0m-0.5 0h0m-0.5 0.5h0m1 5.5h0m-0.5 0.5h0m-0.5 23.5h0m0 0.5h0m0.5 0h0m-0.5 0h0m0.5 0.5h0m-0.5 0h0m0 0h0m0.5 0h0m0 0h0m0.5-46.5h0m0 3.5h0m0 5.5h0m0 8h0m0 1h0m0 2h0m0.5 2h0m-0.5 1h0m0 22h0m0 0h0m0 0h0m0.5 0h0m0 0.5h0m0 0h0m-0.5 0h0m1.5-0.5h0m0 0h0m0.5 0h0m1-19.5h0m-0.5 19h0m0 0.5h0m-0.5 0h0m0 0h0m0 0h0m0.5 0h0m0.5 0h0m0 0h0m0 0h0m0 0h0m0.5 0h0m0 0h0m0 0h0m-0.5 0.5h0m1 0h0m0 0h0m-0.5 0h0m0 0h0m0 0h0m0.5 0.5h0m-0.5 0h0m0 0h0m0 0h0m0 0h0m0 0h0m0.5 0h0m-0.5 0h0m1-0.5h0m0 0h0m0 0.5h0m-0.5 0h0m0.5 0h0m0.5 0.5h0m0 0h0m-0.5 0.5h0m0 0h0m0 0h0m0.5 0h0m0 0h0m-0.5 0h0m0.5 0h0m-0.5 0h0m1-43.5h0m0.5 0.5h0m-0.5 3h0m0.5 1.5h0m-0.5 2.5h0m0.5 4.5h0m-0.5 0.5h0m0.5 8.5h0m-0.5 0.5h0m-0.5 21.5h0m0 0.5h0m0.5 0h0m0 0h0m-0.5 0h0m0 0h0m0.5 0h0m0.5 0h0m0 0.5h0m0 0.5h0m-0.5 0h0m0 0h0m0.5 0h0m0-36h0m0 2h0m0 7h0m0 0.5h0m0 3h0m0.5 0.5h0m-0.5 1.5h0m0.5 0.5h0m0.5 1.5h0m0 18.5h0m-1 0.5h0m0.5 0h0m0 0h0m0.5 0h0m-0.5 0h0m0 0h0m0.5 0.5h0m-0.5 0h0m0.5 0h0m-0.5 0h0m0.5 0h0m-1 0h0m0 0h0m0 0h0m1.5-19h0m0.5 17.5h0m0 0h0m-0.5 0h0m0 0.5h0m0.5 0h0m-1 0h0m1 0h0m-1 0h0m0.5 0.5h0m0.5 0h0m-0.5 0.5h0m0.5-19.5h0m1 17.5h0m0 0h0m-0.5 0h0m0 0.5h0m-0.5 0.5h0m0.5 0h0m-0.5 0h0m0 0h0m0 0.5h0m0.5 0h0m-0.5 0h0m1.5-19.5h0m0.5 17h0m-0.5 0h0m-0.5 0h0m1 0h0m0 0h0m-0.5 0.5h0m-0.5 0h0m1 0h0m-0.5 0h0m0 0h0m0.5 0h0m-1 0h0m0.5 0h0m0 0h0m0 0.5h0m0 0h0m0 0h0m0 0h0m1-17h0m0.5 15.5h0m-1 0.5h0m0.5 0h0m-0.5 0h0m0 0h0m1 0h0m-0.5 0h0m0.5 0h0m-1 0h0m0.5 0h0m0.5 0h0m0 0h0m-1 0h0m1 0.5h0m-0.5 0h0m0 0h0m0.5 0h0m-0.5 0h0m0 0h0m1-17h0m0 16h0m0 0.5h0m0.5 0h0m-0.5 0h0m-0.5 0h0m0.5 0h0m-0.5 0h0m1 0h0m-0.5 0h0m0 0.5h0m0 0h0m0 0h0m1-0.5h0m0 0h0m-0.5 0h0m0 0h0m0.5 0h0m0 0h0m0 0h0m0 0h0m-0.5 0h0m0 0h0m0 0h0m1 0.5h0m-0.5 0h0m0 0.5h0m0 0h0m0.5 0h0m0 0h0m-0.5 0h0m0.5 0h0m0-18.5h0m0.5 0.5h0m0 0.5h0m0 17h0m0 0h0m-0.5 0.5h0m0.5 0h0m0 0h0m0 0h0m0 0h0m0 0h0m-0.5 0h0m0 0h0m0.5 0h0m0 0h0m0.5 0.5h0m-0.5 0h0m0.5 0.5h0m-0.5 0h0m0.5 0h0m-0.5 0h0m0.5 0.5h0m-0.5 0h0m0 0h0m0.5 0h0m0-1h0m0.5 0.5h0m-0.5 0h0m0.5 0h0m-0.5 0h0m1 0h0m-0.5 0h0m0.5 0h0m-0.5 0h0m0 0h0m0 0.5h0m0.5 0h0m-0.5 0h0m0 0h0m0.5 0h0m1-73h0m-0.5 8.5h0m0.5 7.5h0m0 1.5h0m0 2h0m0 2.5h0m-0.5 3h0m0 11h0m0.5 7h0m0 3h0m-0.5 1.5h0m0.5 2.5h0m0 0.5h0m0 0.5h0m-0.5 1.5h0m0.5 19.5h0m-0.5 0.5h0m-0.5 0h0m0.5 0h0m0 0h0m0 0.5h0m0 0h0m-0.5 0h0m1.5-88.5h0m0 6h0m0.5 2h0m-0.5 2h0m0 8.5h0m0 7h0m0 0h0m0 1.5h0m0.5 0h0m-0.5 0.5h0m0 0h0m-0.5 0h0m0.5 0h0m0 2.5h0m-0.5 0.5h0m0 7h0m0 1.5h0m0 5.5h0m0.5 0.5h0m0 0.5h0m0 4h0m-0.5 3.5h0m0.5 0h0m0 6h0m0 0.5h0m-0.5 2.5h0m0 0h0m0.5 25h0m0.5 0h0m-1 0.5h0m0.5 0h0m0 0h0m0.5 0h0m0 0h0m0 0h0m0 0.5h0m0.5-97.5h0m0 7h0m0 0.5h0m-0.5 3h0m0.5 1h0m0.5 2.5h0m-0.5 1h0m0 2h0m0 0.5h0m-0.5 1h0m0.5 3.5h0m0 3.5h0m0.5 1.5h0m-0.5 2h0m0 3.5h0m0 0.5h0m0.5 2h0m-0.5 1.5h0m0 0.5h0m0.5 1h0m-0.5 2.5h0m0.5 7h0m-1 4h0m0 1.5h0m0 1.5h0m0 4h0m0.5 5h0m0.5 1.5h0m-0.5 2.5h0m0 0.5h0m0.5 28h0m-1 0.5h0m0.5 0.5h0m-0.5 0h0m0 0h0m1-87.5h0m0 13h0m0.5 0.5h0m0 12.5h0m-0.5 4.5h0m0.5 0.5h0m-0.5 3.5h0m0 2h0m0.5 2h0m-0.5 2.5h0m0.5 1.5h0m-0.5 13h0m0 1.5h0m0 3h0m1 26h0m0 0.5h0m0 0h0m-0.5 0h0m0 0h0m0 0h0m0 0h0m0.5 0h0m-0.5 0h0m0 0h0m0.5 0h0m0 0h0m0 0h0m0 0h0m-1 0.5h0m0.5 0h0m-0.5 0.5h0m1.5-2h0m0.5 0.5h0m-0.5 0h0m0 0h0m-0.5 0h0m0 0h0m0.5 0h0m0 0.5h0m0.5 0h0m0 0h0m-0.5 0h0m0.5 0h0m-0.5 0h0m-0.5 0h0m0.5 0h0m-0.5 0h0m0 0h0m1.5-1h0m-0.5 0.5h0m0.5 0h0m0.5 0h0m-1 0h0m0.5 0.5h0m-0.5 0h0m0.5 0h0m0 0h0m0.5 0h0m0 0h0m-0.5 0h0m1.5-27h0m0 0.5h0m-0.5 2h0m0 0.5h0m0 23.5h0m-0.5 0h0m0.5 0h0m0 0h0m0 0.5h0m-0.5 0h0m1 0h0m-1 0h0m0.5 0h0m0 0h0m0.5 0.5h0m0 0h0m0 0h0m0.5-27.5h0m0 0.5h0m-0.5 4.5h0m0.5 3.5h0m-0.5 18h0m1 0h0m-1 0h0m0.5 0.5h0m0.5 0h0m-0.5 0h0m0.5 0h0m-0.5 0h0m-0.5 0h0m0.5 0.5h0m0 0h0m0.5-1h0m0 0.5h0m0 0h0m0 0h0m0 0h0m0.5 0.5h0m0.5 0h0m0 0h0m-0.5 0h0m0.5 0h0m0 0.5h0m0 0h0m0 0h0m0.5-1h0m0 0.5h0m0 0h0m0 0h0m0 0h0m-0.5 0h0m1 0h0m0 0h0m-0.5 0h0m-0.5 0h0m0.5 0h0m-0.5 0h0m0 0h0m0 0h0m0.5 0.5h0m0.5-19h0m0.5 18h0m0 0h0m0 0h0m-0.5 0h0m1 0.5h0m-0.5 0h0m-0.5 0h0m0.5 0h0m0 0h0m0 0h0m0 0h0m0.5 0h0m0 0h0m0 0h0m-0.5 0h0m0.5 0h0m0 0h0m0 0h0m0.5 0h0m0 0h0m-0.5 0h0m0.5 0h0m0 0h0m-0.5 0h0m0.5 0h0m2.5-20.5h0m-0.5 20h0m0.5-26h0m1 26.5h0m0 0.5h0m0 0h0m-0.5 0h0m0 0.5h0m0.5 0h0m-0.5 0h0m0 0h0m0.5 0h0m0 0h0m-0.5 0h0m1-0.5h0m-0.5 0.5h0m0.5 0h0m0 0h0m0.5 0.5h0m-0.5 0h0m0.5 0h0m-0.5 0.5h0m0 0h0m0 0h0m0 0.5h0m0 0h0m1.5-33.5h0m-0.5 3h0m0 1.5h0m0.5 1h0m-0.5 0h0m0.5 2h0m0 1h0m-0.5 0.5h0m0 24h0m0 0h0m0 0h0m0 0h0m-0.5 0h0m0.5 0h0m0.5-33h0m0 6h0m0 3.5h0m0 23.5h0m0.5 0h0m0 0h0m0 0.5h0m0.5 0h0m-0.5 0h0m0 0h0m0 0h0m0.5 0h0m-0.5 0.5h0m0.5 0h0m0 0h0m0 0h0m-0.5 0h0m0.5 0h0m-0.5 0.5h0m0.5-1h0m1 0h0m0 0h0m0 0h0m0 0h0m-0.5 0.5h0m-0.5 0h0m0.5 0h0m-0.5 0.5h0m0.5 0h0m0 0h0m-0.5 0h0m0 0h0m0.5 0h0m0 0h0m-0.5 0h0m0.5 0h0m1.5-1.5h0m-1 0h0m0.5 0h0m0.5 0.5h0m-1 0h0m0.5 0h0m0.5 0h0m0 0h0m-0.5 0h0m0.5 0h0m-1 0h0m0 0h0m1.5-28.5h0m0 2.5h0m0 0.5h0m0.5 0h0m0 0.5h0m-0.5 24.5h0m0 0h0m-0.5 0h0m0 0h0m0.5 0h0m0 0.5h0m-0.5 0h0m0 0h0m0 0h0m1-31h0m0.5 1.5h0m0 4h0m0 0.5h0m0.5 24h0m0 0h0m-0.5 0h0m0 0h0m0 0h0m0 0.5h0m0.5 0h0m0 0h0m-0.5 0h0m0 0h0m1.5-24h0m-0.5 1h0m0 0.5h0m0.5 21h0m0 0.5h0m0 0h0m-0.5 0h0m0 0h0m0.5 0h0m0 0h0m-0.5 0.5h0m-0.5 0h0m0 0h0m0.5 0h0m-0.5 0.5h0m0.5 0h0m-0.5 0h0m1-23.5h0m0 0h0m0 1h0m1 20h0m0 0h0m0 0h0m-0.5 0.5h0m0.5 0h0m-1 0h0m1 0h0m0 0.5h0m-0.5 0h0m0.5 0h0m0 0h0m-0.5 0h0m0.5 0h0m0 0h0m-0.5 0h0m0 0h0m0.5 0h0m-1 0.5h0m0.5 0h0m-0.5 0h0m0.5 0h0m-0.5 0h0m2-2h0m-0.5 0h0m0.5 0h0m0 0h0m-1 0h0m0 1h0m0 0.5h0m0 0h0m0 0h0m0 0h0m0 0h0m0 0h0m0 0h0m0.5 0h0m-0.5 0h0m0 0h0m1-20.5h0m0.5 19h0m0 0h0m0 0h0m-0.5 0h0m0.5 0h0m-0.5 0h0m0.5 0h0m0.5-0.5h0m0 0.5h0m0 0h0m0 0h0m0.5 0h0m1-19h0m0 19h0m1.5-23h0m-0.5 1h0m-0.5 21.5h0m0 0.5h0m0.5 0h0m0 0h0m-0.5 0h0m0.5 0h0m0 0h0m0 0h0m0 0h0m1.5-26h0m-0.5 1.5h0m0.5 2.5h0m-0.5 0h0m-0.5 0.5h0m0.5 21.5h0m-0.5 0h0m0 0h0m0.5 0h0m-0.5 0h0m0.5 0h0m0 0h0m0.5 1h0m-0.5 0h0m0 0h0m1.5-37.5h0m-0.5 1h0m0 0.5h0m0 2.5h0m0.5 2.5h0m0 3h0m-0.5 1.5h0m0 0h0m-0.5 0.5h0m0.5 25h0m0 0h0m0.5 0h0m-0.5 0.5h0m-0.5 0h0m0.5 0h0m0 0h0m0.5 0h0m0 0h0m-0.5 0.5h0m0 0h0m0 0h0m-0.5 0h0m0.5 0h0m-0.5 0h0m1-38h0m0 3.5h0m0.5 0.5h0m-0.5 3.5h0m1 29h0m0 0.5h0m-1 0h0m0 0h0m1 0h0m0 0h0m0 0h0m-0.5 0.5h0m0 0h0m0 0h0m0 0h0m0 0h0m0 0.5h0m1.5-1h0m-0.5 0h0m0 0h0m0 0h0m0 0h0m0.5 0h0m-0.5 0h0m0 0h0m0.5 0h0m-1 0h0m0.5 0h0m1-41.5h0m0.5 0.5h0m0 0.5h0m-0.5 8.5h0m0.5 1.5h0m-1 30.5h0m0.5 0h0m0 0h0m0 0h0m0 1h0m0 0h0m0 0h0m0 0h0m0.5-42.5h0m0.5 10.5h0m0 31.5h0m0 0h0m0 0h0m0 0h0m0 0.5h0m0 0h0m0 0h0m0 0h0m0 0h0m0.5 0.5h0m-0.5 0h0m0 0h0m0 0h0m0.5 0.5h0m0 0h0m0 0h0m0.5-32.5h0m0 31.5h0m0 0h0m-0.5 0h0m0 0h0m0.5 0h0m0 0h0m0 0.5h0m0 0h0m0.5 0.5h0m-0.5 0h0m0 0h0m0.5-0.5h0m0 0h0m0 0h0m0 0.5h0m0.5 0h0m0 0.5h0m0 0h0m0.5 0h0m0 0.5h0m0 0h0m0 0.5h0m-0.5 0h0m1.5-1h0m-1 0h0m0 0h0m1 0h0m-1 0.5h0m0.5 0h0m-0.5 0h0m0.5 0h0m0.5 0h0m-1 0h0m0.5 0h0m0 0h0m0.5 0h0m-1 0.5h0m0.5 0h0m0 0h0m-0.5 0h0m1.5-47h0m0.5 3h0m-0.5 2h0m0.5 5h0m0 0.5h0m-0.5 0.5h0m0 1h0m-0.5 33.5h0m0 0h0m0.5 0h0m0 0h0m0 0.5h0m0 0h0m-0.5 0h0m0.5 0h0m-0.5 0h0m0 0h0m0.5 0h0m0 0.5h0m0 0h0m0.5-46h0m0.5 2.5h0m-0.5 5h0m0 1h0m0.5 0h0m0 0.5h0m0.5 35.5h0m0 0h0m0 0h0m-0.5 0h0m0 0.5h0m0 0h0m0 0h0m0 0.5h0m0 0h0m-0.5 0h0m1.5-40h0m0.5 38.5h0m-0.5 0h0m0 0h0m0 0.5h0m-0.5 0h0m0 0h0m0.5 0h0m0.5 0.5h0m-0.5 0h0m1.5-1.5h0m-0.5 0h0m-0.5 0.5h0m1 0h0m-1 0h0m0.5 0h0m0 0.5h0m0 0h0m-0.5 0h0m0 0h0m0 0h0m0 0.5h0m0 0h0m0 0h0m0.5 0h0m1-2h0m0.5 0.5h0m-0.5 0h0m0.5 0h0m0 0h0m0 0h0m-0.5 0h0m0 0h0m0 0h0m0 0h0m-0.5 0.5h0m1-1h0m1 0h0m-0.5 0h0m0 0h0m0.5 0h0m-1 0h0m0 0.5h0m0 0h0m0 0h0m1 0h0m-0.5 0h0m0 0h0m0.5 0h0m-0.5 0h0m0 0h0m1-52.5h0m0 1.5h0m0 2h0m0.5 4.5h0m-0.5 6.5h0m0 37h0m0.5 0.5h0m-0.5 0h0m-0.5 0h0m0.5 0h0m0.5 0h0m-0.5 0.5h0m0 0h0m-0.5 0h0m0 0h0m1.5-59h0m0.5 0.5h0m-0.5 2.5h0m0 1.5h0m0 3h0m-0.5 6h0m0 0h0m0.5 2.5h0m-0.5 4h0m0.5 0.5h0m0.5 38h0m0 0h0m-0.5 0h0m1-58.5h0m-0.5 0.5h0m0.5 4.5h0m0.5 1h0m-1 4.5h0m0 6h0m0 1h0m1 3.5h0m0 0.5h0m-1 36.5h0m1.5-57h0m-0.5 5h0m0 15h0m0.5 1h0m0 36.5h0m0.5 0h0m0.5 0h0m0 0h0m-0.5 0h0m0.5 0h0m0 0h0m0 0.5h0m0 0h0m0 0h0m0.5 0.5h0m-0.5 0h0m0 0h0m0 0h0m0.5 0h0m0.5-1h0m0 0h0m0.5 0h0m-0.5 0h0m0.5 0.5h0m0 0h0m-0.5 0.5h0m0 0h0m-0.5 0h0m0.5 0h0m1.5-53h0m-0.5 2.5h0m0.5 3.5h0m-0.5 1.5h0m0.5 0.5h0m0 3.5h0m-0.5 40.5h0m0.5 0h0m0 0.5h0m-1 0h0m1 0h0m-0.5 0h0m1-53.5h0m0 8.5h0m-0.5 5h0m0 3h0m0.5 35.5h0m-0.5 0h0m0 0.5h0m0.5 0h0m0.5 0h0m0 0.5h0m0 0h0m-1 0.5h0m0 0h0m1.5-1.5h0m0 0.5h0m-0.5 0h0m0 0h0m1 0h0m-0.5 0h0m0 0h0m0.5 0h0m0 0h0m-0.5 0.5h0m0 0h0m-0.5 0h0m1-1h0m0.5 0.5h0m0 0h0m0 0h0m0 0h0m1-41.5h0m0.5 41h0m-0.5 0h0m0.5 0.5h0m0 0h0m0 0h0m0 0h0m0.5-42h0m-0.5 0.5h0m0.5 41h0m0.5 0h0m-0.5 0h0m0 0h0m-0.5 0h0m0.5 0h0m-0.5 0h0m0.5 0h0m0 0h0m0.5 0h0m-1 0.5h0m0 0h0m2-50h0m0 0h0m-0.5 4.5h0m0 1.5h0m0 43.5h0m-0.5 0h0m0.5 0h0m0 0h0m0 0h0m0 0h0m0 0h0m0 0h0m0 0h0m0 0.5h0m0.5 0h0m0.5-53h0m0 6.5h0m0 0.5h0m0 45.5h0m-0.5 0h0m0.5 0h0m0.5 0h0m0-59h0m0 1.5h0m0.5 3.5h0m0.5 1h0m-1 2h0m0 0.5h0m0 1h0m0 0.5h0m1 1h0m-0.5 2.5h0m0 0.5h0m0 45h0m0 0h0m0.5 0h0m-0.5 0h0m0.5 0h0m-1 0.5h0m0.5 0h0m0 0h0m1-57h0m0 1.5h0m0 0.5h0m0 2h0m-0.5 2.5h0m0.5 0h0m0 0h0m0.5 1.5h0m-1 4h0m0.5 44.5h0m-0.5 0.5h0m0 0h0m0.5 0h0m0 0h0m0.5-57h0m0 1h0m0.5 6h0m-0.5 6.5h0m0.5 0h0m0 1.5h0m0 0.5h0m0 41h0m0.5 0h0m0 0h0m0 0h0m0 0h0m0.5 0h0m0 0h0m0 0h0m1-0.5h0m0 0.5h0m-0.5 0h0m0.5 0h0m-0.5 0h0m0.5 0h0m-0.5 0h0m0.5 0h0m0.5 0.5h0m0 0h0m0-1h0m0.5 0.5h0m-0.5 0h0m0.5 0h0m0.5 0h0m-1 0h0m0.5 0h0m0.5 0h0m0 0h0m-0.5 0h0m0 0h0m0 0.5h0m1.5-123.5h0m-0.5 3.5h0m0 2.5h0m0 16h0m0.5 4.5h0m0 1h0m0 5h0m-0.5 2h0m0.5 9h0m0 4.5h0m0 1.5h0m0 1h0m0 3.5h0m-0.5 12h0m0.5 2.5h0m-0.5 13h0m0.5 2h0m-0.5 2.5h0m0 37h0m0 0h0m0 0h0m0 0h0m0 0h0m-0.5 0h0m0.5 0h0m1-134.5h0m0 7h0m0 8h0m0.5 5.5h0m-0.5 3.5h0m0 1h0m0 3.5h0m0.5 5.5h0m-0.5 1h0m-0.5 0.5h0m0.5 1h0m0.5 4.5h0m-0.5 6.5h0m0.5 3h0m-0.5 1h0m0 9.5h0m0 7.5h0m-0.5 0h0m0 1h0m0.5 0h0m-0.5 5.5h0m0.5 3h0m0 0h0m-0.5 1h0m1 0h0m-0.5 4.5h0m0.5 2h0m-1 0h0m1 1.5h0m-0.5 0h0m0 1h0m0 1h0m0 7h0m0 3.5h0m0 3.5h0m0 1h0m0 30.5h0m0.5 0h0m-0.5 0h0m1-103h0m-0.5 1h0m1 1h0m-0.5 1h0m-0.5 6.5h0m0 0.5h0m0 2.5h0m1 1.5h0m-1 3.5h0m0.5 7h0m0 2.5h0m0.5 0h0m-1 4h0m0 16.5h0m1 2h0m-1 1h0m0.5 0.5h0m-0.5 3.5h0m1 0.5h0m-0.5 2h0m0 1.5h0m0.5 0.5h0m-0.5 0h0m0 44h0m0 0h0m-0.5 0h0m1 0.5h0m0 0h0m0 0h0m-0.5 0h0m0 0h0m0.5-106h0m0.5 13h0m0 10.5h0m-0.5 4h0m0 2.5h0m0.5 0h0m-0.5 4.5h0m0.5 1h0m0 2h0m0 0.5h0m0 9h0m0 2h0m0 2h0m-0.5 5.5h0m0.5 2h0m-0.5 2h0m0 0.5h0m0 4.5h0m0 0h0m0.5 39.5h0m-0.5 0h0m0 0.5h0m0.5 0h0m0 0h0m0 0h0m-0.5 0.5h0m0 0h0m1-0.5h0m0.5 0h0m0 0h0m0 0h0m-0.5 0h0m0.5 0h0m0 0h0m0.5 0h0m0 0h0m0.5-37h0m0.5 4.5h0m0 0.5h0m-0.5 0.5h0m0.5 31.5h0m-1 0h0m0.5 0h0m0 0h0m0 0h0m0 0h0m0 0h0m0 0h0m0.5-36.5h0m0 1h0m0 2.5h0m0 0.5h0m0.5 32.5h0m0 0h0m0 0h0m0 0h0m0 0h0m0.5 0h0m0.5-56h0m0 1h0m0.5 7h0m0 4.5h0m-0.5 2h0m0.5 1h0m-0.5 40.5h0m0 0h0m-0.5 0h0m0.5 0h0m0 0h0m0 0h0m0.5-40h0m0 9h0m1 30.5h0m0 0.5h0m-0.5 0h0m0.5 0h0m0 0h0m1-32.5h0m-0.5 32.5h0m0 0h0m0.5 0h0m-0.5 0h0m-0.5 0h0m0.5 0h0m-0.5 0h0m0.5 0h0m0 0h0m0.5 0.5h0m0 0h0m-0.5 0h0m0.5 0h0m0-37h0m0.5 0.5h0m-0.5 1h0m0.5 1h0m0 1.5h0m-0.5 1h0m0 31.5h0m0.5 0h0m0.5 0h0m-0.5 0h0m-0.5 0h0m0 0h0m1 0.5h0m-0.5 0h0m-0.5 0h0m0.5 0h0m0 0h0m1-1.5h0m0 0h0m-0.5 0h0m0.5 0.5h0m0 0.5h0m0 0.5h0m-0.5 0h0m2-66h0m-0.5 1.5h0m0 1.5h0m0.5 0.5h0m0 4h0m-0.5 0.5h0m0.5 3.5h0m-0.5 4.5h0m0 8.5h0m0 8.5h0m0 0h0m-0.5 31.5h0m0.5 0h0m-0.5 0h0m1 0h0m0 0h0m0 0.5h0m-0.5 0h0m1.5-69h0m-1 7.5h0m0 2.5h0m1 2.5h0m-1 0.5h0m0 2h0m0 0h0m0.5 3.5h0m0 4h0m0 0h0m0.5 2h0m0 1h0m0 2h0m-1 1h0m0 3.5h0m0.5 5.5h0m0.5 31h0m-0.5 0h0m0 0h0m0 0.5h0m0 0h0m0 0h0m-0.5 0h0m1.5-72.5h0m-0.5 1.5h0m1 1.5h0m-0.5 2.5h0m-0.5 3h0m0 2h0m0.5 1h0m0 3.5h0m-0.5 0h0m0.5 0.5h0m0 11.5h0m-0.5 1h0m0.5 7.5h0m-0.5 0h0m0.5 4h0m0 32.5h0m0.5 0h0m-0.5 0h0m0 0h0m-0.5 0h0m0.5 0h0m-0.5 0h0m0 0.5h0m0.5 0h0m1-57.5h0m0 5h0m0 0.5h0m0.5 0.5h0m-0.5 16h0m0 1h0m0 2h0m0 32h0m0.5 0h0m-0.5 0h0m0.5 0h0m0 0h0m0.5-46h0m-0.5 10.5h0m0.5 35.5h0m-0.5 0h0m0 0h0m0.5 0h0m0 0h0m-0.5 0h0m0.5 0h0m0 0h0m0.5 0.5h0m0 0h0m0 0h0m-0.5 0h0m1-0.5h0m-0.5 0h0m0 0h0m0.5 0h0m-0.5 0h0m0.5 0.5h0m0 0h0m0 0h0m0 0h0m-0.5 0h0m0 0h0m0.5 0h0m0.5 0h0m0 0h0m-0.5 0.5h0m0 0h0m-0.5 0h0m2-117h0m-0.5 4.5h0m0.5 11h0m-0.5 6h0m0 94.5h0m0 0h0m0 0h0m0.5 0h0m0 0.5h0m-0.5 0h0m0.5 0h0m0 0h0m-1 0h0m1 0h0m-0.5 0h0m-0.5 0h0m0.5 0h0m1-115h0m0 1h0m0 3h0m0 3h0m0 1h0m0 0.5h0m-0.5 4.5h0m0.5 14.5h0m0 2h0m0 6.5h0m0 1.5h0m0 1.5h0m0 3.5h0m0 3.5h0m0 4h0m0 4.5h0m-0.5 3h0m0.5 5.5h0m-0.5 0.5h0m0.5 5.5h0m0 45.5h0m0 0h0m0 0h0m-0.5 0.5h0m0.5 0h0m0.5 0h0m0 0.5h0m0 0h0m0 0h0m0.5-118h0m0 7.5h0m-0.5 5.5h0m0.5 0.5h0m0 1h0m0 3h0m0 3h0m0.5 4h0m-0.5 1h0m-0.5 7h0m0.5 16h0m-0.5 0h0m0 3.5h0m0.5 1.5h0m0.5 2h0m-0.5 0.5h0m0 0.5h0m0 1.5h0m-0.5 1.5h0m1 0.5h0m-0.5 1h0m0 56h0m0 0.5h0m-0.5 0h0m1 0h0m-0.5 0h0m0 0.5h0m0 0h0m-0.5 0h0m0.5 0h0m1-109.5h0m-0.5 2.5h0m0 1h0m0.5 4h0m-0.5 1h0m0.5 6.5h0m-0.5 1.5h0m0 7h0m0 2h0m0 3.5h0m0.5 8h0m-0.5 7h0m0.5 4h0m-0.5 5.5h0m1 7h0m-1 48.5h0m0.5 0h0m-0.5 0h0m0.5 0h0m0.5 0h0m-1 0.5h0m0.5 0h0m-0.5 0.5h0m0.5 0h0m0 0h0m0.5 0h0m-0.5 0h0m0.5 0h0m0.5-1.5h0m0.5 0h0m-0.5 0.5h0m0 0h0m0 0h0m0 0h0m-0.5 0.5h0m0.5 0h0m-0.5 0.5h0m0.5 0h0m1.5-86h0m0 0h0m-0.5 8.5h0m0 0.5h0m0.5 12.5h0m0 1h0m0 9h0m0 52.5h0m-1 0.5h0m0.5 0.5h0m0 0h0m-0.5 0h0m1 0h0m-1 0h0m0 0h0m0 0h0m0.5 0h0m0.5 0h0m-0.5 0h0m0 0h0m1-81.5h0m-0.5 4h0m0.5 5.5h0m0 4.5h0m0.5 14.5h0m-0.5 52.5h0m0 0h0m0.5 0h0m-0.5 0h0m-0.5 0.5h0m0 0h0m1.5-0.5h0m-0.5 0h0m0.5 0h0m0.5 0h0m-0.5 0h0m0 0h0m0 0h0m-0.5 0h0m0.5 0h0m1-57.5h0m0.5 1h0m0 56.5h0m-1 0h0m0 0h0m1.5-66h0m0 4.5h0m0 0.5h0m0 60.5h0m0 0.5h0m0 0h0m0.5 0.5h0m-0.5 0h0m0.5 0h0m0 0h0m-0.5 0h0m0.5 0h0m0.5-0.5h0m0 0h0m0 0h0m-0.5 0.5h0m0.5 0h0m-0.5 0h0m0 0h0m0 0h0m0.5 0h0m1-64h0m0 9h0m-0.5 54.5h0m0 0h0m1 0h0m-1 0h0m0.5 0h0m0.5 0h0m-1 0h0m1 0h0m-0.5 0.5h0m0 0h0m0.5 0h0m0 0.5h0m0-76h0m0 1.5h0m0.5 5h0m0 14.5h0m-0.5 54h0m0.5 0h0m0.5 0.5h0m-0.5 0h0m-0.5 0.5h0m1 0h0m-1 0h0m1 0h0m0.5-56h0m-0.5 1.5h0m0 54h0m0.5 0.5h0m0.5 0h0m-0.5 0h0m0 0h0m0 0.5h0m0.5 0h0m-0.5 0h0m1.5-0.5h0m-0.5 0h0m0 0h0m0 0h0m0 0h0m0.5 0h0m0 0h0m-0.5 0h0m0 0.5h0m-0.5 0h0m0.5 0h0m0.5-0.5h0m1 0h0m0 0h0m-0.5 0h0m-0.5 0h0m0.5 0h0m0 0h0m0 0h0m-0.5 0h0m1 0h0m-0.5 0h0m1.5-91h0m-0.5 5h0m0 18.5h0m0.5 1h0m-0.5 13h0m0.5 6.5h0m0 0h0m-1 47h0m1 0h0m0 0h0m-0.5 0h0m1-95h0m-0.5 10h0m0 4h0m0.5 1.5h0m0 2.5h0m-0.5 3h0m0.5 0h0m0.5 20.5h0m-1 6h0m0.5 1.5h0m-0.5 1h0m1 6h0m-0.5 39h0m-0.5 0h0m0.5 0h0m-0.5 0h0m0 0h0m0.5 0.5h0m0.5 0h0m-0.5 0h0m0 0.5h0m0.5 0h0m0-98h0m0.5 2.5h0m0 3.5h0m0 2h0m0 15.5h0m0 4.5h0m-0.5 4.5h0m1 4.5h0m-0.5 0.5h0m0.5 0.5h0m0 1h0m0 1.5h0m0 0.5h0m0 0h0m-1 1.5h0m1 1.5h0m-0.5 0.5h0m0 9.5h0m0 0.5h0m0 0.5h0m0.5 3h0m-1 2h0m0.5 2.5h0m0 0h0m-0.5 0.5h0m0 34.5h0m0.5 0.5h0m-0.5 0h0m1 0.5h0m0-90.5h0m0 1.5h0m0.5 0.5h0m0 9h0m0 5h0m0 1h0m0 5.5h0m-0.5 10h0m0.5 1h0m-0.5 2.5h0m0.5 2.5h0m0 0.5h0m-0.5 7h0m0 10h0m0.5 34h0m-0.5 0h0m0 0h0m1 0h0m-0.5 0h0m0 0.5h0m0 0h0m0 0h0m0 0.5h0m0 0h0m0 0h0m0 0h0m0 0h0m0.5 0h0m1-1.5h0m-0.5 0h0m0 0h0m0 0.5h0m0 0h0m0.5 0h0m-0.5 0h0m-0.5 0h0m0 0.5h0m0 0h0m0.5 0h0m0 0h0m-0.5 0h0m0.5 0h0m0 0.5h0m-0.5 0h0m0.5 0h0m-0.5 0h0m0.5 0h0m0 0h0m0 0h0m1-2.5h0m0 0.5h0m-0.5 0h0m0.5 0h0m0.5 0h0m-0.5 0h0m-0.5 0.5h0m1.5-44h0m0 4h0m0.5 2h0m0 2h0m0 3h0m0 0h0m-0.5 1h0m0.5 30h0m-0.5 0h0m0.5 0h0m-0.5 0h0m0.5 0.5h0m-0.5 0h0m0 0h0m-0.5 0.5h0m0.5 0.5h0m-0.5 0h0m0 0h0m0.5 0h0m-0.5 0h0m0 0h0m0 0h0m0.5 0h0m-0.5 0h0m0.5 0h0m1-36.5h0m0 5h0m0 30h0m-0.5 0h0m0.5 0h0m0 0.5h0m0 0h0m1.5-55h0m-0.5 4.5h0m0.5 1h0m-0.5 1h0m0.5 3.5h0m-0.5 43.5h0m0 0h0m0 0.5h0m-0.5 0h0m0 0h0m0.5 0h0m0 0h0m0 0h0m0.5-57h0m0 1h0m0.5 1.5h0m0 3h0m-0.5 1h0m0.5 50.5h0m0.5 0h0m0 0h0m0 0h0m-0.5 0h0m0 0h0m0 0.5h0m0.5 0h0m1-80h0m0 1h0m0 11h0m0 3h0m0 5.5h0m-1 59h0m0.5 0h0m0 0h0m0 0.5h0m0 0h0m0 0h0m0 0h0m-0.5 0h0m1 0h0m1-96h0m0 5.5h0m-0.5 4.5h0m0.5 0.5h0m-0.5 5.5h0m-0.5 1h0m0.5 3h0m0 1.5h0m-0.5 10.5h0m1 4h0m-1 0.5h0m0.5 1h0m0 58h0m0.5 0.5h0m-0.5 0h0m0 0h0m-0.5 0h0m0.5 0h0m0 0h0m0.5 0h0m0-93h0m0 0.5h0m1 1.5h0m-0.5 0h0m0 0h0m-0.5 6h0m0.5 2h0m-0.5 0.5h0m1 0.5h0m0 1.5h0m-1 2h0m1 3h0m-0.5 1h0m0 0h0m-0.5 0h0m1 0.5h0m-0.5 7h0m-0.5 4.5h0m1 1.5h0m-0.5 61h0m0.5 1h0m0 0.5h0m-0.5 0h0m0 0h0m1-82.5h0m0 10h0m-0.5 1.5h0m0.5 2.5h0m0 1h0m0 0.5h0m0 0.5h0m-0.5 4h0m1 61.5h0m-0.5 0.5h0m0.5 0h0m-0.5 0h0m0 0h0m0 0h0m-0.5 0h0m0.5 0h0m0.5 0h0m-0.5 0h0m-0.5 0.5h0m0.5 0h0m0 0h0m1-76h0m0.5 3h0m-0.5 2.5h0m0.5 14h0m0 3h0m-0.5 52.5h0m-0.5 0h0m1 0h0m-1 0h0m0 0h0m0 0h0m0.5 0.5h0m-0.5 0h0m0.5 0h0m0 0h0m-0.5 0h0m0 0h0m1.5-66h0m-0.5 6h0m0 4.5h0m0.5 55h0m0 0h0m-0.5 0h0m1 0.5h0m-0.5 0h0m0.5-0.5h0m0.5 0h0m0 0h0m-0.5 0h0m0.5 0h0m0 0.5h0m-0.5 0h0m0 0h0m0.5 0h0m0.5 0h0m-0.5 0h0m-0.5 0h0m0.5 0h0m0 0.5h0m0.5 0h0m0 0h0m0.5-49.5h0m0.5 48.5h0m0 0h0m0 0h0m-0.5 0h0m0.5 0h0m-0.5 1h0m1.5-85.5h0m0 0h0m-0.5 12h0m0 0h0m0 2.5h0m0 16h0m0.5 4h0m0 7.5h0m0 43.5h0m-0.5 0h0m0 0h0m1-87h0m0.5 7.5h0m-0.5 3.5h0m0 2h0m0 0h0m0 2h0m-0.5 0.5h0m0.5 1.5h0m-0.5 7.5h0m1 0.5h0m0 8.5h0m-0.5 2.5h0m0 5.5h0m-0.5 0h0m1 45h0m-0.5 0.5h0m-0.5 0h0m0 0h0m0 0h0m0 0h0m1-85h0m0.5 1h0m0.5 0.5h0m0 0h0m0 0h0m-0.5 7.5h0m-0.5 1h0m0.5 0.5h0m0.5 0h0m0 2h0m-0.5 2.5h0m0 1.5h0m0 3h0m0.5 1h0m-0.5 8h0m0.5 3.5h0m-0.5 0.5h0m0 1h0m0 4h0m0.5 0.5h0m-0.5 4h0m0 42.5h0m0 0h0m0 0.5h0m1-77h0m0 9h0m0 4h0m0 6h0m-0.5 3.5h0m0 4h0m0 2.5h0m0 0h0m0 5h0m0.5 42.5h0m0 0.5h0m1 0h0m0 0h0m-0.5 0h0m3-44.5h0m-0.5 1h0m0.5 43h0m0 0.5h0m0 0h0m0 0h0m0 0.5h0m-0.5 0h0m0 0h0m1.5-69h0m-0.5 1h0m0.5 13.5h0m0 0h0m0 4.5h0m-0.5 1.5h0m0 2.5h0m0.5 44.5h0m-0.5 0h0m0.5 0.5h0m0 0h0m-1 0h0m1 0h0m-0.5 0h0m-0.5 0.5h0m0 0h0m1.5-56h0m-0.5 1.5h0m0 6.5h0m0.5 47h0m0.5 0h0m0 0h0m0 0h0m-0.5 0h0m0.5 0h0m-0.5 0.5h0m-0.5 0h0m0 0h0m1.5-0.5h0m0 0h0m0 0h0m0 0h0m0 0h0m1 0h0m-0.5 0h0m1 0.5h0m0 0.5h0m-1 0h0m0.5 0h0m1-0.5h0m-0.5 0.5h0m0.5 0h0m0 0h0m0 0h0m1.5-114h0m0 35h0m0 17.5h0m-0.5 1.5h0m0 13h0m0.5 47h0m-0.5 0.5h0m0.5 0h0m0.5-115.5h0m-0.5 1.5h0m0.5 3h0m-0.5 6.5h0m0.5 5h0m0 0h0m0 5h0m0 3.5h0m-0.5 6.5h0m1 0.5h0m-0.5 7h0m0.5 1h0m0 1h0m-0.5 1h0m0 3.5h0m0.5 2h0m0 3.5h0m-0.5 0h0m0 2.5h0m0 2h0m0 0.5h0m0 2.5h0m0 1.5h0m0.5 1.5h0m-0.5 2.5h0m0 0h0m0 0.5h0m0 4h0m0 47h0m0 0h0m0 0h0m0.5 0h0m-0.5 0.5h0m-0.5 0h0m1.5-117.5h0m0 2.5h0m-0.5 23.5h0m1 1.5h0m0 2.5h0m-0.5 5h0m-0.5 1h0m0 6h0m0 2.5h0m1 6.5h0m-1 2h0m0.5 5h0m-0.5 59h0m1 0h0m-0.5 0h0m0 0h0m-0.5 0h0m0 0h0m1 0h0m0.5-112.5h0m0 3.5h0m0 9h0m-0.5 1.5h0m0.5 7h0m0 1h0m-0.5 20h0m0.5 70h0m0 0.5h0m0 0h0m0 0h0m0 0h0m-0.5 0h0m0 0h0m2-87h0m0 17.5h0m0 0.5h0m-0.5 68h0m0 0h0m0 0h0m0 0.5h0m0 0h0m0 0h0m0 0h0m-0.5 0h0m0.5 0.5h0m0.5 0h0m-1 0h0m1 0h0m0.5-87h0m-0.5 0.5h0m0 8h0m0.5 0.5h0m-0.5 2.5h0m0.5 2h0m0 16.5h0m0 4h0m-0.5 51.5h0m0.5 0.5h0m0 0.5h0m0.5 0h0m0 0h0m-0.5 0h0m0.5 0h0m0 0.5h0m-0.5 0h0m-0.5 0h0m1.5-55h0m0 2h0m0 5h0m0 47h0m0.5 0.5h0m-0.5 0h0m0 0h0m0.5 0h0m-0.5 0h0m-0.5 0.5h0m0 0h0m1.5-68.5h0m-0.5 19.5h0m0 48h0m0 0h0m0 0h0m0.5 0.5h0m0 0h0m0.5 0h0m-0.5 0h0m0 0h0m0 0h0m0.5-73h0m0.5 0.5h0m0 4.5h0m0 15h0m0.5 0h0m-0.5 4.5h0m0 0h0m0 48.5h0m-0.5 0.5h0m0 0h0m0 0h0m0.5 0h0m-0.5 0.5h0m1 0h0m-0.5 0h0m1-87.5h0m0 0.5h0m0 7.5h0m0.5 0.5h0m-0.5 3.5h0m0.5 0h0m-1 1h0m0 1h0m0 24h0m0.5 0.5h0m0 0h0m0 48h0m0.5 0.5h0m-0.5 0h0m0 0h0m-0.5 0.5h0m0.5 0h0m-0.5 0h0m0.5 0h0m1-83.5h0m0 1h0m-0.5 1.5h0m0 5h0m0 1h0m1 2h0m0 3.5h0m0 3h0m-0.5 0.5h0m0.5 0.5h0m0 0.5h0m0 3h0m0 3.5h0m-0.5 2h0m0.5 2.5h0m-0.5 0h0m0 0.5h0m-0.5 1h0m0 0h0m1 51.5h0m-0.5 0.5h0m0 0h0m-0.5 0h0m1 0h0m-0.5 0h0m-0.5 0h0m0.5 0h0m0.5 0h0m0 0h0m1-88.5h0m0 2h0m-0.5 1.5h0m0.5 0.5h0m0 2h0m0 4h0m-0.5 0.5h0m0 0.5h0m0 3h0m0.5 2.5h0m-0.5 6.5h0m0 0.5h0m0.5 0h0m0 3h0m-0.5 2.5h0m-0.5 3h0m1 0.5h0m0 2.5h0m0 3h0m-0.5 50.5h0m0 0h0m0 0h0m-0.5 0h0m0 0h0m1-86.5h0m0.5 2h0m0 6.5h0m-0.5 4h0m0 1.5h0m0 3.5h0m0 15h0m0.5 3h0m-0.5 51h0m0.5 0h0m-0.5 0h0m0.5 0h0m1.5 0h0m0 0h0m0 0h0m0.5 0h0m0 0h0m0 0h0m0 0h0m-0.5 0h0m0 0h0m0 0h0m0.5 0h0m0.5 0.5h0m0 0h0m1-0.5h0m-0.5 0h0m0 0h0m0.5 0h0m-0.5 0h0m0 0.5h0m0 0h0m0.5 0h0m-0.5 0h0m0.5 0h0m-0.5 0h0m-0.5 0h0m0.5 0.5h0m1.5-70.5h0m-0.5 1.5h0m0.5 4h0m0 4h0m-0.5 1h0m0.5 7h0m0 1.5h0m-1 50.5h0m0.5 0h0m-0.5 0h0m0.5 0.5h0m-0.5 0h0m0.5 0h0m0 0h0m-0.5 0h0m0.5 0h0m1-85.5h0m-0.5 0.5h0m0.5 1.5h0m0.5 1.5h0m-1 0h0m1 1.5h0m-0.5 4h0m0.5 12h0m-1 1.5h0m1 1.5h0m0 6.5h0m-0.5 2.5h0m0 0h0m0.5 51.5h0m-0.5 0.5h0m0 0h0m0 0h0m-0.5 0h0m0.5 0h0m-0.5 0.5h0m0.5 0h0m0 0h0m1.5-106h0m0 9h0m0 1.5h0m-0.5 8h0m0.5 1h0m-0.5 3h0m0 3h0m-0.5 1.5h0m1 2h0m-0.5 2.5h0m-0.5 1h0m0.5 0.5h0m-0.5 2h0m0.5 1h0m-0.5 9h0m0.5 1.5h0m-0.5 0h0m0.5 2h0m-0.5 57h0m0.5 0h0m-0.5 0h0m2-128h0m0 7h0m0 6.5h0m0 1.5h0m-0.5 0.5h0m0.5 3h0m-1 0.5h0m0 3h0m0.5 3.5h0m-0.5 1h0m0.5 1h0m0 0h0m0.5 1h0m-0.5 0.5h0m-0.5 2h0m0 0.5h0m0 1h0m0.5 0h0m-0.5 14.5h0m0 1.5h0m0 23.5h0m0.5 54.5h0m0 0.5h0m0 0h0m0 0h0m-0.5 0h0m0.5 0h0m1-126.5h0m0 7h0m0 2.5h0m0.5 1h0m-0.5 4h0m0 7h0m-0.5 3.5h0m1 0.5h0m-0.5 0.5h0m0 0h0m0.5 1.5h0m-0.5 2h0m0.5 4.5h0m-0.5 0h0m0 3h0m0 0.5h0m0 8h0m-0.5 1h0m1 4h0m-0.5 0.5h0m-0.5 74.5h0m0.5 0h0m0 1h0m1-119.5h0m0 0.5h0m-0.5 15h0m0.5 3h0m0 7h0m0 20.5h0m0 1h0m0 72h0m0.5 0h0m0 0h0m0 0h0m-1 0h0m0.5 0h0m0.5-59h0m0.5 58.5h0m-0.5 0h0m0 0h0m0.5 0h0m0.5 0.5h0m-1 0h0m0.5 0h0m0.5 0.5h0m0.5-1h0m0 0h0m0.5 0h0m-0.5 0.5h0m-0.5 0h0m0.5 0h0m0 0h0m0 0h0m0 0.5h0m-0.5 0h0m1 0h0m0 0h0m-0.5 0h0m0 0h0m0 0.5h0m0 0h0m0 0h0m1.5-63h0m0 5.5h0m-0.5 56.5h0m0 0h0m-0.5 0h0m0 0h0m0 0.5h0m0 0h0m1 0h0m-0.5 0.5h0m0 0h0m1-107.5h0m0.5 5.5h0m0 6h0m-0.5 15h0m0 1h0m0 6.5h0m-0.5 10h0m0.5 10.5h0m-0.5 0.5h0m1 1h0m-0.5 51.5h0m-0.5 0h0m1.5-113h0m-0.5 11h0m0 1h0m0 5.5h0m1 2.5h0m-1 1h0m0.5 2h0m0 1.5h0m0 4.5h0m0.5 7.5h0m-0.5 1h0m0.5 1h0m-0.5 12h0m0.5 4h0m-0.5 57.5h0m-0.5 0.5h0m1 0h0m-0.5 0.5h0m0 0h0m0 0h0m0.5 0h0m-0.5 0h0m0.5 0h0m0.5-91h0m0 6h0m-0.5 6h0m0.5 29.5h0m-0.5 49h0m0.5 0h0m-0.5 0h0m1 0h0m-0.5 0h0m-0.5 0h0m1 0.5h0m0 0h0m0.5-117h0m0 5h0m0 6h0m0 2.5h0m0.5 18h0m-0.5 1.5h0m0 0h0m0 1h0m-0.5 22.5h0m0.5 59h0m0.5 0h0m-1 0h0m0 0h0m0 1h0m0.5 0.5h0m0 0h0m1-116.5h0m0.5 3.5h0m-0.5 6h0m-0.5 2h0m0.5 8h0m0 2h0m0 4h0m0.5 2h0m-0.5 2h0m0 32.5h0m0 53h0m0 0h0m0.5 0.5h0m-0.5 0h0m1.5-107h0m-0.5 6.5h0m0 3h0m0.5 2.5h0m-0.5 2.5h0m0.5 3h0m-0.5 2.5h0m0 0.5h0m0.5 0.5h0m-0.5 7.5h0m0 2.5h0m0.5 1.5h0m-1 0h0m1 17h0m-0.5 4h0m-0.5 52.5h0m1 0.5h0m-0.5 0h0m0 0h0m0 0h0m0 0h0m-0.5 0h0m1 0.5h0m-0.5 0h0m-0.5 0h0m0.5 0h0m0 0h0m0 0h0m0.5 0h0m-0.5 0h0m0.5-119.5h0m0 9.5h0m0 1.5h0m0.5 2h0m-0.5 1.5h0m0.5 0.5h0m-0.5 1h0m0.5 34h0m0.5 3h0m0 4h0m-0.5 3.5h0m0 1h0m-0.5 2h0m0.5 0h0m0 0.5h0m0 7h0m0.5 1h0m0 47h0m-0.5 0h0m0.5 0h0m-1 0h0m0.5 0.5h0m-0.5 0h0m0 0h0m1-72.5h0m0 10.5h0m0 0.5h0m0.5 6.5h0m0 3h0m0 51.5h0m0 0h0m0 0h0m0.5 0h0m-0.5 0h0m-0.5 0.5h0m0 0h0m0.5 0h0m1.5-1h0m0 0h0m0 0h0m-1 0h0m0 0.5h0m0.5 0h0m0 0h0m0 0h0m0.5 0.5h0m-0.5 0h0m0.5 0h0m0 0h0m-0.5 0.5h0m1.5-104.5h0m0 6.5h0m0 14.5h0m-0.5 9h0m0 14.5h0m0.5 6.5h0m-0.5 0.5h0m0.5 51h0m-1 0h0m0.5 0.5h0m0.5 0h0m-0.5 0h0m-0.5 0h0m1 0h0m-0.5 0h0m0 1h0m0 0h0m0 0h0m1.5-105h0m-1 2.5h0m0 11h0m0 1h0m0 2h0m0 3h0m0.5 1h0m-0.5 6.5h0m0.5 6h0m0 6h0m0 1.5h0m-0.5 1.5h0m1 3.5h0m0 6h0m-0.5 52h0m-0.5 1h0m0.5 0h0m-0.5 0h0m2-103.5h0m0 10h0m0 0.5h0m-1 6h0m0.5 8h0m-0.5 4.5h0m0.5 4.5h0m0.5 12.5h0m-1 5.5h0m1 51h0m0.5-86h0m0 18.5h0m-0.5 1h0m0.5 12.5h0m0 54h0m0 0h0m0.5 0h0m-0.5 0h0m0.5 0.5h0m0 0h0m0 0h0m0 0h0m0 0h0m0 0h0m-0.5 0.5h0m1.5-169.5h0m0 5.5h0m-0.5 3.5h0m0 4h0m0.5 2h0m0 7h0m0 3h0m-0.5 13h0m0.5 8.5h0m0 18.5h0m-0.5 17.5h0m0 16.5h0m-0.5 70h0m0 0h0m0.5 0h0m0 0h0m-0.5 0h0m0.5 0.5h0m0 0h0m1-186h0m0 23.5h0m0.5 3.5h0m-0.5 7h0m0.5 3.5h0m-0.5 16h0m0 4.5h0m0 2.5h0m0 2.5h0m-0.5 8h0m0 1h0m0.5 1h0m0.5 9h0m-0.5 1h0m0 10h0m0 1h0m0 19h0m0 0h0m0 4.5h0m-0.5 0.5h0m0.5 1h0m0 66.5h0m0.5 0.5h0m-1 0h0m0 0h0m1 0h0m0.5-200.5h0m0 7h0m0 8h0m0.5 2h0m-0.5 8h0m0 9h0m0.5 2h0m-1 1h0m1 1h0m0 2h0m-0.5 18h0m0 3h0m0 0.5h0m-0.5 2h0m0 16.5h0m0.5 2.5h0m0 4.5h0m-0.5 2h0m0 5.5h0m0.5 4h0m0.5 2.5h0m-1 2h0m0.5 7h0m0 9.5h0m-0.5 3h0m1 1h0m-1 77h0m1 0.5h0m0 0h0m0.5-170h0m-0.5 0.5h0m0 2h0m0 11.5h0m0 19.5h0m0.5 10h0m0 25.5h0m0 11.5h0m-0.5 1.5h0m0.5 2.5h0m-0.5 9h0m0 76h0m0.5 0.5h0m0.5 0.5h0m-0.5 0h0m0 0h0m0 0h0m0 0.5h0m0.5 0h0m0 0h0m-0.5 0h0m0 0h0m1-0.5h0m-0.5 0h0m0.5 0.5h0m-0.5 0h0m0.5 0h0m0 0h0m-0.5 0h0m1.5-69h0m0 0.5h0m0.5 67h0m0 0h0m-0.5 0h0m-0.5 0.5h0m2-82.5h0m-0.5 6.5h0m0.5 1h0m-1 4.5h0m0 70h0m0.5 0h0m0 0h0m0.5 0h0m0.5-106h0m0.5 6.5h0m-0.5 14h0m0.5 5.5h0m-0.5 0.5h0m0.5 1h0m-0.5 0.5h0m0 0.5h0m-0.5 0.5h0m0.5 0h0m-0.5 1h0m0 2.5h0m0 0h0m0.5 73h0m0.5 0h0m0 0.5h0m0.5-167.5h0m0.5 7.5h0m-0.5 12.5h0m0.5 4h0m0 4h0m-0.5 4h0m0 10h0m0 6.5h0m0 8.5h0m0 1h0m0.5 2h0m-1 1.5h0m1 0.5h0m0 3h0m-0.5 3h0m0.5 0h0m0 1h0m-1 1.5h0m0.5 1h0m0 1.5h0m0.5 2.5h0m-0.5 22.5h0m-0.5 69h0m0 0.5h0m0.5 0h0m1-163.5h0m0.5 7.5h0m0 0.5h0m0 10h0m-0.5 14.5h0m0.5 4h0m-0.5 9.5h0m0.5 8.5h0m-1 10h0m1 0h0m-1 0.5h0m0.5 6h0m-0.5 5.5h0m0 1h0m1 0h0m-0.5 9h0m0 7.5h0m0 69.5h0m0 0.5h0m1-156.5h0m0 3.5h0m0 6.5h0m0 18.5h0m0 5h0m0 8h0m0 1.5h0m0 3h0m0 5h0m0 1.5h0m0.5 3h0m-1 7.5h0m1 0h0m-0.5 1h0m0 4h0m0.5 2h0m0 7h0m0 4.5h0m-1 2h0m0 0h0m0 2.5h0m0.5 3h0m0 1.5h0m0 65h0m0 0.5h0m-0.5 0.5h0m0 0h0m0.5 0h0m0.5 0h0m0 0h0m-0.5 0h0m0.5 0h0m0-160h0m0 9.5h0m0.5 1.5h0m-0.5 11h0m0.5 2h0m0 15h0m0 21.5h0m-0.5 12.5h0m0.5 13h0m0 73.5h0m0 0h0m0 0h0m0 0.5h0m0 0h0m0 0h0m0 0h0m0.5 0.5h0m0 0h0m-0.5 0h0m1-0.5h0m0 0h0m0 0.5h0m-0.5 0h0m0 0h0m0 0h0m0.5 0.5h0m0 0h0m0 0h0m0.5 0h0m-0.5 0h0m0 0.5h0m1-1h0m-0.5 0.5h0m0.5 0h0m-0.5 0h0m0 0.5h0m1 0h0m-1 0h0m0 0h0m0.5 0h0m-0.5 0h0m0.5 0h0m0 0h0m0.5-86h0m0.5 0.5h0m-0.5 2.5h0m0 11h0m0 2h0m1 3h0m0 1h0m0 64.5h0m0 0h0m-0.5 1h0m0 0.5h0m-0.5 0h0m0.5 0h0m0 0h0m-0.5 0h0m1.5-87h0m0 6h0m0.5 0h0m-0.5 5h0m0 74h0m0.5 0h0m0 0.5h0m0 0h0m0 0h0m0 0h0m1-153.5h0m0 29h0m-0.5 2h0m0.5 12h0m0 11h0m-0.5 20.5h0m0.5 1h0m-0.5 5h0m0 3.5h0m-0.5 69h0m0.5 0h0m0 0h0m0 0.5h0m-0.5 0h0m0.5 0h0m0 0h0m1-178.5h0m-0.5 1.5h0m0 2h0m0.5 12h0m-0.5 11h0m0.5 10.5h0m0.5 8h0m-0.5 1h0m0 7h0m0 2.5h0m0 3.5h0m0 3.5h0m0 7.5h0m0 1h0m-0.5 2h0m0.5 15.5h0m0 2.5h0m0 0.5h0m0 1h0m-0.5 21.5h0m0 1.5h0m1 0.5h0m-1 62h0m0 0h0m0.5 0h0m0 0h0m0.5 0.5h0m0 0h0m-0.5 0h0m0 0h0m1-171.5h0m0 8.5h0m0 1.5h0m0.5 3h0m0 14.5h0m-1 8h0m1 3h0m-0.5 0.5h0m0 7h0m0.5 24h0m-1 3h0m0.5 5h0m0 14h0m0.5 13h0m-0.5 4h0m0 62h0m-0.5 0h0m0.5 0.5h0m-0.5 0h0m1-158.5h0m0.5 2.5h0m0 8h0m-0.5 1h0m0.5 6h0m0 5.5h0m0 30.5h0m-0.5 29.5h0m0.5 0.5h0m-0.5 74.5h0m0.5 0.5h0m0.5 0h0m0 0h0m0 0.5h0m0 0h0m-0.5 0h0m0 0h0m0.5 0h0m0.5-0.5h0m0 0.5h0m0.5 0.5h0m-0.5 0h0m0 0h0m0 0h0m0.5 0h0m0.5-114.5h0m0 1.5h0m0 10.5h0m0 6.5h0m0.5 8h0m-0.5 1.5h0m0.5 5h0m0 6h0m-0.5 4.5h0m-0.5 2h0m1 1h0m0 0.5h0m-0.5 66h0m0 0.5h0m0 0.5h0m0.5 0h0m-0.5 0h0m0 0h0m-0.5 0h0m0.5 0h0m0 0h0m0 0h0m0 0.5h0m0 0h0m-0.5 0h0m0.5 0h0m1-136.5h0m0.5 2.5h0m-0.5 6.5h0m0.5 0.5h0m-0.5 1h0m0 1h0m-0.5 2.5h0m0 6h0m0.5 4h0m0.5 0.5h0m-0.5 2.5h0m0.5 5.5h0m-0.5 2h0m0 2.5h0m0 11.5h0m0 16h0m0.5 7.5h0m-0.5 32.5h0m-0.5 1.5h0m0.5 2h0m-0.5 27h0m0 1h0m0 0h0m0 0h0m1.5-136h0m0 1h0m0 3h0m0 1.5h0m0.5 6.5h0m0 13.5h0m-1 1.5h0m0.5 6.5h0m0 0.5h0m-0.5 2.5h0m0 0h0m1 4.5h0m-0.5 0h0m-0.5 5.5h0m0 10h0m0.5 2.5h0m0 4.5h0m0 5h0m-0.5 37h0m1 29.5h0m-1 0h0m1 0h0m0 0h0m-0.5 0h0m-0.5 0h0m0 0.5h0m0.5 0h0m-0.5 0h0m0.5 0h0m1-142.5h0m-0.5 1h0m0.5 6.5h0m0 5.5h0m-0.5 1h0m0.5 2.5h0m0 9.5h0m0 1h0m0.5 0.5h0m-0.5 3.5h0m0 2.5h0m0 28h0m0 55h0m0 0h0m0 25.5h0m-0.5 0h0m0.5 0h0m0 0.5h0m0 0h0m0.5-126.5h0m0 0.5h0m0.5 7h0m-0.5 0.5h0m0 2.5h0m0 2.5h0m0 12h0m1 3.5h0m-0.5 15.5h0m0 4h0m0 0h0m0.5 7.5h0m0 40h0m-1 30.5h0m0.5 0h0m0.5-91.5h0m0.5 4.5h0m0 19h0m0 1h0m-0.5 0.5h0m1 19h0m0 47.5h0m-0.5 0h0m1-51h0m0 26h0m0.5 0h0m0 25h0m-1 0h0m0 0h0m0.5 0h0m-0.5 0h0m0.5 0h0m0 0h0m0.5 0.5h0m0 0h0m-0.5 0h0m1-173h0m0 11.5h0m0.5 2h0m0 4h0m-0.5 14.5h0m0 1h0m0.5 13h0m-0.5 8h0m0 5h0m0 18.5h0m0 7.5h0m0 36h0m0 5h0m0 20h0m0 1.5h0m0 25h0m0 0h0m-0.5 0.5h0m1.5-258h0m0 7h0m-0.5 12h0m0.5 3h0m0.5 1h0m0 3.5h0m-0.5 3h0m0 2.5h0m0.5 0.5h0m-0.5 1h0m0 8.5h0m0 8h0m0 11.5h0m-0.5 13.5h0m0.5 37.5h0m0 5h0m0.5 1h0m-1 4.5h0m0.5 6h0m0 1h0m-0.5 3h0m0.5 5.5h0m0.5 7h0m-1 4h0m0.5 24.5h0m0 7h0m0 0.5h0m-0.5 24.5h0m0.5 5h0m0 1h0m0 15.5h0m-0.5 0h0m0.5 30h0m1-236h0m0.5 1.5h0m-1 15h0m1 9h0m-0.5 1h0m0 7.5h0m-0.5 1.5h0m1 0.5h0m-1 5.5h0m0.5 15.5h0m0 6h0m-0.5 6.5h0m1 0.5h0m0 15.5h0m0 3.5h0m-1 13h0m1 5h0m-0.5 3.5h0m0.5 3h0m-1 7.5h0m0.5 0h0m-0.5 7.5h0m0.5 7.5h0m-0.5 2h0m0.5 9h0m-0.5 10h0m1 2.5h0m-0.5 14.5h0m0.5 12h0m-1 49.5h0m0 0.5h0m0 0h0m0 0h0m1 0h0m-0.5 0.5h0m0 0.5h0m0.5-219.5h0m0 13h0m0.5 25.5h0m0 17h0m-0.5 4h0m0 31.5h0m0 25.5h0m0 20.5h0m1 0h0m-0.5 21.5h0m0 11.5h0m0 48.5h0m0.5 0h0m-1 1h0m1.5-194h0m0.5 4h0m0 7.5h0m0 17.5h0m0 11.5h0m-0.5 7.5h0m0 11h0m0.5 6.5h0m-0.5 20h0m0 9h0m0 5h0m0.5 10h0m-1 19.5h0m0 63.5h0m1 0.5h0m-1 0h0m0 0h0m2-198.5h0m-0.5 0h0m-0.5 11h0m0.5 4.5h0m-0.5 1.5h0m0 2.5h0m0.5 11.5h0m-0.5 5h0m0.5 8h0m0.5 11.5h0m-0.5 3h0m0.5 16h0m0 5.5h0m-0.5 5h0m0 6h0m-0.5 7h0m1 1.5h0m-0.5 1h0m0 4h0m0 8h0m0 1h0m0 20h0m0.5 64.5h0m-0.5 0.5h0m-0.5 0h0m0.5 0h0m0.5 0h0m0-203h0m0.5 21.5h0m0 3h0m0 0.5h0m0 0.5h0m0 4h0m0 7h0m0 10.5h0m0.5 1.5h0m-0.5 9h0m-0.5 5.5h0m0.5 2h0m0.5 2h0m-0.5 1h0m-0.5 3.5h0m0 8h0m0.5 10h0m0.5 4h0m-0.5 2h0m-0.5 6.5h0m0 2h0m0.5 2h0m0 1.5h0m0.5 0h0m-0.5 3.5h0m0 27.5h0m0.5 64.5h0m-1 0h0m0.5 0h0m-0.5 0.5h0m1.5-177h0m0 16h0m0 10.5h0m-0.5 0h0m0 27.5h0m0.5 8h0m0 9.5h0m0 4.5h0m0 1h0m0 11h0m0 27h0m0 0h0m0.5 1h0m-0.5 1h0m0.5 1h0m-1 1h0m1 0.5h0m-1 56h0m0.5 0h0m-0.5 0.5h0m0 0.5h0m2-61h0m-0.5 0h0m0 6h0m0 54.5h0m-0.5 0h0m0 0h0m1 0h0m0 0.5h0m-0.5 0h0m0 0h0m1.5-88.5h0m0 87.5h0m-0.5 0h0m0 0h0m0 0.5h0m0.5 0h0m-0.5 0h0m0 0h0m0 0h0m-0.5 0h0m0 0h0m2-110.5h0m0 2.5h0m-0.5 1h0m0 13.5h0m0.5 4.5h0m-1 4.5h0m1 2h0m-0.5 22h0m0.5 60h0m-0.5 0.5h0m-0.5 0h0m0.5 0h0m0 0h0m0.5 0h0m0.5-127h0m-0.5 8.5h0m0.5 8.5h0m0 4h0m0 1h0m0 4h0m0.5 44.5h0m-0.5 1h0m0.5 9h0m-0.5 46h0m-0.5 0h0m0.5 0.5h0m-0.5 0h0m0 0h0m1 0.5h0m-0.5 0h0m0.5 0h0m-0.5 0.5h0m0 0h0m0.5 0h0m0.5-114.5h0m0 22h0m0.5 3h0m0 0h0m-0.5 10h0m0 19h0m-0.5 0h0m0.5 2.5h0m-0.5 57.5h0m0.5 0h0m0.5 0.5h0m-1 0h0m0.5 0h0m0 0h0m0 0h0m-0.5 0h0m1.5-115.5h0m-0.5 0h0m1 4h0m0 3h0m-0.5 15.5h0m0 2h0m0 10.5h0m0 0.5h0m-0.5 3.5h0m0.5 2.5h0m0.5 5h0m-0.5 1.5h0m0 16h0m0 5h0m-0.5 0h0m0 46h0m0.5 0.5h0m-0.5 0h0m0.5 0h0m-0.5 0h0m0.5 0.5h0m0.5 0h0m0-114.5h0m0 3h0m0.5 2h0m0.5 0.5h0m-0.5 0.5h0m0 2h0m0.5 7.5h0m-0.5 3.5h0m0 6.5h0m0.5 1h0m-0.5 0.5h0m-0.5 1.5h0m0.5 0.5h0m0 1h0m0 3h0m0 4.5h0m0 1h0m0 0.5h0m0 0.5h0m-0.5 2h0m1 26.5h0m-1 0.5h0m0 45.5h0m0.5 0h0m0 0.5h0m0.5 0h0m-0.5 0h0m0 0h0m-0.5 0h0m1.5-113.5h0m0 9h0m0 2.5h0m-0.5 1h0m0.5 0h0m0 12h0m0 1.5h0m0 14.5h0m-0.5 5h0m0.5 68h0m0 0h0m0 0h0m0.5 0h0m-0.5 0h0m0 0h0m0 0h0m0 0h0m0.5 0h0m0.5-51h0m-0.5 4.5h0m0 0h0m0.5 46h0m0.5 0h0m-1 0.5h0m0 0h0m0.5 0h0m-0.5 0h0m2-1.5h0m0 0.5h0m0 0h0m0 0h0m0 0h0m-0.5 0h0m0.5 0.5h0m-0.5 0h0m0 0h0m0 0h0m0 0h0m-0.5 0h0m2-67.5h0m-0.5 1.5h0m-0.5 5h0m0.5 60.5h0m0 0h0m0 0h0m-0.5 0h0m0.5 0h0m0.5-72h0m0.5 3.5h0m0 1.5h0m0 2.5h0m0 64.5h0m0 0h0m0 0.5h0m0 0h0m0.5 0h0m0 0h0m-0.5 0.5h0m0 0h0m0.5 0h0m0 0h0m0.5-60h0m-0.5 59h0m0.5 0h0m0 0h0m0 0h0m0 0.5h0m0 0h0m0 0h0m0.5 0.5h0m-0.5 0h0m0 0h0m0 0h0m0 0h0m1-42h0m0 2h0m0 40h0m0 0h0m0.5 0h0m-0.5 0h0m0 0h0m0 0h0m0.5 0h0m-0.5 0.5h0m1.5-182h0m-0.5 2.5h0m0 30h0m0.5 14.5h0m0 20h0m-0.5 12.5h0m0.5 3h0m-0.5 8.5h0m0 1h0m0.5 5.5h0m0 8.5h0m-0.5 9h0m0.5 0h0m-0.5 6.5h0m0 15h0m0 5h0m0 16h0m0 0.5h0m0 23.5h0m-0.5 0h0m0 0h0m0 0h0m0 0.5h0m0.5 0h0m0 0h0m1.5-193h0m-0.5 1.5h0m0.5 1h0m-1 1h0m0.5 11h0m0.5 30h0m-1 5.5h0m0.5 0.5h0m0 7h0m-0.5 0.5h0m0.5 0.5h0m-0.5 1h0m1 4.5h0m-0.5 6.5h0m0 12.5h0m0 14h0m0 9h0m0 10.5h0m0 4h0m0 11.5h0m0 21.5h0m0 38.5h0m0 0.5h0m0.5 0h0m-1 0.5h0m0.5 0h0m0 0h0m0 0h0m0.5-197h0m0 0.5h0m1 22h0m-1 2h0m0.5 4.5h0m-0.5 0h0m1 5h0m-1 5h0m0.5 10h0m0.5 3h0m0 0.5h0m-0.5 0h0m-0.5 4.5h0m1 3.5h0m-0.5 0h0m0 1h0m0 20.5h0m0 1h0m-0.5 8.5h0m0.5 5h0m0.5 6h0m0 2.5h0m-0.5 2.5h0m0 1h0m0 0.5h0m0 1.5h0m-0.5 1.5h0m0.5 5h0m-0.5 12.5h0m0.5 27.5h0m0 0.5h0m0.5 12h0m0 5h0m-1 21h0m0.5 0h0m-0.5 1h0m1.5-194h0m-0.5 0.5h0m0 13h0m0 1h0m0.5 2h0m0.5 0.5h0m-0.5 4h0m0.5 33.5h0m0 11h0m-1 6h0m0.5 15.5h0m-0.5 5h0m0.5 4.5h0m0.5 0h0m-0.5 17.5h0m0 12h0m-0.5 2h0m1 21.5h0m-0.5 1h0m0 16h0m-0.5 1.5h0m0 25.5h0m0.5 0h0m0 0h0m-0.5 0h0m0 0h0m0 0.5h0m0 0h0m1.5-167h0m0 15.5h0m-0.5 27.5h0m0.5 19h0m-0.5 8.5h0m0.5 2h0m-0.5 13h0m0 9h0m1 2h0m0 2.5h0m0 0.5h0m0 0.5h0m-0.5 0h0m0 0.5h0m-0.5 1h0m1 24.5h0m-0.5 1h0m-0.5 39h0m0.5 0h0m0 0.5h0m0 0h0m0.5-68h0m0 5.5h0m0.5 0h0m-0.5 1.5h0m0.5 19h0m0 15.5h0m0.5 4.5h0m0 0.5h0m0 21h0m-1 0h0m1 0h0m-0.5 0.5h0m0 0h0m0.5 0h0m-1 0h0m0.5 0h0m1-147h0m0 12.5h0m0.5 17h0m0 16.5h0m0 78h0m-1 0.5h0m0 22.5h0m1 0h0m-0.5 0h0m-0.5 0h0m1 0.5h0m-0.5 0h0m1.5-146h0m-0.5 2.5h0m-0.5 10h0m0.5 3h0m-0.5 4h0m0 2h0m0.5 1.5h0m0.5 12h0m0 4.5h0m-0.5 1.5h0m-0.5 3h0m1 2.5h0m-0.5 3h0m0.5 8h0m-1 0.5h0m0.5 3.5h0m0 0.5h0m-0.5 83.5h0m1 0.5h0m-1 0h0m0.5 0h0m0 0h0m0 0h0m0 0.5h0m1.5-151h0m-0.5 6h0m0 6h0m-0.5 15h0m0.5 3h0m0.5 17h0m-0.5 0.5h0m-0.5 8.5h0m0 4h0m0 1.5h0m1 8.5h0m-0.5 0h0m0 26.5h0m0 53.5h0m-0.5 0.5h0m1.5-153h0m0 11h0m-0.5 3h0m0 4.5h0m0.5 10.5h0m-0.5 12.5h0m0.5 12.5h0m-0.5 1h0m0.5 0h0m0.5 39.5h0m0 0h0m-0.5 0h0m0 0.5h0m0.5 57.5h0m0 0h0m-0.5 0h0m-0.5 0.5h0m0.5 0h0m0 0h0m1.5-86.5h0m-0.5 9h0m0 0h0m0 1h0m-0.5 23.5h0m1 52h0m-0.5 0h0m-0.5 0.5h0m0 0h0m1 0h0m-0.5 0.5h0m0.5 0h0m0 0h0m0.5-94.5h0m0.5 5h0m-0.5 3h0m0.5 4h0m0 29h0m-0.5 52.5h0m0 0h0m0 1h0m0 0h0m0 0h0m0 0h0m-0.5 0h0m1-108h0m0.5 6.5h0m-0.5 7h0m0.5 9.5h0m0 26.5h0m0 5h0m0 52h0m0 0.5h0m1.5-89.5h0m-0.5 10.5h0m0 5h0m0 0h0m0 74h0m0 0h0m0.5 0.5h0m0 0h0m0.5-291.5h0m0.5 8h0m0 1.5h0m-0.5 33.5h0m0.5 1h0m-0.5 27.5h0m0 0h0m0.5 54.5h0m0 19h0m0 1.5h0m0 8.5h0m0 16h0m-0.5 6h0m0 8h0m0 6h0m-0.5 10.5h0m0 5h0m0.5 5h0m0 0.5h0m0.5 26.5h0m-1 52.5h0m0.5 0.5h0m0 0h0m0 0.5h0m0 0h0m1-319.5h0m0 6h0m0 6.5h0m0 1.5h0m-0.5 2.5h0m0.5 1.5h0m0 25.5h0m0 0.5h0m-0.5 6.5h0m0.5 2.5h0m0 19h0m0 10.5h0m0 15h0m0 8.5h0m-0.5 11h0m0 0.5h0m0 2h0m0 1.5h0m0.5 0.5h0m0 4h0m0 9.5h0m0.5 3.5h0m-0.5 0.5h0m-0.5 3h0m0.5 0.5h0m-0.5 9h0m0.5 10h0m0.5 12h0m0 13.5h0m-0.5 0h0m-0.5 8.5h0m0.5 4.5h0m-0.5 2h0m1 28h0m-1 7.5h0m0.5 1h0m0.5 2h0m0 0.5h0m-0.5 22.5h0m0.5 55h0m-0.5 1h0m-0.5 0h0m1 0.5h0m0-306.5h0m0.5 2.5h0m-0.5 2h0m0.5 8.5h0m0 12.5h0m-0.5 3h0m0.5 8h0m0 1h0m0.5 0h0m-1 1.5h0m1 14.5h0m-1 28.5h0m0.5 1.5h0m0 10h0m0 7h0m0.5 10h0m-0.5 46h0m0 7.5h0m0 9.5h0m-0.5 17.5h0m0.5 8h0m-0.5 7h0m0 3h0m0 7h0m0 12h0m0.5 78h0m0.5 0h0m-0.5 0.5h0m0.5 0h0m-0.5 0.5h0m0 0h0m0.5-290h0m0.5 42.5h0m-0.5 9h0m0 41h0m0.5 5.5h0m0 0.5h0m0 7.5h0m0 0h0m0 7h0m-0.5 3h0m0.5 7.5h0m0 9.5h0m-0.5 40.5h0m0 2.5h0m0.5 0.5h0m0.5 9.5h0m-0.5 7h0m0 54h0m-0.5 42h0m0.5 0.5h0m0 0.5h0m-0.5 0h0m0.5 0h0m0.5 0h0m-1 0h0m0.5 0h0m0.5 0h0m0.5-216.5h0m0.5 16h0m0 26.5h0m0 1.5h0m-0.5 15h0m0.5 0.5h0m-0.5 30h0m0 1h0m0.5 1.5h0m-0.5 9.5h0m0.5 1.5h0m-0.5 11h0m-0.5 0h0m0.5 0.5h0m0 5.5h0m0 9.5h0m-0.5 1h0m0.5 9h0m0.5 32.5h0m-0.5 4.5h0m0 38h0m-0.5 0h0m0 0h0m0.5 1.5h0m-0.5 0h0m0.5 0.5h0m-0.5 0h0m0.5 0h0m0 0h0m1-215.5h0m0 3h0m0 6.5h0m-0.5 10h0m1 27h0m0 20.5h0m-1 8h0m1 14.5h0m-1 5h0m0 1.5h0m1 0h0m-0.5 12.5h0m0 6h0m-0.5 4.5h0m0.5 0.5h0m-0.5 9h0m1 3.5h0m-1 7.5h0m0.5 8.5h0m-0.5 23h0m1 42h0m-1 0h0m0.5 0h0m0 0h0m-0.5 0.5h0m1-227h0m0.5 1h0m0 10h0m0 1h0m0 0.5h0m0.5 7.5h0m0 4h0m-1 7.5h0m0.5 1.5h0m-0.5 2h0m0.5 3.5h0m0.5 5.5h0m-0.5 1h0m0 4h0m0 0.5h0m0 13h0m0.5 1h0m0 8.5h0m-0.5 2.5h0m-0.5 2h0m1 3h0m0 1h0m-0.5 12h0m0 14h0m0 20h0m0 8h0m0 2h0m0 3h0m0 8h0m0 13h0m0 1h0m0.5 0.5h0m-0.5 64h0m-0.5 0h0m0 0h0m0.5 0.5h0m-0.5 0h0m1-212.5h0m0 69h0m0 3.5h0m0.5 4.5h0m-0.5 0h0m0.5 2.5h0m-0.5 1h0m0.5 3.5h0m0.5 2h0m-0.5 7h0m0 1h0m0 8.5h0m0.5 2h0m-0.5 7h0m-0.5 1.5h0m0 6.5h0m0 0.5h0m0 3h0m1 15h0m-1 5h0m1 6h0m-0.5 27h0m-0.5 0.5h0m0.5 35.5h0m0 0h0m0.5 0h0m0 0h0m-0.5 0h0m0.5-132h0m0 2.5h0m0.5 8h0m0 2.5h0m-0.5 8h0m0 2.5h0m0.5 2h0m-0.5 2h0m0 9h0m0.5 20h0m0.5 36h0m-0.5 4.5h0m0 35h0m-0.5 0h0m0.5 0h0m-0.5 0h0m1.5-38.5h0m0.5 1h0m-1 2h0m0.5 35.5h0m0 0h0m0.5 0h0m0 0h0m0.5-114.5h0m0 10h0m0.5 15h0m-0.5 3h0m0.5 6.5h0m0 8.5h0m0 3.5h0m0 4.5h0m-1 26.5h0m0.5 36.5h0m0.5 0h0m0 0.5h0m0 0h0m-0.5 0h0m0 0h0m-0.5 0h0m0.5 0h0m0 0h0m0 0h0m0 0h0m-0.5 0h0m0 0h0m0.5 0h0m1-110.5h0m0.5 7.5h0m0 0.5h0m0 1h0m0 0h0m-0.5 9h0m0 1h0m0.5 3.5h0m-0.5 4.5h0m0.5 2.5h0m-0.5 4h0m0.5 13.5h0m-1 63.5h0m0.5 0h0m0.5 0.5h0m0-97.5h0m0.5 0h0m-0.5 0.5h0m0.5 2h0m0.5 3h0m-0.5 9h0m-0.5 0.5h0m1 1.5h0m-0.5 2.5h0m0.5 2h0m-0.5 6h0m0 0.5h0m0 1h0m0 1.5h0m0.5 66.5h0m-0.5 0.5h0m-0.5 0h0m0 0h0m0.5 0.5h0m0.5-99.5h0m0 15h0m0 2.5h0m0 0h0m0.5 0.5h0m0 9h0m-0.5 4h0m0 4.5h0m0.5 1h0m0 0.5h0m0.5 17.5h0m0 44.5h0m0 0.5h0m-0.5 0h0m0 0h0m0.5 0h0m0 0h0m-0.5 0h0m0.5 0h0m0 0h0m-0.5 0h0m0.5 0h0m0.5-45h0m0 44h0m-0.5 0.5h0m0.5 0h0m-0.5 0.5h0m0 0h0m0.5 0h0m0.5 0h0m-0.5 0h0m0 0h0m0 0h0m0.5-61h0m1 2.5h0m-1 4.5h0m1 0.5h0m-0.5 8.5h0m-0.5 3h0m1 1h0m-0.5 40.5h0m0.5 0h0m-1 0h0m0.5 0.5h0m-0.5 0h0m0 0h0m0.5 0h0m-0.5 0h0m1-54h0m0.5 1h0m0 6.5h0m0.5 45h0m0 0h0m-0.5 0h0m0.5 0.5h0m-0.5 0h0m-0.5 0h0m1 0h0m-1 0h0m0.5 0h0m0 0h0m0.5 0h0m0 0h0m-1 0.5h0m0.5 0h0m0 0h0m0.5-1h0m1 0h0m-1 0h0m1 0.5h0m-0.5 0h0m0.5 0h0m-1 0h0m1.5-0.5h0m-0.5 0h0m1 0h0m0 0h0m0 0.5h0m-0.5 0h0m1-53h0m0.5 1h0m0 0h0m0 7h0m-0.5 3.5h0m0 41h0m0 0h0m0 0.5h0m0 0h0m0 0h0m0 0h0m0.5 0h0m1-107.5h0m0 0.5h0m-0.5 11.5h0m0.5 0h0m0 11h0m0 10h0m0 6h0m0 4h0m-0.5 9.5h0m0 1h0m-0.5 2h0m0 51.5h0m0 0h0m0.5 0h0m0 0.5h0m-0.5 0h0m0.5 0h0m0 0.5h0m0 0.5h0m0.5 0h0m0-107.5h0m1 0h0m-1 3h0m0.5 2h0m0.5 2h0m-1 1.5h0m1 1h0m0 2h0m-1 1h0m1 1h0m-0.5 12h0m0 1.5h0m0 3h0m0 9h0m-0.5 3h0m0.5 0h0m0.5 3.5h0m0 4h0m0 0.5h0m0 1h0m0 9h0m-1 3.5h0m0.5 43h0m-0.5 0.5h0m0 0h0m0.5 0.5h0m0 0h0m-0.5 0h0m0 0h0m0.5 0h0m1.5-109.5h0m-1 2.5h0m0.5 0h0m0 3h0m0 2.5h0m-0.5 4.5h0m0 2h0m0.5 0.5h0m-0.5 14h0m0.5 4h0m0 2.5h0m0.5 2h0m0 4h0m-0.5 5.5h0m-0.5 0.5h0m1 3.5h0m-1 6h0m0 5h0m0.5 46h0m0.5 0h0m-0.5 0.5h0m-0.5 0h0m0.5 0h0m0 0.5h0m1-106.5h0m0 0.5h0m-0.5 5.5h0m0 2h0m0.5 20h0m0 10h0m0 13.5h0m0 1.5h0m0 52.5h0m-0.5 0h0m0.5 0.5h0m0.5-1h0m0 0h0m0.5 0h0m0.5 0.5h0m-1 0h0m1 0h0m-1 0h0m1 0h0m-0.5 0h0m0.5 0h0m0 0h0m-1 0.5h0m0.5 0h0m0 0h0m1.5-39.5h0m-0.5 3.5h0m0 9.5h0m0.5 8h0m0 6h0m-0.5 3.5h0m0.5 1h0m0 0h0m0 1.5h0m0 1.5h0m0 2h0m-0.5 2.5h0m0 0h0m-0.5 0h0m0.5 0.5h0m0 0h0m0.5 0h0m0 0h0m0 0h0m-0.5 0h0m0 0.5h0m0 0h0m1.5-75.5h0m0 9.5h0m-0.5 0.5h0m0 5.5h0m0.5 11.5h0m-0.5 1.5h0m0 0h0m0 1.5h0m0.5 0.5h0m-0.5 1.5h0m0 1h0m-0.5 0.5h0m1 0.5h0m-1 0h0m0.5 3.5h0m0 2.5h0m-0.5 0h0m1 0.5h0m-1 2h0m0.5 3h0m0.5 7h0m-1 0h0m0.5 0.5h0m0 2.5h0m0 0.5h0m0.5 0h0m-0.5 2h0m-0.5 0h0m0.5 1.5h0m0 0h0m0 0h0m-0.5 0h0m0.5 1h0m0.5 4.5h0m-1 1.5h0m1 0h0m-1 2h0m0 0h0m0 0h0m0.5 0.5h0m0.5 1h0m-0.5 0h0m-0.5 0.5h0m0 0.5h0m0.5 1h0m-0.5 0.5h0m0 0h0m0 1h0m0.5 0h0m-0.5 0h0m1 0h0m-1 0.5h0m0.5 0.5h0m0 0h0m0 0h0m0 0.5h0m0.5 0h0m-1 0.5h0m1 0h0m-0.5 0h0m0 0.5h0m0.5 0.5h0m1-75.5h0m-0.5 2h0m0 0.5h0m0 0.5h0m0 1.5h0m0.5 2.5h0m-0.5 8.5h0m0 1.5h0m0 1.5h0m0 0.5h0m0.5 0.5h0m-1 1.5h0m1 3.5h0m-0.5 2.5h0m0 2.5h0m-0.5 2.5h0m0.5 0.5h0m0.5 6h0m-0.5 0h0m-0.5 0.5h0m0 1h0m1 3h0m0 0.5h0m-1 2.5h0m0.5 2h0m0 2h0m0.5 1.5h0m-1 0.5h0m0.5 1h0m0 1h0m0.5 0h0m-0.5 0.5h0m-0.5 3.5h0m1 1h0m-0.5 0h0m-0.5 0h0m0 1h0m0 1h0m0.5 0.5h0m0 0h0m0 0h0m0 2.5h0m0 1h0m0.5 0.5h0m-0.5 0h0m0 1.5h0m0 0.5h0m0 0.5h0m0.5 1h0m-0.5 1h0m0.5 0.5h0m-0.5 2h0m0.5 0h0m-0.5 0.5h0m0 0h0m0 0.5h0m0 0h0m0 0.5h0m0.5 0h0m-0.5 0h0m0.5 0.5h0m-1 0.5h0m0.5 0h0m0.5 0h0m0 0h0m-0.5 0h0m0 0.5h0m0 0h0m0 0h0m-0.5 0h0m0 0h0m1.5-64.5h0m0 1.5h0m0 1h0m0 5.5h0m0 8.5h0m0 2.5h0m0 1h0m-0.5 4.5h0m0 3.5h0m0 1.5h0m0 5.5h0m0.5 4.5h0m0 0h0m0 4.5h0m0 1.5h0m0 0.5h0m-0.5 4h0m0.5 0.5h0m-0.5 0.5h0m0 6h0m0.5 0.5h0m-0.5 1.5h0m0 1.5h0m0 2h0m0.5 0h0m0 0h0m-0.5 0.5h0m0 0h0m0 0h0m0 1h0m0.5 0h0" stroke="#1f77b4" stroke-width="5.6" stroke-linecap="round" fill="none"/><path d="M117 1016L118.2 1010.3 119.5 1005.9 120.8 993.3 122 998.3 123.2 993 124.5 999.3 125.8 1003.9 127 999.5 128.2 996.5 129.5 985.3 130.8 960.8 132 965.3 133.2 948.3 134.5 962.5 135.8 952.6 137 952.9 138.2 974.2 139.5 991.9 140.8 962.9 142 969.4 143.2 966.6 144.5 959.1 145.8 956.4 147 982.5 148.2 971 149.5 967 150.8 948.1 152 958.8 153.2 995.2 154.5 983.3 155.8 952.4 157 962.9 158.2 947.5 159.5 959.4 160.8 938.9 162 965 163.2 958.5 164.5 975.4 165.8 991.1 167 1009.2 168.2 1004.9 169.5 992.9 170.8 980.4 172 991.8 173.2 988.5 174.5 981.1 175.8 983.5 177 997.2 178.2 1001.3 179.5 1004.1 180.8 1015 182 1026.5 183.2 1026.4 184.5 1026.9 185.8 1026.8 187 1026.8 188.2 1027 189.5 1026.7 190.8 1026.6 192 1026.9 193.2 1026.8 194.5 1026.6 195.8 1026.1 197 1026.4 198.2 1026.6 199.5 1026.9 200.8 1027.1 202 1027 203.2 1027.1 204.5 1027.2 205.8 1026.6 207 1028 208.2 1027.5 209.5 1026.2 210.8 1026.6 212 1027.3 213.2 1026.7 214.5 1027 215.8 1026.3 217 1026.4 218.2 1025.7 219.5 1026.4 220.8 1025.8 222 1027.1 223.2 1027.2 224.5 1026.5 225.8 1026.5 227 1026.6 228.2 1026.7 229.5 1026.8 230.8 1026.5 232 1025.9 233.2 1026.6 234.5 1027.7 235.8 1026.1 237 1026.2 238.2 1026.2 239.5 1027.2 240.8 1027 242 1026.4 243.2 1026.7 244.5 1026.5 245.8 1025.3 247 1026.7 248.2 1026.9 249.5 1026.4 250.8 1026.8 252 1027 253.2 1025.5 254.5 1026.2 255.8 1025.6 257 1026.7 258.2 1026.4 259.5 1024.9 260.8 1026.9 262 1026.5 263.2 1025.7 264.5 1024.6 265.8 1026.1 267 1026.5 268.2 1027.4 269.5 1026.5 270.8 1025.7 272 1026.8 273.2 1025.4 274.5 1025.9 275.8 1025.8 277 1026.2 278.2 1025.6 279.5 1025.7 280.8 1026 282 1022.5 283.2 968.5 284.5 884.2 285.8 822.8 287 843.8 288.2 857.5 289.5 885.9 290.8 888.6 292 892.8 293.2 879.8 294.5 867.3 295.8 857.9 297 809.7 298.2 825 299.5 877.6 300.8 869.4 302 919.5 303.2 958.8 304.5 967 305.8 936.6 307 896.3 308.2 897.5 309.5 904.6 310.8 950.3 312 964.3 313.2 995.6 314.5 985.9 315.8 987.8 317 991.3 318.2 988.8 319.5 992.7 320.8 1004.6 322 976.1 323.2 929.6 324.5 939.3 325.8 914.1 327 903.4 328.2 945.5 329.5 989.5 330.8 974.8 332 967.3 333.2 956.5 334.5 974.6 335.8 965.2 337 960.3 338.2 963.4 339.5 934.6 340.8 960.6 342 964.8 343.2 934.3 344.5 940.3 345.8 995.4 347 1011.2 348.2 1008.7 349.5 1002.8 350.8 1004.8 352 978.3 353.2 993.1 354.5 971.1 355.8 961.1 357 971.3 358.2 971.8 359.5 972.5 360.8 972.7 362 970.6 363.2 938 364.5 947.9 365.8 932.4 367 944.7 368.2 948.6 369.5 931.1 370.8 953.3 372 990.6 373.2 975.5 374.5 992.8 375.8 1002.1 377 994.8 378.2 1008.6 379.5 1005.9 380.8 1005.4 382 1007 383.2 1010 384.5 1008.1 385.8 1004.7 387 994 388.2 994.1 389.5 991.2 390.8 972 392 986.7 393.2 989 394.5 996.1 395.8 1006.4 397 1002.7 398.2 991.8 399.5 968.6 400.8 938 402 955.1 403.2 961.7 404.5 946 405.8 958.8 407 950.6 408.2 975.8 409.5 958.9 410.8 986.2 412 975.7 413.2 973.5 414.5 971.3 415.8 951.3 417 957.2 418.2 960.7 419.5 1019.5 420.8 991 422 977.8 423.2 935.4 424.5 931.5 425.8 895.6 427 890.1 428.2 866.7 429.5 873.3 430.8 896 432 963.2 433.2 957.4 434.5 990.9 435.8 971.2 437 954.5 438.2 988.3 439.5 989.7 440.8 1003.4 442 998.2 443.2 994.3 444.5 998.9 445.8 972.6 447 986.7 448.2 966.8 449.5 1012.2 450.8 1010.4 452 1015.1 453.2 1013.1 454.5 1003.5 455.8 1002.2 457 994.7 458.2 1008.2 459.5 1008.9 460.8 1015.4 462 1016.9 463.2 1016.5 464.5 1017.3 465.8 1014 467 1016.5 468.2 1013 469.5 1011.8 470.8 1003.3 472 990.1 473.2 977.3 474.5 944.1 475.8 969.9 477 946.1 478.2 945.8 479.5 971.5 480.8 987.1 482 978.8 483.2 996.1 484.5 1006.8 485.8 1008.5 487 1004.6 488.2 1002.3 489.5 1003.5 490.8 1003.8 492 1010.9 493.2 1007.5 494.5 995.5 495.8 1000.7 497 987.4 498.2 993 499.5 987.8 500.8 990 502 995.3 503.2 995.8 504.5 1000.1 505.8 1007.1 507 999.2 508.2 993.8 509.5 998.7 510.8 998.3 512 988 513.2 955.8 514.5 970.2 515.8 943.9 517 922.5 518.2 931 519.5 926.7 520.8 960.9 522 956.3 523.2 947.9 524.5 964.2 525.8 976.1 527 992.4 528.2 978.1 529.5 959.3 530.8 926.9 532 952.7 533.2 959.4 534.5 975.9 535.8 970.6 537 980.8 538.2 921.1 539.5 840.7 540.8 811.3 542 886.1 543.2 899 544.5 967.5 545.8 986.3 547 997.4 548.2 1000 549.5 1003.2 550.8 986 552 1005 553.2 1005.4 554.5 991.6 555.8 995 557 977.4 558.2 953.8 559.5 986.2 560.8 946.4 562 932.4 563.2 935.1 564.5 900.8 565.8 900.9 567 870.7 568.2 861.3 569.5 844.5 570.8 864.2 572 852.1 573.2 869.7 574.5 878.3 575.8 871.6 577 886.7 578.2 918.8 579.5 936.6 580.8 981.6 582 965.4 583.2 978.7 584.5 991.9 585.8 995.9 587 998 588.2 1007.7 589.5 984.7 590.8 977.1 592 971.6 593.2 947.5 594.5 941.4 595.8 955.3 597 944.6 598.2 933.6 599.5 936 600.8 967.3 602 982.2 603.2 963.4 604.5 996.6 605.8 975.7 607 959.8 608.2 956.3 609.5 951.9 610.8 957.4 612 960.2 613.2 951.4 614.5 944.9 615.8 959.5 617 956.2 618.2 951.2 619.5 950.5 620.8 966.4 622 968 623.2 935.2 624.5 888.5 625.8 877.6 627 916.7 628.2 933.8 629.5 949.1 630.8 973.9 632 974.3 633.2 964.1 634.5 928.5 635.8 900.6 637 910.8 638.2 919.4 639.5 967.7 640.8 970.3 642 1000 643.2 974.4 644.5 965.9 645.8 939.1 647 888.6 648.2 911 649.5 916.9 650.8 937 652 967.8 653.2 999.2 654.5 1009.6 655.8 1013.2 657 1011 658.2 1010.8 659.5 1016.2 660.8 996.3 662 973 663.2 921.9 664.5 908.2 665.8 866.5 667 858.8 668.2 897.9 669.5 931.1 670.8 928.4 672 937.7 673.2 932.6 674.5 918.5 675.8 872.2 677 838.9 678.2 843.2 679.5 831.2 680.8 861.3 682 854 683.2 864.3 684.5 886.4 685.8 885.5 687 936.7 688.2 962 689.5 973.2 690.8 1010 692 1013.4 693.2 1015.7 694.5 1006.2 695.8 987.7 697 956.8 698.2 936.1 699.5 915.5 700.8 967.8 702 1005.8 703.2 1005.1 704.5 987.2 705.8 983.4 707 984.2 708.2 968.9 709.5 1000.7 710.8 990.8 712 999.6 713.2 1001.6 714.5 1003.1 715.8 988.7 717 973.6 718.2 986.8 719.5 966.7 720.8 968.5 722 983.2 723.2 996.8 724.5 987.5 725.8 995.9 727 993.1 728.2 996.7 729.5 959.3 730.8 949.8 732 946.7 733.2 929.3 734.5 936.5 735.8 923.5 737 913.7 738.2 922.3 739.5 907.9 740.8 903.1 742 895.9 743.2 887.2 744.5 897 745.8 934 747 951.8 748.2 933.8 749.5 896.4 750.8 866.6 752 881.8 753.2 915 754.5 876.8 755.8 899.3 757 930.5 758.2 940.6 759.5 939.9 760.8 962.4 762 961.1 763.2 980.8 764.5 997.2 765.8 990.4 767 1007.8 768.2 1016 769.5 1017.9 770.8 1022.5 772 1025.6 773.2 1026.1 774.5 1025.3 775.8 1025.6 777 1024.6 778.2 1025.7 779.5 1025.5 780.8 1025.9 782 1024.5 783.2 1024.3 784.5 1024.4 785.8 1024.7 787 1025 788.2 1024.4 789.5 1024.2 790.8 1023.9 792 1022.9 793.2 1023.4 794.5 1024.9 795.8 1023.2 797 1023.9 798.2 1022.8 799.5 1022.8 800.8 1023.8 802 1023 803.2 1023.1 804.5 1022.7 805.8 1021.8 807 1021.6 808.2 1022.5 809.5 1022.6 810.8 1022.5 812 1022.5 813.2 1019.1 814.5 1012 815.8 999.9 817 990.8 818.2 991 819.5 981.5 820.8 961.7 822 974.9 823.2 936.5 824.5 960.2 825.8 949.6 827 937.8 828.2 952.6 829.5 936.6 830.8 949.9 832 953.5 833.2 967.5 834.5 959.3 835.8 983.3 837 1000.4 838.2 987 839.5 970.2 840.8 969.1 842 973.5 843.2 979.2 844.5 979.6 845.8 959.1 847 984.3 848.2 960.8 849.5 992.6 850.8 1000.4 852 987.3 853.2 989.5 854.5 1000.2 855.8 998.4 857 1003.6 858.2 1006.5 859.5 1012.3 860.8 1010.4 862 1015 863.2 999.9 864.5 996.1 865.8 999.7 867 979 868.2 963.1 869.5 974.7 870.8 985.1 872 982.1 873.2 970.3 874.5 998.3 875.8 995.6 877 993.5 878.2 1006.5 879.5 1001.4 880.8 991.1 882 993 883.2 980.3 884.5 980.1 885.8 958.1 887 972.2 888.2 960 889.5 970.3 890.8 987.5 892 1008.2 893.2 977 894.5 994.3 895.8 983.1 897 985.2 898.2 962.7 899.5 964.2 900.8 968.7 902 958.9 903.2 978.6 904.5 958.3 905.8 986.3 907 984.8 908.2 987 909.5 986 910.8 1005.8 912 1005.2 913.2 999.7 914.5 994.4 915.8 979.8 917 988 918.2 972.9 919.5 984.2 920.8 963.1 922 967.1 923.2 981.4 924.5 992.7 925.8 1000.8 927 1002.5 928.2 998.1 929.5 991.7 930.8 967.6 932 962.9 933.2 932.3 934.5 932.3 935.8 959.6 937 971.4 938.2 993.5 939.5 1005.3 940.8 993.2 942 1005.1 943.2 967.3 944.5 987.3 945.8 950.7 947 1001.8 948.2 989 949.5 983.2 950.8 986 952 988.4 953.2 983.1 954.5 991.7 955.8 1000.9 957 999.8 958.2 998.2 959.5 1008.1 960.8 1012.1 962 1005.3 963.2 1002.3 964.5 994.9 965.8 995 967 985.3 968.2 992.4 969.5 951.8 970.8 970.8 972 974.4 973.2 944.2 974.5 983.6 975.8 999.3 977 984.7 978.2 1005.3 979.5 1002.3 980.8 1004.1 982 998.8 983.2 994.1 984.5 969.6 985.8 993 987 993.5 988.2 1008.5 989.5 993 990.8 972.6 992 964.8 993.2 961.5 994.5 978 995.8 1004.4 997 1011.2 998.2 1007.3 999.5 1004 1000.8 1002.2 1002 1005.7 1003.2 1010.9 1004.5 1010.6 1005.8 1013 1007 1017.4 1008.2 1018.3 1009.5 1018.8 1010.8 1020.5 1012 1016.1 1013.2 1013.9 1014.5 1014.9 1015.8 1011.6 1017 1013.1 1018.2 1014.9 1019.5 1012.8 1020.8 1016.7 1022 1014.8 1023.2 1016.2 1024.5 1016.9 1025.8 1017.9 1027 1021.4 1028.2 1023.3 1029.5 1025.4 1030.8 1025.6 1032 1025.4 1033.2 1024.7 1034.5 1025.9 1035.8 1025.1 1037 1025.2 1038.2 1024.8 1039.5 1024.5 1040.8 1025.5 1042 1023.9 1043.2 1023.7 1044.5 1022 1045.8 1022.6 1047 1020.4 1048.2 1022.2 1049.5 1023.5 1050.8 1024.9 1052 1025.7 1053.2 1027.1 1054.5 1022.8 1055.8 1021.7 1057 1021.9 1058.2 1022.2 1059.5 1022.7 1060.8 1021.9 1062 1021.6 1063.2 1022.5 1064.5 1021.7 1065.8 1020.8 1067 1019.7 1068.2 1017.9 1069.5 1019.9 1070.8 1023.1 1072 1025.9 1073.2 1026.2 1074.5 1026.7 1075.8 1027.7 1077 1027.8 1078.2 1027.2 1079.5 1028.4 1080.8 1027.8 1082 1026.9 1083.2 1026.5 1084.5 1026.8 1085.8 1025.5 1087 1026.6 1088.2 1026.3 1089.5 1027.3 1090.8 1027.2 1092 1026.4 1093.2 1028.2 1094.5 1027.8 1095.8 1028.8 1097 1029.5 1098.2 1028 1099.5 1028.2 1100.8 1025.8 1102 1024.3 1103.2 1023.6 1104.5 1023.4 1105.8 1021.7 1107 1020 1108.2 1021.3 1109.5 1021.8 1110.8 1021.3 1112 1022.5 1113.2 1023.6 1114.5 1022.6 1115.8 1023.1 1117 1023.1 1118.2 1023.3 1119.5 1023.6 1120.8 1021.1 1122 1021.8 1123.2 1019.7 1124.5 1012 1125.8 1012 1127 1015.9 1128.2 1021.5 1129.5 1022.1 1130.8 1022.2 1132 1024.2 1133.2 1023.4 1134.5 1024.5 1135.8 1024.7 1137 1024.5 1138.2 1024.7 1139.5 1024.7 1140.8 1023.1 1142 1023.6 1143.2 1023 1144.5 1022.7 1145.8 1021.3 1147 1020.8 1148.2 1021.8 1149.5 1022.6 1150.8 1024.5 1152 1023.8 1153.2 1022.2 1154.5 1019.8 1155.8 1018.3 1157 1016.7 1158.2 1012.9 1159.5 1013.2 1160.8 1008.1 1162 1012.6 1163.2 1012.5 1164.5 1014.1 1165.8 1017.6 1167 1020.3 1168.2 1020.2 1169.5 1021.7 1170.8 1022.8 1172 1023.8 1173.2 1023.2 1174.5 1024.3 1175.8 1024.6 1177 1019 1178.2 1014.3 1179.5 1005.4 1180.8 1005.8 1182 1010.7 1183.2 1018.1 1184.5 1018.3 1185.8 1012.7 1187 1004.8 1188.2 1007.1 1189.5 1010.6 1190.8 1015.1 1192 1020.8 1193.2 1021.2 1194.5 1021.5 1195.8 1022.9 1197 1023 1198.2 1022.1 1199.5 1023.2 1200.8 1019.9 1202 1016 1203.2 1010.8 1204.5 1003.4 1205.8 995.5 1207 981 1208.2 1006.7 1209.5 1014.7 1210.8 1024.2 1212 1022.4 1213.2 1021.6 1214.5 1021.7 1215.8 1021.1 1217 1021.1 1218.2 1021.9 1219.5 1021.7 1220.8 1020 1222 1020.6 1223.2 1020 1224.5 1019.1 1225.8 1018.3 1227 1016.7 1228.2 1015.9 1229.5 1010.7 1230.8 1013.1 1232 1012.8 1233.2 1013.7 1234.5 1017.7 1235.8 1018 1237 1020.5 1238.2 1019.1 1239.5 1018.2 1240.8 1017.1 1242 1016.3 1243.2 1014.7 1244.5 1010.4 1245.8 1011.7 1247 1011.5 1248.2 1010 1249.5 1011.7 1250.8 1004.6 1252 1009 1253.2 1001.4 1254.5 1001.7 1255.8 1002.6 1257 1006.3 1258.2 1006.8 1259.5 1009.8 1260.8 1009.7 1262 1010.4 1263.2 1004.2 1264.5 1007.8 1265.8 1004.1 1267 988.7 1268.2 987.8 1269.5 978.7 1270.8 984.6 1272 992.2 1273.2 996.2 1274.5 1008.5 1275.8 1005.6 1277 1007.6 1278.2 1006 1279.5 1006.9 1280.8 1005.3 1282 999.8 1283.2 1003.4 1284.5 1004 1285.8 995.1 1287 991.1 1288.2 999.6 1289.5 989.4 1290.8 993 1292 1011.6 1293.2 999.1 1294.5 994.5 1295.8 991.4 1297 991.5 1298.2 1004.6 1299.5 1006 1300.8 998.1 1302 1001.9 1303.2 997.7 1304.5 995.7 1305.8 982.8 1307 978.5 1308.2 954.9 1309.5 969.5 1310.8 970.9 1312 958.2 1313.2 969.6 1314.5 980.9 1315.8 983.6 1317 1002.8 1318.2 1004.2 1319.5 978.2 1320.8 977.2 1322 979.4 1323.2 994.3 1324.5 984.7 1325.8 989.6 1327 1007.5 1328.2 995.8 1329.5 1006.9 1330.8 982.7 1332 976.7 1333.2 968.3 1334.5 954.3 1335.8 964 1337 982.4 1338.2 991.9 1339.5 1003.7 1340.8 1002.2 1342 1006.9 1343.2 1001.6 1344.5 1010.8 1345.8 996.7 1347 980.1 1348.2 963.7 1349.5 1006.3 1350.8 991.2 1352 988.3 1353.2 990.4 1354.5 981.1 1355.8 972.1 1357 987.8 1358.2 986.2 1359.5 971.4 1360.8 988.7 1362 975.1 1363.2 986.3 1364.5 994.7 1365.8 995.2 1367 989.5 1368.2 972.6 1369.5 974.5 1370.8 945 1372 959.6 1373.2 942.9 1374.5 944.6 1375.8 954.5 1377 926.2 1378.2 925.8 1379.5 963.5 1380.8 980.1 1382 983.3 1383.2 956.9 1384.5 950.7 1385.8 934.9 1387 940 1388.2 939.8 1389.5 946.5 1390.8 956.5 1392 1007.2 1393.2 990 1394.5 991.4 1395.8 990.4 1397 970.1 1398.2 952.6 1399.5 935.5 1400.8 913.9 1402 906.9 1403.2 957.2 1404.5 971.2 1405.8 948.5 1407 941 1408.2 955.9 1409.5 994.2 1410.8 997.5 1412 999.2 1413.2 1005.8 1414.5 1005.2 1415.8 993.2 1417 989 1418.2 987.3 1419.5 980.4 1420.8 958 1422 947.4 1423.2 915.7 1424.5 939.4 1425.8 965.6 1427 955.4 1428.2 985.4 1429.5 956.8 1430.8 967.4 1432 938.8 1433.2 925.6 1434.5 880.7 1435.8 864 1437 904.5 1438.2 925.6 1439.5 939.9 1440.8 927.8 1442 938.1 1443.2 963.9 1444.5 980.8 1445.8 980.4 1447 989.8 1448.2 991.4 1449.5 995.7 1450.8 988.3 1452 993.6 1453.2 998 1454.5 988.2 1455.8 980.6 1457 996 1458.2 990.7 1459.5 990.6 1460.8 1002.7 1462 1005.2" stroke="#ff7f0e" stroke-width="2.2" fill="none" stroke-linejoin="round"/></g><rect x="116.5" y="38.5" width="1346" height="480" fill="none" stroke="#000" stroke-width="1.1"/><path d="M111.2 113.42H116.5M111.2 191.21H116.5M111.2 269.01H116.5M111.2 346.8H116.5M111.2 424.6H116.5M111.2 502.4H116.5M116.5 518.5v5.3M284.5 518.5v5.3M452.5 518.5v5.3M621.5 518.5v5.3M789.5 518.5v5.3M957.5 518.5v5.3M1125.5 518.5v5.3M1294.5 518.5v5.3" stroke="#000" stroke-width="1.1"/><text x="105.4" y="121.32" text-anchor="end" font-size="21.6">2</text><text x="105.4" y="199.11" text-anchor="end" font-size="21.6">1</text><text x="105.4" y="276.91" text-anchor="end" font-size="21.6">0</text><text x="105.4" y="354.7" text-anchor="end" font-size="21.6">−1</text><text x="105.4" y="432.5" text-anchor="end" font-size="21.6">−2</text><text x="105.4" y="510.3" text-anchor="end" font-size="21.6">−3</text><rect x="116.5" y="575.4" width="1346" height="479" fill="none" stroke="#000" stroke-width="1.1"/><path d="M111.2 1037.39H116.5M111.2 977.39H116.5M111.2 917.39H116.5M111.2 857.39H116.5M111.2 797.4H116.5M111.2 737.4H116.5M111.2 677.4H116.5M111.2 617.4H116.5M116.5 1054.4v5.3M284.5 1054.4v5.3M452.5 1054.4v5.3M621.5 1054.4v5.3M789.5 1054.4v5.3M957.5 1054.4v5.3M1125.5 1054.4v5.3M1294.5 1054.4v5.3" stroke="#000" stroke-width="1.1"/><text x="105.4" y="1045.29" text-anchor="end" font-size="21.6">0.00</text><text x="105.4" y="985.29" text-anchor="end" font-size="21.6">0.02</text><text x="105.4" y="925.29" text-anchor="end" font-size="21.6">0.04</text><text x="105.4" y="865.29" text-anchor="end" font-size="21.6">0.06</text><text x="105.4" y="805.3" text-anchor="end" font-size="21.6">0.08</text><text x="105.4" y="745.3" text-anchor="end" font-size="21.6">0.10</text><text x="105.4" y="685.3" text-anchor="end" font-size="21.6">0.12</text><text x="105.4" y="625.3" text-anchor="end" font-size="21.6">0.14</text><text x="784.3" y="30" text-anchor="middle" font-size="26.67">10.0 MHz N0000009</text><text x="115.5" y="30.2" font-size="26.4">(a)</text><text x="115.5" y="567.1" font-size="26.4">(b)</text><text transform="translate(61.5 278.5) rotate(-90)" text-anchor="middle" font-size="22.2">Doppler Shift [Hz]</text><text transform="translate(41.3 815) rotate(-90)" text-anchor="middle" font-size="22.2">Peak Voltage [V]</text><text x="788.5" y="1158.2" text-anchor="middle" font-size="22.2">UTC</text><text transform="translate(105.3 1063) rotate(-30)" text-anchor="end" dominant-baseline="hanging" font-size="22.6">10-18 00</text><text transform="translate(273.3 1063) rotate(-30)" text-anchor="end" dominant-baseline="hanging" font-size="22.6">10-18 03</text><text transform="translate(441.3 1063) rotate(-30)" text-anchor="end" dominant-baseline="hanging" font-size="22.6">10-18 06</text><text transform="translate(610.3 1063) rotate(-30)" text-anchor="end" dominant-baseline="hanging" font-size="22.6">10-18 09</text><text transform="translate(778.3 1063) rotate(-30)" text-anchor="end" dominant-baseline="hanging" font-size="22.6">10-18 12</text><text transform="translate(946.3 1063) rotate(-30)" text-anchor="end" dominant-baseline="hanging" font-size="22.6">10-18 15</text><text transform="translate(1114.3 1063) rotate(-30)" text-anchor="end" dominant-baseline="hanging" font-size="22.6">10-18 18</text><text transform="translate(1283.3 1063) rotate(-30)" text-anchor="end" dominant-baseline="hanging" font-size="22.6">10-18 21</text><rect x="1047.5" y="48.5" width="405.8" height="79.8" rx="4" ry="4" fill="#fff" fill-opacity="0.8" stroke="#cccccc" stroke-opacity="0.8" stroke-width="1.3"/><circle cx="1073" cy="62.9" r="2.8" fill="#1f77b4"/><path d="M1053 101.6H1092" stroke="#ff7f0e" stroke-width="2.2"/><text x="1105.6" y="68.9" font-size="18.6">Raw Data</text><text x="1105.6" y="95.9" font-size="18.6">Butterworth Filtered Data</text><text x="1105.6" y="116.8" font-size="18.6">(N=6, Tc=3.3333 min, Type: low)</text><rect x="1047.5" y="584.4" width="405.8" height="80.6" rx="4" ry="4" fill="#fff" fill-opacity="0.8" stroke="#cccccc" stroke-opacity="0.8" stroke-width="1.3"/><circle cx="1073" cy="598.8" r="2.8" fill="#1f77b4"/><path d="M1053 637.5H1092" stroke="#ff7f0e" stroke-width="2.2"/><text x="1105.6" y="604.8" font-size="18.6">Raw Data</text><text x="1105.6" y="631.8" font-size="18.6">Butterworth Filtered Data</text><text x="1105.6" y="652.7" font-size="18.6">(N=6, Tc=3.3333 min, Type: low)</text></svg></body></html>
